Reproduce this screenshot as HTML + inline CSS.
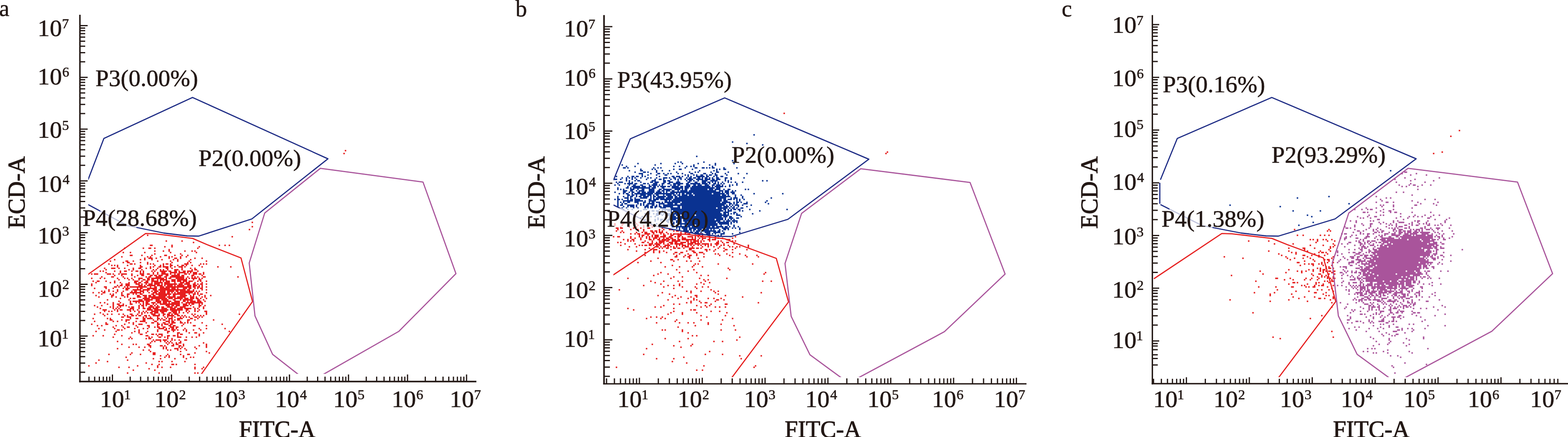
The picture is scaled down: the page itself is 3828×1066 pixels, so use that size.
<!DOCTYPE html>
<html><head><meta charset="utf-8"><style>
html,body{margin:0;padding:0;background:#fff;overflow:hidden}
svg{display:block}
text{font-family:"Liberation Serif","Times New Roman",serif;stroke:#231815;stroke-linejoin:round}
</style></head><body>
<svg width="3828" height="1066" viewBox="0 0 3828 1066">
<rect width="3828" height="1066" fill="#fff"/>
<text transform="translate(-1.96,39.30) scale(1.0000,1)" font-size="56" fill="#231815" stroke-width="0.7">a</text>
<text transform="translate(1258.40,39.50) scale(1.0000,1)" font-size="56" fill="#231815" stroke-width="0.7">b</text>
<text transform="translate(2591.97,39.50) scale(1.0000,1)" font-size="56" fill="#231815" stroke-width="0.7">c</text>
<rect x="193.30" y="36.00" width="3.60" height="896.60" fill="#231815"/>
<rect x="193.30" y="928.80" width="969.70" height="3.80" fill="#231815"/>
<path d="M195.9 908.0H208.0M195.9 885.8H208.0M195.9 870.0H208.0M195.9 857.8H208.0M195.9 847.8H208.0M195.9 839.3H208.0M195.9 832.0H208.0M195.9 825.6H208.0M195.9 819.8H214.0M195.9 781.8H208.0M195.9 759.6H208.0M195.9 743.8H208.0M195.9 731.6H208.0M195.9 721.6H208.0M195.9 713.1H208.0M195.9 705.8H208.0M195.9 699.4H208.0M195.9 693.6H214.0M195.9 655.6H208.0M195.9 633.4H208.0M195.9 617.6H208.0M195.9 605.4H208.0M195.9 595.4H208.0M195.9 586.9H208.0M195.9 579.6H208.0M195.9 573.2H208.0M195.9 567.4H214.0M195.9 529.4H208.0M195.9 507.2H208.0M195.9 491.4H208.0M195.9 479.2H208.0M195.9 469.2H208.0M195.9 460.7H208.0M195.9 453.4H208.0M195.9 447.0H208.0M195.9 441.2H214.0M195.9 403.2H208.0M195.9 381.0H208.0M195.9 365.2H208.0M195.9 353.0H208.0M195.9 343.0H208.0M195.9 334.5H208.0M195.9 327.2H208.0M195.9 320.8H208.0M195.9 315.0H214.0M195.9 277.0H208.0M195.9 254.8H208.0M195.9 239.0H208.0M195.9 226.8H208.0M195.9 216.8H208.0M195.9 208.3H208.0M195.9 201.0H208.0M195.9 194.6H208.0M195.9 188.8H214.0M195.9 150.8H208.0M195.9 128.6H208.0M195.9 112.8H208.0M195.9 100.6H208.0M195.9 90.6H208.0M195.9 82.1H208.0M195.9 74.8H208.0M195.9 68.4H208.0M195.9 62.6H214.0" stroke="#231815" stroke-width="3" fill="none"/>
<path d="M217.2 929.8V918.8M231.1 929.8V918.8M242.5 929.8V918.8M252.2 929.8V918.8M260.5 929.8V918.8M267.9 929.8V918.8M274.5 929.8V913.4M317.9 929.8V918.8M343.2 929.8V918.8M361.2 929.8V918.8M375.2 929.8V918.8M386.6 929.8V918.8M396.3 929.8V918.8M404.6 929.8V918.8M412.0 929.8V918.8M418.6 929.8V913.4M462.0 929.8V918.8M487.3 929.8V918.8M505.3 929.8V918.8M519.3 929.8V918.8M530.7 929.8V918.8M540.3 929.8V918.8M548.7 929.8V918.8M556.1 929.8V918.8M562.7 929.8V913.4M606.0 929.8V918.8M631.4 929.8V918.8M649.4 929.8V918.8M663.4 929.8V918.8M674.8 929.8V918.8M684.4 929.8V918.8M692.8 929.8V918.8M700.1 929.8V918.8M706.7 929.8V913.4M750.1 929.8V918.8M775.5 929.8V918.8M793.5 929.8V918.8M807.4 929.8V918.8M818.9 929.8V918.8M828.5 929.8V918.8M836.9 929.8V918.8M844.2 929.8V918.8M850.8 929.8V913.4M894.2 929.8V918.8M919.6 929.8V918.8M937.6 929.8V918.8M951.5 929.8V918.8M962.9 929.8V918.8M972.6 929.8V918.8M980.9 929.8V918.8M988.3 929.8V918.8M994.9 929.8V913.4M1038.3 929.8V918.8M1063.6 929.8V918.8M1081.6 929.8V918.8M1095.6 929.8V918.8M1107.0 929.8V918.8M1116.7 929.8V918.8M1125.0 929.8V918.8M1132.4 929.8V918.8M1139.0 929.8V913.4" stroke="#231815" stroke-width="3" fill="none"/>
<rect x="1472.60" y="36.80" width="4.00" height="901.10" fill="#231815"/>
<rect x="1472.60" y="934.70" width="1033.40" height="3.20" fill="#231815"/>
<path d="M1475.6 917.9H1489.0M1475.6 895.5H1489.0M1475.6 879.6H1489.0M1475.6 867.2H1489.0M1475.6 857.1H1489.0M1475.6 848.6H1489.0M1475.6 841.2H1489.0M1475.6 834.7H1489.0M1475.6 828.9H1495.0M1475.6 790.6H1489.0M1475.6 768.2H1489.0M1475.6 752.3H1489.0M1475.6 739.9H1489.0M1475.6 729.8H1489.0M1475.6 721.3H1489.0M1475.6 713.9H1489.0M1475.6 707.4H1489.0M1475.6 701.6H1495.0M1475.6 663.3H1489.0M1475.6 640.9H1489.0M1475.6 625.0H1489.0M1475.6 612.6H1489.0M1475.6 602.5H1489.0M1475.6 594.0H1489.0M1475.6 586.6H1489.0M1475.6 580.1H1489.0M1475.6 574.3H1495.0M1475.6 536.0H1489.0M1475.6 513.6H1489.0M1475.6 497.7H1489.0M1475.6 485.3H1489.0M1475.6 475.2H1489.0M1475.6 466.7H1489.0M1475.6 459.3H1489.0M1475.6 452.8H1489.0M1475.6 447.0H1495.0M1475.6 408.7H1489.0M1475.6 386.3H1489.0M1475.6 370.4H1489.0M1475.6 358.0H1489.0M1475.6 347.9H1489.0M1475.6 339.4H1489.0M1475.6 332.0H1489.0M1475.6 325.5H1489.0M1475.6 319.7H1495.0M1475.6 281.4H1489.0M1475.6 259.0H1489.0M1475.6 243.1H1489.0M1475.6 230.7H1489.0M1475.6 220.6H1489.0M1475.6 212.1H1489.0M1475.6 204.7H1489.0M1475.6 198.2H1489.0M1475.6 192.4H1495.0M1475.6 154.1H1489.0M1475.6 131.7H1489.0M1475.6 115.8H1489.0M1475.6 103.4H1489.0M1475.6 93.3H1489.0M1475.6 84.8H1489.0M1475.6 77.4H1489.0M1475.6 70.9H1489.0M1475.6 65.1H1495.0" stroke="#231815" stroke-width="3" fill="none"/>
<path d="M1480.8 935.7V923.0M1500.0 935.7V923.0M1514.8 935.7V923.0M1527.0 935.7V923.0M1537.2 935.7V923.0M1546.1 935.7V923.0M1554.0 935.7V923.0M1561.0 935.7V921.5M1607.2 935.7V923.0M1634.2 935.7V923.0M1653.4 935.7V923.0M1668.2 935.7V923.0M1680.4 935.7V923.0M1690.6 935.7V923.0M1699.5 935.7V923.0M1707.4 935.7V923.0M1714.4 935.7V921.5M1760.6 935.7V923.0M1787.6 935.7V923.0M1806.8 935.7V923.0M1821.6 935.7V923.0M1833.8 935.7V923.0M1844.0 935.7V923.0M1852.9 935.7V923.0M1860.8 935.7V923.0M1867.8 935.7V921.5M1914.0 935.7V923.0M1941.0 935.7V923.0M1960.2 935.7V923.0M1975.0 935.7V923.0M1987.2 935.7V923.0M1997.4 935.7V923.0M2006.3 935.7V923.0M2014.2 935.7V923.0M2021.2 935.7V921.5M2067.4 935.7V923.0M2094.4 935.7V923.0M2113.6 935.7V923.0M2128.4 935.7V923.0M2140.6 935.7V923.0M2150.8 935.7V923.0M2159.7 935.7V923.0M2167.6 935.7V923.0M2174.6 935.7V921.5M2220.8 935.7V923.0M2247.8 935.7V923.0M2267.0 935.7V923.0M2281.8 935.7V923.0M2294.0 935.7V923.0M2304.2 935.7V923.0M2313.1 935.7V923.0M2321.0 935.7V923.0M2328.0 935.7V921.5M2374.2 935.7V923.0M2401.2 935.7V923.0M2420.4 935.7V923.0M2435.2 935.7V923.0M2447.4 935.7V923.0M2457.6 935.7V923.0M2466.5 935.7V923.0M2474.4 935.7V923.0M2481.4 935.7V921.5" stroke="#231815" stroke-width="3" fill="none"/>
<rect x="2811.60" y="36.80" width="3.40" height="900.80" fill="#231815"/>
<rect x="2811.60" y="934.20" width="1016.40" height="3.40" fill="#231815"/>
<path d="M2814.0 890.2H2826.5M2814.0 874.6H2826.5M2814.0 865.4H2826.5M2814.0 853.1H2826.5M2814.0 843.9H2826.5M2814.0 838.1H2826.5M2814.0 831.7H2830.0M2814.0 793.0H2826.5M2814.0 770.3H2826.5M2814.0 754.3H2826.5M2814.0 741.8H2826.5M2814.0 731.6H2826.5M2814.0 723.0H2826.5M2814.0 715.6H2826.5M2814.0 709.0H2826.5M2814.0 703.1H2830.0M2814.0 664.4H2826.5M2814.0 641.7H2826.5M2814.0 625.7H2826.5M2814.0 613.2H2826.5M2814.0 603.0H2826.5M2814.0 594.4H2826.5M2814.0 587.0H2826.5M2814.0 580.4H2826.5M2814.0 574.5H2830.0M2814.0 535.8H2826.5M2814.0 513.1H2826.5M2814.0 497.1H2826.5M2814.0 484.6H2826.5M2814.0 474.4H2826.5M2814.0 465.8H2826.5M2814.0 458.4H2826.5M2814.0 451.8H2826.5M2814.0 445.9H2830.0M2814.0 407.2H2826.5M2814.0 384.5H2826.5M2814.0 368.5H2826.5M2814.0 356.0H2826.5M2814.0 345.8H2826.5M2814.0 337.2H2826.5M2814.0 329.8H2826.5M2814.0 323.2H2826.5M2814.0 317.3H2830.0M2814.0 278.6H2826.5M2814.0 255.9H2826.5M2814.0 239.9H2826.5M2814.0 227.4H2826.5M2814.0 217.2H2826.5M2814.0 208.6H2826.5M2814.0 201.2H2826.5M2814.0 194.6H2826.5M2814.0 188.7H2830.0M2814.0 150.0H2826.5M2814.0 127.3H2826.5M2814.0 111.3H2826.5M2814.0 98.8H2826.5M2814.0 88.6H2826.5M2814.0 80.0H2826.5M2814.0 72.6H2826.5M2814.0 66.0H2826.5M2814.0 60.1H2830.0" stroke="#231815" stroke-width="3" fill="none"/>
<path d="M2816.1 935.2V924.0M2835.3 935.2V924.0M2850.2 935.2V924.0M2862.3 935.2V924.0M2872.6 935.2V924.0M2881.5 935.2V924.0M2889.4 935.2V924.0M2896.4 935.2V920.3M2942.6 935.2V924.0M2969.7 935.2V924.0M2988.9 935.2V924.0M3003.8 935.2V924.0M3015.9 935.2V924.0M3026.2 935.2V924.0M3035.1 935.2V924.0M3043.0 935.2V924.0M3050.0 935.2V920.3M3096.2 935.2V924.0M3123.3 935.2V924.0M3142.5 935.2V924.0M3157.4 935.2V924.0M3169.5 935.2V924.0M3179.8 935.2V924.0M3188.7 935.2V924.0M3196.6 935.2V924.0M3203.6 935.2V920.3M3249.8 935.2V924.0M3276.9 935.2V924.0M3296.1 935.2V924.0M3311.0 935.2V924.0M3323.1 935.2V924.0M3333.4 935.2V924.0M3342.3 935.2V924.0M3350.2 935.2V924.0M3357.2 935.2V920.3M3403.4 935.2V924.0M3430.5 935.2V924.0M3449.7 935.2V924.0M3464.6 935.2V924.0M3476.7 935.2V924.0M3487.0 935.2V924.0M3495.9 935.2V924.0M3503.8 935.2V924.0M3510.8 935.2V920.3M3557.0 935.2V924.0M3584.1 935.2V924.0M3603.3 935.2V924.0M3618.2 935.2V924.0M3630.3 935.2V924.0M3640.6 935.2V924.0M3649.5 935.2V924.0M3657.4 935.2V924.0M3664.4 935.2V920.3M3710.6 935.2V924.0M3737.7 935.2V924.0M3756.9 935.2V924.0M3771.8 935.2V924.0M3783.9 935.2V924.0M3794.2 935.2V924.0M3803.1 935.2V924.0" stroke="#231815" stroke-width="3" fill="none"/>
<path d="M215.2 890.7h3.6v3.6h-3.6zM222.2 666.7h3.6v3.6h-3.6zM222.2 677.2h3.6v3.6h-3.6zM222.2 691.2h3.6v3.6h-3.6zM222.2 694.7h3.6v3.6h-3.6zM222.2 789.2h3.6v3.6h-3.6zM225.7 684.2h3.6v3.6h-3.6zM225.7 712.2h3.6v3.6h-3.6zM225.7 775.2h3.6v3.6h-3.6zM225.7 817.2h3.6v3.6h-3.6zM229.2 666.7h3.6v3.6h-3.6zM229.2 701.7h3.6v3.6h-3.6zM229.2 743.7h3.6v3.6h-3.6zM229.2 764.7h3.6v3.6h-3.6zM229.2 782.2h3.6v3.6h-3.6zM232.7 666.7h3.6v3.6h-3.6zM232.7 687.7h3.6v3.6h-3.6zM232.7 719.2h3.6v3.6h-3.6zM232.7 806.7h3.6v3.6h-3.6zM232.7 883.7h3.6v3.6h-3.6zM236.2 666.7h3.6v3.6h-3.6zM236.2 684.2h3.6v3.6h-3.6zM236.2 747.2h3.6v3.6h-3.6zM236.2 792.7h3.6v3.6h-3.6zM239.7 684.2h3.6v3.6h-3.6zM239.7 712.2h3.6v3.6h-3.6zM239.7 722.7h3.6v3.6h-3.6zM239.7 799.7h3.6v3.6h-3.6zM239.7 876.7h3.6v3.6h-3.6zM243.2 659.7h3.6v3.6h-3.6zM243.2 677.2h3.6v3.6h-3.6zM243.2 736.7h3.6v3.6h-3.6zM243.2 750.7h3.6v3.6h-3.6zM243.2 761.2h3.6v3.6h-3.6zM246.7 673.7h3.6v3.6h-3.6zM246.7 708.7h3.6v3.6h-3.6zM246.7 715.7h3.6v3.6h-3.6zM246.7 743.7h3.6v3.6h-3.6zM246.7 792.7h3.6v3.6h-3.6zM250.2 659.7h3.6v3.6h-3.6zM250.2 712.2h3.6v3.6h-3.6zM250.2 754.2h3.6v3.6h-3.6zM250.2 764.7h3.6v3.6h-3.6zM250.2 817.2h3.6v3.6h-3.6zM253.7 652.7h3.6v3.6h-3.6zM253.7 677.2h3.6v3.6h-3.6zM253.7 698.2h3.6v3.6h-3.6zM253.7 708.7h3.6v3.6h-3.6zM253.7 712.2h3.6v3.6h-3.6zM253.7 736.7h3.6v3.6h-3.6zM253.7 754.2h3.6v3.6h-3.6zM253.7 757.7h3.6v3.6h-3.6zM253.7 768.2h3.6v3.6h-3.6zM253.7 803.2h3.6v3.6h-3.6zM257.2 656.2h3.6v3.6h-3.6zM257.2 663.2h3.6v3.6h-3.6zM257.2 684.2h3.6v3.6h-3.6zM257.2 698.2h3.6v3.6h-3.6zM257.2 701.7h3.6v3.6h-3.6zM257.2 754.2h3.6v3.6h-3.6zM257.2 785.7h3.6v3.6h-3.6zM257.2 789.2h3.6v3.6h-3.6zM260.7 666.7h3.6v3.6h-3.6zM260.7 729.7h3.6v3.6h-3.6zM260.7 740.2h3.6v3.6h-3.6zM260.7 764.7h3.6v3.6h-3.6zM260.7 775.2h3.6v3.6h-3.6zM260.7 789.2h3.6v3.6h-3.6zM260.7 880.2h3.6v3.6h-3.6zM264.2 642.2h3.6v3.6h-3.6zM264.2 666.7h3.6v3.6h-3.6zM264.2 705.2h3.6v3.6h-3.6zM264.2 708.7h3.6v3.6h-3.6zM264.2 757.7h3.6v3.6h-3.6zM264.2 862.7h3.6v3.6h-3.6zM267.7 635.2h3.6v3.6h-3.6zM267.7 666.7h3.6v3.6h-3.6zM267.7 687.7h3.6v3.6h-3.6zM267.7 715.7h3.6v3.6h-3.6zM267.7 747.2h3.6v3.6h-3.6zM267.7 775.2h3.6v3.6h-3.6zM267.7 778.7h3.6v3.6h-3.6zM271.2 645.7h3.6v3.6h-3.6zM271.2 652.7h3.6v3.6h-3.6zM271.2 673.7h3.6v3.6h-3.6zM271.2 719.2h3.6v3.6h-3.6zM271.2 722.7h3.6v3.6h-3.6zM271.2 757.7h3.6v3.6h-3.6zM271.2 764.7h3.6v3.6h-3.6zM271.2 778.7h3.6v3.6h-3.6zM274.7 652.7h3.6v3.6h-3.6zM274.7 666.7h3.6v3.6h-3.6zM274.7 673.7h3.6v3.6h-3.6zM274.7 701.7h3.6v3.6h-3.6zM274.7 708.7h3.6v3.6h-3.6zM274.7 715.7h3.6v3.6h-3.6zM274.7 719.2h3.6v3.6h-3.6zM274.7 736.7h3.6v3.6h-3.6zM274.7 740.2h3.6v3.6h-3.6zM274.7 743.7h3.6v3.6h-3.6zM274.7 747.2h3.6v3.6h-3.6zM274.7 750.7h3.6v3.6h-3.6zM274.7 782.2h3.6v3.6h-3.6zM274.7 796.2h3.6v3.6h-3.6zM274.7 820.7h3.6v3.6h-3.6zM278.2 631.7h3.6v3.6h-3.6zM278.2 645.7h3.6v3.6h-3.6zM278.2 652.7h3.6v3.6h-3.6zM278.2 659.7h3.6v3.6h-3.6zM278.2 670.2h3.6v3.6h-3.6zM278.2 684.2h3.6v3.6h-3.6zM278.2 687.7h3.6v3.6h-3.6zM278.2 698.2h3.6v3.6h-3.6zM278.2 754.2h3.6v3.6h-3.6zM278.2 799.7h3.6v3.6h-3.6zM278.2 813.7h3.6v3.6h-3.6zM281.7 698.2h3.6v3.6h-3.6zM281.7 712.2h3.6v3.6h-3.6zM281.7 722.7h3.6v3.6h-3.6zM281.7 750.7h3.6v3.6h-3.6zM281.7 792.7h3.6v3.6h-3.6zM281.7 806.7h3.6v3.6h-3.6zM285.2 645.7h3.6v3.6h-3.6zM285.2 649.2h3.6v3.6h-3.6zM285.2 677.2h3.6v3.6h-3.6zM285.2 694.7h3.6v3.6h-3.6zM285.2 705.2h3.6v3.6h-3.6zM285.2 708.7h3.6v3.6h-3.6zM285.2 740.2h3.6v3.6h-3.6zM285.2 747.2h3.6v3.6h-3.6zM285.2 754.2h3.6v3.6h-3.6zM285.2 757.7h3.6v3.6h-3.6zM285.2 782.2h3.6v3.6h-3.6zM285.2 803.2h3.6v3.6h-3.6zM285.2 831.2h3.6v3.6h-3.6zM285.2 848.7h3.6v3.6h-3.6zM288.7 652.7h3.6v3.6h-3.6zM288.7 666.7h3.6v3.6h-3.6zM288.7 680.7h3.6v3.6h-3.6zM288.7 698.2h3.6v3.6h-3.6zM288.7 733.2h3.6v3.6h-3.6zM288.7 740.2h3.6v3.6h-3.6zM288.7 743.7h3.6v3.6h-3.6zM288.7 750.7h3.6v3.6h-3.6zM288.7 764.7h3.6v3.6h-3.6zM288.7 803.2h3.6v3.6h-3.6zM288.7 894.2h3.6v3.6h-3.6zM292.2 659.7h3.6v3.6h-3.6zM292.2 663.2h3.6v3.6h-3.6zM292.2 687.7h3.6v3.6h-3.6zM292.2 694.7h3.6v3.6h-3.6zM292.2 726.2h3.6v3.6h-3.6zM292.2 736.7h3.6v3.6h-3.6zM292.2 743.7h3.6v3.6h-3.6zM292.2 747.2h3.6v3.6h-3.6zM292.2 754.2h3.6v3.6h-3.6zM295.7 624.7h3.6v3.6h-3.6zM295.7 666.7h3.6v3.6h-3.6zM295.7 670.2h3.6v3.6h-3.6zM295.7 691.2h3.6v3.6h-3.6zM295.7 694.7h3.6v3.6h-3.6zM295.7 712.2h3.6v3.6h-3.6zM295.7 715.7h3.6v3.6h-3.6zM295.7 719.2h3.6v3.6h-3.6zM295.7 743.7h3.6v3.6h-3.6zM295.7 754.2h3.6v3.6h-3.6zM295.7 771.7h3.6v3.6h-3.6zM295.7 778.7h3.6v3.6h-3.6zM295.7 792.7h3.6v3.6h-3.6zM295.7 803.2h3.6v3.6h-3.6zM295.7 817.2h3.6v3.6h-3.6zM295.7 838.2h3.6v3.6h-3.6zM299.2 614.2h3.6v3.6h-3.6zM299.2 638.7h3.6v3.6h-3.6zM299.2 666.7h3.6v3.6h-3.6zM299.2 673.7h3.6v3.6h-3.6zM299.2 701.7h3.6v3.6h-3.6zM299.2 708.7h3.6v3.6h-3.6zM299.2 719.2h3.6v3.6h-3.6zM299.2 740.2h3.6v3.6h-3.6zM299.2 743.7h3.6v3.6h-3.6zM299.2 764.7h3.6v3.6h-3.6zM299.2 771.7h3.6v3.6h-3.6zM299.2 796.2h3.6v3.6h-3.6zM302.7 603.7h3.6v3.6h-3.6zM302.7 652.7h3.6v3.6h-3.6zM302.7 659.7h3.6v3.6h-3.6zM302.7 666.7h3.6v3.6h-3.6zM302.7 677.2h3.6v3.6h-3.6zM302.7 698.2h3.6v3.6h-3.6zM302.7 722.7h3.6v3.6h-3.6zM302.7 768.2h3.6v3.6h-3.6zM302.7 789.2h3.6v3.6h-3.6zM302.7 799.7h3.6v3.6h-3.6zM306.2 635.2h3.6v3.6h-3.6zM306.2 659.7h3.6v3.6h-3.6zM306.2 666.7h3.6v3.6h-3.6zM306.2 691.2h3.6v3.6h-3.6zM306.2 694.7h3.6v3.6h-3.6zM306.2 701.7h3.6v3.6h-3.6zM306.2 705.2h3.6v3.6h-3.6zM306.2 743.7h3.6v3.6h-3.6zM306.2 778.7h3.6v3.6h-3.6zM306.2 782.2h3.6v3.6h-3.6zM306.2 869.7h3.6v3.6h-3.6zM309.7 635.2h3.6v3.6h-3.6zM309.7 638.7h3.6v3.6h-3.6zM309.7 645.7h3.6v3.6h-3.6zM309.7 677.2h3.6v3.6h-3.6zM309.7 691.2h3.6v3.6h-3.6zM309.7 694.7h3.6v3.6h-3.6zM309.7 698.2h3.6v3.6h-3.6zM309.7 701.7h3.6v3.6h-3.6zM309.7 705.2h3.6v3.6h-3.6zM309.7 715.7h3.6v3.6h-3.6zM309.7 719.2h3.6v3.6h-3.6zM309.7 722.7h3.6v3.6h-3.6zM309.7 754.2h3.6v3.6h-3.6zM309.7 768.2h3.6v3.6h-3.6zM309.7 771.7h3.6v3.6h-3.6zM309.7 778.7h3.6v3.6h-3.6zM309.7 796.2h3.6v3.6h-3.6zM309.7 876.7h3.6v3.6h-3.6zM309.7 908.2h3.6v3.6h-3.6zM313.2 638.7h3.6v3.6h-3.6zM313.2 656.2h3.6v3.6h-3.6zM313.2 680.7h3.6v3.6h-3.6zM313.2 687.7h3.6v3.6h-3.6zM313.2 691.2h3.6v3.6h-3.6zM313.2 694.7h3.6v3.6h-3.6zM313.2 701.7h3.6v3.6h-3.6zM313.2 715.7h3.6v3.6h-3.6zM313.2 729.7h3.6v3.6h-3.6zM313.2 747.2h3.6v3.6h-3.6zM313.2 754.2h3.6v3.6h-3.6zM313.2 771.7h3.6v3.6h-3.6zM313.2 778.7h3.6v3.6h-3.6zM313.2 785.7h3.6v3.6h-3.6zM313.2 796.2h3.6v3.6h-3.6zM313.2 824.2h3.6v3.6h-3.6zM313.2 845.2h3.6v3.6h-3.6zM313.2 894.2h3.6v3.6h-3.6zM316.7 614.2h3.6v3.6h-3.6zM316.7 621.2h3.6v3.6h-3.6zM316.7 642.2h3.6v3.6h-3.6zM316.7 698.2h3.6v3.6h-3.6zM316.7 712.2h3.6v3.6h-3.6zM316.7 726.2h3.6v3.6h-3.6zM316.7 733.2h3.6v3.6h-3.6zM316.7 736.7h3.6v3.6h-3.6zM316.7 740.2h3.6v3.6h-3.6zM316.7 750.7h3.6v3.6h-3.6zM316.7 754.2h3.6v3.6h-3.6zM316.7 757.7h3.6v3.6h-3.6zM316.7 764.7h3.6v3.6h-3.6zM316.7 771.7h3.6v3.6h-3.6zM316.7 775.2h3.6v3.6h-3.6zM316.7 820.7h3.6v3.6h-3.6zM316.7 862.7h3.6v3.6h-3.6zM320.2 621.2h3.6v3.6h-3.6zM320.2 642.2h3.6v3.6h-3.6zM320.2 659.7h3.6v3.6h-3.6zM320.2 666.7h3.6v3.6h-3.6zM320.2 670.2h3.6v3.6h-3.6zM320.2 677.2h3.6v3.6h-3.6zM320.2 698.2h3.6v3.6h-3.6zM320.2 708.7h3.6v3.6h-3.6zM320.2 712.2h3.6v3.6h-3.6zM320.2 740.2h3.6v3.6h-3.6zM320.2 747.2h3.6v3.6h-3.6zM320.2 750.7h3.6v3.6h-3.6zM320.2 764.7h3.6v3.6h-3.6zM320.2 768.2h3.6v3.6h-3.6zM320.2 810.2h3.6v3.6h-3.6zM320.2 824.2h3.6v3.6h-3.6zM320.2 859.2h3.6v3.6h-3.6zM323.7 635.2h3.6v3.6h-3.6zM323.7 652.7h3.6v3.6h-3.6zM323.7 656.2h3.6v3.6h-3.6zM323.7 680.7h3.6v3.6h-3.6zM323.7 698.2h3.6v3.6h-3.6zM323.7 705.2h3.6v3.6h-3.6zM323.7 712.2h3.6v3.6h-3.6zM323.7 715.7h3.6v3.6h-3.6zM323.7 726.2h3.6v3.6h-3.6zM323.7 733.2h3.6v3.6h-3.6zM323.7 747.2h3.6v3.6h-3.6zM323.7 750.7h3.6v3.6h-3.6zM323.7 754.2h3.6v3.6h-3.6zM323.7 768.2h3.6v3.6h-3.6zM323.7 785.7h3.6v3.6h-3.6zM323.7 789.2h3.6v3.6h-3.6zM323.7 838.2h3.6v3.6h-3.6zM323.7 901.2h3.6v3.6h-3.6zM327.2 642.2h3.6v3.6h-3.6zM327.2 673.7h3.6v3.6h-3.6zM327.2 684.2h3.6v3.6h-3.6zM327.2 687.7h3.6v3.6h-3.6zM327.2 698.2h3.6v3.6h-3.6zM327.2 705.2h3.6v3.6h-3.6zM327.2 708.7h3.6v3.6h-3.6zM327.2 712.2h3.6v3.6h-3.6zM327.2 726.2h3.6v3.6h-3.6zM327.2 733.2h3.6v3.6h-3.6zM327.2 757.7h3.6v3.6h-3.6zM327.2 799.7h3.6v3.6h-3.6zM327.2 806.7h3.6v3.6h-3.6zM330.7 659.7h3.6v3.6h-3.6zM330.7 684.2h3.6v3.6h-3.6zM330.7 687.7h3.6v3.6h-3.6zM330.7 691.2h3.6v3.6h-3.6zM330.7 698.2h3.6v3.6h-3.6zM330.7 705.2h3.6v3.6h-3.6zM330.7 708.7h3.6v3.6h-3.6zM330.7 712.2h3.6v3.6h-3.6zM330.7 715.7h3.6v3.6h-3.6zM330.7 733.2h3.6v3.6h-3.6zM330.7 736.7h3.6v3.6h-3.6zM330.7 768.2h3.6v3.6h-3.6zM330.7 775.2h3.6v3.6h-3.6zM330.7 782.2h3.6v3.6h-3.6zM330.7 792.7h3.6v3.6h-3.6zM330.7 838.2h3.6v3.6h-3.6zM334.2 659.7h3.6v3.6h-3.6zM334.2 670.2h3.6v3.6h-3.6zM334.2 684.2h3.6v3.6h-3.6zM334.2 691.2h3.6v3.6h-3.6zM334.2 698.2h3.6v3.6h-3.6zM334.2 701.7h3.6v3.6h-3.6zM334.2 705.2h3.6v3.6h-3.6zM334.2 712.2h3.6v3.6h-3.6zM334.2 719.2h3.6v3.6h-3.6zM334.2 722.7h3.6v3.6h-3.6zM334.2 733.2h3.6v3.6h-3.6zM334.2 754.2h3.6v3.6h-3.6zM334.2 764.7h3.6v3.6h-3.6zM334.2 775.2h3.6v3.6h-3.6zM334.2 796.2h3.6v3.6h-3.6zM334.2 890.7h3.6v3.6h-3.6zM337.7 652.7h3.6v3.6h-3.6zM337.7 677.2h3.6v3.6h-3.6zM337.7 680.7h3.6v3.6h-3.6zM337.7 687.7h3.6v3.6h-3.6zM337.7 691.2h3.6v3.6h-3.6zM337.7 694.7h3.6v3.6h-3.6zM337.7 698.2h3.6v3.6h-3.6zM337.7 705.2h3.6v3.6h-3.6zM337.7 712.2h3.6v3.6h-3.6zM337.7 719.2h3.6v3.6h-3.6zM337.7 722.7h3.6v3.6h-3.6zM337.7 729.7h3.6v3.6h-3.6zM337.7 733.2h3.6v3.6h-3.6zM337.7 736.7h3.6v3.6h-3.6zM337.7 743.7h3.6v3.6h-3.6zM337.7 747.2h3.6v3.6h-3.6zM337.7 750.7h3.6v3.6h-3.6zM337.7 757.7h3.6v3.6h-3.6zM337.7 761.2h3.6v3.6h-3.6zM337.7 768.2h3.6v3.6h-3.6zM337.7 789.2h3.6v3.6h-3.6zM337.7 803.2h3.6v3.6h-3.6zM337.7 806.7h3.6v3.6h-3.6zM337.7 810.2h3.6v3.6h-3.6zM337.7 845.2h3.6v3.6h-3.6zM341.2 631.7h3.6v3.6h-3.6zM341.2 638.7h3.6v3.6h-3.6zM341.2 645.7h3.6v3.6h-3.6zM341.2 649.2h3.6v3.6h-3.6zM341.2 652.7h3.6v3.6h-3.6zM341.2 659.7h3.6v3.6h-3.6zM341.2 663.2h3.6v3.6h-3.6zM341.2 666.7h3.6v3.6h-3.6zM341.2 677.2h3.6v3.6h-3.6zM341.2 687.7h3.6v3.6h-3.6zM341.2 694.7h3.6v3.6h-3.6zM341.2 698.2h3.6v3.6h-3.6zM341.2 701.7h3.6v3.6h-3.6zM341.2 705.2h3.6v3.6h-3.6zM341.2 708.7h3.6v3.6h-3.6zM341.2 712.2h3.6v3.6h-3.6zM341.2 715.7h3.6v3.6h-3.6zM341.2 722.7h3.6v3.6h-3.6zM341.2 729.7h3.6v3.6h-3.6zM341.2 733.2h3.6v3.6h-3.6zM341.2 740.2h3.6v3.6h-3.6zM341.2 768.2h3.6v3.6h-3.6zM341.2 782.2h3.6v3.6h-3.6zM341.2 789.2h3.6v3.6h-3.6zM341.2 813.7h3.6v3.6h-3.6zM341.2 862.7h3.6v3.6h-3.6zM344.7 621.2h3.6v3.6h-3.6zM344.7 649.2h3.6v3.6h-3.6zM344.7 656.2h3.6v3.6h-3.6zM344.7 666.7h3.6v3.6h-3.6zM344.7 670.2h3.6v3.6h-3.6zM344.7 677.2h3.6v3.6h-3.6zM344.7 684.2h3.6v3.6h-3.6zM344.7 691.2h3.6v3.6h-3.6zM344.7 694.7h3.6v3.6h-3.6zM344.7 698.2h3.6v3.6h-3.6zM344.7 701.7h3.6v3.6h-3.6zM344.7 708.7h3.6v3.6h-3.6zM344.7 715.7h3.6v3.6h-3.6zM344.7 729.7h3.6v3.6h-3.6zM344.7 733.2h3.6v3.6h-3.6zM344.7 743.7h3.6v3.6h-3.6zM344.7 761.2h3.6v3.6h-3.6zM344.7 764.7h3.6v3.6h-3.6zM344.7 782.2h3.6v3.6h-3.6zM344.7 789.2h3.6v3.6h-3.6zM344.7 813.7h3.6v3.6h-3.6zM348.2 603.7h3.6v3.6h-3.6zM348.2 659.7h3.6v3.6h-3.6zM348.2 663.2h3.6v3.6h-3.6zM348.2 666.7h3.6v3.6h-3.6zM348.2 670.2h3.6v3.6h-3.6zM348.2 680.7h3.6v3.6h-3.6zM348.2 698.2h3.6v3.6h-3.6zM348.2 705.2h3.6v3.6h-3.6zM348.2 708.7h3.6v3.6h-3.6zM348.2 712.2h3.6v3.6h-3.6zM348.2 719.2h3.6v3.6h-3.6zM348.2 726.2h3.6v3.6h-3.6zM348.2 733.2h3.6v3.6h-3.6zM348.2 736.7h3.6v3.6h-3.6zM348.2 740.2h3.6v3.6h-3.6zM348.2 743.7h3.6v3.6h-3.6zM348.2 747.2h3.6v3.6h-3.6zM348.2 750.7h3.6v3.6h-3.6zM348.2 757.7h3.6v3.6h-3.6zM348.2 771.7h3.6v3.6h-3.6zM348.2 775.2h3.6v3.6h-3.6zM348.2 778.7h3.6v3.6h-3.6zM348.2 782.2h3.6v3.6h-3.6zM348.2 799.7h3.6v3.6h-3.6zM348.2 852.2h3.6v3.6h-3.6zM351.7 614.2h3.6v3.6h-3.6zM351.7 628.2h3.6v3.6h-3.6zM351.7 631.7h3.6v3.6h-3.6zM351.7 680.7h3.6v3.6h-3.6zM351.7 687.7h3.6v3.6h-3.6zM351.7 694.7h3.6v3.6h-3.6zM351.7 698.2h3.6v3.6h-3.6zM351.7 705.2h3.6v3.6h-3.6zM351.7 719.2h3.6v3.6h-3.6zM351.7 722.7h3.6v3.6h-3.6zM351.7 726.2h3.6v3.6h-3.6zM351.7 729.7h3.6v3.6h-3.6zM351.7 750.7h3.6v3.6h-3.6zM351.7 761.2h3.6v3.6h-3.6zM351.7 768.2h3.6v3.6h-3.6zM351.7 775.2h3.6v3.6h-3.6zM351.7 778.7h3.6v3.6h-3.6zM351.7 782.2h3.6v3.6h-3.6zM351.7 845.2h3.6v3.6h-3.6zM355.2 652.7h3.6v3.6h-3.6zM355.2 673.7h3.6v3.6h-3.6zM355.2 684.2h3.6v3.6h-3.6zM355.2 687.7h3.6v3.6h-3.6zM355.2 691.2h3.6v3.6h-3.6zM355.2 698.2h3.6v3.6h-3.6zM355.2 705.2h3.6v3.6h-3.6zM355.2 719.2h3.6v3.6h-3.6zM355.2 722.7h3.6v3.6h-3.6zM355.2 726.2h3.6v3.6h-3.6zM355.2 729.7h3.6v3.6h-3.6zM355.2 733.2h3.6v3.6h-3.6zM355.2 736.7h3.6v3.6h-3.6zM355.2 740.2h3.6v3.6h-3.6zM355.2 743.7h3.6v3.6h-3.6zM355.2 757.7h3.6v3.6h-3.6zM355.2 768.2h3.6v3.6h-3.6zM355.2 771.7h3.6v3.6h-3.6zM355.2 785.7h3.6v3.6h-3.6zM355.2 810.2h3.6v3.6h-3.6zM355.2 817.2h3.6v3.6h-3.6zM355.2 824.2h3.6v3.6h-3.6zM355.2 883.7h3.6v3.6h-3.6zM358.7 572.2h3.6v3.6h-3.6zM358.7 624.7h3.6v3.6h-3.6zM358.7 638.7h3.6v3.6h-3.6zM358.7 642.2h3.6v3.6h-3.6zM358.7 666.7h3.6v3.6h-3.6zM358.7 677.2h3.6v3.6h-3.6zM358.7 680.7h3.6v3.6h-3.6zM358.7 684.2h3.6v3.6h-3.6zM358.7 687.7h3.6v3.6h-3.6zM358.7 694.7h3.6v3.6h-3.6zM358.7 701.7h3.6v3.6h-3.6zM358.7 705.2h3.6v3.6h-3.6zM358.7 708.7h3.6v3.6h-3.6zM358.7 726.2h3.6v3.6h-3.6zM358.7 729.7h3.6v3.6h-3.6zM358.7 733.2h3.6v3.6h-3.6zM358.7 736.7h3.6v3.6h-3.6zM358.7 740.2h3.6v3.6h-3.6zM358.7 750.7h3.6v3.6h-3.6zM358.7 754.2h3.6v3.6h-3.6zM358.7 761.2h3.6v3.6h-3.6zM358.7 775.2h3.6v3.6h-3.6zM358.7 792.7h3.6v3.6h-3.6zM358.7 799.7h3.6v3.6h-3.6zM358.7 806.7h3.6v3.6h-3.6zM358.7 817.2h3.6v3.6h-3.6zM358.7 838.2h3.6v3.6h-3.6zM362.2 603.7h3.6v3.6h-3.6zM362.2 628.2h3.6v3.6h-3.6zM362.2 666.7h3.6v3.6h-3.6zM362.2 673.7h3.6v3.6h-3.6zM362.2 677.2h3.6v3.6h-3.6zM362.2 680.7h3.6v3.6h-3.6zM362.2 691.2h3.6v3.6h-3.6zM362.2 694.7h3.6v3.6h-3.6zM362.2 701.7h3.6v3.6h-3.6zM362.2 705.2h3.6v3.6h-3.6zM362.2 712.2h3.6v3.6h-3.6zM362.2 719.2h3.6v3.6h-3.6zM362.2 722.7h3.6v3.6h-3.6zM362.2 726.2h3.6v3.6h-3.6zM362.2 729.7h3.6v3.6h-3.6zM362.2 733.2h3.6v3.6h-3.6zM362.2 740.2h3.6v3.6h-3.6zM362.2 747.2h3.6v3.6h-3.6zM362.2 750.7h3.6v3.6h-3.6zM362.2 754.2h3.6v3.6h-3.6zM362.2 768.2h3.6v3.6h-3.6zM362.2 775.2h3.6v3.6h-3.6zM362.2 792.7h3.6v3.6h-3.6zM362.2 796.2h3.6v3.6h-3.6zM362.2 820.7h3.6v3.6h-3.6zM362.2 824.2h3.6v3.6h-3.6zM362.2 838.2h3.6v3.6h-3.6zM362.2 841.7h3.6v3.6h-3.6zM362.2 852.2h3.6v3.6h-3.6zM362.2 897.7h3.6v3.6h-3.6zM365.7 596.7h3.6v3.6h-3.6zM365.7 603.7h3.6v3.6h-3.6zM365.7 624.7h3.6v3.6h-3.6zM365.7 628.2h3.6v3.6h-3.6zM365.7 642.2h3.6v3.6h-3.6zM365.7 649.2h3.6v3.6h-3.6zM365.7 652.7h3.6v3.6h-3.6zM365.7 670.2h3.6v3.6h-3.6zM365.7 673.7h3.6v3.6h-3.6zM365.7 691.2h3.6v3.6h-3.6zM365.7 694.7h3.6v3.6h-3.6zM365.7 698.2h3.6v3.6h-3.6zM365.7 701.7h3.6v3.6h-3.6zM365.7 719.2h3.6v3.6h-3.6zM365.7 722.7h3.6v3.6h-3.6zM365.7 729.7h3.6v3.6h-3.6zM365.7 743.7h3.6v3.6h-3.6zM365.7 747.2h3.6v3.6h-3.6zM365.7 750.7h3.6v3.6h-3.6zM365.7 754.2h3.6v3.6h-3.6zM365.7 761.2h3.6v3.6h-3.6zM365.7 771.7h3.6v3.6h-3.6zM365.7 775.2h3.6v3.6h-3.6zM365.7 824.2h3.6v3.6h-3.6zM365.7 834.7h3.6v3.6h-3.6zM365.7 841.7h3.6v3.6h-3.6zM365.7 845.2h3.6v3.6h-3.6zM365.7 855.7h3.6v3.6h-3.6zM369.2 596.7h3.6v3.6h-3.6zM369.2 621.2h3.6v3.6h-3.6zM369.2 628.2h3.6v3.6h-3.6zM369.2 631.7h3.6v3.6h-3.6zM369.2 659.7h3.6v3.6h-3.6zM369.2 670.2h3.6v3.6h-3.6zM369.2 677.2h3.6v3.6h-3.6zM369.2 680.7h3.6v3.6h-3.6zM369.2 684.2h3.6v3.6h-3.6zM369.2 687.7h3.6v3.6h-3.6zM369.2 691.2h3.6v3.6h-3.6zM369.2 694.7h3.6v3.6h-3.6zM369.2 701.7h3.6v3.6h-3.6zM369.2 708.7h3.6v3.6h-3.6zM369.2 715.7h3.6v3.6h-3.6zM369.2 722.7h3.6v3.6h-3.6zM369.2 726.2h3.6v3.6h-3.6zM369.2 729.7h3.6v3.6h-3.6zM369.2 736.7h3.6v3.6h-3.6zM369.2 743.7h3.6v3.6h-3.6zM369.2 747.2h3.6v3.6h-3.6zM369.2 754.2h3.6v3.6h-3.6zM369.2 757.7h3.6v3.6h-3.6zM369.2 761.2h3.6v3.6h-3.6zM369.2 764.7h3.6v3.6h-3.6zM369.2 775.2h3.6v3.6h-3.6zM369.2 785.7h3.6v3.6h-3.6zM369.2 813.7h3.6v3.6h-3.6zM369.2 820.7h3.6v3.6h-3.6zM369.2 831.2h3.6v3.6h-3.6zM369.2 887.2h3.6v3.6h-3.6zM372.7 642.2h3.6v3.6h-3.6zM372.7 649.2h3.6v3.6h-3.6zM372.7 656.2h3.6v3.6h-3.6zM372.7 663.2h3.6v3.6h-3.6zM372.7 666.7h3.6v3.6h-3.6zM372.7 677.2h3.6v3.6h-3.6zM372.7 680.7h3.6v3.6h-3.6zM372.7 684.2h3.6v3.6h-3.6zM372.7 694.7h3.6v3.6h-3.6zM372.7 701.7h3.6v3.6h-3.6zM372.7 705.2h3.6v3.6h-3.6zM372.7 712.2h3.6v3.6h-3.6zM372.7 715.7h3.6v3.6h-3.6zM372.7 719.2h3.6v3.6h-3.6zM372.7 722.7h3.6v3.6h-3.6zM372.7 726.2h3.6v3.6h-3.6zM372.7 736.7h3.6v3.6h-3.6zM372.7 740.2h3.6v3.6h-3.6zM372.7 747.2h3.6v3.6h-3.6zM372.7 750.7h3.6v3.6h-3.6zM372.7 757.7h3.6v3.6h-3.6zM372.7 764.7h3.6v3.6h-3.6zM372.7 768.2h3.6v3.6h-3.6zM372.7 778.7h3.6v3.6h-3.6zM372.7 785.7h3.6v3.6h-3.6zM372.7 813.7h3.6v3.6h-3.6zM372.7 827.7h3.6v3.6h-3.6zM372.7 859.2h3.6v3.6h-3.6zM372.7 862.7h3.6v3.6h-3.6zM372.7 873.2h3.6v3.6h-3.6zM376.2 603.7h3.6v3.6h-3.6zM376.2 610.7h3.6v3.6h-3.6zM376.2 617.7h3.6v3.6h-3.6zM376.2 645.7h3.6v3.6h-3.6zM376.2 659.7h3.6v3.6h-3.6zM376.2 670.2h3.6v3.6h-3.6zM376.2 677.2h3.6v3.6h-3.6zM376.2 684.2h3.6v3.6h-3.6zM376.2 687.7h3.6v3.6h-3.6zM376.2 691.2h3.6v3.6h-3.6zM376.2 694.7h3.6v3.6h-3.6zM376.2 698.2h3.6v3.6h-3.6zM376.2 701.7h3.6v3.6h-3.6zM376.2 705.2h3.6v3.6h-3.6zM376.2 708.7h3.6v3.6h-3.6zM376.2 712.2h3.6v3.6h-3.6zM376.2 719.2h3.6v3.6h-3.6zM376.2 722.7h3.6v3.6h-3.6zM376.2 726.2h3.6v3.6h-3.6zM376.2 736.7h3.6v3.6h-3.6zM376.2 743.7h3.6v3.6h-3.6zM376.2 750.7h3.6v3.6h-3.6zM376.2 754.2h3.6v3.6h-3.6zM376.2 757.7h3.6v3.6h-3.6zM376.2 761.2h3.6v3.6h-3.6zM376.2 764.7h3.6v3.6h-3.6zM376.2 768.2h3.6v3.6h-3.6zM376.2 782.2h3.6v3.6h-3.6zM376.2 796.2h3.6v3.6h-3.6zM376.2 831.2h3.6v3.6h-3.6zM376.2 859.2h3.6v3.6h-3.6zM376.2 862.7h3.6v3.6h-3.6zM376.2 901.2h3.6v3.6h-3.6zM379.7 628.2h3.6v3.6h-3.6zM379.7 656.2h3.6v3.6h-3.6zM379.7 670.2h3.6v3.6h-3.6zM379.7 673.7h3.6v3.6h-3.6zM379.7 677.2h3.6v3.6h-3.6zM379.7 684.2h3.6v3.6h-3.6zM379.7 687.7h3.6v3.6h-3.6zM379.7 691.2h3.6v3.6h-3.6zM379.7 698.2h3.6v3.6h-3.6zM379.7 701.7h3.6v3.6h-3.6zM379.7 705.2h3.6v3.6h-3.6zM379.7 708.7h3.6v3.6h-3.6zM379.7 712.2h3.6v3.6h-3.6zM379.7 715.7h3.6v3.6h-3.6zM379.7 722.7h3.6v3.6h-3.6zM379.7 726.2h3.6v3.6h-3.6zM379.7 729.7h3.6v3.6h-3.6zM379.7 733.2h3.6v3.6h-3.6zM379.7 740.2h3.6v3.6h-3.6zM379.7 747.2h3.6v3.6h-3.6zM379.7 750.7h3.6v3.6h-3.6zM379.7 754.2h3.6v3.6h-3.6zM379.7 757.7h3.6v3.6h-3.6zM379.7 761.2h3.6v3.6h-3.6zM379.7 768.2h3.6v3.6h-3.6zM379.7 782.2h3.6v3.6h-3.6zM379.7 813.7h3.6v3.6h-3.6zM379.7 827.7h3.6v3.6h-3.6zM383.2 635.2h3.6v3.6h-3.6zM383.2 652.7h3.6v3.6h-3.6zM383.2 663.2h3.6v3.6h-3.6zM383.2 666.7h3.6v3.6h-3.6zM383.2 673.7h3.6v3.6h-3.6zM383.2 677.2h3.6v3.6h-3.6zM383.2 680.7h3.6v3.6h-3.6zM383.2 684.2h3.6v3.6h-3.6zM383.2 687.7h3.6v3.6h-3.6zM383.2 691.2h3.6v3.6h-3.6zM383.2 694.7h3.6v3.6h-3.6zM383.2 708.7h3.6v3.6h-3.6zM383.2 715.7h3.6v3.6h-3.6zM383.2 722.7h3.6v3.6h-3.6zM383.2 726.2h3.6v3.6h-3.6zM383.2 729.7h3.6v3.6h-3.6zM383.2 733.2h3.6v3.6h-3.6zM383.2 736.7h3.6v3.6h-3.6zM383.2 743.7h3.6v3.6h-3.6zM383.2 747.2h3.6v3.6h-3.6zM383.2 750.7h3.6v3.6h-3.6zM383.2 754.2h3.6v3.6h-3.6zM383.2 757.7h3.6v3.6h-3.6zM383.2 761.2h3.6v3.6h-3.6zM383.2 768.2h3.6v3.6h-3.6zM383.2 771.7h3.6v3.6h-3.6zM383.2 775.2h3.6v3.6h-3.6zM383.2 778.7h3.6v3.6h-3.6zM383.2 785.7h3.6v3.6h-3.6zM383.2 789.2h3.6v3.6h-3.6zM383.2 792.7h3.6v3.6h-3.6zM383.2 796.2h3.6v3.6h-3.6zM383.2 803.2h3.6v3.6h-3.6zM383.2 806.7h3.6v3.6h-3.6zM383.2 817.2h3.6v3.6h-3.6zM383.2 827.7h3.6v3.6h-3.6zM383.2 890.7h3.6v3.6h-3.6zM383.2 894.2h3.6v3.6h-3.6zM386.7 649.2h3.6v3.6h-3.6zM386.7 670.2h3.6v3.6h-3.6zM386.7 673.7h3.6v3.6h-3.6zM386.7 677.2h3.6v3.6h-3.6zM386.7 687.7h3.6v3.6h-3.6zM386.7 691.2h3.6v3.6h-3.6zM386.7 694.7h3.6v3.6h-3.6zM386.7 705.2h3.6v3.6h-3.6zM386.7 712.2h3.6v3.6h-3.6zM386.7 715.7h3.6v3.6h-3.6zM386.7 719.2h3.6v3.6h-3.6zM386.7 722.7h3.6v3.6h-3.6zM386.7 726.2h3.6v3.6h-3.6zM386.7 729.7h3.6v3.6h-3.6zM386.7 733.2h3.6v3.6h-3.6zM386.7 736.7h3.6v3.6h-3.6zM386.7 747.2h3.6v3.6h-3.6zM386.7 754.2h3.6v3.6h-3.6zM386.7 764.7h3.6v3.6h-3.6zM386.7 768.2h3.6v3.6h-3.6zM386.7 775.2h3.6v3.6h-3.6zM386.7 789.2h3.6v3.6h-3.6zM386.7 796.2h3.6v3.6h-3.6zM386.7 799.7h3.6v3.6h-3.6zM386.7 813.7h3.6v3.6h-3.6zM386.7 820.7h3.6v3.6h-3.6zM386.7 827.7h3.6v3.6h-3.6zM386.7 880.2h3.6v3.6h-3.6zM386.7 887.2h3.6v3.6h-3.6zM386.7 908.2h3.6v3.6h-3.6zM390.2 624.7h3.6v3.6h-3.6zM390.2 645.7h3.6v3.6h-3.6zM390.2 649.2h3.6v3.6h-3.6zM390.2 656.2h3.6v3.6h-3.6zM390.2 659.7h3.6v3.6h-3.6zM390.2 670.2h3.6v3.6h-3.6zM390.2 673.7h3.6v3.6h-3.6zM390.2 677.2h3.6v3.6h-3.6zM390.2 680.7h3.6v3.6h-3.6zM390.2 684.2h3.6v3.6h-3.6zM390.2 687.7h3.6v3.6h-3.6zM390.2 694.7h3.6v3.6h-3.6zM390.2 698.2h3.6v3.6h-3.6zM390.2 701.7h3.6v3.6h-3.6zM390.2 705.2h3.6v3.6h-3.6zM390.2 708.7h3.6v3.6h-3.6zM390.2 712.2h3.6v3.6h-3.6zM390.2 715.7h3.6v3.6h-3.6zM390.2 719.2h3.6v3.6h-3.6zM390.2 722.7h3.6v3.6h-3.6zM390.2 726.2h3.6v3.6h-3.6zM390.2 733.2h3.6v3.6h-3.6zM390.2 736.7h3.6v3.6h-3.6zM390.2 740.2h3.6v3.6h-3.6zM390.2 754.2h3.6v3.6h-3.6zM390.2 757.7h3.6v3.6h-3.6zM390.2 778.7h3.6v3.6h-3.6zM390.2 799.7h3.6v3.6h-3.6zM390.2 813.7h3.6v3.6h-3.6zM390.2 820.7h3.6v3.6h-3.6zM390.2 827.7h3.6v3.6h-3.6zM390.2 831.2h3.6v3.6h-3.6zM390.2 841.7h3.6v3.6h-3.6zM390.2 866.2h3.6v3.6h-3.6zM390.2 873.2h3.6v3.6h-3.6zM393.7 631.7h3.6v3.6h-3.6zM393.7 659.7h3.6v3.6h-3.6zM393.7 663.2h3.6v3.6h-3.6zM393.7 666.7h3.6v3.6h-3.6zM393.7 670.2h3.6v3.6h-3.6zM393.7 677.2h3.6v3.6h-3.6zM393.7 680.7h3.6v3.6h-3.6zM393.7 687.7h3.6v3.6h-3.6zM393.7 691.2h3.6v3.6h-3.6zM393.7 694.7h3.6v3.6h-3.6zM393.7 698.2h3.6v3.6h-3.6zM393.7 701.7h3.6v3.6h-3.6zM393.7 705.2h3.6v3.6h-3.6zM393.7 708.7h3.6v3.6h-3.6zM393.7 712.2h3.6v3.6h-3.6zM393.7 715.7h3.6v3.6h-3.6zM393.7 719.2h3.6v3.6h-3.6zM393.7 722.7h3.6v3.6h-3.6zM393.7 726.2h3.6v3.6h-3.6zM393.7 729.7h3.6v3.6h-3.6zM393.7 740.2h3.6v3.6h-3.6zM393.7 747.2h3.6v3.6h-3.6zM393.7 750.7h3.6v3.6h-3.6zM393.7 754.2h3.6v3.6h-3.6zM393.7 757.7h3.6v3.6h-3.6zM393.7 761.2h3.6v3.6h-3.6zM393.7 775.2h3.6v3.6h-3.6zM393.7 789.2h3.6v3.6h-3.6zM393.7 792.7h3.6v3.6h-3.6zM393.7 799.7h3.6v3.6h-3.6zM393.7 813.7h3.6v3.6h-3.6zM393.7 817.2h3.6v3.6h-3.6zM393.7 841.7h3.6v3.6h-3.6zM393.7 880.2h3.6v3.6h-3.6zM393.7 894.2h3.6v3.6h-3.6zM397.2 610.7h3.6v3.6h-3.6zM397.2 642.2h3.6v3.6h-3.6zM397.2 645.7h3.6v3.6h-3.6zM397.2 649.2h3.6v3.6h-3.6zM397.2 656.2h3.6v3.6h-3.6zM397.2 659.7h3.6v3.6h-3.6zM397.2 663.2h3.6v3.6h-3.6zM397.2 666.7h3.6v3.6h-3.6zM397.2 677.2h3.6v3.6h-3.6zM397.2 680.7h3.6v3.6h-3.6zM397.2 684.2h3.6v3.6h-3.6zM397.2 698.2h3.6v3.6h-3.6zM397.2 701.7h3.6v3.6h-3.6zM397.2 705.2h3.6v3.6h-3.6zM397.2 708.7h3.6v3.6h-3.6zM397.2 712.2h3.6v3.6h-3.6zM397.2 715.7h3.6v3.6h-3.6zM397.2 719.2h3.6v3.6h-3.6zM397.2 722.7h3.6v3.6h-3.6zM397.2 726.2h3.6v3.6h-3.6zM397.2 729.7h3.6v3.6h-3.6zM397.2 733.2h3.6v3.6h-3.6zM397.2 736.7h3.6v3.6h-3.6zM397.2 740.2h3.6v3.6h-3.6zM397.2 747.2h3.6v3.6h-3.6zM397.2 750.7h3.6v3.6h-3.6zM397.2 754.2h3.6v3.6h-3.6zM397.2 757.7h3.6v3.6h-3.6zM397.2 761.2h3.6v3.6h-3.6zM397.2 764.7h3.6v3.6h-3.6zM397.2 768.2h3.6v3.6h-3.6zM397.2 778.7h3.6v3.6h-3.6zM397.2 785.7h3.6v3.6h-3.6zM397.2 796.2h3.6v3.6h-3.6zM397.2 799.7h3.6v3.6h-3.6zM397.2 827.7h3.6v3.6h-3.6zM397.2 845.2h3.6v3.6h-3.6zM397.2 848.7h3.6v3.6h-3.6zM400.7 600.2h3.6v3.6h-3.6zM400.7 621.2h3.6v3.6h-3.6zM400.7 649.2h3.6v3.6h-3.6zM400.7 659.7h3.6v3.6h-3.6zM400.7 663.2h3.6v3.6h-3.6zM400.7 666.7h3.6v3.6h-3.6zM400.7 673.7h3.6v3.6h-3.6zM400.7 680.7h3.6v3.6h-3.6zM400.7 687.7h3.6v3.6h-3.6zM400.7 691.2h3.6v3.6h-3.6zM400.7 694.7h3.6v3.6h-3.6zM400.7 701.7h3.6v3.6h-3.6zM400.7 705.2h3.6v3.6h-3.6zM400.7 708.7h3.6v3.6h-3.6zM400.7 712.2h3.6v3.6h-3.6zM400.7 715.7h3.6v3.6h-3.6zM400.7 719.2h3.6v3.6h-3.6zM400.7 722.7h3.6v3.6h-3.6zM400.7 726.2h3.6v3.6h-3.6zM400.7 729.7h3.6v3.6h-3.6zM400.7 733.2h3.6v3.6h-3.6zM400.7 736.7h3.6v3.6h-3.6zM400.7 740.2h3.6v3.6h-3.6zM400.7 750.7h3.6v3.6h-3.6zM400.7 754.2h3.6v3.6h-3.6zM400.7 757.7h3.6v3.6h-3.6zM400.7 764.7h3.6v3.6h-3.6zM400.7 771.7h3.6v3.6h-3.6zM400.7 778.7h3.6v3.6h-3.6zM400.7 785.7h3.6v3.6h-3.6zM400.7 789.2h3.6v3.6h-3.6zM400.7 796.2h3.6v3.6h-3.6zM400.7 803.2h3.6v3.6h-3.6zM400.7 820.7h3.6v3.6h-3.6zM400.7 827.7h3.6v3.6h-3.6zM400.7 831.2h3.6v3.6h-3.6zM400.7 841.7h3.6v3.6h-3.6zM400.7 869.7h3.6v3.6h-3.6zM404.2 586.2h3.6v3.6h-3.6zM404.2 621.2h3.6v3.6h-3.6zM404.2 642.2h3.6v3.6h-3.6zM404.2 649.2h3.6v3.6h-3.6zM404.2 652.7h3.6v3.6h-3.6zM404.2 659.7h3.6v3.6h-3.6zM404.2 666.7h3.6v3.6h-3.6zM404.2 670.2h3.6v3.6h-3.6zM404.2 673.7h3.6v3.6h-3.6zM404.2 677.2h3.6v3.6h-3.6zM404.2 680.7h3.6v3.6h-3.6zM404.2 684.2h3.6v3.6h-3.6zM404.2 687.7h3.6v3.6h-3.6zM404.2 691.2h3.6v3.6h-3.6zM404.2 698.2h3.6v3.6h-3.6zM404.2 701.7h3.6v3.6h-3.6zM404.2 705.2h3.6v3.6h-3.6zM404.2 715.7h3.6v3.6h-3.6zM404.2 719.2h3.6v3.6h-3.6zM404.2 726.2h3.6v3.6h-3.6zM404.2 729.7h3.6v3.6h-3.6zM404.2 733.2h3.6v3.6h-3.6zM404.2 736.7h3.6v3.6h-3.6zM404.2 740.2h3.6v3.6h-3.6zM404.2 743.7h3.6v3.6h-3.6zM404.2 750.7h3.6v3.6h-3.6zM404.2 754.2h3.6v3.6h-3.6zM404.2 757.7h3.6v3.6h-3.6zM404.2 775.2h3.6v3.6h-3.6zM404.2 782.2h3.6v3.6h-3.6zM404.2 789.2h3.6v3.6h-3.6zM404.2 799.7h3.6v3.6h-3.6zM404.2 803.2h3.6v3.6h-3.6zM404.2 827.7h3.6v3.6h-3.6zM404.2 834.7h3.6v3.6h-3.6zM404.2 845.2h3.6v3.6h-3.6zM404.2 848.7h3.6v3.6h-3.6zM404.2 866.2h3.6v3.6h-3.6zM407.7 642.2h3.6v3.6h-3.6zM407.7 649.2h3.6v3.6h-3.6zM407.7 652.7h3.6v3.6h-3.6zM407.7 656.2h3.6v3.6h-3.6zM407.7 666.7h3.6v3.6h-3.6zM407.7 670.2h3.6v3.6h-3.6zM407.7 684.2h3.6v3.6h-3.6zM407.7 687.7h3.6v3.6h-3.6zM407.7 691.2h3.6v3.6h-3.6zM407.7 694.7h3.6v3.6h-3.6zM407.7 698.2h3.6v3.6h-3.6zM407.7 701.7h3.6v3.6h-3.6zM407.7 705.2h3.6v3.6h-3.6zM407.7 708.7h3.6v3.6h-3.6zM407.7 712.2h3.6v3.6h-3.6zM407.7 715.7h3.6v3.6h-3.6zM407.7 722.7h3.6v3.6h-3.6zM407.7 729.7h3.6v3.6h-3.6zM407.7 733.2h3.6v3.6h-3.6zM407.7 740.2h3.6v3.6h-3.6zM407.7 743.7h3.6v3.6h-3.6zM407.7 747.2h3.6v3.6h-3.6zM407.7 754.2h3.6v3.6h-3.6zM407.7 764.7h3.6v3.6h-3.6zM407.7 768.2h3.6v3.6h-3.6zM407.7 771.7h3.6v3.6h-3.6zM407.7 782.2h3.6v3.6h-3.6zM407.7 789.2h3.6v3.6h-3.6zM407.7 806.7h3.6v3.6h-3.6zM407.7 810.2h3.6v3.6h-3.6zM407.7 817.2h3.6v3.6h-3.6zM407.7 820.7h3.6v3.6h-3.6zM407.7 824.2h3.6v3.6h-3.6zM407.7 831.2h3.6v3.6h-3.6zM407.7 838.2h3.6v3.6h-3.6zM407.7 852.2h3.6v3.6h-3.6zM407.7 862.7h3.6v3.6h-3.6zM411.2 607.2h3.6v3.6h-3.6zM411.2 610.7h3.6v3.6h-3.6zM411.2 624.7h3.6v3.6h-3.6zM411.2 628.2h3.6v3.6h-3.6zM411.2 659.7h3.6v3.6h-3.6zM411.2 677.2h3.6v3.6h-3.6zM411.2 684.2h3.6v3.6h-3.6zM411.2 687.7h3.6v3.6h-3.6zM411.2 691.2h3.6v3.6h-3.6zM411.2 694.7h3.6v3.6h-3.6zM411.2 698.2h3.6v3.6h-3.6zM411.2 701.7h3.6v3.6h-3.6zM411.2 705.2h3.6v3.6h-3.6zM411.2 708.7h3.6v3.6h-3.6zM411.2 712.2h3.6v3.6h-3.6zM411.2 715.7h3.6v3.6h-3.6zM411.2 719.2h3.6v3.6h-3.6zM411.2 722.7h3.6v3.6h-3.6zM411.2 726.2h3.6v3.6h-3.6zM411.2 733.2h3.6v3.6h-3.6zM411.2 736.7h3.6v3.6h-3.6zM411.2 740.2h3.6v3.6h-3.6zM411.2 743.7h3.6v3.6h-3.6zM411.2 747.2h3.6v3.6h-3.6zM411.2 761.2h3.6v3.6h-3.6zM411.2 764.7h3.6v3.6h-3.6zM411.2 768.2h3.6v3.6h-3.6zM411.2 775.2h3.6v3.6h-3.6zM411.2 778.7h3.6v3.6h-3.6zM411.2 782.2h3.6v3.6h-3.6zM411.2 785.7h3.6v3.6h-3.6zM411.2 792.7h3.6v3.6h-3.6zM411.2 799.7h3.6v3.6h-3.6zM411.2 806.7h3.6v3.6h-3.6zM411.2 817.2h3.6v3.6h-3.6zM411.2 834.7h3.6v3.6h-3.6zM411.2 866.2h3.6v3.6h-3.6zM411.2 869.7h3.6v3.6h-3.6zM414.7 614.2h3.6v3.6h-3.6zM414.7 635.2h3.6v3.6h-3.6zM414.7 642.2h3.6v3.6h-3.6zM414.7 645.7h3.6v3.6h-3.6zM414.7 649.2h3.6v3.6h-3.6zM414.7 659.7h3.6v3.6h-3.6zM414.7 663.2h3.6v3.6h-3.6zM414.7 666.7h3.6v3.6h-3.6zM414.7 673.7h3.6v3.6h-3.6zM414.7 677.2h3.6v3.6h-3.6zM414.7 691.2h3.6v3.6h-3.6zM414.7 694.7h3.6v3.6h-3.6zM414.7 698.2h3.6v3.6h-3.6zM414.7 705.2h3.6v3.6h-3.6zM414.7 708.7h3.6v3.6h-3.6zM414.7 715.7h3.6v3.6h-3.6zM414.7 722.7h3.6v3.6h-3.6zM414.7 726.2h3.6v3.6h-3.6zM414.7 733.2h3.6v3.6h-3.6zM414.7 740.2h3.6v3.6h-3.6zM414.7 747.2h3.6v3.6h-3.6zM414.7 750.7h3.6v3.6h-3.6zM414.7 754.2h3.6v3.6h-3.6zM414.7 761.2h3.6v3.6h-3.6zM414.7 768.2h3.6v3.6h-3.6zM414.7 775.2h3.6v3.6h-3.6zM414.7 789.2h3.6v3.6h-3.6zM414.7 792.7h3.6v3.6h-3.6zM414.7 796.2h3.6v3.6h-3.6zM414.7 831.2h3.6v3.6h-3.6zM414.7 852.2h3.6v3.6h-3.6zM414.7 894.2h3.6v3.6h-3.6zM418.2 596.7h3.6v3.6h-3.6zM418.2 600.2h3.6v3.6h-3.6zM418.2 624.7h3.6v3.6h-3.6zM418.2 638.7h3.6v3.6h-3.6zM418.2 645.7h3.6v3.6h-3.6zM418.2 652.7h3.6v3.6h-3.6zM418.2 663.2h3.6v3.6h-3.6zM418.2 670.2h3.6v3.6h-3.6zM418.2 673.7h3.6v3.6h-3.6zM418.2 680.7h3.6v3.6h-3.6zM418.2 684.2h3.6v3.6h-3.6zM418.2 691.2h3.6v3.6h-3.6zM418.2 694.7h3.6v3.6h-3.6zM418.2 698.2h3.6v3.6h-3.6zM418.2 701.7h3.6v3.6h-3.6zM418.2 705.2h3.6v3.6h-3.6zM418.2 708.7h3.6v3.6h-3.6zM418.2 712.2h3.6v3.6h-3.6zM418.2 722.7h3.6v3.6h-3.6zM418.2 726.2h3.6v3.6h-3.6zM418.2 736.7h3.6v3.6h-3.6zM418.2 740.2h3.6v3.6h-3.6zM418.2 743.7h3.6v3.6h-3.6zM418.2 747.2h3.6v3.6h-3.6zM418.2 750.7h3.6v3.6h-3.6zM418.2 754.2h3.6v3.6h-3.6zM418.2 757.7h3.6v3.6h-3.6zM418.2 764.7h3.6v3.6h-3.6zM418.2 768.2h3.6v3.6h-3.6zM418.2 771.7h3.6v3.6h-3.6zM418.2 775.2h3.6v3.6h-3.6zM418.2 778.7h3.6v3.6h-3.6zM418.2 782.2h3.6v3.6h-3.6zM418.2 785.7h3.6v3.6h-3.6zM418.2 789.2h3.6v3.6h-3.6zM418.2 796.2h3.6v3.6h-3.6zM418.2 799.7h3.6v3.6h-3.6zM418.2 803.2h3.6v3.6h-3.6zM418.2 824.2h3.6v3.6h-3.6zM418.2 827.7h3.6v3.6h-3.6zM418.2 834.7h3.6v3.6h-3.6zM418.2 841.7h3.6v3.6h-3.6zM418.2 880.2h3.6v3.6h-3.6zM418.2 887.2h3.6v3.6h-3.6zM421.7 631.7h3.6v3.6h-3.6zM421.7 663.2h3.6v3.6h-3.6zM421.7 670.2h3.6v3.6h-3.6zM421.7 673.7h3.6v3.6h-3.6zM421.7 680.7h3.6v3.6h-3.6zM421.7 684.2h3.6v3.6h-3.6zM421.7 691.2h3.6v3.6h-3.6zM421.7 698.2h3.6v3.6h-3.6zM421.7 701.7h3.6v3.6h-3.6zM421.7 705.2h3.6v3.6h-3.6zM421.7 708.7h3.6v3.6h-3.6zM421.7 715.7h3.6v3.6h-3.6zM421.7 719.2h3.6v3.6h-3.6zM421.7 722.7h3.6v3.6h-3.6zM421.7 729.7h3.6v3.6h-3.6zM421.7 736.7h3.6v3.6h-3.6zM421.7 740.2h3.6v3.6h-3.6zM421.7 743.7h3.6v3.6h-3.6zM421.7 750.7h3.6v3.6h-3.6zM421.7 754.2h3.6v3.6h-3.6zM421.7 757.7h3.6v3.6h-3.6zM421.7 761.2h3.6v3.6h-3.6zM421.7 768.2h3.6v3.6h-3.6zM421.7 782.2h3.6v3.6h-3.6zM421.7 785.7h3.6v3.6h-3.6zM421.7 792.7h3.6v3.6h-3.6zM421.7 796.2h3.6v3.6h-3.6zM421.7 799.7h3.6v3.6h-3.6zM421.7 803.2h3.6v3.6h-3.6zM421.7 806.7h3.6v3.6h-3.6zM421.7 817.2h3.6v3.6h-3.6zM421.7 838.2h3.6v3.6h-3.6zM421.7 841.7h3.6v3.6h-3.6zM421.7 887.2h3.6v3.6h-3.6zM425.2 621.2h3.6v3.6h-3.6zM425.2 628.2h3.6v3.6h-3.6zM425.2 649.2h3.6v3.6h-3.6zM425.2 656.2h3.6v3.6h-3.6zM425.2 659.7h3.6v3.6h-3.6zM425.2 663.2h3.6v3.6h-3.6zM425.2 666.7h3.6v3.6h-3.6zM425.2 670.2h3.6v3.6h-3.6zM425.2 673.7h3.6v3.6h-3.6zM425.2 680.7h3.6v3.6h-3.6zM425.2 684.2h3.6v3.6h-3.6zM425.2 687.7h3.6v3.6h-3.6zM425.2 691.2h3.6v3.6h-3.6zM425.2 694.7h3.6v3.6h-3.6zM425.2 698.2h3.6v3.6h-3.6zM425.2 701.7h3.6v3.6h-3.6zM425.2 705.2h3.6v3.6h-3.6zM425.2 712.2h3.6v3.6h-3.6zM425.2 715.7h3.6v3.6h-3.6zM425.2 719.2h3.6v3.6h-3.6zM425.2 722.7h3.6v3.6h-3.6zM425.2 726.2h3.6v3.6h-3.6zM425.2 729.7h3.6v3.6h-3.6zM425.2 733.2h3.6v3.6h-3.6zM425.2 736.7h3.6v3.6h-3.6zM425.2 740.2h3.6v3.6h-3.6zM425.2 747.2h3.6v3.6h-3.6zM425.2 750.7h3.6v3.6h-3.6zM425.2 754.2h3.6v3.6h-3.6zM425.2 757.7h3.6v3.6h-3.6zM425.2 761.2h3.6v3.6h-3.6zM425.2 764.7h3.6v3.6h-3.6zM425.2 771.7h3.6v3.6h-3.6zM425.2 778.7h3.6v3.6h-3.6zM425.2 785.7h3.6v3.6h-3.6zM425.2 792.7h3.6v3.6h-3.6zM425.2 803.2h3.6v3.6h-3.6zM425.2 817.2h3.6v3.6h-3.6zM425.2 827.7h3.6v3.6h-3.6zM425.2 848.7h3.6v3.6h-3.6zM425.2 873.2h3.6v3.6h-3.6zM428.7 628.2h3.6v3.6h-3.6zM428.7 656.2h3.6v3.6h-3.6zM428.7 659.7h3.6v3.6h-3.6zM428.7 663.2h3.6v3.6h-3.6zM428.7 670.2h3.6v3.6h-3.6zM428.7 673.7h3.6v3.6h-3.6zM428.7 677.2h3.6v3.6h-3.6zM428.7 691.2h3.6v3.6h-3.6zM428.7 698.2h3.6v3.6h-3.6zM428.7 705.2h3.6v3.6h-3.6zM428.7 708.7h3.6v3.6h-3.6zM428.7 715.7h3.6v3.6h-3.6zM428.7 726.2h3.6v3.6h-3.6zM428.7 733.2h3.6v3.6h-3.6zM428.7 736.7h3.6v3.6h-3.6zM428.7 740.2h3.6v3.6h-3.6zM428.7 743.7h3.6v3.6h-3.6zM428.7 747.2h3.6v3.6h-3.6zM428.7 754.2h3.6v3.6h-3.6zM428.7 757.7h3.6v3.6h-3.6zM428.7 761.2h3.6v3.6h-3.6zM428.7 764.7h3.6v3.6h-3.6zM428.7 796.2h3.6v3.6h-3.6zM428.7 799.7h3.6v3.6h-3.6zM428.7 834.7h3.6v3.6h-3.6zM428.7 838.2h3.6v3.6h-3.6zM428.7 848.7h3.6v3.6h-3.6zM428.7 887.2h3.6v3.6h-3.6zM432.2 631.7h3.6v3.6h-3.6zM432.2 635.2h3.6v3.6h-3.6zM432.2 645.7h3.6v3.6h-3.6zM432.2 656.2h3.6v3.6h-3.6zM432.2 666.7h3.6v3.6h-3.6zM432.2 670.2h3.6v3.6h-3.6zM432.2 673.7h3.6v3.6h-3.6zM432.2 677.2h3.6v3.6h-3.6zM432.2 680.7h3.6v3.6h-3.6zM432.2 684.2h3.6v3.6h-3.6zM432.2 694.7h3.6v3.6h-3.6zM432.2 698.2h3.6v3.6h-3.6zM432.2 701.7h3.6v3.6h-3.6zM432.2 705.2h3.6v3.6h-3.6zM432.2 708.7h3.6v3.6h-3.6zM432.2 712.2h3.6v3.6h-3.6zM432.2 715.7h3.6v3.6h-3.6zM432.2 722.7h3.6v3.6h-3.6zM432.2 726.2h3.6v3.6h-3.6zM432.2 733.2h3.6v3.6h-3.6zM432.2 736.7h3.6v3.6h-3.6zM432.2 740.2h3.6v3.6h-3.6zM432.2 743.7h3.6v3.6h-3.6zM432.2 750.7h3.6v3.6h-3.6zM432.2 754.2h3.6v3.6h-3.6zM432.2 764.7h3.6v3.6h-3.6zM432.2 768.2h3.6v3.6h-3.6zM432.2 775.2h3.6v3.6h-3.6zM432.2 778.7h3.6v3.6h-3.6zM432.2 796.2h3.6v3.6h-3.6zM432.2 803.2h3.6v3.6h-3.6zM432.2 810.2h3.6v3.6h-3.6zM432.2 813.7h3.6v3.6h-3.6zM432.2 817.2h3.6v3.6h-3.6zM432.2 820.7h3.6v3.6h-3.6zM432.2 838.2h3.6v3.6h-3.6zM432.2 848.7h3.6v3.6h-3.6zM432.2 852.2h3.6v3.6h-3.6zM435.7 649.2h3.6v3.6h-3.6zM435.7 659.7h3.6v3.6h-3.6zM435.7 663.2h3.6v3.6h-3.6zM435.7 666.7h3.6v3.6h-3.6zM435.7 670.2h3.6v3.6h-3.6zM435.7 673.7h3.6v3.6h-3.6zM435.7 677.2h3.6v3.6h-3.6zM435.7 680.7h3.6v3.6h-3.6zM435.7 684.2h3.6v3.6h-3.6zM435.7 691.2h3.6v3.6h-3.6zM435.7 694.7h3.6v3.6h-3.6zM435.7 698.2h3.6v3.6h-3.6zM435.7 705.2h3.6v3.6h-3.6zM435.7 712.2h3.6v3.6h-3.6zM435.7 715.7h3.6v3.6h-3.6zM435.7 722.7h3.6v3.6h-3.6zM435.7 726.2h3.6v3.6h-3.6zM435.7 733.2h3.6v3.6h-3.6zM435.7 736.7h3.6v3.6h-3.6zM435.7 740.2h3.6v3.6h-3.6zM435.7 743.7h3.6v3.6h-3.6zM435.7 750.7h3.6v3.6h-3.6zM435.7 754.2h3.6v3.6h-3.6zM435.7 757.7h3.6v3.6h-3.6zM435.7 761.2h3.6v3.6h-3.6zM435.7 768.2h3.6v3.6h-3.6zM435.7 775.2h3.6v3.6h-3.6zM435.7 778.7h3.6v3.6h-3.6zM435.7 810.2h3.6v3.6h-3.6zM435.7 820.7h3.6v3.6h-3.6zM435.7 827.7h3.6v3.6h-3.6zM435.7 834.7h3.6v3.6h-3.6zM435.7 841.7h3.6v3.6h-3.6zM435.7 845.2h3.6v3.6h-3.6zM439.2 617.7h3.6v3.6h-3.6zM439.2 624.7h3.6v3.6h-3.6zM439.2 628.2h3.6v3.6h-3.6zM439.2 649.2h3.6v3.6h-3.6zM439.2 663.2h3.6v3.6h-3.6zM439.2 673.7h3.6v3.6h-3.6zM439.2 677.2h3.6v3.6h-3.6zM439.2 680.7h3.6v3.6h-3.6zM439.2 684.2h3.6v3.6h-3.6zM439.2 687.7h3.6v3.6h-3.6zM439.2 691.2h3.6v3.6h-3.6zM439.2 694.7h3.6v3.6h-3.6zM439.2 698.2h3.6v3.6h-3.6zM439.2 705.2h3.6v3.6h-3.6zM439.2 708.7h3.6v3.6h-3.6zM439.2 712.2h3.6v3.6h-3.6zM439.2 715.7h3.6v3.6h-3.6zM439.2 719.2h3.6v3.6h-3.6zM439.2 722.7h3.6v3.6h-3.6zM439.2 726.2h3.6v3.6h-3.6zM439.2 729.7h3.6v3.6h-3.6zM439.2 747.2h3.6v3.6h-3.6zM439.2 750.7h3.6v3.6h-3.6zM439.2 754.2h3.6v3.6h-3.6zM439.2 771.7h3.6v3.6h-3.6zM439.2 775.2h3.6v3.6h-3.6zM439.2 782.2h3.6v3.6h-3.6zM439.2 785.7h3.6v3.6h-3.6zM439.2 813.7h3.6v3.6h-3.6zM439.2 820.7h3.6v3.6h-3.6zM439.2 831.2h3.6v3.6h-3.6zM439.2 834.7h3.6v3.6h-3.6zM439.2 841.7h3.6v3.6h-3.6zM439.2 848.7h3.6v3.6h-3.6zM439.2 855.7h3.6v3.6h-3.6zM439.2 862.7h3.6v3.6h-3.6zM442.7 586.2h3.6v3.6h-3.6zM442.7 621.2h3.6v3.6h-3.6zM442.7 645.7h3.6v3.6h-3.6zM442.7 649.2h3.6v3.6h-3.6zM442.7 652.7h3.6v3.6h-3.6zM442.7 656.2h3.6v3.6h-3.6zM442.7 663.2h3.6v3.6h-3.6zM442.7 670.2h3.6v3.6h-3.6zM442.7 673.7h3.6v3.6h-3.6zM442.7 677.2h3.6v3.6h-3.6zM442.7 680.7h3.6v3.6h-3.6zM442.7 687.7h3.6v3.6h-3.6zM442.7 691.2h3.6v3.6h-3.6zM442.7 694.7h3.6v3.6h-3.6zM442.7 698.2h3.6v3.6h-3.6zM442.7 705.2h3.6v3.6h-3.6zM442.7 708.7h3.6v3.6h-3.6zM442.7 712.2h3.6v3.6h-3.6zM442.7 715.7h3.6v3.6h-3.6zM442.7 719.2h3.6v3.6h-3.6zM442.7 722.7h3.6v3.6h-3.6zM442.7 726.2h3.6v3.6h-3.6zM442.7 736.7h3.6v3.6h-3.6zM442.7 747.2h3.6v3.6h-3.6zM442.7 750.7h3.6v3.6h-3.6zM442.7 754.2h3.6v3.6h-3.6zM442.7 768.2h3.6v3.6h-3.6zM442.7 775.2h3.6v3.6h-3.6zM442.7 785.7h3.6v3.6h-3.6zM442.7 792.7h3.6v3.6h-3.6zM442.7 813.7h3.6v3.6h-3.6zM442.7 845.2h3.6v3.6h-3.6zM446.2 645.7h3.6v3.6h-3.6zM446.2 659.7h3.6v3.6h-3.6zM446.2 663.2h3.6v3.6h-3.6zM446.2 670.2h3.6v3.6h-3.6zM446.2 673.7h3.6v3.6h-3.6zM446.2 677.2h3.6v3.6h-3.6zM446.2 680.7h3.6v3.6h-3.6zM446.2 684.2h3.6v3.6h-3.6zM446.2 687.7h3.6v3.6h-3.6zM446.2 694.7h3.6v3.6h-3.6zM446.2 698.2h3.6v3.6h-3.6zM446.2 701.7h3.6v3.6h-3.6zM446.2 705.2h3.6v3.6h-3.6zM446.2 708.7h3.6v3.6h-3.6zM446.2 712.2h3.6v3.6h-3.6zM446.2 715.7h3.6v3.6h-3.6zM446.2 719.2h3.6v3.6h-3.6zM446.2 722.7h3.6v3.6h-3.6zM446.2 729.7h3.6v3.6h-3.6zM446.2 733.2h3.6v3.6h-3.6zM446.2 740.2h3.6v3.6h-3.6zM446.2 743.7h3.6v3.6h-3.6zM446.2 747.2h3.6v3.6h-3.6zM446.2 761.2h3.6v3.6h-3.6zM446.2 771.7h3.6v3.6h-3.6zM446.2 789.2h3.6v3.6h-3.6zM446.2 803.2h3.6v3.6h-3.6zM446.2 838.2h3.6v3.6h-3.6zM446.2 841.7h3.6v3.6h-3.6zM446.2 866.2h3.6v3.6h-3.6zM446.2 869.7h3.6v3.6h-3.6zM449.7 610.7h3.6v3.6h-3.6zM449.7 642.2h3.6v3.6h-3.6zM449.7 649.2h3.6v3.6h-3.6zM449.7 659.7h3.6v3.6h-3.6zM449.7 663.2h3.6v3.6h-3.6zM449.7 666.7h3.6v3.6h-3.6zM449.7 680.7h3.6v3.6h-3.6zM449.7 684.2h3.6v3.6h-3.6zM449.7 691.2h3.6v3.6h-3.6zM449.7 698.2h3.6v3.6h-3.6zM449.7 701.7h3.6v3.6h-3.6zM449.7 705.2h3.6v3.6h-3.6zM449.7 708.7h3.6v3.6h-3.6zM449.7 712.2h3.6v3.6h-3.6zM449.7 715.7h3.6v3.6h-3.6zM449.7 719.2h3.6v3.6h-3.6zM449.7 722.7h3.6v3.6h-3.6zM449.7 726.2h3.6v3.6h-3.6zM449.7 729.7h3.6v3.6h-3.6zM449.7 733.2h3.6v3.6h-3.6zM449.7 740.2h3.6v3.6h-3.6zM449.7 743.7h3.6v3.6h-3.6zM449.7 747.2h3.6v3.6h-3.6zM449.7 750.7h3.6v3.6h-3.6zM449.7 768.2h3.6v3.6h-3.6zM449.7 785.7h3.6v3.6h-3.6zM449.7 799.7h3.6v3.6h-3.6zM449.7 827.7h3.6v3.6h-3.6zM449.7 848.7h3.6v3.6h-3.6zM449.7 880.2h3.6v3.6h-3.6zM453.2 624.7h3.6v3.6h-3.6zM453.2 642.2h3.6v3.6h-3.6zM453.2 645.7h3.6v3.6h-3.6zM453.2 666.7h3.6v3.6h-3.6zM453.2 677.2h3.6v3.6h-3.6zM453.2 680.7h3.6v3.6h-3.6zM453.2 684.2h3.6v3.6h-3.6zM453.2 687.7h3.6v3.6h-3.6zM453.2 691.2h3.6v3.6h-3.6zM453.2 698.2h3.6v3.6h-3.6zM453.2 701.7h3.6v3.6h-3.6zM453.2 708.7h3.6v3.6h-3.6zM453.2 712.2h3.6v3.6h-3.6zM453.2 719.2h3.6v3.6h-3.6zM453.2 726.2h3.6v3.6h-3.6zM453.2 729.7h3.6v3.6h-3.6zM453.2 736.7h3.6v3.6h-3.6zM453.2 740.2h3.6v3.6h-3.6zM453.2 743.7h3.6v3.6h-3.6zM453.2 750.7h3.6v3.6h-3.6zM453.2 754.2h3.6v3.6h-3.6zM453.2 757.7h3.6v3.6h-3.6zM453.2 771.7h3.6v3.6h-3.6zM453.2 803.2h3.6v3.6h-3.6zM453.2 806.7h3.6v3.6h-3.6zM453.2 820.7h3.6v3.6h-3.6zM453.2 827.7h3.6v3.6h-3.6zM453.2 852.2h3.6v3.6h-3.6zM453.2 873.2h3.6v3.6h-3.6zM456.7 621.2h3.6v3.6h-3.6zM456.7 638.7h3.6v3.6h-3.6zM456.7 642.2h3.6v3.6h-3.6zM456.7 659.7h3.6v3.6h-3.6zM456.7 663.2h3.6v3.6h-3.6zM456.7 673.7h3.6v3.6h-3.6zM456.7 687.7h3.6v3.6h-3.6zM456.7 691.2h3.6v3.6h-3.6zM456.7 694.7h3.6v3.6h-3.6zM456.7 698.2h3.6v3.6h-3.6zM456.7 705.2h3.6v3.6h-3.6zM456.7 708.7h3.6v3.6h-3.6zM456.7 712.2h3.6v3.6h-3.6zM456.7 726.2h3.6v3.6h-3.6zM456.7 729.7h3.6v3.6h-3.6zM456.7 733.2h3.6v3.6h-3.6zM456.7 736.7h3.6v3.6h-3.6zM456.7 743.7h3.6v3.6h-3.6zM456.7 750.7h3.6v3.6h-3.6zM456.7 754.2h3.6v3.6h-3.6zM456.7 761.2h3.6v3.6h-3.6zM456.7 778.7h3.6v3.6h-3.6zM456.7 782.2h3.6v3.6h-3.6zM456.7 785.7h3.6v3.6h-3.6zM456.7 862.7h3.6v3.6h-3.6zM460.2 635.2h3.6v3.6h-3.6zM460.2 659.7h3.6v3.6h-3.6zM460.2 666.7h3.6v3.6h-3.6zM460.2 677.2h3.6v3.6h-3.6zM460.2 684.2h3.6v3.6h-3.6zM460.2 687.7h3.6v3.6h-3.6zM460.2 691.2h3.6v3.6h-3.6zM460.2 694.7h3.6v3.6h-3.6zM460.2 698.2h3.6v3.6h-3.6zM460.2 701.7h3.6v3.6h-3.6zM460.2 705.2h3.6v3.6h-3.6zM460.2 708.7h3.6v3.6h-3.6zM460.2 712.2h3.6v3.6h-3.6zM460.2 715.7h3.6v3.6h-3.6zM460.2 729.7h3.6v3.6h-3.6zM460.2 736.7h3.6v3.6h-3.6zM460.2 740.2h3.6v3.6h-3.6zM460.2 750.7h3.6v3.6h-3.6zM460.2 757.7h3.6v3.6h-3.6zM460.2 771.7h3.6v3.6h-3.6zM460.2 778.7h3.6v3.6h-3.6zM460.2 810.2h3.6v3.6h-3.6zM460.2 862.7h3.6v3.6h-3.6zM463.7 631.7h3.6v3.6h-3.6zM463.7 638.7h3.6v3.6h-3.6zM463.7 652.7h3.6v3.6h-3.6zM463.7 659.7h3.6v3.6h-3.6zM463.7 663.2h3.6v3.6h-3.6zM463.7 684.2h3.6v3.6h-3.6zM463.7 694.7h3.6v3.6h-3.6zM463.7 698.2h3.6v3.6h-3.6zM463.7 701.7h3.6v3.6h-3.6zM463.7 708.7h3.6v3.6h-3.6zM463.7 712.2h3.6v3.6h-3.6zM463.7 719.2h3.6v3.6h-3.6zM463.7 722.7h3.6v3.6h-3.6zM463.7 726.2h3.6v3.6h-3.6zM463.7 729.7h3.6v3.6h-3.6zM463.7 733.2h3.6v3.6h-3.6zM463.7 736.7h3.6v3.6h-3.6zM463.7 743.7h3.6v3.6h-3.6zM463.7 750.7h3.6v3.6h-3.6zM463.7 775.2h3.6v3.6h-3.6zM463.7 785.7h3.6v3.6h-3.6zM463.7 869.7h3.6v3.6h-3.6zM467.2 610.7h3.6v3.6h-3.6zM467.2 645.7h3.6v3.6h-3.6zM467.2 656.2h3.6v3.6h-3.6zM467.2 659.7h3.6v3.6h-3.6zM467.2 670.2h3.6v3.6h-3.6zM467.2 673.7h3.6v3.6h-3.6zM467.2 677.2h3.6v3.6h-3.6zM467.2 684.2h3.6v3.6h-3.6zM467.2 708.7h3.6v3.6h-3.6zM467.2 712.2h3.6v3.6h-3.6zM467.2 722.7h3.6v3.6h-3.6zM467.2 726.2h3.6v3.6h-3.6zM467.2 729.7h3.6v3.6h-3.6zM467.2 733.2h3.6v3.6h-3.6zM467.2 736.7h3.6v3.6h-3.6zM467.2 740.2h3.6v3.6h-3.6zM467.2 764.7h3.6v3.6h-3.6zM467.2 775.2h3.6v3.6h-3.6zM467.2 820.7h3.6v3.6h-3.6zM470.7 589.7h3.6v3.6h-3.6zM470.7 663.2h3.6v3.6h-3.6zM470.7 666.7h3.6v3.6h-3.6zM470.7 670.2h3.6v3.6h-3.6zM470.7 677.2h3.6v3.6h-3.6zM470.7 680.7h3.6v3.6h-3.6zM470.7 691.2h3.6v3.6h-3.6zM470.7 694.7h3.6v3.6h-3.6zM470.7 698.2h3.6v3.6h-3.6zM470.7 705.2h3.6v3.6h-3.6zM470.7 708.7h3.6v3.6h-3.6zM470.7 715.7h3.6v3.6h-3.6zM470.7 719.2h3.6v3.6h-3.6zM470.7 722.7h3.6v3.6h-3.6zM470.7 726.2h3.6v3.6h-3.6zM470.7 733.2h3.6v3.6h-3.6zM470.7 736.7h3.6v3.6h-3.6zM470.7 740.2h3.6v3.6h-3.6zM470.7 747.2h3.6v3.6h-3.6zM470.7 768.2h3.6v3.6h-3.6zM470.7 792.7h3.6v3.6h-3.6zM470.7 803.2h3.6v3.6h-3.6zM470.7 869.7h3.6v3.6h-3.6zM474.2 610.7h3.6v3.6h-3.6zM474.2 628.2h3.6v3.6h-3.6zM474.2 652.7h3.6v3.6h-3.6zM474.2 656.2h3.6v3.6h-3.6zM474.2 663.2h3.6v3.6h-3.6zM474.2 666.7h3.6v3.6h-3.6zM474.2 673.7h3.6v3.6h-3.6zM474.2 677.2h3.6v3.6h-3.6zM474.2 687.7h3.6v3.6h-3.6zM474.2 691.2h3.6v3.6h-3.6zM474.2 694.7h3.6v3.6h-3.6zM474.2 698.2h3.6v3.6h-3.6zM474.2 701.7h3.6v3.6h-3.6zM474.2 712.2h3.6v3.6h-3.6zM474.2 715.7h3.6v3.6h-3.6zM474.2 733.2h3.6v3.6h-3.6zM474.2 736.7h3.6v3.6h-3.6zM474.2 750.7h3.6v3.6h-3.6zM474.2 754.2h3.6v3.6h-3.6zM474.2 757.7h3.6v3.6h-3.6zM474.2 764.7h3.6v3.6h-3.6zM474.2 771.7h3.6v3.6h-3.6zM474.2 778.7h3.6v3.6h-3.6zM474.2 792.7h3.6v3.6h-3.6zM474.2 810.2h3.6v3.6h-3.6zM474.2 845.2h3.6v3.6h-3.6zM474.2 859.2h3.6v3.6h-3.6zM474.2 887.2h3.6v3.6h-3.6zM474.2 894.2h3.6v3.6h-3.6zM474.2 897.7h3.6v3.6h-3.6zM474.2 908.2h3.6v3.6h-3.6zM477.7 614.2h3.6v3.6h-3.6zM477.7 656.2h3.6v3.6h-3.6zM477.7 663.2h3.6v3.6h-3.6zM477.7 666.7h3.6v3.6h-3.6zM477.7 677.2h3.6v3.6h-3.6zM477.7 694.7h3.6v3.6h-3.6zM477.7 708.7h3.6v3.6h-3.6zM477.7 722.7h3.6v3.6h-3.6zM477.7 726.2h3.6v3.6h-3.6zM477.7 736.7h3.6v3.6h-3.6zM477.7 771.7h3.6v3.6h-3.6zM477.7 810.2h3.6v3.6h-3.6zM477.7 820.7h3.6v3.6h-3.6zM477.7 848.7h3.6v3.6h-3.6zM481.2 603.7h3.6v3.6h-3.6zM481.2 659.7h3.6v3.6h-3.6zM481.2 673.7h3.6v3.6h-3.6zM481.2 684.2h3.6v3.6h-3.6zM481.2 691.2h3.6v3.6h-3.6zM481.2 698.2h3.6v3.6h-3.6zM481.2 701.7h3.6v3.6h-3.6zM481.2 712.2h3.6v3.6h-3.6zM481.2 715.7h3.6v3.6h-3.6zM481.2 726.2h3.6v3.6h-3.6zM481.2 729.7h3.6v3.6h-3.6zM481.2 733.2h3.6v3.6h-3.6zM481.2 736.7h3.6v3.6h-3.6zM481.2 750.7h3.6v3.6h-3.6zM481.2 757.7h3.6v3.6h-3.6zM481.2 768.2h3.6v3.6h-3.6zM481.2 775.2h3.6v3.6h-3.6zM481.2 908.2h3.6v3.6h-3.6zM484.7 600.2h3.6v3.6h-3.6zM484.7 645.7h3.6v3.6h-3.6zM484.7 666.7h3.6v3.6h-3.6zM484.7 677.2h3.6v3.6h-3.6zM484.7 680.7h3.6v3.6h-3.6zM484.7 694.7h3.6v3.6h-3.6zM484.7 698.2h3.6v3.6h-3.6zM484.7 708.7h3.6v3.6h-3.6zM484.7 719.2h3.6v3.6h-3.6zM484.7 729.7h3.6v3.6h-3.6zM484.7 733.2h3.6v3.6h-3.6zM484.7 736.7h3.6v3.6h-3.6zM484.7 740.2h3.6v3.6h-3.6zM484.7 743.7h3.6v3.6h-3.6zM484.7 747.2h3.6v3.6h-3.6zM484.7 754.2h3.6v3.6h-3.6zM484.7 771.7h3.6v3.6h-3.6zM484.7 799.7h3.6v3.6h-3.6zM484.7 813.7h3.6v3.6h-3.6zM484.7 817.2h3.6v3.6h-3.6zM484.7 841.7h3.6v3.6h-3.6zM488.2 642.2h3.6v3.6h-3.6zM488.2 666.7h3.6v3.6h-3.6zM488.2 680.7h3.6v3.6h-3.6zM488.2 684.2h3.6v3.6h-3.6zM488.2 691.2h3.6v3.6h-3.6zM488.2 701.7h3.6v3.6h-3.6zM488.2 715.7h3.6v3.6h-3.6zM488.2 726.2h3.6v3.6h-3.6zM488.2 733.2h3.6v3.6h-3.6zM488.2 736.7h3.6v3.6h-3.6zM488.2 743.7h3.6v3.6h-3.6zM488.2 768.2h3.6v3.6h-3.6zM488.2 803.2h3.6v3.6h-3.6zM491.7 628.2h3.6v3.6h-3.6zM491.7 649.2h3.6v3.6h-3.6zM491.7 670.2h3.6v3.6h-3.6zM491.7 677.2h3.6v3.6h-3.6zM491.7 687.7h3.6v3.6h-3.6zM491.7 691.2h3.6v3.6h-3.6zM491.7 694.7h3.6v3.6h-3.6zM491.7 698.2h3.6v3.6h-3.6zM491.7 701.7h3.6v3.6h-3.6zM491.7 705.2h3.6v3.6h-3.6zM491.7 715.7h3.6v3.6h-3.6zM491.7 722.7h3.6v3.6h-3.6zM491.7 736.7h3.6v3.6h-3.6zM491.7 740.2h3.6v3.6h-3.6zM491.7 771.7h3.6v3.6h-3.6zM491.7 785.7h3.6v3.6h-3.6zM491.7 897.7h3.6v3.6h-3.6zM495.2 642.2h3.6v3.6h-3.6zM495.2 663.2h3.6v3.6h-3.6zM495.2 666.7h3.6v3.6h-3.6zM495.2 673.7h3.6v3.6h-3.6zM495.2 729.7h3.6v3.6h-3.6zM495.2 747.2h3.6v3.6h-3.6zM495.2 750.7h3.6v3.6h-3.6zM495.2 768.2h3.6v3.6h-3.6zM495.2 810.2h3.6v3.6h-3.6zM495.2 834.7h3.6v3.6h-3.6zM495.2 894.2h3.6v3.6h-3.6zM498.7 673.7h3.6v3.6h-3.6zM498.7 719.2h3.6v3.6h-3.6zM498.7 722.7h3.6v3.6h-3.6zM498.7 733.2h3.6v3.6h-3.6zM498.7 743.7h3.6v3.6h-3.6zM498.7 757.7h3.6v3.6h-3.6zM502.2 635.2h3.6v3.6h-3.6zM502.2 642.2h3.6v3.6h-3.6zM502.2 684.2h3.6v3.6h-3.6zM502.2 691.2h3.6v3.6h-3.6zM502.2 698.2h3.6v3.6h-3.6zM502.2 705.2h3.6v3.6h-3.6zM502.2 712.2h3.6v3.6h-3.6zM502.2 726.2h3.6v3.6h-3.6zM502.2 757.7h3.6v3.6h-3.6zM502.2 761.2h3.6v3.6h-3.6zM502.2 764.7h3.6v3.6h-3.6zM502.2 792.7h3.6v3.6h-3.6zM502.2 799.7h3.6v3.6h-3.6zM502.2 838.2h3.6v3.6h-3.6zM502.2 841.7h3.6v3.6h-3.6zM502.2 845.2h3.6v3.6h-3.6zM502.2 855.7h3.6v3.6h-3.6zM509.2 859.2h3.6v3.6h-3.6zM512.7 719.2h3.6v3.6h-3.6zM519.7 778.7h3.6v3.6h-3.6zM530.2 649.2h3.6v3.6h-3.6zM533.7 596.7h3.6v3.6h-3.6zM540.7 789.2h3.6v3.6h-3.6zM547.7 596.7h3.6v3.6h-3.6zM547.7 799.7h3.6v3.6h-3.6zM558.2 596.7h3.6v3.6h-3.6zM558.2 806.7h3.6v3.6h-3.6zM561.7 649.2h3.6v3.6h-3.6zM565.2 575.7h3.6v3.6h-3.6zM579.2 673.7h3.6v3.6h-3.6zM582.7 764.7h3.6v3.6h-3.6zM607.2 558.2h3.6v3.6h-3.6zM614.2 540.7h3.6v3.6h-3.6zM614.2 551.2h3.6v3.6h-3.6zM838.2 372.7h3.6v3.6h-3.6zM841.7 365.7h3.6v3.6h-3.6z" fill="#e61e1e"/>
<path d="M1499.7 435.7h3.6v3.6h-3.6zM1499.7 449.7h3.6v3.6h-3.6zM1499.7 467.2h3.6v3.6h-3.6zM1499.7 484.7h3.6v3.6h-3.6zM1503.2 428.7h3.6v3.6h-3.6zM1503.2 435.7h3.6v3.6h-3.6zM1503.2 442.7h3.6v3.6h-3.6zM1506.7 446.2h3.6v3.6h-3.6zM1506.7 456.7h3.6v3.6h-3.6zM1506.7 460.2h3.6v3.6h-3.6zM1506.7 477.7h3.6v3.6h-3.6zM1506.7 481.2h3.6v3.6h-3.6zM1506.7 484.7h3.6v3.6h-3.6zM1506.7 488.2h3.6v3.6h-3.6zM1506.7 491.7h3.6v3.6h-3.6zM1506.7 495.2h3.6v3.6h-3.6zM1506.7 498.7h3.6v3.6h-3.6zM1506.7 502.2h3.6v3.6h-3.6zM1510.2 442.7h3.6v3.6h-3.6zM1510.2 449.7h3.6v3.6h-3.6zM1510.2 470.7h3.6v3.6h-3.6zM1510.2 484.7h3.6v3.6h-3.6zM1513.7 435.7h3.6v3.6h-3.6zM1513.7 442.7h3.6v3.6h-3.6zM1513.7 460.2h3.6v3.6h-3.6zM1513.7 491.7h3.6v3.6h-3.6zM1513.7 498.7h3.6v3.6h-3.6zM1517.2 400.7h3.6v3.6h-3.6zM1517.2 432.2h3.6v3.6h-3.6zM1517.2 442.7h3.6v3.6h-3.6zM1517.2 484.7h3.6v3.6h-3.6zM1517.2 495.2h3.6v3.6h-3.6zM1517.2 498.7h3.6v3.6h-3.6zM1517.2 505.7h3.6v3.6h-3.6zM1520.7 407.7h3.6v3.6h-3.6zM1520.7 460.2h3.6v3.6h-3.6zM1520.7 463.7h3.6v3.6h-3.6zM1520.7 467.2h3.6v3.6h-3.6zM1520.7 470.7h3.6v3.6h-3.6zM1520.7 477.7h3.6v3.6h-3.6zM1520.7 488.2h3.6v3.6h-3.6zM1520.7 491.7h3.6v3.6h-3.6zM1520.7 502.2h3.6v3.6h-3.6zM1520.7 509.2h3.6v3.6h-3.6zM1524.2 407.7h3.6v3.6h-3.6zM1524.2 446.2h3.6v3.6h-3.6zM1524.2 463.7h3.6v3.6h-3.6zM1524.2 467.2h3.6v3.6h-3.6zM1524.2 481.2h3.6v3.6h-3.6zM1524.2 488.2h3.6v3.6h-3.6zM1524.2 495.2h3.6v3.6h-3.6zM1527.7 404.2h3.6v3.6h-3.6zM1527.7 432.2h3.6v3.6h-3.6zM1527.7 435.7h3.6v3.6h-3.6zM1527.7 439.2h3.6v3.6h-3.6zM1527.7 456.7h3.6v3.6h-3.6zM1527.7 463.7h3.6v3.6h-3.6zM1527.7 470.7h3.6v3.6h-3.6zM1527.7 481.2h3.6v3.6h-3.6zM1527.7 488.2h3.6v3.6h-3.6zM1527.7 495.2h3.6v3.6h-3.6zM1527.7 505.7h3.6v3.6h-3.6zM1531.2 407.7h3.6v3.6h-3.6zM1531.2 428.7h3.6v3.6h-3.6zM1531.2 446.2h3.6v3.6h-3.6zM1531.2 453.2h3.6v3.6h-3.6zM1531.2 456.7h3.6v3.6h-3.6zM1531.2 470.7h3.6v3.6h-3.6zM1531.2 474.2h3.6v3.6h-3.6zM1531.2 477.7h3.6v3.6h-3.6zM1531.2 481.2h3.6v3.6h-3.6zM1531.2 484.7h3.6v3.6h-3.6zM1531.2 488.2h3.6v3.6h-3.6zM1531.2 491.7h3.6v3.6h-3.6zM1531.2 498.7h3.6v3.6h-3.6zM1531.2 502.2h3.6v3.6h-3.6zM1531.2 509.2h3.6v3.6h-3.6zM1534.7 414.7h3.6v3.6h-3.6zM1534.7 432.2h3.6v3.6h-3.6zM1534.7 439.2h3.6v3.6h-3.6zM1534.7 442.7h3.6v3.6h-3.6zM1534.7 446.2h3.6v3.6h-3.6zM1534.7 449.7h3.6v3.6h-3.6zM1534.7 467.2h3.6v3.6h-3.6zM1534.7 474.2h3.6v3.6h-3.6zM1534.7 488.2h3.6v3.6h-3.6zM1534.7 491.7h3.6v3.6h-3.6zM1534.7 498.7h3.6v3.6h-3.6zM1538.2 446.2h3.6v3.6h-3.6zM1538.2 456.7h3.6v3.6h-3.6zM1538.2 460.2h3.6v3.6h-3.6zM1538.2 463.7h3.6v3.6h-3.6zM1538.2 477.7h3.6v3.6h-3.6zM1538.2 481.2h3.6v3.6h-3.6zM1538.2 484.7h3.6v3.6h-3.6zM1538.2 488.2h3.6v3.6h-3.6zM1538.2 498.7h3.6v3.6h-3.6zM1538.2 502.2h3.6v3.6h-3.6zM1541.7 428.7h3.6v3.6h-3.6zM1541.7 432.2h3.6v3.6h-3.6zM1541.7 435.7h3.6v3.6h-3.6zM1541.7 442.7h3.6v3.6h-3.6zM1541.7 446.2h3.6v3.6h-3.6zM1541.7 453.2h3.6v3.6h-3.6zM1541.7 460.2h3.6v3.6h-3.6zM1541.7 463.7h3.6v3.6h-3.6zM1541.7 467.2h3.6v3.6h-3.6zM1541.7 470.7h3.6v3.6h-3.6zM1541.7 474.2h3.6v3.6h-3.6zM1541.7 477.7h3.6v3.6h-3.6zM1541.7 484.7h3.6v3.6h-3.6zM1541.7 488.2h3.6v3.6h-3.6zM1541.7 498.7h3.6v3.6h-3.6zM1541.7 502.2h3.6v3.6h-3.6zM1541.7 509.2h3.6v3.6h-3.6zM1545.2 428.7h3.6v3.6h-3.6zM1545.2 449.7h3.6v3.6h-3.6zM1545.2 453.2h3.6v3.6h-3.6zM1545.2 456.7h3.6v3.6h-3.6zM1545.2 460.2h3.6v3.6h-3.6zM1545.2 467.2h3.6v3.6h-3.6zM1545.2 474.2h3.6v3.6h-3.6zM1545.2 498.7h3.6v3.6h-3.6zM1545.2 502.2h3.6v3.6h-3.6zM1545.2 505.7h3.6v3.6h-3.6zM1548.7 404.2h3.6v3.6h-3.6zM1548.7 418.2h3.6v3.6h-3.6zM1548.7 432.2h3.6v3.6h-3.6zM1548.7 439.2h3.6v3.6h-3.6zM1548.7 446.2h3.6v3.6h-3.6zM1548.7 449.7h3.6v3.6h-3.6zM1548.7 453.2h3.6v3.6h-3.6zM1548.7 456.7h3.6v3.6h-3.6zM1548.7 470.7h3.6v3.6h-3.6zM1548.7 481.2h3.6v3.6h-3.6zM1548.7 484.7h3.6v3.6h-3.6zM1548.7 488.2h3.6v3.6h-3.6zM1548.7 491.7h3.6v3.6h-3.6zM1552.2 428.7h3.6v3.6h-3.6zM1552.2 435.7h3.6v3.6h-3.6zM1552.2 446.2h3.6v3.6h-3.6zM1552.2 453.2h3.6v3.6h-3.6zM1552.2 456.7h3.6v3.6h-3.6zM1552.2 463.7h3.6v3.6h-3.6zM1552.2 470.7h3.6v3.6h-3.6zM1552.2 474.2h3.6v3.6h-3.6zM1552.2 477.7h3.6v3.6h-3.6zM1552.2 484.7h3.6v3.6h-3.6zM1552.2 488.2h3.6v3.6h-3.6zM1552.2 491.7h3.6v3.6h-3.6zM1552.2 498.7h3.6v3.6h-3.6zM1552.2 502.2h3.6v3.6h-3.6zM1555.7 397.2h3.6v3.6h-3.6zM1555.7 428.7h3.6v3.6h-3.6zM1555.7 439.2h3.6v3.6h-3.6zM1555.7 453.2h3.6v3.6h-3.6zM1555.7 456.7h3.6v3.6h-3.6zM1555.7 460.2h3.6v3.6h-3.6zM1555.7 467.2h3.6v3.6h-3.6zM1555.7 470.7h3.6v3.6h-3.6zM1555.7 484.7h3.6v3.6h-3.6zM1555.7 488.2h3.6v3.6h-3.6zM1555.7 491.7h3.6v3.6h-3.6zM1555.7 495.2h3.6v3.6h-3.6zM1555.7 505.7h3.6v3.6h-3.6zM1559.2 421.7h3.6v3.6h-3.6zM1559.2 439.2h3.6v3.6h-3.6zM1559.2 453.2h3.6v3.6h-3.6zM1559.2 456.7h3.6v3.6h-3.6zM1559.2 463.7h3.6v3.6h-3.6zM1559.2 467.2h3.6v3.6h-3.6zM1559.2 470.7h3.6v3.6h-3.6zM1559.2 477.7h3.6v3.6h-3.6zM1559.2 484.7h3.6v3.6h-3.6zM1559.2 488.2h3.6v3.6h-3.6zM1562.7 411.2h3.6v3.6h-3.6zM1562.7 414.7h3.6v3.6h-3.6zM1562.7 421.7h3.6v3.6h-3.6zM1562.7 432.2h3.6v3.6h-3.6zM1562.7 442.7h3.6v3.6h-3.6zM1562.7 449.7h3.6v3.6h-3.6zM1562.7 456.7h3.6v3.6h-3.6zM1562.7 463.7h3.6v3.6h-3.6zM1562.7 470.7h3.6v3.6h-3.6zM1562.7 474.2h3.6v3.6h-3.6zM1562.7 477.7h3.6v3.6h-3.6zM1562.7 481.2h3.6v3.6h-3.6zM1562.7 488.2h3.6v3.6h-3.6zM1562.7 495.2h3.6v3.6h-3.6zM1562.7 498.7h3.6v3.6h-3.6zM1562.7 512.7h3.6v3.6h-3.6zM1562.7 530.2h3.6v3.6h-3.6zM1566.2 414.7h3.6v3.6h-3.6zM1566.2 421.7h3.6v3.6h-3.6zM1566.2 425.2h3.6v3.6h-3.6zM1566.2 428.7h3.6v3.6h-3.6zM1566.2 449.7h3.6v3.6h-3.6zM1566.2 453.2h3.6v3.6h-3.6zM1566.2 456.7h3.6v3.6h-3.6zM1566.2 460.2h3.6v3.6h-3.6zM1566.2 463.7h3.6v3.6h-3.6zM1566.2 467.2h3.6v3.6h-3.6zM1566.2 470.7h3.6v3.6h-3.6zM1566.2 474.2h3.6v3.6h-3.6zM1566.2 481.2h3.6v3.6h-3.6zM1566.2 488.2h3.6v3.6h-3.6zM1566.2 526.7h3.6v3.6h-3.6zM1569.7 418.2h3.6v3.6h-3.6zM1569.7 446.2h3.6v3.6h-3.6zM1569.7 453.2h3.6v3.6h-3.6zM1569.7 456.7h3.6v3.6h-3.6zM1569.7 460.2h3.6v3.6h-3.6zM1569.7 463.7h3.6v3.6h-3.6zM1569.7 467.2h3.6v3.6h-3.6zM1569.7 470.7h3.6v3.6h-3.6zM1569.7 474.2h3.6v3.6h-3.6zM1569.7 477.7h3.6v3.6h-3.6zM1569.7 481.2h3.6v3.6h-3.6zM1569.7 491.7h3.6v3.6h-3.6zM1569.7 495.2h3.6v3.6h-3.6zM1569.7 498.7h3.6v3.6h-3.6zM1569.7 509.2h3.6v3.6h-3.6zM1573.2 418.2h3.6v3.6h-3.6zM1573.2 428.7h3.6v3.6h-3.6zM1573.2 446.2h3.6v3.6h-3.6zM1573.2 453.2h3.6v3.6h-3.6zM1573.2 456.7h3.6v3.6h-3.6zM1573.2 467.2h3.6v3.6h-3.6zM1573.2 470.7h3.6v3.6h-3.6zM1573.2 474.2h3.6v3.6h-3.6zM1573.2 477.7h3.6v3.6h-3.6zM1573.2 481.2h3.6v3.6h-3.6zM1573.2 488.2h3.6v3.6h-3.6zM1573.2 491.7h3.6v3.6h-3.6zM1573.2 502.2h3.6v3.6h-3.6zM1573.2 505.7h3.6v3.6h-3.6zM1573.2 509.2h3.6v3.6h-3.6zM1573.2 519.7h3.6v3.6h-3.6zM1573.2 533.7h3.6v3.6h-3.6zM1576.7 435.7h3.6v3.6h-3.6zM1576.7 456.7h3.6v3.6h-3.6zM1576.7 470.7h3.6v3.6h-3.6zM1576.7 477.7h3.6v3.6h-3.6zM1576.7 481.2h3.6v3.6h-3.6zM1576.7 498.7h3.6v3.6h-3.6zM1576.7 502.2h3.6v3.6h-3.6zM1576.7 509.2h3.6v3.6h-3.6zM1576.7 519.7h3.6v3.6h-3.6zM1576.7 523.2h3.6v3.6h-3.6zM1576.7 526.7h3.6v3.6h-3.6zM1580.2 418.2h3.6v3.6h-3.6zM1580.2 425.2h3.6v3.6h-3.6zM1580.2 432.2h3.6v3.6h-3.6zM1580.2 446.2h3.6v3.6h-3.6zM1580.2 456.7h3.6v3.6h-3.6zM1580.2 467.2h3.6v3.6h-3.6zM1580.2 470.7h3.6v3.6h-3.6zM1580.2 474.2h3.6v3.6h-3.6zM1580.2 477.7h3.6v3.6h-3.6zM1580.2 495.2h3.6v3.6h-3.6zM1580.2 498.7h3.6v3.6h-3.6zM1580.2 502.2h3.6v3.6h-3.6zM1580.2 505.7h3.6v3.6h-3.6zM1580.2 523.2h3.6v3.6h-3.6zM1580.2 526.7h3.6v3.6h-3.6zM1583.7 449.7h3.6v3.6h-3.6zM1583.7 453.2h3.6v3.6h-3.6zM1583.7 456.7h3.6v3.6h-3.6zM1583.7 460.2h3.6v3.6h-3.6zM1583.7 463.7h3.6v3.6h-3.6zM1583.7 467.2h3.6v3.6h-3.6zM1583.7 470.7h3.6v3.6h-3.6zM1583.7 474.2h3.6v3.6h-3.6zM1583.7 484.7h3.6v3.6h-3.6zM1583.7 488.2h3.6v3.6h-3.6zM1583.7 491.7h3.6v3.6h-3.6zM1583.7 495.2h3.6v3.6h-3.6zM1583.7 512.7h3.6v3.6h-3.6zM1583.7 516.2h3.6v3.6h-3.6zM1583.7 519.7h3.6v3.6h-3.6zM1583.7 540.7h3.6v3.6h-3.6zM1587.2 421.7h3.6v3.6h-3.6zM1587.2 432.2h3.6v3.6h-3.6zM1587.2 442.7h3.6v3.6h-3.6zM1587.2 453.2h3.6v3.6h-3.6zM1587.2 460.2h3.6v3.6h-3.6zM1587.2 463.7h3.6v3.6h-3.6zM1587.2 467.2h3.6v3.6h-3.6zM1587.2 470.7h3.6v3.6h-3.6zM1587.2 474.2h3.6v3.6h-3.6zM1587.2 477.7h3.6v3.6h-3.6zM1587.2 481.2h3.6v3.6h-3.6zM1587.2 484.7h3.6v3.6h-3.6zM1587.2 488.2h3.6v3.6h-3.6zM1587.2 495.2h3.6v3.6h-3.6zM1587.2 502.2h3.6v3.6h-3.6zM1587.2 505.7h3.6v3.6h-3.6zM1587.2 526.7h3.6v3.6h-3.6zM1590.7 411.2h3.6v3.6h-3.6zM1590.7 439.2h3.6v3.6h-3.6zM1590.7 442.7h3.6v3.6h-3.6zM1590.7 449.7h3.6v3.6h-3.6zM1590.7 456.7h3.6v3.6h-3.6zM1590.7 460.2h3.6v3.6h-3.6zM1590.7 463.7h3.6v3.6h-3.6zM1590.7 467.2h3.6v3.6h-3.6zM1590.7 470.7h3.6v3.6h-3.6zM1590.7 488.2h3.6v3.6h-3.6zM1590.7 491.7h3.6v3.6h-3.6zM1590.7 495.2h3.6v3.6h-3.6zM1590.7 498.7h3.6v3.6h-3.6zM1590.7 502.2h3.6v3.6h-3.6zM1590.7 505.7h3.6v3.6h-3.6zM1590.7 512.7h3.6v3.6h-3.6zM1594.2 407.7h3.6v3.6h-3.6zM1594.2 439.2h3.6v3.6h-3.6zM1594.2 446.2h3.6v3.6h-3.6zM1594.2 449.7h3.6v3.6h-3.6zM1594.2 453.2h3.6v3.6h-3.6zM1594.2 456.7h3.6v3.6h-3.6zM1594.2 460.2h3.6v3.6h-3.6zM1594.2 463.7h3.6v3.6h-3.6zM1594.2 467.2h3.6v3.6h-3.6zM1594.2 474.2h3.6v3.6h-3.6zM1594.2 477.7h3.6v3.6h-3.6zM1594.2 481.2h3.6v3.6h-3.6zM1594.2 484.7h3.6v3.6h-3.6zM1594.2 488.2h3.6v3.6h-3.6zM1594.2 491.7h3.6v3.6h-3.6zM1594.2 495.2h3.6v3.6h-3.6zM1594.2 498.7h3.6v3.6h-3.6zM1594.2 512.7h3.6v3.6h-3.6zM1594.2 519.7h3.6v3.6h-3.6zM1597.7 400.7h3.6v3.6h-3.6zM1597.7 411.2h3.6v3.6h-3.6zM1597.7 435.7h3.6v3.6h-3.6zM1597.7 439.2h3.6v3.6h-3.6zM1597.7 442.7h3.6v3.6h-3.6zM1597.7 446.2h3.6v3.6h-3.6zM1597.7 449.7h3.6v3.6h-3.6zM1597.7 453.2h3.6v3.6h-3.6zM1597.7 456.7h3.6v3.6h-3.6zM1597.7 470.7h3.6v3.6h-3.6zM1597.7 477.7h3.6v3.6h-3.6zM1597.7 484.7h3.6v3.6h-3.6zM1597.7 488.2h3.6v3.6h-3.6zM1597.7 502.2h3.6v3.6h-3.6zM1597.7 505.7h3.6v3.6h-3.6zM1597.7 526.7h3.6v3.6h-3.6zM1597.7 533.7h3.6v3.6h-3.6zM1597.7 537.2h3.6v3.6h-3.6zM1601.2 414.7h3.6v3.6h-3.6zM1601.2 418.2h3.6v3.6h-3.6zM1601.2 425.2h3.6v3.6h-3.6zM1601.2 432.2h3.6v3.6h-3.6zM1601.2 442.7h3.6v3.6h-3.6zM1601.2 446.2h3.6v3.6h-3.6zM1601.2 449.7h3.6v3.6h-3.6zM1601.2 467.2h3.6v3.6h-3.6zM1601.2 470.7h3.6v3.6h-3.6zM1601.2 474.2h3.6v3.6h-3.6zM1601.2 481.2h3.6v3.6h-3.6zM1601.2 484.7h3.6v3.6h-3.6zM1601.2 491.7h3.6v3.6h-3.6zM1601.2 498.7h3.6v3.6h-3.6zM1601.2 502.2h3.6v3.6h-3.6zM1601.2 512.7h3.6v3.6h-3.6zM1601.2 519.7h3.6v3.6h-3.6zM1601.2 523.2h3.6v3.6h-3.6zM1601.2 544.2h3.6v3.6h-3.6zM1604.7 407.7h3.6v3.6h-3.6zM1604.7 421.7h3.6v3.6h-3.6zM1604.7 442.7h3.6v3.6h-3.6zM1604.7 453.2h3.6v3.6h-3.6zM1604.7 463.7h3.6v3.6h-3.6zM1604.7 467.2h3.6v3.6h-3.6zM1604.7 470.7h3.6v3.6h-3.6zM1604.7 474.2h3.6v3.6h-3.6zM1604.7 477.7h3.6v3.6h-3.6zM1604.7 481.2h3.6v3.6h-3.6zM1604.7 484.7h3.6v3.6h-3.6zM1604.7 491.7h3.6v3.6h-3.6zM1604.7 512.7h3.6v3.6h-3.6zM1604.7 516.2h3.6v3.6h-3.6zM1604.7 519.7h3.6v3.6h-3.6zM1604.7 523.2h3.6v3.6h-3.6zM1604.7 530.2h3.6v3.6h-3.6zM1604.7 533.7h3.6v3.6h-3.6zM1608.2 421.7h3.6v3.6h-3.6zM1608.2 428.7h3.6v3.6h-3.6zM1608.2 435.7h3.6v3.6h-3.6zM1608.2 449.7h3.6v3.6h-3.6zM1608.2 460.2h3.6v3.6h-3.6zM1608.2 463.7h3.6v3.6h-3.6zM1608.2 467.2h3.6v3.6h-3.6zM1608.2 470.7h3.6v3.6h-3.6zM1608.2 477.7h3.6v3.6h-3.6zM1608.2 481.2h3.6v3.6h-3.6zM1608.2 491.7h3.6v3.6h-3.6zM1608.2 495.2h3.6v3.6h-3.6zM1608.2 498.7h3.6v3.6h-3.6zM1608.2 502.2h3.6v3.6h-3.6zM1608.2 509.2h3.6v3.6h-3.6zM1608.2 519.7h3.6v3.6h-3.6zM1611.7 397.2h3.6v3.6h-3.6zM1611.7 407.7h3.6v3.6h-3.6zM1611.7 435.7h3.6v3.6h-3.6zM1611.7 453.2h3.6v3.6h-3.6zM1611.7 460.2h3.6v3.6h-3.6zM1611.7 467.2h3.6v3.6h-3.6zM1611.7 470.7h3.6v3.6h-3.6zM1611.7 477.7h3.6v3.6h-3.6zM1611.7 481.2h3.6v3.6h-3.6zM1611.7 484.7h3.6v3.6h-3.6zM1611.7 495.2h3.6v3.6h-3.6zM1611.7 502.2h3.6v3.6h-3.6zM1611.7 505.7h3.6v3.6h-3.6zM1611.7 516.2h3.6v3.6h-3.6zM1611.7 519.7h3.6v3.6h-3.6zM1611.7 533.7h3.6v3.6h-3.6zM1611.7 537.2h3.6v3.6h-3.6zM1615.2 414.7h3.6v3.6h-3.6zM1615.2 446.2h3.6v3.6h-3.6zM1615.2 449.7h3.6v3.6h-3.6zM1615.2 453.2h3.6v3.6h-3.6zM1615.2 456.7h3.6v3.6h-3.6zM1615.2 463.7h3.6v3.6h-3.6zM1615.2 470.7h3.6v3.6h-3.6zM1615.2 477.7h3.6v3.6h-3.6zM1615.2 481.2h3.6v3.6h-3.6zM1615.2 484.7h3.6v3.6h-3.6zM1615.2 491.7h3.6v3.6h-3.6zM1615.2 495.2h3.6v3.6h-3.6zM1615.2 505.7h3.6v3.6h-3.6zM1615.2 509.2h3.6v3.6h-3.6zM1615.2 512.7h3.6v3.6h-3.6zM1615.2 516.2h3.6v3.6h-3.6zM1615.2 523.2h3.6v3.6h-3.6zM1615.2 533.7h3.6v3.6h-3.6zM1615.2 540.7h3.6v3.6h-3.6zM1618.7 421.7h3.6v3.6h-3.6zM1618.7 432.2h3.6v3.6h-3.6zM1618.7 435.7h3.6v3.6h-3.6zM1618.7 439.2h3.6v3.6h-3.6zM1618.7 442.7h3.6v3.6h-3.6zM1618.7 446.2h3.6v3.6h-3.6zM1618.7 453.2h3.6v3.6h-3.6zM1618.7 456.7h3.6v3.6h-3.6zM1618.7 460.2h3.6v3.6h-3.6zM1618.7 463.7h3.6v3.6h-3.6zM1618.7 467.2h3.6v3.6h-3.6zM1618.7 470.7h3.6v3.6h-3.6zM1618.7 474.2h3.6v3.6h-3.6zM1618.7 477.7h3.6v3.6h-3.6zM1618.7 481.2h3.6v3.6h-3.6zM1618.7 484.7h3.6v3.6h-3.6zM1618.7 495.2h3.6v3.6h-3.6zM1618.7 498.7h3.6v3.6h-3.6zM1618.7 502.2h3.6v3.6h-3.6zM1618.7 505.7h3.6v3.6h-3.6zM1618.7 509.2h3.6v3.6h-3.6zM1618.7 519.7h3.6v3.6h-3.6zM1618.7 537.2h3.6v3.6h-3.6zM1622.2 425.2h3.6v3.6h-3.6zM1622.2 432.2h3.6v3.6h-3.6zM1622.2 439.2h3.6v3.6h-3.6zM1622.2 442.7h3.6v3.6h-3.6zM1622.2 453.2h3.6v3.6h-3.6zM1622.2 460.2h3.6v3.6h-3.6zM1622.2 470.7h3.6v3.6h-3.6zM1622.2 477.7h3.6v3.6h-3.6zM1622.2 484.7h3.6v3.6h-3.6zM1622.2 488.2h3.6v3.6h-3.6zM1622.2 491.7h3.6v3.6h-3.6zM1622.2 498.7h3.6v3.6h-3.6zM1622.2 502.2h3.6v3.6h-3.6zM1622.2 505.7h3.6v3.6h-3.6zM1622.2 509.2h3.6v3.6h-3.6zM1622.2 512.7h3.6v3.6h-3.6zM1622.2 530.2h3.6v3.6h-3.6zM1625.7 425.2h3.6v3.6h-3.6zM1625.7 432.2h3.6v3.6h-3.6zM1625.7 460.2h3.6v3.6h-3.6zM1625.7 463.7h3.6v3.6h-3.6zM1625.7 467.2h3.6v3.6h-3.6zM1625.7 470.7h3.6v3.6h-3.6zM1625.7 474.2h3.6v3.6h-3.6zM1625.7 481.2h3.6v3.6h-3.6zM1625.7 484.7h3.6v3.6h-3.6zM1625.7 488.2h3.6v3.6h-3.6zM1625.7 491.7h3.6v3.6h-3.6zM1625.7 498.7h3.6v3.6h-3.6zM1625.7 502.2h3.6v3.6h-3.6zM1625.7 509.2h3.6v3.6h-3.6zM1625.7 519.7h3.6v3.6h-3.6zM1625.7 537.2h3.6v3.6h-3.6zM1629.2 421.7h3.6v3.6h-3.6zM1629.2 439.2h3.6v3.6h-3.6zM1629.2 446.2h3.6v3.6h-3.6zM1629.2 453.2h3.6v3.6h-3.6zM1629.2 460.2h3.6v3.6h-3.6zM1629.2 463.7h3.6v3.6h-3.6zM1629.2 470.7h3.6v3.6h-3.6zM1629.2 474.2h3.6v3.6h-3.6zM1629.2 477.7h3.6v3.6h-3.6zM1629.2 481.2h3.6v3.6h-3.6zM1629.2 484.7h3.6v3.6h-3.6zM1629.2 491.7h3.6v3.6h-3.6zM1629.2 495.2h3.6v3.6h-3.6zM1629.2 498.7h3.6v3.6h-3.6zM1629.2 502.2h3.6v3.6h-3.6zM1629.2 509.2h3.6v3.6h-3.6zM1629.2 512.7h3.6v3.6h-3.6zM1629.2 519.7h3.6v3.6h-3.6zM1629.2 523.2h3.6v3.6h-3.6zM1629.2 533.7h3.6v3.6h-3.6zM1629.2 537.2h3.6v3.6h-3.6zM1629.2 540.7h3.6v3.6h-3.6zM1632.7 414.7h3.6v3.6h-3.6zM1632.7 432.2h3.6v3.6h-3.6zM1632.7 439.2h3.6v3.6h-3.6zM1632.7 442.7h3.6v3.6h-3.6zM1632.7 446.2h3.6v3.6h-3.6zM1632.7 453.2h3.6v3.6h-3.6zM1632.7 460.2h3.6v3.6h-3.6zM1632.7 463.7h3.6v3.6h-3.6zM1632.7 470.7h3.6v3.6h-3.6zM1632.7 474.2h3.6v3.6h-3.6zM1632.7 477.7h3.6v3.6h-3.6zM1632.7 481.2h3.6v3.6h-3.6zM1632.7 484.7h3.6v3.6h-3.6zM1632.7 488.2h3.6v3.6h-3.6zM1632.7 491.7h3.6v3.6h-3.6zM1632.7 495.2h3.6v3.6h-3.6zM1632.7 498.7h3.6v3.6h-3.6zM1632.7 502.2h3.6v3.6h-3.6zM1632.7 509.2h3.6v3.6h-3.6zM1632.7 512.7h3.6v3.6h-3.6zM1632.7 519.7h3.6v3.6h-3.6zM1632.7 523.2h3.6v3.6h-3.6zM1632.7 526.7h3.6v3.6h-3.6zM1632.7 530.2h3.6v3.6h-3.6zM1632.7 533.7h3.6v3.6h-3.6zM1636.2 421.7h3.6v3.6h-3.6zM1636.2 435.7h3.6v3.6h-3.6zM1636.2 442.7h3.6v3.6h-3.6zM1636.2 449.7h3.6v3.6h-3.6zM1636.2 460.2h3.6v3.6h-3.6zM1636.2 467.2h3.6v3.6h-3.6zM1636.2 470.7h3.6v3.6h-3.6zM1636.2 474.2h3.6v3.6h-3.6zM1636.2 477.7h3.6v3.6h-3.6zM1636.2 481.2h3.6v3.6h-3.6zM1636.2 484.7h3.6v3.6h-3.6zM1636.2 491.7h3.6v3.6h-3.6zM1636.2 495.2h3.6v3.6h-3.6zM1636.2 498.7h3.6v3.6h-3.6zM1636.2 502.2h3.6v3.6h-3.6zM1636.2 505.7h3.6v3.6h-3.6zM1636.2 509.2h3.6v3.6h-3.6zM1636.2 512.7h3.6v3.6h-3.6zM1636.2 516.2h3.6v3.6h-3.6zM1636.2 519.7h3.6v3.6h-3.6zM1636.2 523.2h3.6v3.6h-3.6zM1636.2 526.7h3.6v3.6h-3.6zM1636.2 533.7h3.6v3.6h-3.6zM1636.2 537.2h3.6v3.6h-3.6zM1636.2 547.7h3.6v3.6h-3.6zM1639.7 428.7h3.6v3.6h-3.6zM1639.7 442.7h3.6v3.6h-3.6zM1639.7 453.2h3.6v3.6h-3.6zM1639.7 456.7h3.6v3.6h-3.6zM1639.7 463.7h3.6v3.6h-3.6zM1639.7 467.2h3.6v3.6h-3.6zM1639.7 470.7h3.6v3.6h-3.6zM1639.7 477.7h3.6v3.6h-3.6zM1639.7 481.2h3.6v3.6h-3.6zM1639.7 488.2h3.6v3.6h-3.6zM1639.7 491.7h3.6v3.6h-3.6zM1639.7 495.2h3.6v3.6h-3.6zM1639.7 498.7h3.6v3.6h-3.6zM1639.7 502.2h3.6v3.6h-3.6zM1639.7 505.7h3.6v3.6h-3.6zM1639.7 509.2h3.6v3.6h-3.6zM1639.7 516.2h3.6v3.6h-3.6zM1639.7 519.7h3.6v3.6h-3.6zM1639.7 523.2h3.6v3.6h-3.6zM1639.7 526.7h3.6v3.6h-3.6zM1639.7 530.2h3.6v3.6h-3.6zM1639.7 533.7h3.6v3.6h-3.6zM1639.7 537.2h3.6v3.6h-3.6zM1639.7 544.2h3.6v3.6h-3.6zM1639.7 551.2h3.6v3.6h-3.6zM1639.7 558.2h3.6v3.6h-3.6zM1643.2 404.2h3.6v3.6h-3.6zM1643.2 411.2h3.6v3.6h-3.6zM1643.2 428.7h3.6v3.6h-3.6zM1643.2 432.2h3.6v3.6h-3.6zM1643.2 446.2h3.6v3.6h-3.6zM1643.2 449.7h3.6v3.6h-3.6zM1643.2 453.2h3.6v3.6h-3.6zM1643.2 456.7h3.6v3.6h-3.6zM1643.2 463.7h3.6v3.6h-3.6zM1643.2 467.2h3.6v3.6h-3.6zM1643.2 470.7h3.6v3.6h-3.6zM1643.2 474.2h3.6v3.6h-3.6zM1643.2 484.7h3.6v3.6h-3.6zM1643.2 488.2h3.6v3.6h-3.6zM1643.2 491.7h3.6v3.6h-3.6zM1643.2 498.7h3.6v3.6h-3.6zM1643.2 505.7h3.6v3.6h-3.6zM1643.2 509.2h3.6v3.6h-3.6zM1643.2 512.7h3.6v3.6h-3.6zM1643.2 519.7h3.6v3.6h-3.6zM1643.2 523.2h3.6v3.6h-3.6zM1643.2 526.7h3.6v3.6h-3.6zM1643.2 530.2h3.6v3.6h-3.6zM1643.2 533.7h3.6v3.6h-3.6zM1643.2 540.7h3.6v3.6h-3.6zM1643.2 544.2h3.6v3.6h-3.6zM1643.2 551.2h3.6v3.6h-3.6zM1646.7 397.2h3.6v3.6h-3.6zM1646.7 432.2h3.6v3.6h-3.6zM1646.7 435.7h3.6v3.6h-3.6zM1646.7 446.2h3.6v3.6h-3.6zM1646.7 449.7h3.6v3.6h-3.6zM1646.7 453.2h3.6v3.6h-3.6zM1646.7 456.7h3.6v3.6h-3.6zM1646.7 460.2h3.6v3.6h-3.6zM1646.7 467.2h3.6v3.6h-3.6zM1646.7 474.2h3.6v3.6h-3.6zM1646.7 477.7h3.6v3.6h-3.6zM1646.7 481.2h3.6v3.6h-3.6zM1646.7 484.7h3.6v3.6h-3.6zM1646.7 488.2h3.6v3.6h-3.6zM1646.7 491.7h3.6v3.6h-3.6zM1646.7 495.2h3.6v3.6h-3.6zM1646.7 498.7h3.6v3.6h-3.6zM1646.7 505.7h3.6v3.6h-3.6zM1646.7 509.2h3.6v3.6h-3.6zM1646.7 512.7h3.6v3.6h-3.6zM1646.7 516.2h3.6v3.6h-3.6zM1646.7 519.7h3.6v3.6h-3.6zM1646.7 526.7h3.6v3.6h-3.6zM1646.7 530.2h3.6v3.6h-3.6zM1646.7 533.7h3.6v3.6h-3.6zM1650.2 418.2h3.6v3.6h-3.6zM1650.2 428.7h3.6v3.6h-3.6zM1650.2 442.7h3.6v3.6h-3.6zM1650.2 446.2h3.6v3.6h-3.6zM1650.2 453.2h3.6v3.6h-3.6zM1650.2 456.7h3.6v3.6h-3.6zM1650.2 460.2h3.6v3.6h-3.6zM1650.2 467.2h3.6v3.6h-3.6zM1650.2 470.7h3.6v3.6h-3.6zM1650.2 477.7h3.6v3.6h-3.6zM1650.2 481.2h3.6v3.6h-3.6zM1650.2 484.7h3.6v3.6h-3.6zM1650.2 488.2h3.6v3.6h-3.6zM1650.2 491.7h3.6v3.6h-3.6zM1650.2 495.2h3.6v3.6h-3.6zM1650.2 498.7h3.6v3.6h-3.6zM1650.2 505.7h3.6v3.6h-3.6zM1650.2 509.2h3.6v3.6h-3.6zM1650.2 512.7h3.6v3.6h-3.6zM1650.2 516.2h3.6v3.6h-3.6zM1650.2 519.7h3.6v3.6h-3.6zM1650.2 523.2h3.6v3.6h-3.6zM1650.2 530.2h3.6v3.6h-3.6zM1650.2 537.2h3.6v3.6h-3.6zM1650.2 540.7h3.6v3.6h-3.6zM1650.2 547.7h3.6v3.6h-3.6zM1650.2 551.2h3.6v3.6h-3.6zM1650.2 554.7h3.6v3.6h-3.6zM1653.7 393.7h3.6v3.6h-3.6zM1653.7 421.7h3.6v3.6h-3.6zM1653.7 428.7h3.6v3.6h-3.6zM1653.7 435.7h3.6v3.6h-3.6zM1653.7 439.2h3.6v3.6h-3.6zM1653.7 442.7h3.6v3.6h-3.6zM1653.7 446.2h3.6v3.6h-3.6zM1653.7 449.7h3.6v3.6h-3.6zM1653.7 453.2h3.6v3.6h-3.6zM1653.7 456.7h3.6v3.6h-3.6zM1653.7 460.2h3.6v3.6h-3.6zM1653.7 463.7h3.6v3.6h-3.6zM1653.7 467.2h3.6v3.6h-3.6zM1653.7 474.2h3.6v3.6h-3.6zM1653.7 481.2h3.6v3.6h-3.6zM1653.7 484.7h3.6v3.6h-3.6zM1653.7 488.2h3.6v3.6h-3.6zM1653.7 491.7h3.6v3.6h-3.6zM1653.7 498.7h3.6v3.6h-3.6zM1653.7 502.2h3.6v3.6h-3.6zM1653.7 505.7h3.6v3.6h-3.6zM1653.7 509.2h3.6v3.6h-3.6zM1653.7 512.7h3.6v3.6h-3.6zM1653.7 516.2h3.6v3.6h-3.6zM1653.7 519.7h3.6v3.6h-3.6zM1653.7 523.2h3.6v3.6h-3.6zM1653.7 526.7h3.6v3.6h-3.6zM1653.7 530.2h3.6v3.6h-3.6zM1653.7 533.7h3.6v3.6h-3.6zM1653.7 537.2h3.6v3.6h-3.6zM1653.7 544.2h3.6v3.6h-3.6zM1653.7 551.2h3.6v3.6h-3.6zM1657.2 404.2h3.6v3.6h-3.6zM1657.2 411.2h3.6v3.6h-3.6zM1657.2 428.7h3.6v3.6h-3.6zM1657.2 432.2h3.6v3.6h-3.6zM1657.2 442.7h3.6v3.6h-3.6zM1657.2 446.2h3.6v3.6h-3.6zM1657.2 449.7h3.6v3.6h-3.6zM1657.2 456.7h3.6v3.6h-3.6zM1657.2 460.2h3.6v3.6h-3.6zM1657.2 467.2h3.6v3.6h-3.6zM1657.2 470.7h3.6v3.6h-3.6zM1657.2 474.2h3.6v3.6h-3.6zM1657.2 477.7h3.6v3.6h-3.6zM1657.2 481.2h3.6v3.6h-3.6zM1657.2 484.7h3.6v3.6h-3.6zM1657.2 488.2h3.6v3.6h-3.6zM1657.2 491.7h3.6v3.6h-3.6zM1657.2 498.7h3.6v3.6h-3.6zM1657.2 502.2h3.6v3.6h-3.6zM1657.2 505.7h3.6v3.6h-3.6zM1657.2 509.2h3.6v3.6h-3.6zM1657.2 512.7h3.6v3.6h-3.6zM1657.2 516.2h3.6v3.6h-3.6zM1657.2 519.7h3.6v3.6h-3.6zM1657.2 523.2h3.6v3.6h-3.6zM1657.2 526.7h3.6v3.6h-3.6zM1657.2 530.2h3.6v3.6h-3.6zM1657.2 533.7h3.6v3.6h-3.6zM1657.2 537.2h3.6v3.6h-3.6zM1657.2 540.7h3.6v3.6h-3.6zM1657.2 544.2h3.6v3.6h-3.6zM1657.2 551.2h3.6v3.6h-3.6zM1657.2 554.7h3.6v3.6h-3.6zM1657.2 558.2h3.6v3.6h-3.6zM1660.7 393.7h3.6v3.6h-3.6zM1660.7 411.2h3.6v3.6h-3.6zM1660.7 432.2h3.6v3.6h-3.6zM1660.7 435.7h3.6v3.6h-3.6zM1660.7 446.2h3.6v3.6h-3.6zM1660.7 453.2h3.6v3.6h-3.6zM1660.7 456.7h3.6v3.6h-3.6zM1660.7 463.7h3.6v3.6h-3.6zM1660.7 467.2h3.6v3.6h-3.6zM1660.7 477.7h3.6v3.6h-3.6zM1660.7 481.2h3.6v3.6h-3.6zM1660.7 484.7h3.6v3.6h-3.6zM1660.7 488.2h3.6v3.6h-3.6zM1660.7 495.2h3.6v3.6h-3.6zM1660.7 498.7h3.6v3.6h-3.6zM1660.7 509.2h3.6v3.6h-3.6zM1660.7 512.7h3.6v3.6h-3.6zM1660.7 516.2h3.6v3.6h-3.6zM1660.7 519.7h3.6v3.6h-3.6zM1660.7 526.7h3.6v3.6h-3.6zM1660.7 530.2h3.6v3.6h-3.6zM1660.7 533.7h3.6v3.6h-3.6zM1660.7 537.2h3.6v3.6h-3.6zM1660.7 540.7h3.6v3.6h-3.6zM1660.7 544.2h3.6v3.6h-3.6zM1660.7 547.7h3.6v3.6h-3.6zM1660.7 551.2h3.6v3.6h-3.6zM1664.2 397.2h3.6v3.6h-3.6zM1664.2 421.7h3.6v3.6h-3.6zM1664.2 428.7h3.6v3.6h-3.6zM1664.2 446.2h3.6v3.6h-3.6zM1664.2 453.2h3.6v3.6h-3.6zM1664.2 456.7h3.6v3.6h-3.6zM1664.2 460.2h3.6v3.6h-3.6zM1664.2 463.7h3.6v3.6h-3.6zM1664.2 467.2h3.6v3.6h-3.6zM1664.2 470.7h3.6v3.6h-3.6zM1664.2 474.2h3.6v3.6h-3.6zM1664.2 477.7h3.6v3.6h-3.6zM1664.2 481.2h3.6v3.6h-3.6zM1664.2 484.7h3.6v3.6h-3.6zM1664.2 488.2h3.6v3.6h-3.6zM1664.2 491.7h3.6v3.6h-3.6zM1664.2 495.2h3.6v3.6h-3.6zM1664.2 498.7h3.6v3.6h-3.6zM1664.2 502.2h3.6v3.6h-3.6zM1664.2 505.7h3.6v3.6h-3.6zM1664.2 509.2h3.6v3.6h-3.6zM1664.2 512.7h3.6v3.6h-3.6zM1664.2 516.2h3.6v3.6h-3.6zM1664.2 519.7h3.6v3.6h-3.6zM1664.2 526.7h3.6v3.6h-3.6zM1664.2 530.2h3.6v3.6h-3.6zM1664.2 544.2h3.6v3.6h-3.6zM1664.2 551.2h3.6v3.6h-3.6zM1664.2 554.7h3.6v3.6h-3.6zM1667.7 463.7h3.6v3.6h-3.6zM1667.7 467.2h3.6v3.6h-3.6zM1667.7 470.7h3.6v3.6h-3.6zM1667.7 474.2h3.6v3.6h-3.6zM1667.7 477.7h3.6v3.6h-3.6zM1667.7 481.2h3.6v3.6h-3.6zM1667.7 484.7h3.6v3.6h-3.6zM1667.7 488.2h3.6v3.6h-3.6zM1667.7 491.7h3.6v3.6h-3.6zM1667.7 495.2h3.6v3.6h-3.6zM1667.7 498.7h3.6v3.6h-3.6zM1667.7 502.2h3.6v3.6h-3.6zM1667.7 505.7h3.6v3.6h-3.6zM1667.7 509.2h3.6v3.6h-3.6zM1667.7 512.7h3.6v3.6h-3.6zM1667.7 516.2h3.6v3.6h-3.6zM1667.7 519.7h3.6v3.6h-3.6zM1667.7 523.2h3.6v3.6h-3.6zM1667.7 526.7h3.6v3.6h-3.6zM1667.7 530.2h3.6v3.6h-3.6zM1667.7 533.7h3.6v3.6h-3.6zM1667.7 537.2h3.6v3.6h-3.6zM1667.7 544.2h3.6v3.6h-3.6zM1667.7 551.2h3.6v3.6h-3.6zM1667.7 554.7h3.6v3.6h-3.6zM1667.7 558.2h3.6v3.6h-3.6zM1667.7 561.7h3.6v3.6h-3.6zM1671.2 407.7h3.6v3.6h-3.6zM1671.2 425.2h3.6v3.6h-3.6zM1671.2 435.7h3.6v3.6h-3.6zM1671.2 453.2h3.6v3.6h-3.6zM1671.2 456.7h3.6v3.6h-3.6zM1671.2 460.2h3.6v3.6h-3.6zM1671.2 463.7h3.6v3.6h-3.6zM1671.2 467.2h3.6v3.6h-3.6zM1671.2 474.2h3.6v3.6h-3.6zM1671.2 477.7h3.6v3.6h-3.6zM1671.2 481.2h3.6v3.6h-3.6zM1671.2 484.7h3.6v3.6h-3.6zM1671.2 488.2h3.6v3.6h-3.6zM1671.2 491.7h3.6v3.6h-3.6zM1671.2 495.2h3.6v3.6h-3.6zM1671.2 498.7h3.6v3.6h-3.6zM1671.2 502.2h3.6v3.6h-3.6zM1671.2 505.7h3.6v3.6h-3.6zM1671.2 509.2h3.6v3.6h-3.6zM1671.2 512.7h3.6v3.6h-3.6zM1671.2 516.2h3.6v3.6h-3.6zM1671.2 519.7h3.6v3.6h-3.6zM1671.2 523.2h3.6v3.6h-3.6zM1671.2 526.7h3.6v3.6h-3.6zM1671.2 530.2h3.6v3.6h-3.6zM1671.2 533.7h3.6v3.6h-3.6zM1671.2 537.2h3.6v3.6h-3.6zM1671.2 540.7h3.6v3.6h-3.6zM1671.2 544.2h3.6v3.6h-3.6zM1671.2 547.7h3.6v3.6h-3.6zM1671.2 551.2h3.6v3.6h-3.6zM1671.2 554.7h3.6v3.6h-3.6zM1671.2 558.2h3.6v3.6h-3.6zM1671.2 561.7h3.6v3.6h-3.6zM1674.7 404.2h3.6v3.6h-3.6zM1674.7 432.2h3.6v3.6h-3.6zM1674.7 439.2h3.6v3.6h-3.6zM1674.7 446.2h3.6v3.6h-3.6zM1674.7 449.7h3.6v3.6h-3.6zM1674.7 453.2h3.6v3.6h-3.6zM1674.7 456.7h3.6v3.6h-3.6zM1674.7 460.2h3.6v3.6h-3.6zM1674.7 463.7h3.6v3.6h-3.6zM1674.7 467.2h3.6v3.6h-3.6zM1674.7 470.7h3.6v3.6h-3.6zM1674.7 474.2h3.6v3.6h-3.6zM1674.7 477.7h3.6v3.6h-3.6zM1674.7 481.2h3.6v3.6h-3.6zM1674.7 484.7h3.6v3.6h-3.6zM1674.7 488.2h3.6v3.6h-3.6zM1674.7 491.7h3.6v3.6h-3.6zM1674.7 495.2h3.6v3.6h-3.6zM1674.7 498.7h3.6v3.6h-3.6zM1674.7 502.2h3.6v3.6h-3.6zM1674.7 505.7h3.6v3.6h-3.6zM1674.7 509.2h3.6v3.6h-3.6zM1674.7 512.7h3.6v3.6h-3.6zM1674.7 516.2h3.6v3.6h-3.6zM1674.7 519.7h3.6v3.6h-3.6zM1674.7 523.2h3.6v3.6h-3.6zM1674.7 526.7h3.6v3.6h-3.6zM1674.7 530.2h3.6v3.6h-3.6zM1674.7 533.7h3.6v3.6h-3.6zM1674.7 537.2h3.6v3.6h-3.6zM1674.7 540.7h3.6v3.6h-3.6zM1674.7 544.2h3.6v3.6h-3.6zM1674.7 551.2h3.6v3.6h-3.6zM1674.7 554.7h3.6v3.6h-3.6zM1674.7 558.2h3.6v3.6h-3.6zM1674.7 561.7h3.6v3.6h-3.6zM1674.7 565.2h3.6v3.6h-3.6zM1678.2 425.2h3.6v3.6h-3.6zM1678.2 428.7h3.6v3.6h-3.6zM1678.2 435.7h3.6v3.6h-3.6zM1678.2 442.7h3.6v3.6h-3.6zM1678.2 446.2h3.6v3.6h-3.6zM1678.2 449.7h3.6v3.6h-3.6zM1678.2 453.2h3.6v3.6h-3.6zM1678.2 456.7h3.6v3.6h-3.6zM1678.2 467.2h3.6v3.6h-3.6zM1678.2 470.7h3.6v3.6h-3.6zM1678.2 477.7h3.6v3.6h-3.6zM1678.2 481.2h3.6v3.6h-3.6zM1678.2 484.7h3.6v3.6h-3.6zM1678.2 488.2h3.6v3.6h-3.6zM1678.2 491.7h3.6v3.6h-3.6zM1678.2 495.2h3.6v3.6h-3.6zM1678.2 498.7h3.6v3.6h-3.6zM1678.2 502.2h3.6v3.6h-3.6zM1678.2 505.7h3.6v3.6h-3.6zM1678.2 509.2h3.6v3.6h-3.6zM1678.2 512.7h3.6v3.6h-3.6zM1678.2 516.2h3.6v3.6h-3.6zM1678.2 519.7h3.6v3.6h-3.6zM1678.2 523.2h3.6v3.6h-3.6zM1678.2 526.7h3.6v3.6h-3.6zM1678.2 530.2h3.6v3.6h-3.6zM1678.2 533.7h3.6v3.6h-3.6zM1678.2 537.2h3.6v3.6h-3.6zM1678.2 544.2h3.6v3.6h-3.6zM1678.2 547.7h3.6v3.6h-3.6zM1678.2 551.2h3.6v3.6h-3.6zM1678.2 561.7h3.6v3.6h-3.6zM1681.7 418.2h3.6v3.6h-3.6zM1681.7 432.2h3.6v3.6h-3.6zM1681.7 435.7h3.6v3.6h-3.6zM1681.7 439.2h3.6v3.6h-3.6zM1681.7 442.7h3.6v3.6h-3.6zM1681.7 449.7h3.6v3.6h-3.6zM1681.7 453.2h3.6v3.6h-3.6zM1681.7 463.7h3.6v3.6h-3.6zM1681.7 467.2h3.6v3.6h-3.6zM1681.7 470.7h3.6v3.6h-3.6zM1681.7 474.2h3.6v3.6h-3.6zM1681.7 477.7h3.6v3.6h-3.6zM1681.7 481.2h3.6v3.6h-3.6zM1681.7 484.7h3.6v3.6h-3.6zM1681.7 488.2h3.6v3.6h-3.6zM1681.7 491.7h3.6v3.6h-3.6zM1681.7 495.2h3.6v3.6h-3.6zM1681.7 498.7h3.6v3.6h-3.6zM1681.7 502.2h3.6v3.6h-3.6zM1681.7 505.7h3.6v3.6h-3.6zM1681.7 509.2h3.6v3.6h-3.6zM1681.7 512.7h3.6v3.6h-3.6zM1681.7 516.2h3.6v3.6h-3.6zM1681.7 519.7h3.6v3.6h-3.6zM1681.7 523.2h3.6v3.6h-3.6zM1681.7 526.7h3.6v3.6h-3.6zM1681.7 530.2h3.6v3.6h-3.6zM1681.7 533.7h3.6v3.6h-3.6zM1681.7 537.2h3.6v3.6h-3.6zM1681.7 540.7h3.6v3.6h-3.6zM1681.7 544.2h3.6v3.6h-3.6zM1681.7 547.7h3.6v3.6h-3.6zM1681.7 551.2h3.6v3.6h-3.6zM1681.7 554.7h3.6v3.6h-3.6zM1681.7 558.2h3.6v3.6h-3.6zM1685.2 404.2h3.6v3.6h-3.6zM1685.2 421.7h3.6v3.6h-3.6zM1685.2 428.7h3.6v3.6h-3.6zM1685.2 432.2h3.6v3.6h-3.6zM1685.2 435.7h3.6v3.6h-3.6zM1685.2 439.2h3.6v3.6h-3.6zM1685.2 446.2h3.6v3.6h-3.6zM1685.2 456.7h3.6v3.6h-3.6zM1685.2 460.2h3.6v3.6h-3.6zM1685.2 463.7h3.6v3.6h-3.6zM1685.2 467.2h3.6v3.6h-3.6zM1685.2 470.7h3.6v3.6h-3.6zM1685.2 474.2h3.6v3.6h-3.6zM1685.2 477.7h3.6v3.6h-3.6zM1685.2 481.2h3.6v3.6h-3.6zM1685.2 484.7h3.6v3.6h-3.6zM1685.2 488.2h3.6v3.6h-3.6zM1685.2 491.7h3.6v3.6h-3.6zM1685.2 495.2h3.6v3.6h-3.6zM1685.2 498.7h3.6v3.6h-3.6zM1685.2 502.2h3.6v3.6h-3.6zM1685.2 505.7h3.6v3.6h-3.6zM1685.2 509.2h3.6v3.6h-3.6zM1685.2 512.7h3.6v3.6h-3.6zM1685.2 516.2h3.6v3.6h-3.6zM1685.2 519.7h3.6v3.6h-3.6zM1685.2 523.2h3.6v3.6h-3.6zM1685.2 526.7h3.6v3.6h-3.6zM1685.2 530.2h3.6v3.6h-3.6zM1685.2 533.7h3.6v3.6h-3.6zM1685.2 537.2h3.6v3.6h-3.6zM1685.2 540.7h3.6v3.6h-3.6zM1685.2 544.2h3.6v3.6h-3.6zM1685.2 547.7h3.6v3.6h-3.6zM1685.2 554.7h3.6v3.6h-3.6zM1685.2 558.2h3.6v3.6h-3.6zM1685.2 561.7h3.6v3.6h-3.6zM1685.2 565.2h3.6v3.6h-3.6zM1688.7 411.2h3.6v3.6h-3.6zM1688.7 421.7h3.6v3.6h-3.6zM1688.7 435.7h3.6v3.6h-3.6zM1688.7 446.2h3.6v3.6h-3.6zM1688.7 453.2h3.6v3.6h-3.6zM1688.7 456.7h3.6v3.6h-3.6zM1688.7 460.2h3.6v3.6h-3.6zM1688.7 463.7h3.6v3.6h-3.6zM1688.7 467.2h3.6v3.6h-3.6zM1688.7 474.2h3.6v3.6h-3.6zM1688.7 477.7h3.6v3.6h-3.6zM1688.7 481.2h3.6v3.6h-3.6zM1688.7 484.7h3.6v3.6h-3.6zM1688.7 488.2h3.6v3.6h-3.6zM1688.7 491.7h3.6v3.6h-3.6zM1688.7 495.2h3.6v3.6h-3.6zM1688.7 498.7h3.6v3.6h-3.6zM1688.7 502.2h3.6v3.6h-3.6zM1688.7 505.7h3.6v3.6h-3.6zM1688.7 509.2h3.6v3.6h-3.6zM1688.7 512.7h3.6v3.6h-3.6zM1688.7 516.2h3.6v3.6h-3.6zM1688.7 519.7h3.6v3.6h-3.6zM1688.7 523.2h3.6v3.6h-3.6zM1688.7 526.7h3.6v3.6h-3.6zM1688.7 530.2h3.6v3.6h-3.6zM1688.7 533.7h3.6v3.6h-3.6zM1688.7 537.2h3.6v3.6h-3.6zM1688.7 540.7h3.6v3.6h-3.6zM1688.7 544.2h3.6v3.6h-3.6zM1688.7 547.7h3.6v3.6h-3.6zM1688.7 551.2h3.6v3.6h-3.6zM1688.7 554.7h3.6v3.6h-3.6zM1688.7 565.2h3.6v3.6h-3.6zM1692.2 400.7h3.6v3.6h-3.6zM1692.2 404.2h3.6v3.6h-3.6zM1692.2 425.2h3.6v3.6h-3.6zM1692.2 432.2h3.6v3.6h-3.6zM1692.2 439.2h3.6v3.6h-3.6zM1692.2 446.2h3.6v3.6h-3.6zM1692.2 449.7h3.6v3.6h-3.6zM1692.2 453.2h3.6v3.6h-3.6zM1692.2 456.7h3.6v3.6h-3.6zM1692.2 460.2h3.6v3.6h-3.6zM1692.2 463.7h3.6v3.6h-3.6zM1692.2 467.2h3.6v3.6h-3.6zM1692.2 470.7h3.6v3.6h-3.6zM1692.2 477.7h3.6v3.6h-3.6zM1692.2 481.2h3.6v3.6h-3.6zM1692.2 484.7h3.6v3.6h-3.6zM1692.2 488.2h3.6v3.6h-3.6zM1692.2 491.7h3.6v3.6h-3.6zM1692.2 495.2h3.6v3.6h-3.6zM1692.2 498.7h3.6v3.6h-3.6zM1692.2 502.2h3.6v3.6h-3.6zM1692.2 505.7h3.6v3.6h-3.6zM1692.2 509.2h3.6v3.6h-3.6zM1692.2 512.7h3.6v3.6h-3.6zM1692.2 516.2h3.6v3.6h-3.6zM1692.2 519.7h3.6v3.6h-3.6zM1692.2 523.2h3.6v3.6h-3.6zM1692.2 526.7h3.6v3.6h-3.6zM1692.2 530.2h3.6v3.6h-3.6zM1692.2 533.7h3.6v3.6h-3.6zM1692.2 537.2h3.6v3.6h-3.6zM1692.2 540.7h3.6v3.6h-3.6zM1692.2 544.2h3.6v3.6h-3.6zM1692.2 547.7h3.6v3.6h-3.6zM1692.2 551.2h3.6v3.6h-3.6zM1692.2 554.7h3.6v3.6h-3.6zM1692.2 558.2h3.6v3.6h-3.6zM1692.2 561.7h3.6v3.6h-3.6zM1695.7 407.7h3.6v3.6h-3.6zM1695.7 418.2h3.6v3.6h-3.6zM1695.7 432.2h3.6v3.6h-3.6zM1695.7 442.7h3.6v3.6h-3.6zM1695.7 446.2h3.6v3.6h-3.6zM1695.7 449.7h3.6v3.6h-3.6zM1695.7 453.2h3.6v3.6h-3.6zM1695.7 456.7h3.6v3.6h-3.6zM1695.7 460.2h3.6v3.6h-3.6zM1695.7 463.7h3.6v3.6h-3.6zM1695.7 467.2h3.6v3.6h-3.6zM1695.7 470.7h3.6v3.6h-3.6zM1695.7 474.2h3.6v3.6h-3.6zM1695.7 477.7h3.6v3.6h-3.6zM1695.7 481.2h3.6v3.6h-3.6zM1695.7 484.7h3.6v3.6h-3.6zM1695.7 488.2h3.6v3.6h-3.6zM1695.7 491.7h3.6v3.6h-3.6zM1695.7 495.2h3.6v3.6h-3.6zM1695.7 498.7h3.6v3.6h-3.6zM1695.7 502.2h3.6v3.6h-3.6zM1695.7 505.7h3.6v3.6h-3.6zM1695.7 509.2h3.6v3.6h-3.6zM1695.7 512.7h3.6v3.6h-3.6zM1695.7 516.2h3.6v3.6h-3.6zM1695.7 519.7h3.6v3.6h-3.6zM1695.7 526.7h3.6v3.6h-3.6zM1695.7 530.2h3.6v3.6h-3.6zM1695.7 533.7h3.6v3.6h-3.6zM1695.7 537.2h3.6v3.6h-3.6zM1695.7 540.7h3.6v3.6h-3.6zM1695.7 544.2h3.6v3.6h-3.6zM1695.7 551.2h3.6v3.6h-3.6zM1695.7 554.7h3.6v3.6h-3.6zM1695.7 558.2h3.6v3.6h-3.6zM1695.7 565.2h3.6v3.6h-3.6zM1695.7 568.7h3.6v3.6h-3.6zM1699.2 379.7h3.6v3.6h-3.6zM1699.2 407.7h3.6v3.6h-3.6zM1699.2 425.2h3.6v3.6h-3.6zM1699.2 428.7h3.6v3.6h-3.6zM1699.2 435.7h3.6v3.6h-3.6zM1699.2 442.7h3.6v3.6h-3.6zM1699.2 446.2h3.6v3.6h-3.6zM1699.2 453.2h3.6v3.6h-3.6zM1699.2 456.7h3.6v3.6h-3.6zM1699.2 460.2h3.6v3.6h-3.6zM1699.2 463.7h3.6v3.6h-3.6zM1699.2 467.2h3.6v3.6h-3.6zM1699.2 470.7h3.6v3.6h-3.6zM1699.2 474.2h3.6v3.6h-3.6zM1699.2 477.7h3.6v3.6h-3.6zM1699.2 481.2h3.6v3.6h-3.6zM1699.2 484.7h3.6v3.6h-3.6zM1699.2 488.2h3.6v3.6h-3.6zM1699.2 491.7h3.6v3.6h-3.6zM1699.2 495.2h3.6v3.6h-3.6zM1699.2 498.7h3.6v3.6h-3.6zM1699.2 502.2h3.6v3.6h-3.6zM1699.2 505.7h3.6v3.6h-3.6zM1699.2 509.2h3.6v3.6h-3.6zM1699.2 512.7h3.6v3.6h-3.6zM1699.2 516.2h3.6v3.6h-3.6zM1699.2 519.7h3.6v3.6h-3.6zM1699.2 523.2h3.6v3.6h-3.6zM1699.2 526.7h3.6v3.6h-3.6zM1699.2 530.2h3.6v3.6h-3.6zM1699.2 533.7h3.6v3.6h-3.6zM1699.2 537.2h3.6v3.6h-3.6zM1699.2 540.7h3.6v3.6h-3.6zM1699.2 544.2h3.6v3.6h-3.6zM1699.2 547.7h3.6v3.6h-3.6zM1699.2 551.2h3.6v3.6h-3.6zM1699.2 554.7h3.6v3.6h-3.6zM1699.2 561.7h3.6v3.6h-3.6zM1699.2 565.2h3.6v3.6h-3.6zM1699.2 568.7h3.6v3.6h-3.6zM1702.7 397.2h3.6v3.6h-3.6zM1702.7 418.2h3.6v3.6h-3.6zM1702.7 428.7h3.6v3.6h-3.6zM1702.7 432.2h3.6v3.6h-3.6zM1702.7 435.7h3.6v3.6h-3.6zM1702.7 439.2h3.6v3.6h-3.6zM1702.7 446.2h3.6v3.6h-3.6zM1702.7 449.7h3.6v3.6h-3.6zM1702.7 453.2h3.6v3.6h-3.6zM1702.7 456.7h3.6v3.6h-3.6zM1702.7 460.2h3.6v3.6h-3.6zM1702.7 463.7h3.6v3.6h-3.6zM1702.7 467.2h3.6v3.6h-3.6zM1702.7 470.7h3.6v3.6h-3.6zM1702.7 474.2h3.6v3.6h-3.6zM1702.7 477.7h3.6v3.6h-3.6zM1702.7 481.2h3.6v3.6h-3.6zM1702.7 484.7h3.6v3.6h-3.6zM1702.7 488.2h3.6v3.6h-3.6zM1702.7 491.7h3.6v3.6h-3.6zM1702.7 495.2h3.6v3.6h-3.6zM1702.7 498.7h3.6v3.6h-3.6zM1702.7 502.2h3.6v3.6h-3.6zM1702.7 505.7h3.6v3.6h-3.6zM1702.7 509.2h3.6v3.6h-3.6zM1702.7 512.7h3.6v3.6h-3.6zM1702.7 516.2h3.6v3.6h-3.6zM1702.7 519.7h3.6v3.6h-3.6zM1702.7 523.2h3.6v3.6h-3.6zM1702.7 526.7h3.6v3.6h-3.6zM1702.7 530.2h3.6v3.6h-3.6zM1702.7 533.7h3.6v3.6h-3.6zM1702.7 537.2h3.6v3.6h-3.6zM1702.7 540.7h3.6v3.6h-3.6zM1702.7 544.2h3.6v3.6h-3.6zM1702.7 547.7h3.6v3.6h-3.6zM1702.7 551.2h3.6v3.6h-3.6zM1702.7 554.7h3.6v3.6h-3.6zM1702.7 558.2h3.6v3.6h-3.6zM1702.7 561.7h3.6v3.6h-3.6zM1702.7 565.2h3.6v3.6h-3.6zM1702.7 568.7h3.6v3.6h-3.6zM1706.2 414.7h3.6v3.6h-3.6zM1706.2 428.7h3.6v3.6h-3.6zM1706.2 432.2h3.6v3.6h-3.6zM1706.2 435.7h3.6v3.6h-3.6zM1706.2 446.2h3.6v3.6h-3.6zM1706.2 449.7h3.6v3.6h-3.6zM1706.2 453.2h3.6v3.6h-3.6zM1706.2 456.7h3.6v3.6h-3.6zM1706.2 460.2h3.6v3.6h-3.6zM1706.2 463.7h3.6v3.6h-3.6zM1706.2 467.2h3.6v3.6h-3.6zM1706.2 470.7h3.6v3.6h-3.6zM1706.2 474.2h3.6v3.6h-3.6zM1706.2 477.7h3.6v3.6h-3.6zM1706.2 481.2h3.6v3.6h-3.6zM1706.2 484.7h3.6v3.6h-3.6zM1706.2 488.2h3.6v3.6h-3.6zM1706.2 491.7h3.6v3.6h-3.6zM1706.2 495.2h3.6v3.6h-3.6zM1706.2 498.7h3.6v3.6h-3.6zM1706.2 502.2h3.6v3.6h-3.6zM1706.2 505.7h3.6v3.6h-3.6zM1706.2 509.2h3.6v3.6h-3.6zM1706.2 512.7h3.6v3.6h-3.6zM1706.2 516.2h3.6v3.6h-3.6zM1706.2 519.7h3.6v3.6h-3.6zM1706.2 523.2h3.6v3.6h-3.6zM1706.2 526.7h3.6v3.6h-3.6zM1706.2 530.2h3.6v3.6h-3.6zM1706.2 533.7h3.6v3.6h-3.6zM1706.2 537.2h3.6v3.6h-3.6zM1706.2 540.7h3.6v3.6h-3.6zM1706.2 544.2h3.6v3.6h-3.6zM1706.2 547.7h3.6v3.6h-3.6zM1706.2 551.2h3.6v3.6h-3.6zM1706.2 554.7h3.6v3.6h-3.6zM1706.2 558.2h3.6v3.6h-3.6zM1706.2 561.7h3.6v3.6h-3.6zM1706.2 568.7h3.6v3.6h-3.6zM1709.7 425.2h3.6v3.6h-3.6zM1709.7 428.7h3.6v3.6h-3.6zM1709.7 435.7h3.6v3.6h-3.6zM1709.7 449.7h3.6v3.6h-3.6zM1709.7 453.2h3.6v3.6h-3.6zM1709.7 456.7h3.6v3.6h-3.6zM1709.7 460.2h3.6v3.6h-3.6zM1709.7 463.7h3.6v3.6h-3.6zM1709.7 467.2h3.6v3.6h-3.6zM1709.7 470.7h3.6v3.6h-3.6zM1709.7 474.2h3.6v3.6h-3.6zM1709.7 477.7h3.6v3.6h-3.6zM1709.7 481.2h3.6v3.6h-3.6zM1709.7 484.7h3.6v3.6h-3.6zM1709.7 488.2h3.6v3.6h-3.6zM1709.7 491.7h3.6v3.6h-3.6zM1709.7 495.2h3.6v3.6h-3.6zM1709.7 498.7h3.6v3.6h-3.6zM1709.7 502.2h3.6v3.6h-3.6zM1709.7 505.7h3.6v3.6h-3.6zM1709.7 509.2h3.6v3.6h-3.6zM1709.7 512.7h3.6v3.6h-3.6zM1709.7 516.2h3.6v3.6h-3.6zM1709.7 519.7h3.6v3.6h-3.6zM1709.7 523.2h3.6v3.6h-3.6zM1709.7 526.7h3.6v3.6h-3.6zM1709.7 530.2h3.6v3.6h-3.6zM1709.7 533.7h3.6v3.6h-3.6zM1709.7 537.2h3.6v3.6h-3.6zM1709.7 540.7h3.6v3.6h-3.6zM1709.7 544.2h3.6v3.6h-3.6zM1709.7 547.7h3.6v3.6h-3.6zM1709.7 551.2h3.6v3.6h-3.6zM1709.7 554.7h3.6v3.6h-3.6zM1709.7 558.2h3.6v3.6h-3.6zM1709.7 565.2h3.6v3.6h-3.6zM1713.2 407.7h3.6v3.6h-3.6zM1713.2 425.2h3.6v3.6h-3.6zM1713.2 428.7h3.6v3.6h-3.6zM1713.2 432.2h3.6v3.6h-3.6zM1713.2 435.7h3.6v3.6h-3.6zM1713.2 439.2h3.6v3.6h-3.6zM1713.2 442.7h3.6v3.6h-3.6zM1713.2 446.2h3.6v3.6h-3.6zM1713.2 453.2h3.6v3.6h-3.6zM1713.2 456.7h3.6v3.6h-3.6zM1713.2 460.2h3.6v3.6h-3.6zM1713.2 463.7h3.6v3.6h-3.6zM1713.2 467.2h3.6v3.6h-3.6zM1713.2 470.7h3.6v3.6h-3.6zM1713.2 474.2h3.6v3.6h-3.6zM1713.2 477.7h3.6v3.6h-3.6zM1713.2 481.2h3.6v3.6h-3.6zM1713.2 484.7h3.6v3.6h-3.6zM1713.2 488.2h3.6v3.6h-3.6zM1713.2 491.7h3.6v3.6h-3.6zM1713.2 495.2h3.6v3.6h-3.6zM1713.2 498.7h3.6v3.6h-3.6zM1713.2 502.2h3.6v3.6h-3.6zM1713.2 505.7h3.6v3.6h-3.6zM1713.2 509.2h3.6v3.6h-3.6zM1713.2 512.7h3.6v3.6h-3.6zM1713.2 516.2h3.6v3.6h-3.6zM1713.2 519.7h3.6v3.6h-3.6zM1713.2 523.2h3.6v3.6h-3.6zM1713.2 526.7h3.6v3.6h-3.6zM1713.2 530.2h3.6v3.6h-3.6zM1713.2 533.7h3.6v3.6h-3.6zM1713.2 537.2h3.6v3.6h-3.6zM1713.2 540.7h3.6v3.6h-3.6zM1713.2 544.2h3.6v3.6h-3.6zM1713.2 547.7h3.6v3.6h-3.6zM1713.2 551.2h3.6v3.6h-3.6zM1713.2 554.7h3.6v3.6h-3.6zM1713.2 561.7h3.6v3.6h-3.6zM1713.2 568.7h3.6v3.6h-3.6zM1716.7 393.7h3.6v3.6h-3.6zM1716.7 407.7h3.6v3.6h-3.6zM1716.7 421.7h3.6v3.6h-3.6zM1716.7 428.7h3.6v3.6h-3.6zM1716.7 439.2h3.6v3.6h-3.6zM1716.7 442.7h3.6v3.6h-3.6zM1716.7 446.2h3.6v3.6h-3.6zM1716.7 453.2h3.6v3.6h-3.6zM1716.7 456.7h3.6v3.6h-3.6zM1716.7 460.2h3.6v3.6h-3.6zM1716.7 463.7h3.6v3.6h-3.6zM1716.7 467.2h3.6v3.6h-3.6zM1716.7 470.7h3.6v3.6h-3.6zM1716.7 474.2h3.6v3.6h-3.6zM1716.7 477.7h3.6v3.6h-3.6zM1716.7 481.2h3.6v3.6h-3.6zM1716.7 484.7h3.6v3.6h-3.6zM1716.7 488.2h3.6v3.6h-3.6zM1716.7 491.7h3.6v3.6h-3.6zM1716.7 495.2h3.6v3.6h-3.6zM1716.7 498.7h3.6v3.6h-3.6zM1716.7 502.2h3.6v3.6h-3.6zM1716.7 505.7h3.6v3.6h-3.6zM1716.7 509.2h3.6v3.6h-3.6zM1716.7 512.7h3.6v3.6h-3.6zM1716.7 516.2h3.6v3.6h-3.6zM1716.7 519.7h3.6v3.6h-3.6zM1716.7 523.2h3.6v3.6h-3.6zM1716.7 526.7h3.6v3.6h-3.6zM1716.7 530.2h3.6v3.6h-3.6zM1716.7 533.7h3.6v3.6h-3.6zM1716.7 537.2h3.6v3.6h-3.6zM1716.7 540.7h3.6v3.6h-3.6zM1716.7 544.2h3.6v3.6h-3.6zM1716.7 547.7h3.6v3.6h-3.6zM1716.7 551.2h3.6v3.6h-3.6zM1716.7 554.7h3.6v3.6h-3.6zM1716.7 558.2h3.6v3.6h-3.6zM1716.7 561.7h3.6v3.6h-3.6zM1720.2 421.7h3.6v3.6h-3.6zM1720.2 432.2h3.6v3.6h-3.6zM1720.2 435.7h3.6v3.6h-3.6zM1720.2 439.2h3.6v3.6h-3.6zM1720.2 442.7h3.6v3.6h-3.6zM1720.2 446.2h3.6v3.6h-3.6zM1720.2 449.7h3.6v3.6h-3.6zM1720.2 453.2h3.6v3.6h-3.6zM1720.2 456.7h3.6v3.6h-3.6zM1720.2 460.2h3.6v3.6h-3.6zM1720.2 463.7h3.6v3.6h-3.6zM1720.2 467.2h3.6v3.6h-3.6zM1720.2 470.7h3.6v3.6h-3.6zM1720.2 474.2h3.6v3.6h-3.6zM1720.2 477.7h3.6v3.6h-3.6zM1720.2 481.2h3.6v3.6h-3.6zM1720.2 484.7h3.6v3.6h-3.6zM1720.2 488.2h3.6v3.6h-3.6zM1720.2 491.7h3.6v3.6h-3.6zM1720.2 495.2h3.6v3.6h-3.6zM1720.2 498.7h3.6v3.6h-3.6zM1720.2 502.2h3.6v3.6h-3.6zM1720.2 505.7h3.6v3.6h-3.6zM1720.2 509.2h3.6v3.6h-3.6zM1720.2 512.7h3.6v3.6h-3.6zM1720.2 516.2h3.6v3.6h-3.6zM1720.2 519.7h3.6v3.6h-3.6zM1720.2 523.2h3.6v3.6h-3.6zM1720.2 526.7h3.6v3.6h-3.6zM1720.2 530.2h3.6v3.6h-3.6zM1720.2 533.7h3.6v3.6h-3.6zM1720.2 537.2h3.6v3.6h-3.6zM1720.2 540.7h3.6v3.6h-3.6zM1720.2 544.2h3.6v3.6h-3.6zM1720.2 547.7h3.6v3.6h-3.6zM1720.2 551.2h3.6v3.6h-3.6zM1720.2 558.2h3.6v3.6h-3.6zM1720.2 561.7h3.6v3.6h-3.6zM1720.2 565.2h3.6v3.6h-3.6zM1723.7 407.7h3.6v3.6h-3.6zM1723.7 425.2h3.6v3.6h-3.6zM1723.7 428.7h3.6v3.6h-3.6zM1723.7 432.2h3.6v3.6h-3.6zM1723.7 435.7h3.6v3.6h-3.6zM1723.7 439.2h3.6v3.6h-3.6zM1723.7 446.2h3.6v3.6h-3.6zM1723.7 449.7h3.6v3.6h-3.6zM1723.7 453.2h3.6v3.6h-3.6zM1723.7 456.7h3.6v3.6h-3.6zM1723.7 460.2h3.6v3.6h-3.6zM1723.7 463.7h3.6v3.6h-3.6zM1723.7 467.2h3.6v3.6h-3.6zM1723.7 470.7h3.6v3.6h-3.6zM1723.7 474.2h3.6v3.6h-3.6zM1723.7 477.7h3.6v3.6h-3.6zM1723.7 481.2h3.6v3.6h-3.6zM1723.7 484.7h3.6v3.6h-3.6zM1723.7 488.2h3.6v3.6h-3.6zM1723.7 491.7h3.6v3.6h-3.6zM1723.7 495.2h3.6v3.6h-3.6zM1723.7 498.7h3.6v3.6h-3.6zM1723.7 502.2h3.6v3.6h-3.6zM1723.7 505.7h3.6v3.6h-3.6zM1723.7 509.2h3.6v3.6h-3.6zM1723.7 512.7h3.6v3.6h-3.6zM1723.7 516.2h3.6v3.6h-3.6zM1723.7 519.7h3.6v3.6h-3.6zM1723.7 523.2h3.6v3.6h-3.6zM1723.7 526.7h3.6v3.6h-3.6zM1723.7 530.2h3.6v3.6h-3.6zM1723.7 533.7h3.6v3.6h-3.6zM1723.7 537.2h3.6v3.6h-3.6zM1723.7 540.7h3.6v3.6h-3.6zM1723.7 544.2h3.6v3.6h-3.6zM1723.7 547.7h3.6v3.6h-3.6zM1723.7 551.2h3.6v3.6h-3.6zM1723.7 554.7h3.6v3.6h-3.6zM1723.7 558.2h3.6v3.6h-3.6zM1723.7 561.7h3.6v3.6h-3.6zM1723.7 565.2h3.6v3.6h-3.6zM1723.7 568.7h3.6v3.6h-3.6zM1727.2 428.7h3.6v3.6h-3.6zM1727.2 435.7h3.6v3.6h-3.6zM1727.2 442.7h3.6v3.6h-3.6zM1727.2 449.7h3.6v3.6h-3.6zM1727.2 453.2h3.6v3.6h-3.6zM1727.2 456.7h3.6v3.6h-3.6zM1727.2 463.7h3.6v3.6h-3.6zM1727.2 467.2h3.6v3.6h-3.6zM1727.2 470.7h3.6v3.6h-3.6zM1727.2 474.2h3.6v3.6h-3.6zM1727.2 477.7h3.6v3.6h-3.6zM1727.2 481.2h3.6v3.6h-3.6zM1727.2 484.7h3.6v3.6h-3.6zM1727.2 488.2h3.6v3.6h-3.6zM1727.2 491.7h3.6v3.6h-3.6zM1727.2 495.2h3.6v3.6h-3.6zM1727.2 498.7h3.6v3.6h-3.6zM1727.2 502.2h3.6v3.6h-3.6zM1727.2 505.7h3.6v3.6h-3.6zM1727.2 509.2h3.6v3.6h-3.6zM1727.2 512.7h3.6v3.6h-3.6zM1727.2 516.2h3.6v3.6h-3.6zM1727.2 519.7h3.6v3.6h-3.6zM1727.2 523.2h3.6v3.6h-3.6zM1727.2 526.7h3.6v3.6h-3.6zM1727.2 530.2h3.6v3.6h-3.6zM1727.2 533.7h3.6v3.6h-3.6zM1727.2 537.2h3.6v3.6h-3.6zM1727.2 540.7h3.6v3.6h-3.6zM1727.2 544.2h3.6v3.6h-3.6zM1727.2 547.7h3.6v3.6h-3.6zM1727.2 551.2h3.6v3.6h-3.6zM1727.2 554.7h3.6v3.6h-3.6zM1727.2 558.2h3.6v3.6h-3.6zM1727.2 561.7h3.6v3.6h-3.6zM1727.2 565.2h3.6v3.6h-3.6zM1727.2 568.7h3.6v3.6h-3.6zM1727.2 572.2h3.6v3.6h-3.6zM1730.7 400.7h3.6v3.6h-3.6zM1730.7 407.7h3.6v3.6h-3.6zM1730.7 425.2h3.6v3.6h-3.6zM1730.7 432.2h3.6v3.6h-3.6zM1730.7 435.7h3.6v3.6h-3.6zM1730.7 442.7h3.6v3.6h-3.6zM1730.7 446.2h3.6v3.6h-3.6zM1730.7 453.2h3.6v3.6h-3.6zM1730.7 456.7h3.6v3.6h-3.6zM1730.7 460.2h3.6v3.6h-3.6zM1730.7 463.7h3.6v3.6h-3.6zM1730.7 467.2h3.6v3.6h-3.6zM1730.7 470.7h3.6v3.6h-3.6zM1730.7 474.2h3.6v3.6h-3.6zM1730.7 477.7h3.6v3.6h-3.6zM1730.7 481.2h3.6v3.6h-3.6zM1730.7 484.7h3.6v3.6h-3.6zM1730.7 488.2h3.6v3.6h-3.6zM1730.7 491.7h3.6v3.6h-3.6zM1730.7 495.2h3.6v3.6h-3.6zM1730.7 498.7h3.6v3.6h-3.6zM1730.7 502.2h3.6v3.6h-3.6zM1730.7 505.7h3.6v3.6h-3.6zM1730.7 509.2h3.6v3.6h-3.6zM1730.7 512.7h3.6v3.6h-3.6zM1730.7 516.2h3.6v3.6h-3.6zM1730.7 519.7h3.6v3.6h-3.6zM1730.7 523.2h3.6v3.6h-3.6zM1730.7 526.7h3.6v3.6h-3.6zM1730.7 530.2h3.6v3.6h-3.6zM1730.7 533.7h3.6v3.6h-3.6zM1730.7 537.2h3.6v3.6h-3.6zM1730.7 540.7h3.6v3.6h-3.6zM1730.7 544.2h3.6v3.6h-3.6zM1730.7 547.7h3.6v3.6h-3.6zM1730.7 551.2h3.6v3.6h-3.6zM1730.7 554.7h3.6v3.6h-3.6zM1730.7 561.7h3.6v3.6h-3.6zM1730.7 565.2h3.6v3.6h-3.6zM1730.7 568.7h3.6v3.6h-3.6zM1730.7 572.2h3.6v3.6h-3.6zM1734.2 418.2h3.6v3.6h-3.6zM1734.2 425.2h3.6v3.6h-3.6zM1734.2 439.2h3.6v3.6h-3.6zM1734.2 456.7h3.6v3.6h-3.6zM1734.2 460.2h3.6v3.6h-3.6zM1734.2 463.7h3.6v3.6h-3.6zM1734.2 467.2h3.6v3.6h-3.6zM1734.2 470.7h3.6v3.6h-3.6zM1734.2 474.2h3.6v3.6h-3.6zM1734.2 477.7h3.6v3.6h-3.6zM1734.2 481.2h3.6v3.6h-3.6zM1734.2 484.7h3.6v3.6h-3.6zM1734.2 488.2h3.6v3.6h-3.6zM1734.2 491.7h3.6v3.6h-3.6zM1734.2 495.2h3.6v3.6h-3.6zM1734.2 498.7h3.6v3.6h-3.6zM1734.2 502.2h3.6v3.6h-3.6zM1734.2 505.7h3.6v3.6h-3.6zM1734.2 509.2h3.6v3.6h-3.6zM1734.2 512.7h3.6v3.6h-3.6zM1734.2 516.2h3.6v3.6h-3.6zM1734.2 519.7h3.6v3.6h-3.6zM1734.2 523.2h3.6v3.6h-3.6zM1734.2 526.7h3.6v3.6h-3.6zM1734.2 530.2h3.6v3.6h-3.6zM1734.2 533.7h3.6v3.6h-3.6zM1734.2 537.2h3.6v3.6h-3.6zM1734.2 540.7h3.6v3.6h-3.6zM1734.2 544.2h3.6v3.6h-3.6zM1734.2 547.7h3.6v3.6h-3.6zM1734.2 554.7h3.6v3.6h-3.6zM1734.2 558.2h3.6v3.6h-3.6zM1734.2 561.7h3.6v3.6h-3.6zM1737.7 404.2h3.6v3.6h-3.6zM1737.7 407.7h3.6v3.6h-3.6zM1737.7 421.7h3.6v3.6h-3.6zM1737.7 432.2h3.6v3.6h-3.6zM1737.7 435.7h3.6v3.6h-3.6zM1737.7 439.2h3.6v3.6h-3.6zM1737.7 442.7h3.6v3.6h-3.6zM1737.7 449.7h3.6v3.6h-3.6zM1737.7 453.2h3.6v3.6h-3.6zM1737.7 456.7h3.6v3.6h-3.6zM1737.7 460.2h3.6v3.6h-3.6zM1737.7 463.7h3.6v3.6h-3.6zM1737.7 467.2h3.6v3.6h-3.6zM1737.7 474.2h3.6v3.6h-3.6zM1737.7 477.7h3.6v3.6h-3.6zM1737.7 481.2h3.6v3.6h-3.6zM1737.7 484.7h3.6v3.6h-3.6zM1737.7 488.2h3.6v3.6h-3.6zM1737.7 491.7h3.6v3.6h-3.6zM1737.7 495.2h3.6v3.6h-3.6zM1737.7 498.7h3.6v3.6h-3.6zM1737.7 502.2h3.6v3.6h-3.6zM1737.7 505.7h3.6v3.6h-3.6zM1737.7 509.2h3.6v3.6h-3.6zM1737.7 512.7h3.6v3.6h-3.6zM1737.7 516.2h3.6v3.6h-3.6zM1737.7 519.7h3.6v3.6h-3.6zM1737.7 523.2h3.6v3.6h-3.6zM1737.7 526.7h3.6v3.6h-3.6zM1737.7 530.2h3.6v3.6h-3.6zM1737.7 533.7h3.6v3.6h-3.6zM1737.7 537.2h3.6v3.6h-3.6zM1737.7 540.7h3.6v3.6h-3.6zM1737.7 544.2h3.6v3.6h-3.6zM1737.7 547.7h3.6v3.6h-3.6zM1737.7 551.2h3.6v3.6h-3.6zM1737.7 554.7h3.6v3.6h-3.6zM1737.7 561.7h3.6v3.6h-3.6zM1737.7 568.7h3.6v3.6h-3.6zM1741.2 407.7h3.6v3.6h-3.6zM1741.2 414.7h3.6v3.6h-3.6zM1741.2 428.7h3.6v3.6h-3.6zM1741.2 435.7h3.6v3.6h-3.6zM1741.2 439.2h3.6v3.6h-3.6zM1741.2 446.2h3.6v3.6h-3.6zM1741.2 449.7h3.6v3.6h-3.6zM1741.2 456.7h3.6v3.6h-3.6zM1741.2 463.7h3.6v3.6h-3.6zM1741.2 467.2h3.6v3.6h-3.6zM1741.2 470.7h3.6v3.6h-3.6zM1741.2 474.2h3.6v3.6h-3.6zM1741.2 477.7h3.6v3.6h-3.6zM1741.2 481.2h3.6v3.6h-3.6zM1741.2 484.7h3.6v3.6h-3.6zM1741.2 488.2h3.6v3.6h-3.6zM1741.2 491.7h3.6v3.6h-3.6zM1741.2 495.2h3.6v3.6h-3.6zM1741.2 498.7h3.6v3.6h-3.6zM1741.2 502.2h3.6v3.6h-3.6zM1741.2 505.7h3.6v3.6h-3.6zM1741.2 509.2h3.6v3.6h-3.6zM1741.2 512.7h3.6v3.6h-3.6zM1741.2 516.2h3.6v3.6h-3.6zM1741.2 519.7h3.6v3.6h-3.6zM1741.2 523.2h3.6v3.6h-3.6zM1741.2 526.7h3.6v3.6h-3.6zM1741.2 530.2h3.6v3.6h-3.6zM1741.2 533.7h3.6v3.6h-3.6zM1741.2 537.2h3.6v3.6h-3.6zM1741.2 540.7h3.6v3.6h-3.6zM1741.2 544.2h3.6v3.6h-3.6zM1741.2 547.7h3.6v3.6h-3.6zM1741.2 551.2h3.6v3.6h-3.6zM1741.2 554.7h3.6v3.6h-3.6zM1741.2 558.2h3.6v3.6h-3.6zM1741.2 561.7h3.6v3.6h-3.6zM1741.2 565.2h3.6v3.6h-3.6zM1744.7 397.2h3.6v3.6h-3.6zM1744.7 400.7h3.6v3.6h-3.6zM1744.7 421.7h3.6v3.6h-3.6zM1744.7 425.2h3.6v3.6h-3.6zM1744.7 439.2h3.6v3.6h-3.6zM1744.7 442.7h3.6v3.6h-3.6zM1744.7 446.2h3.6v3.6h-3.6zM1744.7 453.2h3.6v3.6h-3.6zM1744.7 460.2h3.6v3.6h-3.6zM1744.7 463.7h3.6v3.6h-3.6zM1744.7 467.2h3.6v3.6h-3.6zM1744.7 470.7h3.6v3.6h-3.6zM1744.7 474.2h3.6v3.6h-3.6zM1744.7 477.7h3.6v3.6h-3.6zM1744.7 481.2h3.6v3.6h-3.6zM1744.7 484.7h3.6v3.6h-3.6zM1744.7 488.2h3.6v3.6h-3.6zM1744.7 491.7h3.6v3.6h-3.6zM1744.7 495.2h3.6v3.6h-3.6zM1744.7 498.7h3.6v3.6h-3.6zM1744.7 502.2h3.6v3.6h-3.6zM1744.7 505.7h3.6v3.6h-3.6zM1744.7 509.2h3.6v3.6h-3.6zM1744.7 512.7h3.6v3.6h-3.6zM1744.7 516.2h3.6v3.6h-3.6zM1744.7 519.7h3.6v3.6h-3.6zM1744.7 523.2h3.6v3.6h-3.6zM1744.7 526.7h3.6v3.6h-3.6zM1744.7 530.2h3.6v3.6h-3.6zM1744.7 537.2h3.6v3.6h-3.6zM1744.7 540.7h3.6v3.6h-3.6zM1744.7 544.2h3.6v3.6h-3.6zM1744.7 547.7h3.6v3.6h-3.6zM1744.7 554.7h3.6v3.6h-3.6zM1744.7 561.7h3.6v3.6h-3.6zM1744.7 565.2h3.6v3.6h-3.6zM1744.7 568.7h3.6v3.6h-3.6zM1748.2 411.2h3.6v3.6h-3.6zM1748.2 414.7h3.6v3.6h-3.6zM1748.2 418.2h3.6v3.6h-3.6zM1748.2 425.2h3.6v3.6h-3.6zM1748.2 428.7h3.6v3.6h-3.6zM1748.2 432.2h3.6v3.6h-3.6zM1748.2 435.7h3.6v3.6h-3.6zM1748.2 439.2h3.6v3.6h-3.6zM1748.2 449.7h3.6v3.6h-3.6zM1748.2 453.2h3.6v3.6h-3.6zM1748.2 456.7h3.6v3.6h-3.6zM1748.2 460.2h3.6v3.6h-3.6zM1748.2 467.2h3.6v3.6h-3.6zM1748.2 470.7h3.6v3.6h-3.6zM1748.2 474.2h3.6v3.6h-3.6zM1748.2 477.7h3.6v3.6h-3.6zM1748.2 481.2h3.6v3.6h-3.6zM1748.2 484.7h3.6v3.6h-3.6zM1748.2 488.2h3.6v3.6h-3.6zM1748.2 491.7h3.6v3.6h-3.6zM1748.2 495.2h3.6v3.6h-3.6zM1748.2 498.7h3.6v3.6h-3.6zM1748.2 502.2h3.6v3.6h-3.6zM1748.2 509.2h3.6v3.6h-3.6zM1748.2 512.7h3.6v3.6h-3.6zM1748.2 516.2h3.6v3.6h-3.6zM1748.2 519.7h3.6v3.6h-3.6zM1748.2 523.2h3.6v3.6h-3.6zM1748.2 526.7h3.6v3.6h-3.6zM1748.2 530.2h3.6v3.6h-3.6zM1748.2 533.7h3.6v3.6h-3.6zM1748.2 537.2h3.6v3.6h-3.6zM1748.2 544.2h3.6v3.6h-3.6zM1748.2 547.7h3.6v3.6h-3.6zM1748.2 551.2h3.6v3.6h-3.6zM1748.2 554.7h3.6v3.6h-3.6zM1748.2 565.2h3.6v3.6h-3.6zM1751.7 418.2h3.6v3.6h-3.6zM1751.7 432.2h3.6v3.6h-3.6zM1751.7 435.7h3.6v3.6h-3.6zM1751.7 442.7h3.6v3.6h-3.6zM1751.7 446.2h3.6v3.6h-3.6zM1751.7 449.7h3.6v3.6h-3.6zM1751.7 453.2h3.6v3.6h-3.6zM1751.7 456.7h3.6v3.6h-3.6zM1751.7 460.2h3.6v3.6h-3.6zM1751.7 467.2h3.6v3.6h-3.6zM1751.7 470.7h3.6v3.6h-3.6zM1751.7 474.2h3.6v3.6h-3.6zM1751.7 477.7h3.6v3.6h-3.6zM1751.7 481.2h3.6v3.6h-3.6zM1751.7 484.7h3.6v3.6h-3.6zM1751.7 488.2h3.6v3.6h-3.6zM1751.7 491.7h3.6v3.6h-3.6zM1751.7 495.2h3.6v3.6h-3.6zM1751.7 498.7h3.6v3.6h-3.6zM1751.7 502.2h3.6v3.6h-3.6zM1751.7 505.7h3.6v3.6h-3.6zM1751.7 509.2h3.6v3.6h-3.6zM1751.7 512.7h3.6v3.6h-3.6zM1751.7 516.2h3.6v3.6h-3.6zM1751.7 519.7h3.6v3.6h-3.6zM1751.7 523.2h3.6v3.6h-3.6zM1751.7 526.7h3.6v3.6h-3.6zM1751.7 530.2h3.6v3.6h-3.6zM1751.7 533.7h3.6v3.6h-3.6zM1751.7 537.2h3.6v3.6h-3.6zM1751.7 540.7h3.6v3.6h-3.6zM1751.7 551.2h3.6v3.6h-3.6zM1751.7 554.7h3.6v3.6h-3.6zM1751.7 561.7h3.6v3.6h-3.6zM1751.7 565.2h3.6v3.6h-3.6zM1751.7 572.2h3.6v3.6h-3.6zM1755.2 411.2h3.6v3.6h-3.6zM1755.2 435.7h3.6v3.6h-3.6zM1755.2 449.7h3.6v3.6h-3.6zM1755.2 453.2h3.6v3.6h-3.6zM1755.2 456.7h3.6v3.6h-3.6zM1755.2 460.2h3.6v3.6h-3.6zM1755.2 463.7h3.6v3.6h-3.6zM1755.2 467.2h3.6v3.6h-3.6zM1755.2 470.7h3.6v3.6h-3.6zM1755.2 474.2h3.6v3.6h-3.6zM1755.2 477.7h3.6v3.6h-3.6zM1755.2 481.2h3.6v3.6h-3.6zM1755.2 484.7h3.6v3.6h-3.6zM1755.2 488.2h3.6v3.6h-3.6zM1755.2 491.7h3.6v3.6h-3.6zM1755.2 495.2h3.6v3.6h-3.6zM1755.2 498.7h3.6v3.6h-3.6zM1755.2 502.2h3.6v3.6h-3.6zM1755.2 505.7h3.6v3.6h-3.6zM1755.2 509.2h3.6v3.6h-3.6zM1755.2 512.7h3.6v3.6h-3.6zM1755.2 516.2h3.6v3.6h-3.6zM1755.2 519.7h3.6v3.6h-3.6zM1755.2 523.2h3.6v3.6h-3.6zM1755.2 526.7h3.6v3.6h-3.6zM1755.2 530.2h3.6v3.6h-3.6zM1755.2 533.7h3.6v3.6h-3.6zM1755.2 537.2h3.6v3.6h-3.6zM1755.2 540.7h3.6v3.6h-3.6zM1755.2 544.2h3.6v3.6h-3.6zM1755.2 551.2h3.6v3.6h-3.6zM1755.2 558.2h3.6v3.6h-3.6zM1755.2 561.7h3.6v3.6h-3.6zM1755.2 565.2h3.6v3.6h-3.6zM1758.7 428.7h3.6v3.6h-3.6zM1758.7 446.2h3.6v3.6h-3.6zM1758.7 453.2h3.6v3.6h-3.6zM1758.7 463.7h3.6v3.6h-3.6zM1758.7 470.7h3.6v3.6h-3.6zM1758.7 477.7h3.6v3.6h-3.6zM1758.7 481.2h3.6v3.6h-3.6zM1758.7 484.7h3.6v3.6h-3.6zM1758.7 488.2h3.6v3.6h-3.6zM1758.7 495.2h3.6v3.6h-3.6zM1758.7 498.7h3.6v3.6h-3.6zM1758.7 502.2h3.6v3.6h-3.6zM1758.7 505.7h3.6v3.6h-3.6zM1758.7 509.2h3.6v3.6h-3.6zM1758.7 512.7h3.6v3.6h-3.6zM1758.7 519.7h3.6v3.6h-3.6zM1758.7 523.2h3.6v3.6h-3.6zM1758.7 526.7h3.6v3.6h-3.6zM1758.7 530.2h3.6v3.6h-3.6zM1758.7 533.7h3.6v3.6h-3.6zM1758.7 540.7h3.6v3.6h-3.6zM1758.7 544.2h3.6v3.6h-3.6zM1758.7 547.7h3.6v3.6h-3.6zM1758.7 551.2h3.6v3.6h-3.6zM1758.7 568.7h3.6v3.6h-3.6zM1758.7 572.2h3.6v3.6h-3.6zM1762.2 428.7h3.6v3.6h-3.6zM1762.2 442.7h3.6v3.6h-3.6zM1762.2 449.7h3.6v3.6h-3.6zM1762.2 453.2h3.6v3.6h-3.6zM1762.2 463.7h3.6v3.6h-3.6zM1762.2 467.2h3.6v3.6h-3.6zM1762.2 470.7h3.6v3.6h-3.6zM1762.2 474.2h3.6v3.6h-3.6zM1762.2 477.7h3.6v3.6h-3.6zM1762.2 481.2h3.6v3.6h-3.6zM1762.2 491.7h3.6v3.6h-3.6zM1762.2 495.2h3.6v3.6h-3.6zM1762.2 498.7h3.6v3.6h-3.6zM1762.2 505.7h3.6v3.6h-3.6zM1762.2 512.7h3.6v3.6h-3.6zM1762.2 523.2h3.6v3.6h-3.6zM1762.2 530.2h3.6v3.6h-3.6zM1762.2 533.7h3.6v3.6h-3.6zM1762.2 540.7h3.6v3.6h-3.6zM1762.2 544.2h3.6v3.6h-3.6zM1762.2 551.2h3.6v3.6h-3.6zM1762.2 554.7h3.6v3.6h-3.6zM1762.2 561.7h3.6v3.6h-3.6zM1762.2 568.7h3.6v3.6h-3.6zM1765.7 407.7h3.6v3.6h-3.6zM1765.7 411.2h3.6v3.6h-3.6zM1765.7 446.2h3.6v3.6h-3.6zM1765.7 460.2h3.6v3.6h-3.6zM1765.7 470.7h3.6v3.6h-3.6zM1765.7 474.2h3.6v3.6h-3.6zM1765.7 477.7h3.6v3.6h-3.6zM1765.7 481.2h3.6v3.6h-3.6zM1765.7 484.7h3.6v3.6h-3.6zM1765.7 488.2h3.6v3.6h-3.6zM1765.7 491.7h3.6v3.6h-3.6zM1765.7 495.2h3.6v3.6h-3.6zM1765.7 498.7h3.6v3.6h-3.6zM1765.7 502.2h3.6v3.6h-3.6zM1765.7 505.7h3.6v3.6h-3.6zM1765.7 509.2h3.6v3.6h-3.6zM1765.7 516.2h3.6v3.6h-3.6zM1765.7 519.7h3.6v3.6h-3.6zM1765.7 523.2h3.6v3.6h-3.6zM1765.7 526.7h3.6v3.6h-3.6zM1765.7 537.2h3.6v3.6h-3.6zM1765.7 540.7h3.6v3.6h-3.6zM1765.7 544.2h3.6v3.6h-3.6zM1765.7 554.7h3.6v3.6h-3.6zM1765.7 558.2h3.6v3.6h-3.6zM1765.7 565.2h3.6v3.6h-3.6zM1765.7 568.7h3.6v3.6h-3.6zM1769.2 411.2h3.6v3.6h-3.6zM1769.2 421.7h3.6v3.6h-3.6zM1769.2 432.2h3.6v3.6h-3.6zM1769.2 435.7h3.6v3.6h-3.6zM1769.2 439.2h3.6v3.6h-3.6zM1769.2 453.2h3.6v3.6h-3.6zM1769.2 463.7h3.6v3.6h-3.6zM1769.2 467.2h3.6v3.6h-3.6zM1769.2 474.2h3.6v3.6h-3.6zM1769.2 477.7h3.6v3.6h-3.6zM1769.2 481.2h3.6v3.6h-3.6zM1769.2 484.7h3.6v3.6h-3.6zM1769.2 488.2h3.6v3.6h-3.6zM1769.2 491.7h3.6v3.6h-3.6zM1769.2 495.2h3.6v3.6h-3.6zM1769.2 502.2h3.6v3.6h-3.6zM1769.2 505.7h3.6v3.6h-3.6zM1769.2 509.2h3.6v3.6h-3.6zM1769.2 512.7h3.6v3.6h-3.6zM1769.2 516.2h3.6v3.6h-3.6zM1769.2 519.7h3.6v3.6h-3.6zM1769.2 523.2h3.6v3.6h-3.6zM1769.2 526.7h3.6v3.6h-3.6zM1769.2 530.2h3.6v3.6h-3.6zM1769.2 533.7h3.6v3.6h-3.6zM1769.2 540.7h3.6v3.6h-3.6zM1769.2 544.2h3.6v3.6h-3.6zM1769.2 551.2h3.6v3.6h-3.6zM1769.2 554.7h3.6v3.6h-3.6zM1769.2 558.2h3.6v3.6h-3.6zM1772.7 425.2h3.6v3.6h-3.6zM1772.7 432.2h3.6v3.6h-3.6zM1772.7 463.7h3.6v3.6h-3.6zM1772.7 467.2h3.6v3.6h-3.6zM1772.7 470.7h3.6v3.6h-3.6zM1772.7 477.7h3.6v3.6h-3.6zM1772.7 488.2h3.6v3.6h-3.6zM1772.7 491.7h3.6v3.6h-3.6zM1772.7 498.7h3.6v3.6h-3.6zM1772.7 502.2h3.6v3.6h-3.6zM1772.7 505.7h3.6v3.6h-3.6zM1772.7 516.2h3.6v3.6h-3.6zM1772.7 523.2h3.6v3.6h-3.6zM1772.7 526.7h3.6v3.6h-3.6zM1772.7 537.2h3.6v3.6h-3.6zM1772.7 540.7h3.6v3.6h-3.6zM1772.7 544.2h3.6v3.6h-3.6zM1772.7 551.2h3.6v3.6h-3.6zM1772.7 554.7h3.6v3.6h-3.6zM1776.2 418.2h3.6v3.6h-3.6zM1776.2 439.2h3.6v3.6h-3.6zM1776.2 442.7h3.6v3.6h-3.6zM1776.2 460.2h3.6v3.6h-3.6zM1776.2 463.7h3.6v3.6h-3.6zM1776.2 467.2h3.6v3.6h-3.6zM1776.2 470.7h3.6v3.6h-3.6zM1776.2 474.2h3.6v3.6h-3.6zM1776.2 477.7h3.6v3.6h-3.6zM1776.2 484.7h3.6v3.6h-3.6zM1776.2 491.7h3.6v3.6h-3.6zM1776.2 502.2h3.6v3.6h-3.6zM1776.2 509.2h3.6v3.6h-3.6zM1776.2 512.7h3.6v3.6h-3.6zM1776.2 516.2h3.6v3.6h-3.6zM1776.2 519.7h3.6v3.6h-3.6zM1776.2 523.2h3.6v3.6h-3.6zM1776.2 533.7h3.6v3.6h-3.6zM1776.2 537.2h3.6v3.6h-3.6zM1776.2 540.7h3.6v3.6h-3.6zM1776.2 544.2h3.6v3.6h-3.6zM1776.2 547.7h3.6v3.6h-3.6zM1776.2 554.7h3.6v3.6h-3.6zM1776.2 558.2h3.6v3.6h-3.6zM1779.7 449.7h3.6v3.6h-3.6zM1779.7 453.2h3.6v3.6h-3.6zM1779.7 460.2h3.6v3.6h-3.6zM1779.7 477.7h3.6v3.6h-3.6zM1779.7 484.7h3.6v3.6h-3.6zM1779.7 491.7h3.6v3.6h-3.6zM1779.7 495.2h3.6v3.6h-3.6zM1779.7 498.7h3.6v3.6h-3.6zM1779.7 505.7h3.6v3.6h-3.6zM1779.7 512.7h3.6v3.6h-3.6zM1779.7 526.7h3.6v3.6h-3.6zM1779.7 530.2h3.6v3.6h-3.6zM1779.7 537.2h3.6v3.6h-3.6zM1779.7 551.2h3.6v3.6h-3.6zM1783.2 432.2h3.6v3.6h-3.6zM1783.2 435.7h3.6v3.6h-3.6zM1783.2 442.7h3.6v3.6h-3.6zM1783.2 467.2h3.6v3.6h-3.6zM1783.2 481.2h3.6v3.6h-3.6zM1783.2 484.7h3.6v3.6h-3.6zM1783.2 495.2h3.6v3.6h-3.6zM1783.2 502.2h3.6v3.6h-3.6zM1783.2 509.2h3.6v3.6h-3.6zM1783.2 512.7h3.6v3.6h-3.6zM1783.2 519.7h3.6v3.6h-3.6zM1783.2 526.7h3.6v3.6h-3.6zM1783.2 530.2h3.6v3.6h-3.6zM1783.2 533.7h3.6v3.6h-3.6zM1783.2 540.7h3.6v3.6h-3.6zM1783.2 544.2h3.6v3.6h-3.6zM1786.7 344.7h3.6v3.6h-3.6zM1786.7 390.2h3.6v3.6h-3.6zM1786.7 449.7h3.6v3.6h-3.6zM1786.7 463.7h3.6v3.6h-3.6zM1786.7 467.2h3.6v3.6h-3.6zM1786.7 470.7h3.6v3.6h-3.6zM1786.7 498.7h3.6v3.6h-3.6zM1786.7 505.7h3.6v3.6h-3.6zM1786.7 530.2h3.6v3.6h-3.6zM1786.7 537.2h3.6v3.6h-3.6zM1786.7 554.7h3.6v3.6h-3.6zM1786.7 568.7h3.6v3.6h-3.6zM1790.2 397.2h3.6v3.6h-3.6zM1790.2 467.2h3.6v3.6h-3.6zM1790.2 470.7h3.6v3.6h-3.6zM1790.2 481.2h3.6v3.6h-3.6zM1790.2 484.7h3.6v3.6h-3.6zM1790.2 491.7h3.6v3.6h-3.6zM1790.2 495.2h3.6v3.6h-3.6zM1790.2 502.2h3.6v3.6h-3.6zM1790.2 505.7h3.6v3.6h-3.6zM1790.2 509.2h3.6v3.6h-3.6zM1790.2 516.2h3.6v3.6h-3.6zM1790.2 519.7h3.6v3.6h-3.6zM1790.2 533.7h3.6v3.6h-3.6zM1790.2 537.2h3.6v3.6h-3.6zM1790.2 540.7h3.6v3.6h-3.6zM1790.2 547.7h3.6v3.6h-3.6zM1790.2 551.2h3.6v3.6h-3.6zM1793.7 442.7h3.6v3.6h-3.6zM1793.7 463.7h3.6v3.6h-3.6zM1793.7 474.2h3.6v3.6h-3.6zM1793.7 477.7h3.6v3.6h-3.6zM1793.7 481.2h3.6v3.6h-3.6zM1793.7 498.7h3.6v3.6h-3.6zM1793.7 509.2h3.6v3.6h-3.6zM1793.7 516.2h3.6v3.6h-3.6zM1793.7 537.2h3.6v3.6h-3.6zM1793.7 554.7h3.6v3.6h-3.6zM1797.2 407.7h3.6v3.6h-3.6zM1797.2 446.2h3.6v3.6h-3.6zM1797.2 449.7h3.6v3.6h-3.6zM1797.2 481.2h3.6v3.6h-3.6zM1797.2 484.7h3.6v3.6h-3.6zM1797.2 488.2h3.6v3.6h-3.6zM1797.2 491.7h3.6v3.6h-3.6zM1797.2 495.2h3.6v3.6h-3.6zM1797.2 498.7h3.6v3.6h-3.6zM1797.2 505.7h3.6v3.6h-3.6zM1797.2 519.7h3.6v3.6h-3.6zM1797.2 523.2h3.6v3.6h-3.6zM1797.2 530.2h3.6v3.6h-3.6zM1797.2 537.2h3.6v3.6h-3.6zM1797.2 540.7h3.6v3.6h-3.6zM1800.7 421.7h3.6v3.6h-3.6zM1800.7 491.7h3.6v3.6h-3.6zM1800.7 498.7h3.6v3.6h-3.6zM1800.7 502.2h3.6v3.6h-3.6zM1800.7 509.2h3.6v3.6h-3.6zM1800.7 523.2h3.6v3.6h-3.6zM1800.7 530.2h3.6v3.6h-3.6zM1800.7 551.2h3.6v3.6h-3.6zM1804.2 484.7h3.6v3.6h-3.6zM1804.2 488.2h3.6v3.6h-3.6zM1804.2 509.2h3.6v3.6h-3.6zM1804.2 512.7h3.6v3.6h-3.6zM1804.2 523.2h3.6v3.6h-3.6zM1804.2 554.7h3.6v3.6h-3.6zM1804.2 558.2h3.6v3.6h-3.6zM1804.2 565.2h3.6v3.6h-3.6zM1807.7 474.2h3.6v3.6h-3.6zM1807.7 491.7h3.6v3.6h-3.6zM1807.7 505.7h3.6v3.6h-3.6zM1807.7 526.7h3.6v3.6h-3.6zM1811.2 442.7h3.6v3.6h-3.6zM1811.2 477.7h3.6v3.6h-3.6zM1811.2 481.2h3.6v3.6h-3.6zM1811.2 498.7h3.6v3.6h-3.6zM1811.2 505.7h3.6v3.6h-3.6zM1811.2 512.7h3.6v3.6h-3.6zM1814.7 432.2h3.6v3.6h-3.6zM1814.7 484.7h3.6v3.6h-3.6zM1814.7 495.2h3.6v3.6h-3.6zM1818.2 460.2h3.6v3.6h-3.6zM1818.2 495.2h3.6v3.6h-3.6zM1821.7 348.2h3.6v3.6h-3.6zM1821.7 421.7h3.6v3.6h-3.6zM1821.7 491.7h3.6v3.6h-3.6zM1821.7 495.2h3.6v3.6h-3.6zM1821.7 502.2h3.6v3.6h-3.6zM1825.2 460.2h3.6v3.6h-3.6zM1828.7 509.2h3.6v3.6h-3.6zM1832.2 498.7h3.6v3.6h-3.6zM1835.7 519.7h3.6v3.6h-3.6zM1839.2 327.2h3.6v3.6h-3.6zM1839.2 470.7h3.6v3.6h-3.6zM1853.2 512.7h3.6v3.6h-3.6zM1860.2 351.7h3.6v3.6h-3.6zM1860.2 439.2h3.6v3.6h-3.6zM1867.2 491.7h3.6v3.6h-3.6zM1870.7 439.2h3.6v3.6h-3.6zM1870.7 488.2h3.6v3.6h-3.6zM1874.2 495.2h3.6v3.6h-3.6zM1881.2 481.2h3.6v3.6h-3.6zM1909.2 470.7h3.6v3.6h-3.6zM1919.7 509.2h3.6v3.6h-3.6z" fill="#0a3291"/>
<path d="M1496.2 575.7h3.6v3.6h-3.6zM1499.7 544.2h3.6v3.6h-3.6zM1499.7 547.7h3.6v3.6h-3.6zM1503.2 554.7h3.6v3.6h-3.6zM1503.2 561.7h3.6v3.6h-3.6zM1503.2 894.2h3.6v3.6h-3.6zM1506.7 554.7h3.6v3.6h-3.6zM1506.7 558.2h3.6v3.6h-3.6zM1506.7 575.7h3.6v3.6h-3.6zM1506.7 589.7h3.6v3.6h-3.6zM1510.2 575.7h3.6v3.6h-3.6zM1510.2 705.2h3.6v3.6h-3.6zM1513.7 551.2h3.6v3.6h-3.6zM1513.7 554.7h3.6v3.6h-3.6zM1513.7 565.2h3.6v3.6h-3.6zM1513.7 589.7h3.6v3.6h-3.6zM1513.7 596.7h3.6v3.6h-3.6zM1517.2 544.2h3.6v3.6h-3.6zM1517.2 547.7h3.6v3.6h-3.6zM1517.2 554.7h3.6v3.6h-3.6zM1517.2 561.7h3.6v3.6h-3.6zM1520.7 540.7h3.6v3.6h-3.6zM1520.7 544.2h3.6v3.6h-3.6zM1520.7 565.2h3.6v3.6h-3.6zM1520.7 582.7h3.6v3.6h-3.6zM1524.2 593.2h3.6v3.6h-3.6zM1531.2 582.7h3.6v3.6h-3.6zM1531.2 586.2h3.6v3.6h-3.6zM1531.2 607.2h3.6v3.6h-3.6zM1531.2 677.2h3.6v3.6h-3.6zM1531.2 750.7h3.6v3.6h-3.6zM1534.7 544.2h3.6v3.6h-3.6zM1534.7 551.2h3.6v3.6h-3.6zM1534.7 600.2h3.6v3.6h-3.6zM1538.2 558.2h3.6v3.6h-3.6zM1538.2 568.7h3.6v3.6h-3.6zM1538.2 575.7h3.6v3.6h-3.6zM1538.2 579.2h3.6v3.6h-3.6zM1538.2 586.2h3.6v3.6h-3.6zM1541.7 582.7h3.6v3.6h-3.6zM1545.2 537.2h3.6v3.6h-3.6zM1545.2 554.7h3.6v3.6h-3.6zM1545.2 582.7h3.6v3.6h-3.6zM1545.2 586.2h3.6v3.6h-3.6zM1545.2 754.2h3.6v3.6h-3.6zM1548.7 540.7h3.6v3.6h-3.6zM1548.7 568.7h3.6v3.6h-3.6zM1548.7 579.2h3.6v3.6h-3.6zM1548.7 593.2h3.6v3.6h-3.6zM1552.2 544.2h3.6v3.6h-3.6zM1552.2 551.2h3.6v3.6h-3.6zM1552.2 558.2h3.6v3.6h-3.6zM1552.2 565.2h3.6v3.6h-3.6zM1552.2 600.2h3.6v3.6h-3.6zM1552.2 610.7h3.6v3.6h-3.6zM1555.7 547.7h3.6v3.6h-3.6zM1555.7 558.2h3.6v3.6h-3.6zM1555.7 568.7h3.6v3.6h-3.6zM1555.7 638.7h3.6v3.6h-3.6zM1559.2 540.7h3.6v3.6h-3.6zM1559.2 568.7h3.6v3.6h-3.6zM1559.2 572.2h3.6v3.6h-3.6zM1559.2 575.7h3.6v3.6h-3.6zM1559.2 596.7h3.6v3.6h-3.6zM1562.7 554.7h3.6v3.6h-3.6zM1562.7 579.2h3.6v3.6h-3.6zM1562.7 582.7h3.6v3.6h-3.6zM1566.2 565.2h3.6v3.6h-3.6zM1566.2 572.2h3.6v3.6h-3.6zM1566.2 575.7h3.6v3.6h-3.6zM1566.2 589.7h3.6v3.6h-3.6zM1566.2 596.7h3.6v3.6h-3.6zM1569.7 540.7h3.6v3.6h-3.6zM1569.7 547.7h3.6v3.6h-3.6zM1569.7 551.2h3.6v3.6h-3.6zM1569.7 558.2h3.6v3.6h-3.6zM1569.7 561.7h3.6v3.6h-3.6zM1569.7 572.2h3.6v3.6h-3.6zM1569.7 589.7h3.6v3.6h-3.6zM1569.7 694.7h3.6v3.6h-3.6zM1569.7 862.7h3.6v3.6h-3.6zM1573.2 565.2h3.6v3.6h-3.6zM1573.2 568.7h3.6v3.6h-3.6zM1573.2 586.2h3.6v3.6h-3.6zM1573.2 596.7h3.6v3.6h-3.6zM1573.2 607.2h3.6v3.6h-3.6zM1573.2 614.2h3.6v3.6h-3.6zM1573.2 621.2h3.6v3.6h-3.6zM1576.7 565.2h3.6v3.6h-3.6zM1576.7 568.7h3.6v3.6h-3.6zM1576.7 575.7h3.6v3.6h-3.6zM1576.7 579.2h3.6v3.6h-3.6zM1576.7 596.7h3.6v3.6h-3.6zM1576.7 775.2h3.6v3.6h-3.6zM1576.7 848.7h3.6v3.6h-3.6zM1580.2 547.7h3.6v3.6h-3.6zM1580.2 554.7h3.6v3.6h-3.6zM1580.2 568.7h3.6v3.6h-3.6zM1580.2 572.2h3.6v3.6h-3.6zM1580.2 589.7h3.6v3.6h-3.6zM1583.7 554.7h3.6v3.6h-3.6zM1583.7 568.7h3.6v3.6h-3.6zM1583.7 575.7h3.6v3.6h-3.6zM1583.7 579.2h3.6v3.6h-3.6zM1583.7 582.7h3.6v3.6h-3.6zM1583.7 593.2h3.6v3.6h-3.6zM1583.7 596.7h3.6v3.6h-3.6zM1583.7 603.7h3.6v3.6h-3.6zM1587.2 547.7h3.6v3.6h-3.6zM1587.2 561.7h3.6v3.6h-3.6zM1587.2 582.7h3.6v3.6h-3.6zM1587.2 593.2h3.6v3.6h-3.6zM1587.2 596.7h3.6v3.6h-3.6zM1587.2 607.2h3.6v3.6h-3.6zM1587.2 635.2h3.6v3.6h-3.6zM1587.2 684.2h3.6v3.6h-3.6zM1587.2 771.7h3.6v3.6h-3.6zM1590.7 551.2h3.6v3.6h-3.6zM1590.7 561.7h3.6v3.6h-3.6zM1590.7 565.2h3.6v3.6h-3.6zM1590.7 572.2h3.6v3.6h-3.6zM1590.7 575.7h3.6v3.6h-3.6zM1590.7 586.2h3.6v3.6h-3.6zM1590.7 589.7h3.6v3.6h-3.6zM1590.7 593.2h3.6v3.6h-3.6zM1590.7 838.2h3.6v3.6h-3.6zM1594.2 565.2h3.6v3.6h-3.6zM1594.2 568.7h3.6v3.6h-3.6zM1594.2 579.2h3.6v3.6h-3.6zM1594.2 582.7h3.6v3.6h-3.6zM1594.2 596.7h3.6v3.6h-3.6zM1594.2 607.2h3.6v3.6h-3.6zM1594.2 610.7h3.6v3.6h-3.6zM1594.2 614.2h3.6v3.6h-3.6zM1594.2 670.2h3.6v3.6h-3.6zM1597.7 561.7h3.6v3.6h-3.6zM1597.7 572.2h3.6v3.6h-3.6zM1597.7 575.7h3.6v3.6h-3.6zM1597.7 579.2h3.6v3.6h-3.6zM1597.7 593.2h3.6v3.6h-3.6zM1597.7 607.2h3.6v3.6h-3.6zM1597.7 687.7h3.6v3.6h-3.6zM1597.7 747.2h3.6v3.6h-3.6zM1601.2 561.7h3.6v3.6h-3.6zM1601.2 565.2h3.6v3.6h-3.6zM1601.2 572.2h3.6v3.6h-3.6zM1601.2 575.7h3.6v3.6h-3.6zM1601.2 579.2h3.6v3.6h-3.6zM1601.2 589.7h3.6v3.6h-3.6zM1601.2 593.2h3.6v3.6h-3.6zM1601.2 596.7h3.6v3.6h-3.6zM1601.2 600.2h3.6v3.6h-3.6zM1601.2 607.2h3.6v3.6h-3.6zM1601.2 771.7h3.6v3.6h-3.6zM1601.2 785.7h3.6v3.6h-3.6zM1601.2 873.2h3.6v3.6h-3.6zM1604.7 572.2h3.6v3.6h-3.6zM1604.7 575.7h3.6v3.6h-3.6zM1604.7 582.7h3.6v3.6h-3.6zM1604.7 593.2h3.6v3.6h-3.6zM1604.7 600.2h3.6v3.6h-3.6zM1604.7 628.2h3.6v3.6h-3.6zM1604.7 666.7h3.6v3.6h-3.6zM1604.7 719.2h3.6v3.6h-3.6zM1608.2 551.2h3.6v3.6h-3.6zM1608.2 558.2h3.6v3.6h-3.6zM1608.2 561.7h3.6v3.6h-3.6zM1608.2 565.2h3.6v3.6h-3.6zM1608.2 579.2h3.6v3.6h-3.6zM1608.2 582.7h3.6v3.6h-3.6zM1608.2 586.2h3.6v3.6h-3.6zM1608.2 589.7h3.6v3.6h-3.6zM1608.2 596.7h3.6v3.6h-3.6zM1608.2 603.7h3.6v3.6h-3.6zM1608.2 610.7h3.6v3.6h-3.6zM1608.2 614.2h3.6v3.6h-3.6zM1611.7 565.2h3.6v3.6h-3.6zM1611.7 568.7h3.6v3.6h-3.6zM1611.7 575.7h3.6v3.6h-3.6zM1611.7 586.2h3.6v3.6h-3.6zM1611.7 589.7h3.6v3.6h-3.6zM1611.7 600.2h3.6v3.6h-3.6zM1611.7 638.7h3.6v3.6h-3.6zM1611.7 663.2h3.6v3.6h-3.6zM1611.7 691.2h3.6v3.6h-3.6zM1611.7 747.2h3.6v3.6h-3.6zM1611.7 775.2h3.6v3.6h-3.6zM1615.2 554.7h3.6v3.6h-3.6zM1615.2 561.7h3.6v3.6h-3.6zM1615.2 565.2h3.6v3.6h-3.6zM1615.2 575.7h3.6v3.6h-3.6zM1615.2 582.7h3.6v3.6h-3.6zM1615.2 586.2h3.6v3.6h-3.6zM1615.2 603.7h3.6v3.6h-3.6zM1615.2 712.2h3.6v3.6h-3.6zM1615.2 771.7h3.6v3.6h-3.6zM1615.2 803.2h3.6v3.6h-3.6zM1618.7 558.2h3.6v3.6h-3.6zM1618.7 568.7h3.6v3.6h-3.6zM1618.7 572.2h3.6v3.6h-3.6zM1618.7 575.7h3.6v3.6h-3.6zM1618.7 579.2h3.6v3.6h-3.6zM1618.7 582.7h3.6v3.6h-3.6zM1618.7 586.2h3.6v3.6h-3.6zM1618.7 589.7h3.6v3.6h-3.6zM1618.7 593.2h3.6v3.6h-3.6zM1618.7 600.2h3.6v3.6h-3.6zM1618.7 610.7h3.6v3.6h-3.6zM1618.7 684.2h3.6v3.6h-3.6zM1618.7 698.2h3.6v3.6h-3.6zM1618.7 743.7h3.6v3.6h-3.6zM1622.2 572.2h3.6v3.6h-3.6zM1622.2 575.7h3.6v3.6h-3.6zM1622.2 582.7h3.6v3.6h-3.6zM1622.2 596.7h3.6v3.6h-3.6zM1622.2 600.2h3.6v3.6h-3.6zM1622.2 649.2h3.6v3.6h-3.6zM1622.2 775.2h3.6v3.6h-3.6zM1622.2 803.2h3.6v3.6h-3.6zM1622.2 824.2h3.6v3.6h-3.6zM1625.7 565.2h3.6v3.6h-3.6zM1625.7 579.2h3.6v3.6h-3.6zM1625.7 586.2h3.6v3.6h-3.6zM1625.7 596.7h3.6v3.6h-3.6zM1625.7 603.7h3.6v3.6h-3.6zM1625.7 614.2h3.6v3.6h-3.6zM1629.2 568.7h3.6v3.6h-3.6zM1629.2 579.2h3.6v3.6h-3.6zM1629.2 582.7h3.6v3.6h-3.6zM1629.2 586.2h3.6v3.6h-3.6zM1629.2 593.2h3.6v3.6h-3.6zM1629.2 596.7h3.6v3.6h-3.6zM1629.2 600.2h3.6v3.6h-3.6zM1629.2 603.7h3.6v3.6h-3.6zM1629.2 666.7h3.6v3.6h-3.6zM1629.2 694.7h3.6v3.6h-3.6zM1629.2 729.7h3.6v3.6h-3.6zM1629.2 764.7h3.6v3.6h-3.6zM1632.7 558.2h3.6v3.6h-3.6zM1632.7 575.7h3.6v3.6h-3.6zM1632.7 582.7h3.6v3.6h-3.6zM1632.7 589.7h3.6v3.6h-3.6zM1632.7 596.7h3.6v3.6h-3.6zM1632.7 715.7h3.6v3.6h-3.6zM1636.2 558.2h3.6v3.6h-3.6zM1636.2 568.7h3.6v3.6h-3.6zM1636.2 572.2h3.6v3.6h-3.6zM1636.2 575.7h3.6v3.6h-3.6zM1636.2 579.2h3.6v3.6h-3.6zM1636.2 589.7h3.6v3.6h-3.6zM1636.2 593.2h3.6v3.6h-3.6zM1636.2 600.2h3.6v3.6h-3.6zM1636.2 607.2h3.6v3.6h-3.6zM1636.2 631.7h3.6v3.6h-3.6zM1636.2 677.2h3.6v3.6h-3.6zM1636.2 761.2h3.6v3.6h-3.6zM1639.7 572.2h3.6v3.6h-3.6zM1639.7 579.2h3.6v3.6h-3.6zM1639.7 582.7h3.6v3.6h-3.6zM1639.7 586.2h3.6v3.6h-3.6zM1639.7 589.7h3.6v3.6h-3.6zM1639.7 593.2h3.6v3.6h-3.6zM1639.7 631.7h3.6v3.6h-3.6zM1639.7 645.7h3.6v3.6h-3.6zM1639.7 722.7h3.6v3.6h-3.6zM1639.7 880.2h3.6v3.6h-3.6zM1643.2 561.7h3.6v3.6h-3.6zM1643.2 568.7h3.6v3.6h-3.6zM1643.2 582.7h3.6v3.6h-3.6zM1643.2 586.2h3.6v3.6h-3.6zM1643.2 600.2h3.6v3.6h-3.6zM1643.2 603.7h3.6v3.6h-3.6zM1643.2 617.7h3.6v3.6h-3.6zM1643.2 635.2h3.6v3.6h-3.6zM1643.2 673.7h3.6v3.6h-3.6zM1643.2 694.7h3.6v3.6h-3.6zM1643.2 701.7h3.6v3.6h-3.6zM1643.2 740.2h3.6v3.6h-3.6zM1643.2 750.7h3.6v3.6h-3.6zM1643.2 757.7h3.6v3.6h-3.6zM1643.2 841.7h3.6v3.6h-3.6zM1643.2 873.2h3.6v3.6h-3.6zM1646.7 575.7h3.6v3.6h-3.6zM1646.7 582.7h3.6v3.6h-3.6zM1646.7 586.2h3.6v3.6h-3.6zM1646.7 589.7h3.6v3.6h-3.6zM1646.7 593.2h3.6v3.6h-3.6zM1646.7 603.7h3.6v3.6h-3.6zM1646.7 614.2h3.6v3.6h-3.6zM1646.7 624.7h3.6v3.6h-3.6zM1646.7 719.2h3.6v3.6h-3.6zM1646.7 782.2h3.6v3.6h-3.6zM1650.2 561.7h3.6v3.6h-3.6zM1650.2 586.2h3.6v3.6h-3.6zM1650.2 589.7h3.6v3.6h-3.6zM1650.2 593.2h3.6v3.6h-3.6zM1650.2 596.7h3.6v3.6h-3.6zM1650.2 600.2h3.6v3.6h-3.6zM1650.2 614.2h3.6v3.6h-3.6zM1650.2 621.2h3.6v3.6h-3.6zM1650.2 624.7h3.6v3.6h-3.6zM1650.2 656.2h3.6v3.6h-3.6zM1650.2 778.7h3.6v3.6h-3.6zM1653.7 561.7h3.6v3.6h-3.6zM1653.7 568.7h3.6v3.6h-3.6zM1653.7 572.2h3.6v3.6h-3.6zM1653.7 575.7h3.6v3.6h-3.6zM1653.7 579.2h3.6v3.6h-3.6zM1653.7 582.7h3.6v3.6h-3.6zM1653.7 586.2h3.6v3.6h-3.6zM1653.7 593.2h3.6v3.6h-3.6zM1653.7 603.7h3.6v3.6h-3.6zM1653.7 631.7h3.6v3.6h-3.6zM1653.7 684.2h3.6v3.6h-3.6zM1653.7 726.2h3.6v3.6h-3.6zM1653.7 796.2h3.6v3.6h-3.6zM1657.2 572.2h3.6v3.6h-3.6zM1657.2 575.7h3.6v3.6h-3.6zM1657.2 582.7h3.6v3.6h-3.6zM1657.2 586.2h3.6v3.6h-3.6zM1657.2 593.2h3.6v3.6h-3.6zM1657.2 596.7h3.6v3.6h-3.6zM1657.2 603.7h3.6v3.6h-3.6zM1657.2 617.7h3.6v3.6h-3.6zM1657.2 649.2h3.6v3.6h-3.6zM1657.2 663.2h3.6v3.6h-3.6zM1657.2 691.2h3.6v3.6h-3.6zM1657.2 694.7h3.6v3.6h-3.6zM1657.2 740.2h3.6v3.6h-3.6zM1657.2 785.7h3.6v3.6h-3.6zM1657.2 831.2h3.6v3.6h-3.6zM1660.7 565.2h3.6v3.6h-3.6zM1660.7 568.7h3.6v3.6h-3.6zM1660.7 572.2h3.6v3.6h-3.6zM1660.7 589.7h3.6v3.6h-3.6zM1660.7 593.2h3.6v3.6h-3.6zM1660.7 614.2h3.6v3.6h-3.6zM1660.7 722.7h3.6v3.6h-3.6zM1660.7 845.2h3.6v3.6h-3.6zM1664.2 575.7h3.6v3.6h-3.6zM1664.2 579.2h3.6v3.6h-3.6zM1664.2 582.7h3.6v3.6h-3.6zM1664.2 589.7h3.6v3.6h-3.6zM1664.2 593.2h3.6v3.6h-3.6zM1664.2 596.7h3.6v3.6h-3.6zM1664.2 600.2h3.6v3.6h-3.6zM1664.2 614.2h3.6v3.6h-3.6zM1664.2 673.7h3.6v3.6h-3.6zM1664.2 684.2h3.6v3.6h-3.6zM1664.2 698.2h3.6v3.6h-3.6zM1664.2 761.2h3.6v3.6h-3.6zM1664.2 764.7h3.6v3.6h-3.6zM1664.2 803.2h3.6v3.6h-3.6zM1664.2 806.7h3.6v3.6h-3.6zM1667.7 579.2h3.6v3.6h-3.6zM1667.7 582.7h3.6v3.6h-3.6zM1667.7 589.7h3.6v3.6h-3.6zM1667.7 596.7h3.6v3.6h-3.6zM1667.7 603.7h3.6v3.6h-3.6zM1667.7 624.7h3.6v3.6h-3.6zM1667.7 869.7h3.6v3.6h-3.6zM1671.2 565.2h3.6v3.6h-3.6zM1671.2 568.7h3.6v3.6h-3.6zM1671.2 579.2h3.6v3.6h-3.6zM1671.2 582.7h3.6v3.6h-3.6zM1671.2 589.7h3.6v3.6h-3.6zM1671.2 596.7h3.6v3.6h-3.6zM1671.2 600.2h3.6v3.6h-3.6zM1671.2 621.2h3.6v3.6h-3.6zM1674.7 565.2h3.6v3.6h-3.6zM1674.7 582.7h3.6v3.6h-3.6zM1674.7 586.2h3.6v3.6h-3.6zM1674.7 600.2h3.6v3.6h-3.6zM1674.7 610.7h3.6v3.6h-3.6zM1674.7 635.2h3.6v3.6h-3.6zM1674.7 708.7h3.6v3.6h-3.6zM1674.7 736.7h3.6v3.6h-3.6zM1674.7 883.7h3.6v3.6h-3.6zM1678.2 568.7h3.6v3.6h-3.6zM1678.2 575.7h3.6v3.6h-3.6zM1678.2 582.7h3.6v3.6h-3.6zM1678.2 586.2h3.6v3.6h-3.6zM1678.2 589.7h3.6v3.6h-3.6zM1678.2 593.2h3.6v3.6h-3.6zM1678.2 596.7h3.6v3.6h-3.6zM1678.2 600.2h3.6v3.6h-3.6zM1678.2 617.7h3.6v3.6h-3.6zM1678.2 624.7h3.6v3.6h-3.6zM1678.2 659.7h3.6v3.6h-3.6zM1678.2 726.2h3.6v3.6h-3.6zM1678.2 785.7h3.6v3.6h-3.6zM1678.2 810.2h3.6v3.6h-3.6zM1678.2 824.2h3.6v3.6h-3.6zM1681.7 568.7h3.6v3.6h-3.6zM1681.7 575.7h3.6v3.6h-3.6zM1681.7 582.7h3.6v3.6h-3.6zM1681.7 593.2h3.6v3.6h-3.6zM1681.7 603.7h3.6v3.6h-3.6zM1681.7 607.2h3.6v3.6h-3.6zM1681.7 621.2h3.6v3.6h-3.6zM1681.7 624.7h3.6v3.6h-3.6zM1681.7 628.2h3.6v3.6h-3.6zM1685.2 575.7h3.6v3.6h-3.6zM1685.2 582.7h3.6v3.6h-3.6zM1685.2 586.2h3.6v3.6h-3.6zM1685.2 589.7h3.6v3.6h-3.6zM1685.2 593.2h3.6v3.6h-3.6zM1685.2 596.7h3.6v3.6h-3.6zM1685.2 603.7h3.6v3.6h-3.6zM1685.2 607.2h3.6v3.6h-3.6zM1685.2 621.2h3.6v3.6h-3.6zM1685.2 635.2h3.6v3.6h-3.6zM1685.2 708.7h3.6v3.6h-3.6zM1685.2 712.2h3.6v3.6h-3.6zM1685.2 722.7h3.6v3.6h-3.6zM1685.2 733.2h3.6v3.6h-3.6zM1685.2 736.7h3.6v3.6h-3.6zM1685.2 754.2h3.6v3.6h-3.6zM1685.2 841.7h3.6v3.6h-3.6zM1688.7 575.7h3.6v3.6h-3.6zM1688.7 579.2h3.6v3.6h-3.6zM1688.7 582.7h3.6v3.6h-3.6zM1688.7 589.7h3.6v3.6h-3.6zM1688.7 593.2h3.6v3.6h-3.6zM1688.7 600.2h3.6v3.6h-3.6zM1688.7 603.7h3.6v3.6h-3.6zM1688.7 610.7h3.6v3.6h-3.6zM1688.7 649.2h3.6v3.6h-3.6zM1688.7 817.2h3.6v3.6h-3.6zM1688.7 838.2h3.6v3.6h-3.6zM1692.2 582.7h3.6v3.6h-3.6zM1692.2 586.2h3.6v3.6h-3.6zM1692.2 589.7h3.6v3.6h-3.6zM1692.2 596.7h3.6v3.6h-3.6zM1692.2 603.7h3.6v3.6h-3.6zM1692.2 610.7h3.6v3.6h-3.6zM1692.2 614.2h3.6v3.6h-3.6zM1692.2 645.7h3.6v3.6h-3.6zM1692.2 656.2h3.6v3.6h-3.6zM1692.2 726.2h3.6v3.6h-3.6zM1692.2 729.7h3.6v3.6h-3.6zM1692.2 754.2h3.6v3.6h-3.6zM1692.2 785.7h3.6v3.6h-3.6zM1695.7 568.7h3.6v3.6h-3.6zM1695.7 575.7h3.6v3.6h-3.6zM1695.7 579.2h3.6v3.6h-3.6zM1695.7 582.7h3.6v3.6h-3.6zM1695.7 586.2h3.6v3.6h-3.6zM1695.7 589.7h3.6v3.6h-3.6zM1695.7 593.2h3.6v3.6h-3.6zM1695.7 614.2h3.6v3.6h-3.6zM1695.7 642.2h3.6v3.6h-3.6zM1695.7 698.2h3.6v3.6h-3.6zM1695.7 719.2h3.6v3.6h-3.6zM1695.7 754.2h3.6v3.6h-3.6zM1695.7 792.7h3.6v3.6h-3.6zM1699.2 586.2h3.6v3.6h-3.6zM1699.2 593.2h3.6v3.6h-3.6zM1699.2 603.7h3.6v3.6h-3.6zM1699.2 617.7h3.6v3.6h-3.6zM1699.2 621.2h3.6v3.6h-3.6zM1699.2 663.2h3.6v3.6h-3.6zM1699.2 691.2h3.6v3.6h-3.6zM1699.2 701.7h3.6v3.6h-3.6zM1699.2 719.2h3.6v3.6h-3.6zM1699.2 722.7h3.6v3.6h-3.6zM1699.2 729.7h3.6v3.6h-3.6zM1699.2 743.7h3.6v3.6h-3.6zM1699.2 761.2h3.6v3.6h-3.6zM1699.2 817.2h3.6v3.6h-3.6zM1699.2 901.2h3.6v3.6h-3.6zM1702.7 572.2h3.6v3.6h-3.6zM1702.7 575.7h3.6v3.6h-3.6zM1702.7 582.7h3.6v3.6h-3.6zM1702.7 586.2h3.6v3.6h-3.6zM1702.7 589.7h3.6v3.6h-3.6zM1702.7 593.2h3.6v3.6h-3.6zM1702.7 596.7h3.6v3.6h-3.6zM1702.7 603.7h3.6v3.6h-3.6zM1702.7 628.2h3.6v3.6h-3.6zM1702.7 642.2h3.6v3.6h-3.6zM1706.2 572.2h3.6v3.6h-3.6zM1706.2 579.2h3.6v3.6h-3.6zM1706.2 593.2h3.6v3.6h-3.6zM1706.2 614.2h3.6v3.6h-3.6zM1706.2 635.2h3.6v3.6h-3.6zM1706.2 677.2h3.6v3.6h-3.6zM1706.2 733.2h3.6v3.6h-3.6zM1709.7 568.7h3.6v3.6h-3.6zM1709.7 575.7h3.6v3.6h-3.6zM1709.7 586.2h3.6v3.6h-3.6zM1709.7 589.7h3.6v3.6h-3.6zM1709.7 596.7h3.6v3.6h-3.6zM1709.7 603.7h3.6v3.6h-3.6zM1709.7 614.2h3.6v3.6h-3.6zM1709.7 670.2h3.6v3.6h-3.6zM1709.7 687.7h3.6v3.6h-3.6zM1709.7 708.7h3.6v3.6h-3.6zM1709.7 736.7h3.6v3.6h-3.6zM1709.7 747.2h3.6v3.6h-3.6zM1709.7 768.2h3.6v3.6h-3.6zM1709.7 778.7h3.6v3.6h-3.6zM1713.2 572.2h3.6v3.6h-3.6zM1713.2 575.7h3.6v3.6h-3.6zM1713.2 579.2h3.6v3.6h-3.6zM1713.2 582.7h3.6v3.6h-3.6zM1713.2 593.2h3.6v3.6h-3.6zM1713.2 600.2h3.6v3.6h-3.6zM1713.2 614.2h3.6v3.6h-3.6zM1713.2 649.2h3.6v3.6h-3.6zM1713.2 698.2h3.6v3.6h-3.6zM1713.2 901.2h3.6v3.6h-3.6zM1716.7 579.2h3.6v3.6h-3.6zM1716.7 586.2h3.6v3.6h-3.6zM1716.7 593.2h3.6v3.6h-3.6zM1716.7 617.7h3.6v3.6h-3.6zM1716.7 624.7h3.6v3.6h-3.6zM1716.7 680.7h3.6v3.6h-3.6zM1716.7 691.2h3.6v3.6h-3.6zM1716.7 890.7h3.6v3.6h-3.6zM1720.2 579.2h3.6v3.6h-3.6zM1720.2 593.2h3.6v3.6h-3.6zM1720.2 596.7h3.6v3.6h-3.6zM1720.2 607.2h3.6v3.6h-3.6zM1720.2 684.2h3.6v3.6h-3.6zM1720.2 736.7h3.6v3.6h-3.6zM1720.2 743.7h3.6v3.6h-3.6zM1720.2 862.7h3.6v3.6h-3.6zM1723.7 593.2h3.6v3.6h-3.6zM1723.7 607.2h3.6v3.6h-3.6zM1723.7 610.7h3.6v3.6h-3.6zM1723.7 736.7h3.6v3.6h-3.6zM1723.7 747.2h3.6v3.6h-3.6zM1723.7 771.7h3.6v3.6h-3.6zM1727.2 572.2h3.6v3.6h-3.6zM1727.2 582.7h3.6v3.6h-3.6zM1727.2 593.2h3.6v3.6h-3.6zM1727.2 596.7h3.6v3.6h-3.6zM1727.2 600.2h3.6v3.6h-3.6zM1727.2 670.2h3.6v3.6h-3.6zM1727.2 680.7h3.6v3.6h-3.6zM1727.2 698.2h3.6v3.6h-3.6zM1727.2 726.2h3.6v3.6h-3.6zM1727.2 785.7h3.6v3.6h-3.6zM1727.2 789.2h3.6v3.6h-3.6zM1730.7 572.2h3.6v3.6h-3.6zM1730.7 575.7h3.6v3.6h-3.6zM1730.7 579.2h3.6v3.6h-3.6zM1730.7 582.7h3.6v3.6h-3.6zM1730.7 586.2h3.6v3.6h-3.6zM1730.7 607.2h3.6v3.6h-3.6zM1730.7 687.7h3.6v3.6h-3.6zM1730.7 743.7h3.6v3.6h-3.6zM1730.7 855.7h3.6v3.6h-3.6zM1734.2 593.2h3.6v3.6h-3.6zM1734.2 596.7h3.6v3.6h-3.6zM1734.2 705.2h3.6v3.6h-3.6zM1734.2 740.2h3.6v3.6h-3.6zM1734.2 757.7h3.6v3.6h-3.6zM1737.7 582.7h3.6v3.6h-3.6zM1741.2 582.7h3.6v3.6h-3.6zM1741.2 600.2h3.6v3.6h-3.6zM1741.2 610.7h3.6v3.6h-3.6zM1741.2 708.7h3.6v3.6h-3.6zM1741.2 726.2h3.6v3.6h-3.6zM1741.2 831.2h3.6v3.6h-3.6zM1744.7 575.7h3.6v3.6h-3.6zM1744.7 579.2h3.6v3.6h-3.6zM1744.7 582.7h3.6v3.6h-3.6zM1744.7 593.2h3.6v3.6h-3.6zM1744.7 607.2h3.6v3.6h-3.6zM1744.7 617.7h3.6v3.6h-3.6zM1744.7 712.2h3.6v3.6h-3.6zM1744.7 733.2h3.6v3.6h-3.6zM1744.7 747.2h3.6v3.6h-3.6zM1748.2 589.7h3.6v3.6h-3.6zM1748.2 593.2h3.6v3.6h-3.6zM1748.2 596.7h3.6v3.6h-3.6zM1748.2 729.7h3.6v3.6h-3.6zM1751.7 579.2h3.6v3.6h-3.6zM1751.7 586.2h3.6v3.6h-3.6zM1751.7 589.7h3.6v3.6h-3.6zM1751.7 593.2h3.6v3.6h-3.6zM1751.7 603.7h3.6v3.6h-3.6zM1751.7 617.7h3.6v3.6h-3.6zM1751.7 642.2h3.6v3.6h-3.6zM1751.7 708.7h3.6v3.6h-3.6zM1751.7 715.7h3.6v3.6h-3.6zM1751.7 729.7h3.6v3.6h-3.6zM1755.2 600.2h3.6v3.6h-3.6zM1755.2 621.2h3.6v3.6h-3.6zM1755.2 747.2h3.6v3.6h-3.6zM1755.2 757.7h3.6v3.6h-3.6zM1758.7 586.2h3.6v3.6h-3.6zM1758.7 596.7h3.6v3.6h-3.6zM1758.7 726.2h3.6v3.6h-3.6zM1758.7 789.2h3.6v3.6h-3.6zM1758.7 803.2h3.6v3.6h-3.6zM1762.2 579.2h3.6v3.6h-3.6zM1762.2 589.7h3.6v3.6h-3.6zM1762.2 778.7h3.6v3.6h-3.6zM1762.2 831.2h3.6v3.6h-3.6zM1762.2 862.7h3.6v3.6h-3.6zM1765.7 593.2h3.6v3.6h-3.6zM1765.7 596.7h3.6v3.6h-3.6zM1765.7 603.7h3.6v3.6h-3.6zM1765.7 610.7h3.6v3.6h-3.6zM1765.7 729.7h3.6v3.6h-3.6zM1769.2 607.2h3.6v3.6h-3.6zM1769.2 719.2h3.6v3.6h-3.6zM1769.2 740.2h3.6v3.6h-3.6zM1769.2 747.2h3.6v3.6h-3.6zM1769.2 768.2h3.6v3.6h-3.6zM1772.7 582.7h3.6v3.6h-3.6zM1772.7 589.7h3.6v3.6h-3.6zM1772.7 607.2h3.6v3.6h-3.6zM1772.7 617.7h3.6v3.6h-3.6zM1772.7 677.2h3.6v3.6h-3.6zM1772.7 740.2h3.6v3.6h-3.6zM1772.7 761.2h3.6v3.6h-3.6zM1776.2 582.7h3.6v3.6h-3.6zM1776.2 589.7h3.6v3.6h-3.6zM1776.2 596.7h3.6v3.6h-3.6zM1776.2 652.7h3.6v3.6h-3.6zM1779.7 582.7h3.6v3.6h-3.6zM1779.7 600.2h3.6v3.6h-3.6zM1779.7 621.2h3.6v3.6h-3.6zM1779.7 656.2h3.6v3.6h-3.6zM1786.7 579.2h3.6v3.6h-3.6zM1786.7 586.2h3.6v3.6h-3.6zM1786.7 600.2h3.6v3.6h-3.6zM1786.7 607.2h3.6v3.6h-3.6zM1786.7 614.2h3.6v3.6h-3.6zM1786.7 624.7h3.6v3.6h-3.6zM1786.7 775.2h3.6v3.6h-3.6zM1790.2 593.2h3.6v3.6h-3.6zM1790.2 792.7h3.6v3.6h-3.6zM1793.7 575.7h3.6v3.6h-3.6zM1793.7 586.2h3.6v3.6h-3.6zM1793.7 603.7h3.6v3.6h-3.6zM1793.7 803.2h3.6v3.6h-3.6zM1797.2 600.2h3.6v3.6h-3.6zM1797.2 827.7h3.6v3.6h-3.6zM1804.2 600.2h3.6v3.6h-3.6zM1804.2 617.7h3.6v3.6h-3.6zM1804.2 820.7h3.6v3.6h-3.6zM1804.2 866.2h3.6v3.6h-3.6zM1807.7 873.2h3.6v3.6h-3.6zM1811.2 722.7h3.6v3.6h-3.6zM1818.2 621.2h3.6v3.6h-3.6zM1821.7 607.2h3.6v3.6h-3.6zM1821.7 624.7h3.6v3.6h-3.6zM1825.2 596.7h3.6v3.6h-3.6zM1825.2 600.2h3.6v3.6h-3.6zM1835.7 642.2h3.6v3.6h-3.6zM1839.2 894.2h3.6v3.6h-3.6zM1842.7 890.7h3.6v3.6h-3.6zM1846.2 621.2h3.6v3.6h-3.6zM1849.7 624.7h3.6v3.6h-3.6zM1849.7 736.7h3.6v3.6h-3.6zM1856.7 712.2h3.6v3.6h-3.6zM1856.7 866.2h3.6v3.6h-3.6zM1860.2 684.2h3.6v3.6h-3.6zM1863.7 666.7h3.6v3.6h-3.6zM1867.2 663.2h3.6v3.6h-3.6zM1881.2 684.2h3.6v3.6h-3.6zM1912.7 274.7h3.6v3.6h-3.6zM2161.2 372.7h3.6v3.6h-3.6zM2164.7 369.2h3.6v3.6h-3.6z" fill="#e61e1e"/>
<path d="M3263.7 610.7h3.6v3.6h-3.6zM3263.7 614.2h3.6v3.6h-3.6zM3263.7 621.2h3.6v3.6h-3.6zM3263.7 638.7h3.6v3.6h-3.6zM3263.7 694.7h3.6v3.6h-3.6zM3267.2 635.2h3.6v3.6h-3.6zM3270.7 579.2h3.6v3.6h-3.6zM3270.7 631.7h3.6v3.6h-3.6zM3270.7 649.2h3.6v3.6h-3.6zM3270.7 663.2h3.6v3.6h-3.6zM3270.7 736.7h3.6v3.6h-3.6zM3274.2 568.7h3.6v3.6h-3.6zM3274.2 593.2h3.6v3.6h-3.6zM3274.2 617.7h3.6v3.6h-3.6zM3274.2 663.2h3.6v3.6h-3.6zM3274.2 670.2h3.6v3.6h-3.6zM3274.2 677.2h3.6v3.6h-3.6zM3274.2 687.7h3.6v3.6h-3.6zM3274.2 694.7h3.6v3.6h-3.6zM3277.7 624.7h3.6v3.6h-3.6zM3277.7 649.2h3.6v3.6h-3.6zM3277.7 656.2h3.6v3.6h-3.6zM3277.7 666.7h3.6v3.6h-3.6zM3277.7 684.2h3.6v3.6h-3.6zM3281.2 551.2h3.6v3.6h-3.6zM3281.2 568.7h3.6v3.6h-3.6zM3281.2 579.2h3.6v3.6h-3.6zM3281.2 582.7h3.6v3.6h-3.6zM3281.2 600.2h3.6v3.6h-3.6zM3281.2 628.2h3.6v3.6h-3.6zM3281.2 649.2h3.6v3.6h-3.6zM3281.2 659.7h3.6v3.6h-3.6zM3281.2 750.7h3.6v3.6h-3.6zM3284.7 554.7h3.6v3.6h-3.6zM3284.7 568.7h3.6v3.6h-3.6zM3284.7 575.7h3.6v3.6h-3.6zM3284.7 579.2h3.6v3.6h-3.6zM3284.7 649.2h3.6v3.6h-3.6zM3284.7 652.7h3.6v3.6h-3.6zM3284.7 663.2h3.6v3.6h-3.6zM3284.7 698.2h3.6v3.6h-3.6zM3284.7 705.2h3.6v3.6h-3.6zM3284.7 747.2h3.6v3.6h-3.6zM3288.2 554.7h3.6v3.6h-3.6zM3288.2 593.2h3.6v3.6h-3.6zM3288.2 631.7h3.6v3.6h-3.6zM3288.2 659.7h3.6v3.6h-3.6zM3288.2 670.2h3.6v3.6h-3.6zM3288.2 740.2h3.6v3.6h-3.6zM3288.2 768.2h3.6v3.6h-3.6zM3288.2 778.7h3.6v3.6h-3.6zM3288.2 785.7h3.6v3.6h-3.6zM3291.7 589.7h3.6v3.6h-3.6zM3291.7 607.2h3.6v3.6h-3.6zM3291.7 614.2h3.6v3.6h-3.6zM3291.7 638.7h3.6v3.6h-3.6zM3291.7 642.2h3.6v3.6h-3.6zM3291.7 687.7h3.6v3.6h-3.6zM3291.7 691.2h3.6v3.6h-3.6zM3291.7 705.2h3.6v3.6h-3.6zM3291.7 708.7h3.6v3.6h-3.6zM3291.7 715.7h3.6v3.6h-3.6zM3291.7 778.7h3.6v3.6h-3.6zM3291.7 799.7h3.6v3.6h-3.6zM3295.2 537.2h3.6v3.6h-3.6zM3295.2 554.7h3.6v3.6h-3.6zM3295.2 575.7h3.6v3.6h-3.6zM3295.2 589.7h3.6v3.6h-3.6zM3295.2 624.7h3.6v3.6h-3.6zM3295.2 638.7h3.6v3.6h-3.6zM3295.2 645.7h3.6v3.6h-3.6zM3295.2 673.7h3.6v3.6h-3.6zM3295.2 680.7h3.6v3.6h-3.6zM3295.2 694.7h3.6v3.6h-3.6zM3295.2 761.2h3.6v3.6h-3.6zM3295.2 771.7h3.6v3.6h-3.6zM3295.2 775.2h3.6v3.6h-3.6zM3298.7 572.2h3.6v3.6h-3.6zM3298.7 624.7h3.6v3.6h-3.6zM3298.7 628.2h3.6v3.6h-3.6zM3298.7 635.2h3.6v3.6h-3.6zM3298.7 638.7h3.6v3.6h-3.6zM3298.7 645.7h3.6v3.6h-3.6zM3298.7 659.7h3.6v3.6h-3.6zM3298.7 663.2h3.6v3.6h-3.6zM3298.7 670.2h3.6v3.6h-3.6zM3298.7 680.7h3.6v3.6h-3.6zM3298.7 698.2h3.6v3.6h-3.6zM3298.7 754.2h3.6v3.6h-3.6zM3298.7 785.7h3.6v3.6h-3.6zM3302.2 565.2h3.6v3.6h-3.6zM3302.2 614.2h3.6v3.6h-3.6zM3302.2 624.7h3.6v3.6h-3.6zM3302.2 628.2h3.6v3.6h-3.6zM3302.2 635.2h3.6v3.6h-3.6zM3302.2 638.7h3.6v3.6h-3.6zM3302.2 673.7h3.6v3.6h-3.6zM3302.2 680.7h3.6v3.6h-3.6zM3302.2 687.7h3.6v3.6h-3.6zM3302.2 694.7h3.6v3.6h-3.6zM3302.2 701.7h3.6v3.6h-3.6zM3302.2 729.7h3.6v3.6h-3.6zM3302.2 757.7h3.6v3.6h-3.6zM3305.7 509.2h3.6v3.6h-3.6zM3305.7 547.7h3.6v3.6h-3.6zM3305.7 551.2h3.6v3.6h-3.6zM3305.7 558.2h3.6v3.6h-3.6zM3305.7 596.7h3.6v3.6h-3.6zM3305.7 607.2h3.6v3.6h-3.6zM3305.7 614.2h3.6v3.6h-3.6zM3305.7 621.2h3.6v3.6h-3.6zM3305.7 663.2h3.6v3.6h-3.6zM3305.7 677.2h3.6v3.6h-3.6zM3305.7 680.7h3.6v3.6h-3.6zM3305.7 687.7h3.6v3.6h-3.6zM3305.7 698.2h3.6v3.6h-3.6zM3305.7 715.7h3.6v3.6h-3.6zM3305.7 726.2h3.6v3.6h-3.6zM3305.7 754.2h3.6v3.6h-3.6zM3305.7 796.2h3.6v3.6h-3.6zM3309.2 537.2h3.6v3.6h-3.6zM3309.2 540.7h3.6v3.6h-3.6zM3309.2 572.2h3.6v3.6h-3.6zM3309.2 579.2h3.6v3.6h-3.6zM3309.2 586.2h3.6v3.6h-3.6zM3309.2 617.7h3.6v3.6h-3.6zM3309.2 631.7h3.6v3.6h-3.6zM3309.2 642.2h3.6v3.6h-3.6zM3309.2 652.7h3.6v3.6h-3.6zM3309.2 659.7h3.6v3.6h-3.6zM3309.2 663.2h3.6v3.6h-3.6zM3309.2 687.7h3.6v3.6h-3.6zM3309.2 694.7h3.6v3.6h-3.6zM3309.2 701.7h3.6v3.6h-3.6zM3309.2 712.2h3.6v3.6h-3.6zM3309.2 729.7h3.6v3.6h-3.6zM3309.2 736.7h3.6v3.6h-3.6zM3309.2 782.2h3.6v3.6h-3.6zM3309.2 803.2h3.6v3.6h-3.6zM3312.7 526.7h3.6v3.6h-3.6zM3312.7 561.7h3.6v3.6h-3.6zM3312.7 579.2h3.6v3.6h-3.6zM3312.7 617.7h3.6v3.6h-3.6zM3312.7 624.7h3.6v3.6h-3.6zM3312.7 628.2h3.6v3.6h-3.6zM3312.7 631.7h3.6v3.6h-3.6zM3312.7 638.7h3.6v3.6h-3.6zM3312.7 652.7h3.6v3.6h-3.6zM3312.7 673.7h3.6v3.6h-3.6zM3312.7 677.2h3.6v3.6h-3.6zM3312.7 698.2h3.6v3.6h-3.6zM3312.7 705.2h3.6v3.6h-3.6zM3312.7 712.2h3.6v3.6h-3.6zM3312.7 715.7h3.6v3.6h-3.6zM3312.7 722.7h3.6v3.6h-3.6zM3312.7 782.2h3.6v3.6h-3.6zM3316.2 561.7h3.6v3.6h-3.6zM3316.2 586.2h3.6v3.6h-3.6zM3316.2 589.7h3.6v3.6h-3.6zM3316.2 603.7h3.6v3.6h-3.6zM3316.2 614.2h3.6v3.6h-3.6zM3316.2 617.7h3.6v3.6h-3.6zM3316.2 624.7h3.6v3.6h-3.6zM3316.2 631.7h3.6v3.6h-3.6zM3316.2 635.2h3.6v3.6h-3.6zM3316.2 638.7h3.6v3.6h-3.6zM3316.2 645.7h3.6v3.6h-3.6zM3316.2 652.7h3.6v3.6h-3.6zM3316.2 663.2h3.6v3.6h-3.6zM3316.2 670.2h3.6v3.6h-3.6zM3316.2 677.2h3.6v3.6h-3.6zM3316.2 680.7h3.6v3.6h-3.6zM3316.2 694.7h3.6v3.6h-3.6zM3316.2 712.2h3.6v3.6h-3.6zM3316.2 729.7h3.6v3.6h-3.6zM3316.2 733.2h3.6v3.6h-3.6zM3316.2 796.2h3.6v3.6h-3.6zM3319.7 530.2h3.6v3.6h-3.6zM3319.7 565.2h3.6v3.6h-3.6zM3319.7 568.7h3.6v3.6h-3.6zM3319.7 582.7h3.6v3.6h-3.6zM3319.7 589.7h3.6v3.6h-3.6zM3319.7 593.2h3.6v3.6h-3.6zM3319.7 596.7h3.6v3.6h-3.6zM3319.7 607.2h3.6v3.6h-3.6zM3319.7 614.2h3.6v3.6h-3.6zM3319.7 621.2h3.6v3.6h-3.6zM3319.7 631.7h3.6v3.6h-3.6zM3319.7 635.2h3.6v3.6h-3.6zM3319.7 649.2h3.6v3.6h-3.6zM3319.7 656.2h3.6v3.6h-3.6zM3319.7 663.2h3.6v3.6h-3.6zM3319.7 666.7h3.6v3.6h-3.6zM3319.7 677.2h3.6v3.6h-3.6zM3319.7 684.2h3.6v3.6h-3.6zM3319.7 687.7h3.6v3.6h-3.6zM3319.7 691.2h3.6v3.6h-3.6zM3319.7 694.7h3.6v3.6h-3.6zM3319.7 698.2h3.6v3.6h-3.6zM3319.7 701.7h3.6v3.6h-3.6zM3319.7 705.2h3.6v3.6h-3.6zM3319.7 708.7h3.6v3.6h-3.6zM3319.7 712.2h3.6v3.6h-3.6zM3319.7 715.7h3.6v3.6h-3.6zM3319.7 719.2h3.6v3.6h-3.6zM3319.7 729.7h3.6v3.6h-3.6zM3319.7 747.2h3.6v3.6h-3.6zM3319.7 757.7h3.6v3.6h-3.6zM3319.7 764.7h3.6v3.6h-3.6zM3319.7 782.2h3.6v3.6h-3.6zM3323.2 509.2h3.6v3.6h-3.6zM3323.2 544.2h3.6v3.6h-3.6zM3323.2 593.2h3.6v3.6h-3.6zM3323.2 600.2h3.6v3.6h-3.6zM3323.2 603.7h3.6v3.6h-3.6zM3323.2 607.2h3.6v3.6h-3.6zM3323.2 610.7h3.6v3.6h-3.6zM3323.2 621.2h3.6v3.6h-3.6zM3323.2 635.2h3.6v3.6h-3.6zM3323.2 638.7h3.6v3.6h-3.6zM3323.2 642.2h3.6v3.6h-3.6zM3323.2 649.2h3.6v3.6h-3.6zM3323.2 652.7h3.6v3.6h-3.6zM3323.2 656.2h3.6v3.6h-3.6zM3323.2 659.7h3.6v3.6h-3.6zM3323.2 673.7h3.6v3.6h-3.6zM3323.2 680.7h3.6v3.6h-3.6zM3323.2 687.7h3.6v3.6h-3.6zM3323.2 698.2h3.6v3.6h-3.6zM3323.2 701.7h3.6v3.6h-3.6zM3323.2 705.2h3.6v3.6h-3.6zM3323.2 712.2h3.6v3.6h-3.6zM3323.2 715.7h3.6v3.6h-3.6zM3323.2 719.2h3.6v3.6h-3.6zM3323.2 726.2h3.6v3.6h-3.6zM3323.2 729.7h3.6v3.6h-3.6zM3323.2 733.2h3.6v3.6h-3.6zM3323.2 764.7h3.6v3.6h-3.6zM3326.7 516.2h3.6v3.6h-3.6zM3326.7 530.2h3.6v3.6h-3.6zM3326.7 547.7h3.6v3.6h-3.6zM3326.7 561.7h3.6v3.6h-3.6zM3326.7 568.7h3.6v3.6h-3.6zM3326.7 582.7h3.6v3.6h-3.6zM3326.7 586.2h3.6v3.6h-3.6zM3326.7 596.7h3.6v3.6h-3.6zM3326.7 600.2h3.6v3.6h-3.6zM3326.7 617.7h3.6v3.6h-3.6zM3326.7 628.2h3.6v3.6h-3.6zM3326.7 635.2h3.6v3.6h-3.6zM3326.7 642.2h3.6v3.6h-3.6zM3326.7 656.2h3.6v3.6h-3.6zM3326.7 659.7h3.6v3.6h-3.6zM3326.7 663.2h3.6v3.6h-3.6zM3326.7 666.7h3.6v3.6h-3.6zM3326.7 670.2h3.6v3.6h-3.6zM3326.7 677.2h3.6v3.6h-3.6zM3326.7 684.2h3.6v3.6h-3.6zM3326.7 691.2h3.6v3.6h-3.6zM3326.7 694.7h3.6v3.6h-3.6zM3326.7 698.2h3.6v3.6h-3.6zM3326.7 701.7h3.6v3.6h-3.6zM3326.7 708.7h3.6v3.6h-3.6zM3326.7 719.2h3.6v3.6h-3.6zM3326.7 726.2h3.6v3.6h-3.6zM3326.7 736.7h3.6v3.6h-3.6zM3326.7 750.7h3.6v3.6h-3.6zM3326.7 785.7h3.6v3.6h-3.6zM3326.7 855.7h3.6v3.6h-3.6zM3330.2 516.2h3.6v3.6h-3.6zM3330.2 579.2h3.6v3.6h-3.6zM3330.2 589.7h3.6v3.6h-3.6zM3330.2 593.2h3.6v3.6h-3.6zM3330.2 600.2h3.6v3.6h-3.6zM3330.2 603.7h3.6v3.6h-3.6zM3330.2 621.2h3.6v3.6h-3.6zM3330.2 624.7h3.6v3.6h-3.6zM3330.2 631.7h3.6v3.6h-3.6zM3330.2 635.2h3.6v3.6h-3.6zM3330.2 642.2h3.6v3.6h-3.6zM3330.2 645.7h3.6v3.6h-3.6zM3330.2 652.7h3.6v3.6h-3.6zM3330.2 656.2h3.6v3.6h-3.6zM3330.2 659.7h3.6v3.6h-3.6zM3330.2 663.2h3.6v3.6h-3.6zM3330.2 666.7h3.6v3.6h-3.6zM3330.2 670.2h3.6v3.6h-3.6zM3330.2 677.2h3.6v3.6h-3.6zM3330.2 698.2h3.6v3.6h-3.6zM3330.2 701.7h3.6v3.6h-3.6zM3330.2 705.2h3.6v3.6h-3.6zM3330.2 715.7h3.6v3.6h-3.6zM3330.2 722.7h3.6v3.6h-3.6zM3330.2 729.7h3.6v3.6h-3.6zM3330.2 740.2h3.6v3.6h-3.6zM3330.2 764.7h3.6v3.6h-3.6zM3333.7 505.7h3.6v3.6h-3.6zM3333.7 558.2h3.6v3.6h-3.6zM3333.7 575.7h3.6v3.6h-3.6zM3333.7 579.2h3.6v3.6h-3.6zM3333.7 603.7h3.6v3.6h-3.6zM3333.7 614.2h3.6v3.6h-3.6zM3333.7 621.2h3.6v3.6h-3.6zM3333.7 624.7h3.6v3.6h-3.6zM3333.7 628.2h3.6v3.6h-3.6zM3333.7 638.7h3.6v3.6h-3.6zM3333.7 642.2h3.6v3.6h-3.6zM3333.7 649.2h3.6v3.6h-3.6zM3333.7 652.7h3.6v3.6h-3.6zM3333.7 656.2h3.6v3.6h-3.6zM3333.7 659.7h3.6v3.6h-3.6zM3333.7 666.7h3.6v3.6h-3.6zM3333.7 670.2h3.6v3.6h-3.6zM3333.7 673.7h3.6v3.6h-3.6zM3333.7 677.2h3.6v3.6h-3.6zM3333.7 680.7h3.6v3.6h-3.6zM3333.7 684.2h3.6v3.6h-3.6zM3333.7 694.7h3.6v3.6h-3.6zM3333.7 708.7h3.6v3.6h-3.6zM3333.7 712.2h3.6v3.6h-3.6zM3333.7 715.7h3.6v3.6h-3.6zM3333.7 722.7h3.6v3.6h-3.6zM3333.7 729.7h3.6v3.6h-3.6zM3333.7 740.2h3.6v3.6h-3.6zM3333.7 771.7h3.6v3.6h-3.6zM3333.7 806.7h3.6v3.6h-3.6zM3337.2 509.2h3.6v3.6h-3.6zM3337.2 516.2h3.6v3.6h-3.6zM3337.2 526.7h3.6v3.6h-3.6zM3337.2 568.7h3.6v3.6h-3.6zM3337.2 572.2h3.6v3.6h-3.6zM3337.2 575.7h3.6v3.6h-3.6zM3337.2 586.2h3.6v3.6h-3.6zM3337.2 589.7h3.6v3.6h-3.6zM3337.2 600.2h3.6v3.6h-3.6zM3337.2 621.2h3.6v3.6h-3.6zM3337.2 628.2h3.6v3.6h-3.6zM3337.2 635.2h3.6v3.6h-3.6zM3337.2 642.2h3.6v3.6h-3.6zM3337.2 649.2h3.6v3.6h-3.6zM3337.2 652.7h3.6v3.6h-3.6zM3337.2 656.2h3.6v3.6h-3.6zM3337.2 663.2h3.6v3.6h-3.6zM3337.2 666.7h3.6v3.6h-3.6zM3337.2 670.2h3.6v3.6h-3.6zM3337.2 673.7h3.6v3.6h-3.6zM3337.2 677.2h3.6v3.6h-3.6zM3337.2 680.7h3.6v3.6h-3.6zM3337.2 684.2h3.6v3.6h-3.6zM3337.2 691.2h3.6v3.6h-3.6zM3337.2 694.7h3.6v3.6h-3.6zM3337.2 698.2h3.6v3.6h-3.6zM3337.2 701.7h3.6v3.6h-3.6zM3337.2 705.2h3.6v3.6h-3.6zM3337.2 708.7h3.6v3.6h-3.6zM3337.2 722.7h3.6v3.6h-3.6zM3337.2 726.2h3.6v3.6h-3.6zM3337.2 740.2h3.6v3.6h-3.6zM3337.2 757.7h3.6v3.6h-3.6zM3337.2 848.7h3.6v3.6h-3.6zM3337.2 855.7h3.6v3.6h-3.6zM3340.7 523.2h3.6v3.6h-3.6zM3340.7 554.7h3.6v3.6h-3.6zM3340.7 568.7h3.6v3.6h-3.6zM3340.7 575.7h3.6v3.6h-3.6zM3340.7 586.2h3.6v3.6h-3.6zM3340.7 593.2h3.6v3.6h-3.6zM3340.7 607.2h3.6v3.6h-3.6zM3340.7 610.7h3.6v3.6h-3.6zM3340.7 614.2h3.6v3.6h-3.6zM3340.7 628.2h3.6v3.6h-3.6zM3340.7 635.2h3.6v3.6h-3.6zM3340.7 638.7h3.6v3.6h-3.6zM3340.7 642.2h3.6v3.6h-3.6zM3340.7 645.7h3.6v3.6h-3.6zM3340.7 649.2h3.6v3.6h-3.6zM3340.7 652.7h3.6v3.6h-3.6zM3340.7 656.2h3.6v3.6h-3.6zM3340.7 659.7h3.6v3.6h-3.6zM3340.7 663.2h3.6v3.6h-3.6zM3340.7 666.7h3.6v3.6h-3.6zM3340.7 673.7h3.6v3.6h-3.6zM3340.7 677.2h3.6v3.6h-3.6zM3340.7 680.7h3.6v3.6h-3.6zM3340.7 684.2h3.6v3.6h-3.6zM3340.7 691.2h3.6v3.6h-3.6zM3340.7 694.7h3.6v3.6h-3.6zM3340.7 705.2h3.6v3.6h-3.6zM3340.7 708.7h3.6v3.6h-3.6zM3340.7 712.2h3.6v3.6h-3.6zM3340.7 719.2h3.6v3.6h-3.6zM3340.7 726.2h3.6v3.6h-3.6zM3340.7 729.7h3.6v3.6h-3.6zM3340.7 743.7h3.6v3.6h-3.6zM3340.7 747.2h3.6v3.6h-3.6zM3340.7 750.7h3.6v3.6h-3.6zM3340.7 754.2h3.6v3.6h-3.6zM3340.7 778.7h3.6v3.6h-3.6zM3340.7 782.2h3.6v3.6h-3.6zM3340.7 799.7h3.6v3.6h-3.6zM3344.2 509.2h3.6v3.6h-3.6zM3344.2 530.2h3.6v3.6h-3.6zM3344.2 537.2h3.6v3.6h-3.6zM3344.2 544.2h3.6v3.6h-3.6zM3344.2 547.7h3.6v3.6h-3.6zM3344.2 551.2h3.6v3.6h-3.6zM3344.2 589.7h3.6v3.6h-3.6zM3344.2 596.7h3.6v3.6h-3.6zM3344.2 610.7h3.6v3.6h-3.6zM3344.2 621.2h3.6v3.6h-3.6zM3344.2 628.2h3.6v3.6h-3.6zM3344.2 631.7h3.6v3.6h-3.6zM3344.2 635.2h3.6v3.6h-3.6zM3344.2 638.7h3.6v3.6h-3.6zM3344.2 645.7h3.6v3.6h-3.6zM3344.2 649.2h3.6v3.6h-3.6zM3344.2 656.2h3.6v3.6h-3.6zM3344.2 659.7h3.6v3.6h-3.6zM3344.2 666.7h3.6v3.6h-3.6zM3344.2 670.2h3.6v3.6h-3.6zM3344.2 673.7h3.6v3.6h-3.6zM3344.2 677.2h3.6v3.6h-3.6zM3344.2 680.7h3.6v3.6h-3.6zM3344.2 684.2h3.6v3.6h-3.6zM3344.2 687.7h3.6v3.6h-3.6zM3344.2 691.2h3.6v3.6h-3.6zM3344.2 694.7h3.6v3.6h-3.6zM3344.2 712.2h3.6v3.6h-3.6zM3344.2 715.7h3.6v3.6h-3.6zM3344.2 722.7h3.6v3.6h-3.6zM3344.2 729.7h3.6v3.6h-3.6zM3344.2 736.7h3.6v3.6h-3.6zM3344.2 743.7h3.6v3.6h-3.6zM3344.2 768.2h3.6v3.6h-3.6zM3344.2 785.7h3.6v3.6h-3.6zM3344.2 820.7h3.6v3.6h-3.6zM3347.7 509.2h3.6v3.6h-3.6zM3347.7 544.2h3.6v3.6h-3.6zM3347.7 586.2h3.6v3.6h-3.6zM3347.7 596.7h3.6v3.6h-3.6zM3347.7 614.2h3.6v3.6h-3.6zM3347.7 621.2h3.6v3.6h-3.6zM3347.7 624.7h3.6v3.6h-3.6zM3347.7 631.7h3.6v3.6h-3.6zM3347.7 635.2h3.6v3.6h-3.6zM3347.7 638.7h3.6v3.6h-3.6zM3347.7 642.2h3.6v3.6h-3.6zM3347.7 645.7h3.6v3.6h-3.6zM3347.7 649.2h3.6v3.6h-3.6zM3347.7 656.2h3.6v3.6h-3.6zM3347.7 659.7h3.6v3.6h-3.6zM3347.7 663.2h3.6v3.6h-3.6zM3347.7 666.7h3.6v3.6h-3.6zM3347.7 670.2h3.6v3.6h-3.6zM3347.7 673.7h3.6v3.6h-3.6zM3347.7 677.2h3.6v3.6h-3.6zM3347.7 680.7h3.6v3.6h-3.6zM3347.7 684.2h3.6v3.6h-3.6zM3347.7 687.7h3.6v3.6h-3.6zM3347.7 691.2h3.6v3.6h-3.6zM3347.7 694.7h3.6v3.6h-3.6zM3347.7 698.2h3.6v3.6h-3.6zM3347.7 701.7h3.6v3.6h-3.6zM3347.7 708.7h3.6v3.6h-3.6zM3347.7 712.2h3.6v3.6h-3.6zM3347.7 715.7h3.6v3.6h-3.6zM3347.7 719.2h3.6v3.6h-3.6zM3347.7 740.2h3.6v3.6h-3.6zM3347.7 747.2h3.6v3.6h-3.6zM3347.7 750.7h3.6v3.6h-3.6zM3347.7 754.2h3.6v3.6h-3.6zM3347.7 782.2h3.6v3.6h-3.6zM3347.7 848.7h3.6v3.6h-3.6zM3351.2 537.2h3.6v3.6h-3.6zM3351.2 558.2h3.6v3.6h-3.6zM3351.2 561.7h3.6v3.6h-3.6zM3351.2 568.7h3.6v3.6h-3.6zM3351.2 586.2h3.6v3.6h-3.6zM3351.2 593.2h3.6v3.6h-3.6zM3351.2 596.7h3.6v3.6h-3.6zM3351.2 603.7h3.6v3.6h-3.6zM3351.2 607.2h3.6v3.6h-3.6zM3351.2 614.2h3.6v3.6h-3.6zM3351.2 617.7h3.6v3.6h-3.6zM3351.2 624.7h3.6v3.6h-3.6zM3351.2 628.2h3.6v3.6h-3.6zM3351.2 631.7h3.6v3.6h-3.6zM3351.2 635.2h3.6v3.6h-3.6zM3351.2 638.7h3.6v3.6h-3.6zM3351.2 642.2h3.6v3.6h-3.6zM3351.2 645.7h3.6v3.6h-3.6zM3351.2 652.7h3.6v3.6h-3.6zM3351.2 656.2h3.6v3.6h-3.6zM3351.2 659.7h3.6v3.6h-3.6zM3351.2 663.2h3.6v3.6h-3.6zM3351.2 670.2h3.6v3.6h-3.6zM3351.2 673.7h3.6v3.6h-3.6zM3351.2 677.2h3.6v3.6h-3.6zM3351.2 680.7h3.6v3.6h-3.6zM3351.2 684.2h3.6v3.6h-3.6zM3351.2 698.2h3.6v3.6h-3.6zM3351.2 701.7h3.6v3.6h-3.6zM3351.2 705.2h3.6v3.6h-3.6zM3351.2 708.7h3.6v3.6h-3.6zM3351.2 712.2h3.6v3.6h-3.6zM3351.2 719.2h3.6v3.6h-3.6zM3351.2 729.7h3.6v3.6h-3.6zM3351.2 736.7h3.6v3.6h-3.6zM3351.2 743.7h3.6v3.6h-3.6zM3351.2 747.2h3.6v3.6h-3.6zM3351.2 764.7h3.6v3.6h-3.6zM3351.2 771.7h3.6v3.6h-3.6zM3351.2 775.2h3.6v3.6h-3.6zM3351.2 785.7h3.6v3.6h-3.6zM3351.2 792.7h3.6v3.6h-3.6zM3351.2 824.2h3.6v3.6h-3.6zM3351.2 841.7h3.6v3.6h-3.6zM3351.2 859.2h3.6v3.6h-3.6zM3354.7 526.7h3.6v3.6h-3.6zM3354.7 565.2h3.6v3.6h-3.6zM3354.7 579.2h3.6v3.6h-3.6zM3354.7 586.2h3.6v3.6h-3.6zM3354.7 600.2h3.6v3.6h-3.6zM3354.7 607.2h3.6v3.6h-3.6zM3354.7 610.7h3.6v3.6h-3.6zM3354.7 614.2h3.6v3.6h-3.6zM3354.7 617.7h3.6v3.6h-3.6zM3354.7 621.2h3.6v3.6h-3.6zM3354.7 624.7h3.6v3.6h-3.6zM3354.7 628.2h3.6v3.6h-3.6zM3354.7 631.7h3.6v3.6h-3.6zM3354.7 638.7h3.6v3.6h-3.6zM3354.7 642.2h3.6v3.6h-3.6zM3354.7 645.7h3.6v3.6h-3.6zM3354.7 649.2h3.6v3.6h-3.6zM3354.7 652.7h3.6v3.6h-3.6zM3354.7 656.2h3.6v3.6h-3.6zM3354.7 659.7h3.6v3.6h-3.6zM3354.7 663.2h3.6v3.6h-3.6zM3354.7 666.7h3.6v3.6h-3.6zM3354.7 670.2h3.6v3.6h-3.6zM3354.7 673.7h3.6v3.6h-3.6zM3354.7 680.7h3.6v3.6h-3.6zM3354.7 684.2h3.6v3.6h-3.6zM3354.7 691.2h3.6v3.6h-3.6zM3354.7 694.7h3.6v3.6h-3.6zM3354.7 698.2h3.6v3.6h-3.6zM3354.7 701.7h3.6v3.6h-3.6zM3354.7 708.7h3.6v3.6h-3.6zM3354.7 712.2h3.6v3.6h-3.6zM3354.7 722.7h3.6v3.6h-3.6zM3354.7 726.2h3.6v3.6h-3.6zM3354.7 729.7h3.6v3.6h-3.6zM3354.7 747.2h3.6v3.6h-3.6zM3354.7 848.7h3.6v3.6h-3.6zM3358.2 477.7h3.6v3.6h-3.6zM3358.2 491.7h3.6v3.6h-3.6zM3358.2 505.7h3.6v3.6h-3.6zM3358.2 516.2h3.6v3.6h-3.6zM3358.2 526.7h3.6v3.6h-3.6zM3358.2 558.2h3.6v3.6h-3.6zM3358.2 565.2h3.6v3.6h-3.6zM3358.2 575.7h3.6v3.6h-3.6zM3358.2 589.7h3.6v3.6h-3.6zM3358.2 607.2h3.6v3.6h-3.6zM3358.2 610.7h3.6v3.6h-3.6zM3358.2 614.2h3.6v3.6h-3.6zM3358.2 621.2h3.6v3.6h-3.6zM3358.2 624.7h3.6v3.6h-3.6zM3358.2 628.2h3.6v3.6h-3.6zM3358.2 631.7h3.6v3.6h-3.6zM3358.2 635.2h3.6v3.6h-3.6zM3358.2 638.7h3.6v3.6h-3.6zM3358.2 642.2h3.6v3.6h-3.6zM3358.2 649.2h3.6v3.6h-3.6zM3358.2 652.7h3.6v3.6h-3.6zM3358.2 656.2h3.6v3.6h-3.6zM3358.2 659.7h3.6v3.6h-3.6zM3358.2 663.2h3.6v3.6h-3.6zM3358.2 666.7h3.6v3.6h-3.6zM3358.2 670.2h3.6v3.6h-3.6zM3358.2 673.7h3.6v3.6h-3.6zM3358.2 677.2h3.6v3.6h-3.6zM3358.2 680.7h3.6v3.6h-3.6zM3358.2 684.2h3.6v3.6h-3.6zM3358.2 691.2h3.6v3.6h-3.6zM3358.2 698.2h3.6v3.6h-3.6zM3358.2 708.7h3.6v3.6h-3.6zM3358.2 715.7h3.6v3.6h-3.6zM3358.2 719.2h3.6v3.6h-3.6zM3358.2 729.7h3.6v3.6h-3.6zM3358.2 754.2h3.6v3.6h-3.6zM3358.2 761.2h3.6v3.6h-3.6zM3358.2 764.7h3.6v3.6h-3.6zM3358.2 831.2h3.6v3.6h-3.6zM3358.2 859.2h3.6v3.6h-3.6zM3361.7 533.7h3.6v3.6h-3.6zM3361.7 554.7h3.6v3.6h-3.6zM3361.7 561.7h3.6v3.6h-3.6zM3361.7 582.7h3.6v3.6h-3.6zM3361.7 596.7h3.6v3.6h-3.6zM3361.7 603.7h3.6v3.6h-3.6zM3361.7 610.7h3.6v3.6h-3.6zM3361.7 614.2h3.6v3.6h-3.6zM3361.7 617.7h3.6v3.6h-3.6zM3361.7 621.2h3.6v3.6h-3.6zM3361.7 628.2h3.6v3.6h-3.6zM3361.7 631.7h3.6v3.6h-3.6zM3361.7 635.2h3.6v3.6h-3.6zM3361.7 638.7h3.6v3.6h-3.6zM3361.7 642.2h3.6v3.6h-3.6zM3361.7 645.7h3.6v3.6h-3.6zM3361.7 649.2h3.6v3.6h-3.6zM3361.7 652.7h3.6v3.6h-3.6zM3361.7 656.2h3.6v3.6h-3.6zM3361.7 659.7h3.6v3.6h-3.6zM3361.7 663.2h3.6v3.6h-3.6zM3361.7 666.7h3.6v3.6h-3.6zM3361.7 673.7h3.6v3.6h-3.6zM3361.7 677.2h3.6v3.6h-3.6zM3361.7 680.7h3.6v3.6h-3.6zM3361.7 684.2h3.6v3.6h-3.6zM3361.7 687.7h3.6v3.6h-3.6zM3361.7 691.2h3.6v3.6h-3.6zM3361.7 694.7h3.6v3.6h-3.6zM3361.7 698.2h3.6v3.6h-3.6zM3361.7 701.7h3.6v3.6h-3.6zM3361.7 705.2h3.6v3.6h-3.6zM3361.7 719.2h3.6v3.6h-3.6zM3361.7 729.7h3.6v3.6h-3.6zM3361.7 733.2h3.6v3.6h-3.6zM3361.7 740.2h3.6v3.6h-3.6zM3361.7 747.2h3.6v3.6h-3.6zM3361.7 799.7h3.6v3.6h-3.6zM3365.2 533.7h3.6v3.6h-3.6zM3365.2 540.7h3.6v3.6h-3.6zM3365.2 565.2h3.6v3.6h-3.6zM3365.2 572.2h3.6v3.6h-3.6zM3365.2 589.7h3.6v3.6h-3.6zM3365.2 603.7h3.6v3.6h-3.6zM3365.2 607.2h3.6v3.6h-3.6zM3365.2 610.7h3.6v3.6h-3.6zM3365.2 614.2h3.6v3.6h-3.6zM3365.2 617.7h3.6v3.6h-3.6zM3365.2 621.2h3.6v3.6h-3.6zM3365.2 624.7h3.6v3.6h-3.6zM3365.2 628.2h3.6v3.6h-3.6zM3365.2 631.7h3.6v3.6h-3.6zM3365.2 635.2h3.6v3.6h-3.6zM3365.2 638.7h3.6v3.6h-3.6zM3365.2 642.2h3.6v3.6h-3.6zM3365.2 645.7h3.6v3.6h-3.6zM3365.2 649.2h3.6v3.6h-3.6zM3365.2 652.7h3.6v3.6h-3.6zM3365.2 656.2h3.6v3.6h-3.6zM3365.2 659.7h3.6v3.6h-3.6zM3365.2 663.2h3.6v3.6h-3.6zM3365.2 666.7h3.6v3.6h-3.6zM3365.2 670.2h3.6v3.6h-3.6zM3365.2 673.7h3.6v3.6h-3.6zM3365.2 677.2h3.6v3.6h-3.6zM3365.2 680.7h3.6v3.6h-3.6zM3365.2 684.2h3.6v3.6h-3.6zM3365.2 687.7h3.6v3.6h-3.6zM3365.2 691.2h3.6v3.6h-3.6zM3365.2 694.7h3.6v3.6h-3.6zM3365.2 698.2h3.6v3.6h-3.6zM3365.2 701.7h3.6v3.6h-3.6zM3365.2 708.7h3.6v3.6h-3.6zM3365.2 712.2h3.6v3.6h-3.6zM3365.2 715.7h3.6v3.6h-3.6zM3365.2 722.7h3.6v3.6h-3.6zM3365.2 729.7h3.6v3.6h-3.6zM3365.2 733.2h3.6v3.6h-3.6zM3365.2 743.7h3.6v3.6h-3.6zM3365.2 747.2h3.6v3.6h-3.6zM3365.2 750.7h3.6v3.6h-3.6zM3365.2 754.2h3.6v3.6h-3.6zM3365.2 764.7h3.6v3.6h-3.6zM3365.2 782.2h3.6v3.6h-3.6zM3365.2 806.7h3.6v3.6h-3.6zM3365.2 838.2h3.6v3.6h-3.6zM3368.7 484.7h3.6v3.6h-3.6zM3368.7 498.7h3.6v3.6h-3.6zM3368.7 512.7h3.6v3.6h-3.6zM3368.7 523.2h3.6v3.6h-3.6zM3368.7 544.2h3.6v3.6h-3.6zM3368.7 558.2h3.6v3.6h-3.6zM3368.7 575.7h3.6v3.6h-3.6zM3368.7 582.7h3.6v3.6h-3.6zM3368.7 589.7h3.6v3.6h-3.6zM3368.7 596.7h3.6v3.6h-3.6zM3368.7 600.2h3.6v3.6h-3.6zM3368.7 603.7h3.6v3.6h-3.6zM3368.7 607.2h3.6v3.6h-3.6zM3368.7 610.7h3.6v3.6h-3.6zM3368.7 614.2h3.6v3.6h-3.6zM3368.7 617.7h3.6v3.6h-3.6zM3368.7 621.2h3.6v3.6h-3.6zM3368.7 624.7h3.6v3.6h-3.6zM3368.7 628.2h3.6v3.6h-3.6zM3368.7 631.7h3.6v3.6h-3.6zM3368.7 635.2h3.6v3.6h-3.6zM3368.7 638.7h3.6v3.6h-3.6zM3368.7 642.2h3.6v3.6h-3.6zM3368.7 645.7h3.6v3.6h-3.6zM3368.7 649.2h3.6v3.6h-3.6zM3368.7 652.7h3.6v3.6h-3.6zM3368.7 656.2h3.6v3.6h-3.6zM3368.7 659.7h3.6v3.6h-3.6zM3368.7 663.2h3.6v3.6h-3.6zM3368.7 666.7h3.6v3.6h-3.6zM3368.7 670.2h3.6v3.6h-3.6zM3368.7 673.7h3.6v3.6h-3.6zM3368.7 677.2h3.6v3.6h-3.6zM3368.7 680.7h3.6v3.6h-3.6zM3368.7 684.2h3.6v3.6h-3.6zM3368.7 687.7h3.6v3.6h-3.6zM3368.7 691.2h3.6v3.6h-3.6zM3368.7 698.2h3.6v3.6h-3.6zM3368.7 701.7h3.6v3.6h-3.6zM3368.7 705.2h3.6v3.6h-3.6zM3368.7 708.7h3.6v3.6h-3.6zM3368.7 712.2h3.6v3.6h-3.6zM3368.7 715.7h3.6v3.6h-3.6zM3368.7 719.2h3.6v3.6h-3.6zM3368.7 722.7h3.6v3.6h-3.6zM3368.7 733.2h3.6v3.6h-3.6zM3368.7 757.7h3.6v3.6h-3.6zM3368.7 761.2h3.6v3.6h-3.6zM3368.7 771.7h3.6v3.6h-3.6zM3368.7 782.2h3.6v3.6h-3.6zM3368.7 789.2h3.6v3.6h-3.6zM3368.7 796.2h3.6v3.6h-3.6zM3372.2 488.2h3.6v3.6h-3.6zM3372.2 502.2h3.6v3.6h-3.6zM3372.2 561.7h3.6v3.6h-3.6zM3372.2 565.2h3.6v3.6h-3.6zM3372.2 572.2h3.6v3.6h-3.6zM3372.2 575.7h3.6v3.6h-3.6zM3372.2 579.2h3.6v3.6h-3.6zM3372.2 582.7h3.6v3.6h-3.6zM3372.2 586.2h3.6v3.6h-3.6zM3372.2 593.2h3.6v3.6h-3.6zM3372.2 596.7h3.6v3.6h-3.6zM3372.2 600.2h3.6v3.6h-3.6zM3372.2 603.7h3.6v3.6h-3.6zM3372.2 607.2h3.6v3.6h-3.6zM3372.2 610.7h3.6v3.6h-3.6zM3372.2 614.2h3.6v3.6h-3.6zM3372.2 617.7h3.6v3.6h-3.6zM3372.2 621.2h3.6v3.6h-3.6zM3372.2 624.7h3.6v3.6h-3.6zM3372.2 628.2h3.6v3.6h-3.6zM3372.2 631.7h3.6v3.6h-3.6zM3372.2 635.2h3.6v3.6h-3.6zM3372.2 638.7h3.6v3.6h-3.6zM3372.2 642.2h3.6v3.6h-3.6zM3372.2 645.7h3.6v3.6h-3.6zM3372.2 649.2h3.6v3.6h-3.6zM3372.2 652.7h3.6v3.6h-3.6zM3372.2 656.2h3.6v3.6h-3.6zM3372.2 659.7h3.6v3.6h-3.6zM3372.2 663.2h3.6v3.6h-3.6zM3372.2 666.7h3.6v3.6h-3.6zM3372.2 670.2h3.6v3.6h-3.6zM3372.2 673.7h3.6v3.6h-3.6zM3372.2 677.2h3.6v3.6h-3.6zM3372.2 680.7h3.6v3.6h-3.6zM3372.2 684.2h3.6v3.6h-3.6zM3372.2 687.7h3.6v3.6h-3.6zM3372.2 691.2h3.6v3.6h-3.6zM3372.2 694.7h3.6v3.6h-3.6zM3372.2 698.2h3.6v3.6h-3.6zM3372.2 701.7h3.6v3.6h-3.6zM3372.2 705.2h3.6v3.6h-3.6zM3372.2 708.7h3.6v3.6h-3.6zM3372.2 712.2h3.6v3.6h-3.6zM3372.2 726.2h3.6v3.6h-3.6zM3372.2 729.7h3.6v3.6h-3.6zM3372.2 736.7h3.6v3.6h-3.6zM3372.2 757.7h3.6v3.6h-3.6zM3372.2 768.2h3.6v3.6h-3.6zM3372.2 778.7h3.6v3.6h-3.6zM3372.2 782.2h3.6v3.6h-3.6zM3372.2 813.7h3.6v3.6h-3.6zM3375.7 498.7h3.6v3.6h-3.6zM3375.7 509.2h3.6v3.6h-3.6zM3375.7 516.2h3.6v3.6h-3.6zM3375.7 523.2h3.6v3.6h-3.6zM3375.7 540.7h3.6v3.6h-3.6zM3375.7 561.7h3.6v3.6h-3.6zM3375.7 579.2h3.6v3.6h-3.6zM3375.7 582.7h3.6v3.6h-3.6zM3375.7 586.2h3.6v3.6h-3.6zM3375.7 589.7h3.6v3.6h-3.6zM3375.7 593.2h3.6v3.6h-3.6zM3375.7 600.2h3.6v3.6h-3.6zM3375.7 603.7h3.6v3.6h-3.6zM3375.7 607.2h3.6v3.6h-3.6zM3375.7 610.7h3.6v3.6h-3.6zM3375.7 614.2h3.6v3.6h-3.6zM3375.7 617.7h3.6v3.6h-3.6zM3375.7 621.2h3.6v3.6h-3.6zM3375.7 624.7h3.6v3.6h-3.6zM3375.7 628.2h3.6v3.6h-3.6zM3375.7 631.7h3.6v3.6h-3.6zM3375.7 635.2h3.6v3.6h-3.6zM3375.7 638.7h3.6v3.6h-3.6zM3375.7 642.2h3.6v3.6h-3.6zM3375.7 645.7h3.6v3.6h-3.6zM3375.7 649.2h3.6v3.6h-3.6zM3375.7 652.7h3.6v3.6h-3.6zM3375.7 656.2h3.6v3.6h-3.6zM3375.7 659.7h3.6v3.6h-3.6zM3375.7 663.2h3.6v3.6h-3.6zM3375.7 666.7h3.6v3.6h-3.6zM3375.7 670.2h3.6v3.6h-3.6zM3375.7 673.7h3.6v3.6h-3.6zM3375.7 677.2h3.6v3.6h-3.6zM3375.7 680.7h3.6v3.6h-3.6zM3375.7 687.7h3.6v3.6h-3.6zM3375.7 691.2h3.6v3.6h-3.6zM3375.7 694.7h3.6v3.6h-3.6zM3375.7 698.2h3.6v3.6h-3.6zM3375.7 701.7h3.6v3.6h-3.6zM3375.7 705.2h3.6v3.6h-3.6zM3375.7 712.2h3.6v3.6h-3.6zM3375.7 715.7h3.6v3.6h-3.6zM3375.7 719.2h3.6v3.6h-3.6zM3375.7 726.2h3.6v3.6h-3.6zM3375.7 733.2h3.6v3.6h-3.6zM3375.7 740.2h3.6v3.6h-3.6zM3375.7 750.7h3.6v3.6h-3.6zM3375.7 757.7h3.6v3.6h-3.6zM3375.7 775.2h3.6v3.6h-3.6zM3375.7 778.7h3.6v3.6h-3.6zM3375.7 782.2h3.6v3.6h-3.6zM3375.7 789.2h3.6v3.6h-3.6zM3375.7 799.7h3.6v3.6h-3.6zM3375.7 817.2h3.6v3.6h-3.6zM3375.7 855.7h3.6v3.6h-3.6zM3379.2 568.7h3.6v3.6h-3.6zM3379.2 572.2h3.6v3.6h-3.6zM3379.2 579.2h3.6v3.6h-3.6zM3379.2 582.7h3.6v3.6h-3.6zM3379.2 586.2h3.6v3.6h-3.6zM3379.2 589.7h3.6v3.6h-3.6zM3379.2 596.7h3.6v3.6h-3.6zM3379.2 600.2h3.6v3.6h-3.6zM3379.2 603.7h3.6v3.6h-3.6zM3379.2 607.2h3.6v3.6h-3.6zM3379.2 610.7h3.6v3.6h-3.6zM3379.2 614.2h3.6v3.6h-3.6zM3379.2 617.7h3.6v3.6h-3.6zM3379.2 621.2h3.6v3.6h-3.6zM3379.2 624.7h3.6v3.6h-3.6zM3379.2 628.2h3.6v3.6h-3.6zM3379.2 631.7h3.6v3.6h-3.6zM3379.2 635.2h3.6v3.6h-3.6zM3379.2 638.7h3.6v3.6h-3.6zM3379.2 642.2h3.6v3.6h-3.6zM3379.2 645.7h3.6v3.6h-3.6zM3379.2 649.2h3.6v3.6h-3.6zM3379.2 652.7h3.6v3.6h-3.6zM3379.2 656.2h3.6v3.6h-3.6zM3379.2 659.7h3.6v3.6h-3.6zM3379.2 663.2h3.6v3.6h-3.6zM3379.2 666.7h3.6v3.6h-3.6zM3379.2 670.2h3.6v3.6h-3.6zM3379.2 673.7h3.6v3.6h-3.6zM3379.2 677.2h3.6v3.6h-3.6zM3379.2 680.7h3.6v3.6h-3.6zM3379.2 684.2h3.6v3.6h-3.6zM3379.2 687.7h3.6v3.6h-3.6zM3379.2 694.7h3.6v3.6h-3.6zM3379.2 698.2h3.6v3.6h-3.6zM3379.2 701.7h3.6v3.6h-3.6zM3379.2 705.2h3.6v3.6h-3.6zM3379.2 708.7h3.6v3.6h-3.6zM3379.2 712.2h3.6v3.6h-3.6zM3379.2 719.2h3.6v3.6h-3.6zM3379.2 726.2h3.6v3.6h-3.6zM3379.2 736.7h3.6v3.6h-3.6zM3379.2 747.2h3.6v3.6h-3.6zM3379.2 771.7h3.6v3.6h-3.6zM3382.7 481.2h3.6v3.6h-3.6zM3382.7 491.7h3.6v3.6h-3.6zM3382.7 544.2h3.6v3.6h-3.6zM3382.7 551.2h3.6v3.6h-3.6zM3382.7 568.7h3.6v3.6h-3.6zM3382.7 579.2h3.6v3.6h-3.6zM3382.7 586.2h3.6v3.6h-3.6zM3382.7 589.7h3.6v3.6h-3.6zM3382.7 596.7h3.6v3.6h-3.6zM3382.7 600.2h3.6v3.6h-3.6zM3382.7 603.7h3.6v3.6h-3.6zM3382.7 607.2h3.6v3.6h-3.6zM3382.7 610.7h3.6v3.6h-3.6zM3382.7 614.2h3.6v3.6h-3.6zM3382.7 617.7h3.6v3.6h-3.6zM3382.7 621.2h3.6v3.6h-3.6zM3382.7 624.7h3.6v3.6h-3.6zM3382.7 628.2h3.6v3.6h-3.6zM3382.7 631.7h3.6v3.6h-3.6zM3382.7 635.2h3.6v3.6h-3.6zM3382.7 638.7h3.6v3.6h-3.6zM3382.7 642.2h3.6v3.6h-3.6zM3382.7 645.7h3.6v3.6h-3.6zM3382.7 649.2h3.6v3.6h-3.6zM3382.7 652.7h3.6v3.6h-3.6zM3382.7 656.2h3.6v3.6h-3.6zM3382.7 659.7h3.6v3.6h-3.6zM3382.7 663.2h3.6v3.6h-3.6zM3382.7 666.7h3.6v3.6h-3.6zM3382.7 670.2h3.6v3.6h-3.6zM3382.7 673.7h3.6v3.6h-3.6zM3382.7 677.2h3.6v3.6h-3.6zM3382.7 680.7h3.6v3.6h-3.6zM3382.7 684.2h3.6v3.6h-3.6zM3382.7 687.7h3.6v3.6h-3.6zM3382.7 691.2h3.6v3.6h-3.6zM3382.7 698.2h3.6v3.6h-3.6zM3382.7 705.2h3.6v3.6h-3.6zM3382.7 708.7h3.6v3.6h-3.6zM3382.7 712.2h3.6v3.6h-3.6zM3382.7 726.2h3.6v3.6h-3.6zM3382.7 740.2h3.6v3.6h-3.6zM3382.7 785.7h3.6v3.6h-3.6zM3382.7 810.2h3.6v3.6h-3.6zM3386.2 491.7h3.6v3.6h-3.6zM3386.2 568.7h3.6v3.6h-3.6zM3386.2 579.2h3.6v3.6h-3.6zM3386.2 582.7h3.6v3.6h-3.6zM3386.2 586.2h3.6v3.6h-3.6zM3386.2 589.7h3.6v3.6h-3.6zM3386.2 593.2h3.6v3.6h-3.6zM3386.2 596.7h3.6v3.6h-3.6zM3386.2 603.7h3.6v3.6h-3.6zM3386.2 607.2h3.6v3.6h-3.6zM3386.2 610.7h3.6v3.6h-3.6zM3386.2 614.2h3.6v3.6h-3.6zM3386.2 617.7h3.6v3.6h-3.6zM3386.2 621.2h3.6v3.6h-3.6zM3386.2 624.7h3.6v3.6h-3.6zM3386.2 628.2h3.6v3.6h-3.6zM3386.2 631.7h3.6v3.6h-3.6zM3386.2 635.2h3.6v3.6h-3.6zM3386.2 638.7h3.6v3.6h-3.6zM3386.2 642.2h3.6v3.6h-3.6zM3386.2 645.7h3.6v3.6h-3.6zM3386.2 649.2h3.6v3.6h-3.6zM3386.2 652.7h3.6v3.6h-3.6zM3386.2 656.2h3.6v3.6h-3.6zM3386.2 659.7h3.6v3.6h-3.6zM3386.2 663.2h3.6v3.6h-3.6zM3386.2 666.7h3.6v3.6h-3.6zM3386.2 670.2h3.6v3.6h-3.6zM3386.2 673.7h3.6v3.6h-3.6zM3386.2 677.2h3.6v3.6h-3.6zM3386.2 680.7h3.6v3.6h-3.6zM3386.2 684.2h3.6v3.6h-3.6zM3386.2 687.7h3.6v3.6h-3.6zM3386.2 691.2h3.6v3.6h-3.6zM3386.2 698.2h3.6v3.6h-3.6zM3386.2 701.7h3.6v3.6h-3.6zM3386.2 708.7h3.6v3.6h-3.6zM3386.2 715.7h3.6v3.6h-3.6zM3386.2 722.7h3.6v3.6h-3.6zM3386.2 733.2h3.6v3.6h-3.6zM3386.2 768.2h3.6v3.6h-3.6zM3386.2 785.7h3.6v3.6h-3.6zM3386.2 838.2h3.6v3.6h-3.6zM3386.2 852.2h3.6v3.6h-3.6zM3386.2 859.2h3.6v3.6h-3.6zM3389.7 512.7h3.6v3.6h-3.6zM3389.7 547.7h3.6v3.6h-3.6zM3389.7 554.7h3.6v3.6h-3.6zM3389.7 565.2h3.6v3.6h-3.6zM3389.7 575.7h3.6v3.6h-3.6zM3389.7 579.2h3.6v3.6h-3.6zM3389.7 582.7h3.6v3.6h-3.6zM3389.7 586.2h3.6v3.6h-3.6zM3389.7 593.2h3.6v3.6h-3.6zM3389.7 596.7h3.6v3.6h-3.6zM3389.7 600.2h3.6v3.6h-3.6zM3389.7 603.7h3.6v3.6h-3.6zM3389.7 607.2h3.6v3.6h-3.6zM3389.7 610.7h3.6v3.6h-3.6zM3389.7 614.2h3.6v3.6h-3.6zM3389.7 617.7h3.6v3.6h-3.6zM3389.7 621.2h3.6v3.6h-3.6zM3389.7 624.7h3.6v3.6h-3.6zM3389.7 628.2h3.6v3.6h-3.6zM3389.7 631.7h3.6v3.6h-3.6zM3389.7 635.2h3.6v3.6h-3.6zM3389.7 638.7h3.6v3.6h-3.6zM3389.7 642.2h3.6v3.6h-3.6zM3389.7 645.7h3.6v3.6h-3.6zM3389.7 649.2h3.6v3.6h-3.6zM3389.7 652.7h3.6v3.6h-3.6zM3389.7 656.2h3.6v3.6h-3.6zM3389.7 659.7h3.6v3.6h-3.6zM3389.7 663.2h3.6v3.6h-3.6zM3389.7 666.7h3.6v3.6h-3.6zM3389.7 670.2h3.6v3.6h-3.6zM3389.7 673.7h3.6v3.6h-3.6zM3389.7 677.2h3.6v3.6h-3.6zM3389.7 680.7h3.6v3.6h-3.6zM3389.7 684.2h3.6v3.6h-3.6zM3389.7 687.7h3.6v3.6h-3.6zM3389.7 691.2h3.6v3.6h-3.6zM3389.7 694.7h3.6v3.6h-3.6zM3389.7 698.2h3.6v3.6h-3.6zM3389.7 701.7h3.6v3.6h-3.6zM3389.7 708.7h3.6v3.6h-3.6zM3389.7 712.2h3.6v3.6h-3.6zM3389.7 729.7h3.6v3.6h-3.6zM3389.7 733.2h3.6v3.6h-3.6zM3389.7 743.7h3.6v3.6h-3.6zM3389.7 754.2h3.6v3.6h-3.6zM3389.7 764.7h3.6v3.6h-3.6zM3389.7 782.2h3.6v3.6h-3.6zM3389.7 792.7h3.6v3.6h-3.6zM3389.7 796.2h3.6v3.6h-3.6zM3389.7 813.7h3.6v3.6h-3.6zM3389.7 824.2h3.6v3.6h-3.6zM3389.7 827.7h3.6v3.6h-3.6zM3389.7 834.7h3.6v3.6h-3.6zM3393.2 481.2h3.6v3.6h-3.6zM3393.2 512.7h3.6v3.6h-3.6zM3393.2 516.2h3.6v3.6h-3.6zM3393.2 544.2h3.6v3.6h-3.6zM3393.2 575.7h3.6v3.6h-3.6zM3393.2 579.2h3.6v3.6h-3.6zM3393.2 582.7h3.6v3.6h-3.6zM3393.2 586.2h3.6v3.6h-3.6zM3393.2 589.7h3.6v3.6h-3.6zM3393.2 593.2h3.6v3.6h-3.6zM3393.2 596.7h3.6v3.6h-3.6zM3393.2 600.2h3.6v3.6h-3.6zM3393.2 603.7h3.6v3.6h-3.6zM3393.2 607.2h3.6v3.6h-3.6zM3393.2 610.7h3.6v3.6h-3.6zM3393.2 614.2h3.6v3.6h-3.6zM3393.2 617.7h3.6v3.6h-3.6zM3393.2 621.2h3.6v3.6h-3.6zM3393.2 624.7h3.6v3.6h-3.6zM3393.2 628.2h3.6v3.6h-3.6zM3393.2 631.7h3.6v3.6h-3.6zM3393.2 635.2h3.6v3.6h-3.6zM3393.2 638.7h3.6v3.6h-3.6zM3393.2 642.2h3.6v3.6h-3.6zM3393.2 645.7h3.6v3.6h-3.6zM3393.2 649.2h3.6v3.6h-3.6zM3393.2 652.7h3.6v3.6h-3.6zM3393.2 656.2h3.6v3.6h-3.6zM3393.2 659.7h3.6v3.6h-3.6zM3393.2 663.2h3.6v3.6h-3.6zM3393.2 666.7h3.6v3.6h-3.6zM3393.2 670.2h3.6v3.6h-3.6zM3393.2 673.7h3.6v3.6h-3.6zM3393.2 677.2h3.6v3.6h-3.6zM3393.2 680.7h3.6v3.6h-3.6zM3393.2 687.7h3.6v3.6h-3.6zM3393.2 691.2h3.6v3.6h-3.6zM3393.2 694.7h3.6v3.6h-3.6zM3393.2 698.2h3.6v3.6h-3.6zM3393.2 701.7h3.6v3.6h-3.6zM3393.2 705.2h3.6v3.6h-3.6zM3393.2 708.7h3.6v3.6h-3.6zM3393.2 712.2h3.6v3.6h-3.6zM3393.2 729.7h3.6v3.6h-3.6zM3393.2 733.2h3.6v3.6h-3.6zM3393.2 740.2h3.6v3.6h-3.6zM3393.2 747.2h3.6v3.6h-3.6zM3393.2 750.7h3.6v3.6h-3.6zM3393.2 754.2h3.6v3.6h-3.6zM3393.2 757.7h3.6v3.6h-3.6zM3393.2 761.2h3.6v3.6h-3.6zM3393.2 831.2h3.6v3.6h-3.6zM3393.2 866.2h3.6v3.6h-3.6zM3396.7 547.7h3.6v3.6h-3.6zM3396.7 554.7h3.6v3.6h-3.6zM3396.7 568.7h3.6v3.6h-3.6zM3396.7 572.2h3.6v3.6h-3.6zM3396.7 579.2h3.6v3.6h-3.6zM3396.7 582.7h3.6v3.6h-3.6zM3396.7 586.2h3.6v3.6h-3.6zM3396.7 589.7h3.6v3.6h-3.6zM3396.7 596.7h3.6v3.6h-3.6zM3396.7 600.2h3.6v3.6h-3.6zM3396.7 603.7h3.6v3.6h-3.6zM3396.7 607.2h3.6v3.6h-3.6zM3396.7 610.7h3.6v3.6h-3.6zM3396.7 614.2h3.6v3.6h-3.6zM3396.7 617.7h3.6v3.6h-3.6zM3396.7 621.2h3.6v3.6h-3.6zM3396.7 624.7h3.6v3.6h-3.6zM3396.7 628.2h3.6v3.6h-3.6zM3396.7 631.7h3.6v3.6h-3.6zM3396.7 635.2h3.6v3.6h-3.6zM3396.7 638.7h3.6v3.6h-3.6zM3396.7 642.2h3.6v3.6h-3.6zM3396.7 645.7h3.6v3.6h-3.6zM3396.7 649.2h3.6v3.6h-3.6zM3396.7 652.7h3.6v3.6h-3.6zM3396.7 656.2h3.6v3.6h-3.6zM3396.7 659.7h3.6v3.6h-3.6zM3396.7 663.2h3.6v3.6h-3.6zM3396.7 666.7h3.6v3.6h-3.6zM3396.7 670.2h3.6v3.6h-3.6zM3396.7 673.7h3.6v3.6h-3.6zM3396.7 677.2h3.6v3.6h-3.6zM3396.7 680.7h3.6v3.6h-3.6zM3396.7 684.2h3.6v3.6h-3.6zM3396.7 687.7h3.6v3.6h-3.6zM3396.7 691.2h3.6v3.6h-3.6zM3396.7 694.7h3.6v3.6h-3.6zM3396.7 698.2h3.6v3.6h-3.6zM3396.7 701.7h3.6v3.6h-3.6zM3396.7 708.7h3.6v3.6h-3.6zM3396.7 719.2h3.6v3.6h-3.6zM3396.7 733.2h3.6v3.6h-3.6zM3396.7 743.7h3.6v3.6h-3.6zM3396.7 761.2h3.6v3.6h-3.6zM3396.7 771.7h3.6v3.6h-3.6zM3396.7 782.2h3.6v3.6h-3.6zM3396.7 817.2h3.6v3.6h-3.6zM3396.7 890.7h3.6v3.6h-3.6zM3400.2 491.7h3.6v3.6h-3.6zM3400.2 498.7h3.6v3.6h-3.6zM3400.2 502.2h3.6v3.6h-3.6zM3400.2 509.2h3.6v3.6h-3.6zM3400.2 537.2h3.6v3.6h-3.6zM3400.2 540.7h3.6v3.6h-3.6zM3400.2 558.2h3.6v3.6h-3.6zM3400.2 561.7h3.6v3.6h-3.6zM3400.2 568.7h3.6v3.6h-3.6zM3400.2 572.2h3.6v3.6h-3.6zM3400.2 579.2h3.6v3.6h-3.6zM3400.2 582.7h3.6v3.6h-3.6zM3400.2 586.2h3.6v3.6h-3.6zM3400.2 589.7h3.6v3.6h-3.6zM3400.2 593.2h3.6v3.6h-3.6zM3400.2 596.7h3.6v3.6h-3.6zM3400.2 600.2h3.6v3.6h-3.6zM3400.2 603.7h3.6v3.6h-3.6zM3400.2 607.2h3.6v3.6h-3.6zM3400.2 610.7h3.6v3.6h-3.6zM3400.2 614.2h3.6v3.6h-3.6zM3400.2 617.7h3.6v3.6h-3.6zM3400.2 621.2h3.6v3.6h-3.6zM3400.2 624.7h3.6v3.6h-3.6zM3400.2 628.2h3.6v3.6h-3.6zM3400.2 631.7h3.6v3.6h-3.6zM3400.2 635.2h3.6v3.6h-3.6zM3400.2 638.7h3.6v3.6h-3.6zM3400.2 642.2h3.6v3.6h-3.6zM3400.2 645.7h3.6v3.6h-3.6zM3400.2 649.2h3.6v3.6h-3.6zM3400.2 652.7h3.6v3.6h-3.6zM3400.2 656.2h3.6v3.6h-3.6zM3400.2 659.7h3.6v3.6h-3.6zM3400.2 663.2h3.6v3.6h-3.6zM3400.2 666.7h3.6v3.6h-3.6zM3400.2 670.2h3.6v3.6h-3.6zM3400.2 673.7h3.6v3.6h-3.6zM3400.2 677.2h3.6v3.6h-3.6zM3400.2 680.7h3.6v3.6h-3.6zM3400.2 684.2h3.6v3.6h-3.6zM3400.2 687.7h3.6v3.6h-3.6zM3400.2 691.2h3.6v3.6h-3.6zM3400.2 694.7h3.6v3.6h-3.6zM3400.2 701.7h3.6v3.6h-3.6zM3400.2 708.7h3.6v3.6h-3.6zM3400.2 715.7h3.6v3.6h-3.6zM3400.2 722.7h3.6v3.6h-3.6zM3400.2 726.2h3.6v3.6h-3.6zM3400.2 733.2h3.6v3.6h-3.6zM3400.2 736.7h3.6v3.6h-3.6zM3400.2 750.7h3.6v3.6h-3.6zM3400.2 764.7h3.6v3.6h-3.6zM3400.2 771.7h3.6v3.6h-3.6zM3400.2 775.2h3.6v3.6h-3.6zM3400.2 778.7h3.6v3.6h-3.6zM3400.2 782.2h3.6v3.6h-3.6zM3400.2 789.2h3.6v3.6h-3.6zM3400.2 806.7h3.6v3.6h-3.6zM3400.2 894.2h3.6v3.6h-3.6zM3403.7 435.7h3.6v3.6h-3.6zM3403.7 516.2h3.6v3.6h-3.6zM3403.7 554.7h3.6v3.6h-3.6zM3403.7 558.2h3.6v3.6h-3.6zM3403.7 565.2h3.6v3.6h-3.6zM3403.7 568.7h3.6v3.6h-3.6zM3403.7 572.2h3.6v3.6h-3.6zM3403.7 582.7h3.6v3.6h-3.6zM3403.7 586.2h3.6v3.6h-3.6zM3403.7 589.7h3.6v3.6h-3.6zM3403.7 593.2h3.6v3.6h-3.6zM3403.7 596.7h3.6v3.6h-3.6zM3403.7 600.2h3.6v3.6h-3.6zM3403.7 603.7h3.6v3.6h-3.6zM3403.7 607.2h3.6v3.6h-3.6zM3403.7 610.7h3.6v3.6h-3.6zM3403.7 614.2h3.6v3.6h-3.6zM3403.7 617.7h3.6v3.6h-3.6zM3403.7 621.2h3.6v3.6h-3.6zM3403.7 624.7h3.6v3.6h-3.6zM3403.7 628.2h3.6v3.6h-3.6zM3403.7 631.7h3.6v3.6h-3.6zM3403.7 635.2h3.6v3.6h-3.6zM3403.7 638.7h3.6v3.6h-3.6zM3403.7 642.2h3.6v3.6h-3.6zM3403.7 645.7h3.6v3.6h-3.6zM3403.7 649.2h3.6v3.6h-3.6zM3403.7 652.7h3.6v3.6h-3.6zM3403.7 656.2h3.6v3.6h-3.6zM3403.7 659.7h3.6v3.6h-3.6zM3403.7 663.2h3.6v3.6h-3.6zM3403.7 666.7h3.6v3.6h-3.6zM3403.7 670.2h3.6v3.6h-3.6zM3403.7 673.7h3.6v3.6h-3.6zM3403.7 677.2h3.6v3.6h-3.6zM3403.7 680.7h3.6v3.6h-3.6zM3403.7 684.2h3.6v3.6h-3.6zM3403.7 687.7h3.6v3.6h-3.6zM3403.7 691.2h3.6v3.6h-3.6zM3403.7 694.7h3.6v3.6h-3.6zM3403.7 698.2h3.6v3.6h-3.6zM3403.7 701.7h3.6v3.6h-3.6zM3403.7 705.2h3.6v3.6h-3.6zM3403.7 712.2h3.6v3.6h-3.6zM3403.7 715.7h3.6v3.6h-3.6zM3403.7 719.2h3.6v3.6h-3.6zM3403.7 729.7h3.6v3.6h-3.6zM3403.7 733.2h3.6v3.6h-3.6zM3403.7 747.2h3.6v3.6h-3.6zM3403.7 750.7h3.6v3.6h-3.6zM3403.7 771.7h3.6v3.6h-3.6zM3403.7 806.7h3.6v3.6h-3.6zM3403.7 817.2h3.6v3.6h-3.6zM3403.7 908.2h3.6v3.6h-3.6zM3407.2 442.7h3.6v3.6h-3.6zM3407.2 467.2h3.6v3.6h-3.6zM3407.2 516.2h3.6v3.6h-3.6zM3407.2 530.2h3.6v3.6h-3.6zM3407.2 544.2h3.6v3.6h-3.6zM3407.2 547.7h3.6v3.6h-3.6zM3407.2 551.2h3.6v3.6h-3.6zM3407.2 561.7h3.6v3.6h-3.6zM3407.2 572.2h3.6v3.6h-3.6zM3407.2 575.7h3.6v3.6h-3.6zM3407.2 582.7h3.6v3.6h-3.6zM3407.2 586.2h3.6v3.6h-3.6zM3407.2 589.7h3.6v3.6h-3.6zM3407.2 593.2h3.6v3.6h-3.6zM3407.2 596.7h3.6v3.6h-3.6zM3407.2 600.2h3.6v3.6h-3.6zM3407.2 603.7h3.6v3.6h-3.6zM3407.2 607.2h3.6v3.6h-3.6zM3407.2 610.7h3.6v3.6h-3.6zM3407.2 614.2h3.6v3.6h-3.6zM3407.2 617.7h3.6v3.6h-3.6zM3407.2 621.2h3.6v3.6h-3.6zM3407.2 624.7h3.6v3.6h-3.6zM3407.2 628.2h3.6v3.6h-3.6zM3407.2 631.7h3.6v3.6h-3.6zM3407.2 635.2h3.6v3.6h-3.6zM3407.2 638.7h3.6v3.6h-3.6zM3407.2 642.2h3.6v3.6h-3.6zM3407.2 645.7h3.6v3.6h-3.6zM3407.2 649.2h3.6v3.6h-3.6zM3407.2 652.7h3.6v3.6h-3.6zM3407.2 656.2h3.6v3.6h-3.6zM3407.2 659.7h3.6v3.6h-3.6zM3407.2 663.2h3.6v3.6h-3.6zM3407.2 670.2h3.6v3.6h-3.6zM3407.2 673.7h3.6v3.6h-3.6zM3407.2 677.2h3.6v3.6h-3.6zM3407.2 680.7h3.6v3.6h-3.6zM3407.2 684.2h3.6v3.6h-3.6zM3407.2 687.7h3.6v3.6h-3.6zM3407.2 691.2h3.6v3.6h-3.6zM3407.2 694.7h3.6v3.6h-3.6zM3407.2 698.2h3.6v3.6h-3.6zM3407.2 701.7h3.6v3.6h-3.6zM3407.2 708.7h3.6v3.6h-3.6zM3407.2 712.2h3.6v3.6h-3.6zM3407.2 715.7h3.6v3.6h-3.6zM3407.2 719.2h3.6v3.6h-3.6zM3407.2 729.7h3.6v3.6h-3.6zM3407.2 740.2h3.6v3.6h-3.6zM3407.2 750.7h3.6v3.6h-3.6zM3407.2 761.2h3.6v3.6h-3.6zM3407.2 782.2h3.6v3.6h-3.6zM3407.2 796.2h3.6v3.6h-3.6zM3407.2 806.7h3.6v3.6h-3.6zM3407.2 813.7h3.6v3.6h-3.6zM3410.7 537.2h3.6v3.6h-3.6zM3410.7 554.7h3.6v3.6h-3.6zM3410.7 572.2h3.6v3.6h-3.6zM3410.7 575.7h3.6v3.6h-3.6zM3410.7 582.7h3.6v3.6h-3.6zM3410.7 586.2h3.6v3.6h-3.6zM3410.7 589.7h3.6v3.6h-3.6zM3410.7 593.2h3.6v3.6h-3.6zM3410.7 596.7h3.6v3.6h-3.6zM3410.7 600.2h3.6v3.6h-3.6zM3410.7 603.7h3.6v3.6h-3.6zM3410.7 607.2h3.6v3.6h-3.6zM3410.7 610.7h3.6v3.6h-3.6zM3410.7 614.2h3.6v3.6h-3.6zM3410.7 617.7h3.6v3.6h-3.6zM3410.7 621.2h3.6v3.6h-3.6zM3410.7 624.7h3.6v3.6h-3.6zM3410.7 628.2h3.6v3.6h-3.6zM3410.7 631.7h3.6v3.6h-3.6zM3410.7 635.2h3.6v3.6h-3.6zM3410.7 638.7h3.6v3.6h-3.6zM3410.7 642.2h3.6v3.6h-3.6zM3410.7 645.7h3.6v3.6h-3.6zM3410.7 649.2h3.6v3.6h-3.6zM3410.7 652.7h3.6v3.6h-3.6zM3410.7 656.2h3.6v3.6h-3.6zM3410.7 659.7h3.6v3.6h-3.6zM3410.7 663.2h3.6v3.6h-3.6zM3410.7 666.7h3.6v3.6h-3.6zM3410.7 670.2h3.6v3.6h-3.6zM3410.7 673.7h3.6v3.6h-3.6zM3410.7 677.2h3.6v3.6h-3.6zM3410.7 680.7h3.6v3.6h-3.6zM3410.7 687.7h3.6v3.6h-3.6zM3410.7 691.2h3.6v3.6h-3.6zM3410.7 712.2h3.6v3.6h-3.6zM3410.7 722.7h3.6v3.6h-3.6zM3410.7 733.2h3.6v3.6h-3.6zM3410.7 747.2h3.6v3.6h-3.6zM3410.7 757.7h3.6v3.6h-3.6zM3410.7 761.2h3.6v3.6h-3.6zM3410.7 771.7h3.6v3.6h-3.6zM3410.7 796.2h3.6v3.6h-3.6zM3410.7 803.2h3.6v3.6h-3.6zM3410.7 813.7h3.6v3.6h-3.6zM3410.7 866.2h3.6v3.6h-3.6zM3414.2 449.7h3.6v3.6h-3.6zM3414.2 540.7h3.6v3.6h-3.6zM3414.2 551.2h3.6v3.6h-3.6zM3414.2 558.2h3.6v3.6h-3.6zM3414.2 561.7h3.6v3.6h-3.6zM3414.2 565.2h3.6v3.6h-3.6zM3414.2 568.7h3.6v3.6h-3.6zM3414.2 572.2h3.6v3.6h-3.6zM3414.2 579.2h3.6v3.6h-3.6zM3414.2 582.7h3.6v3.6h-3.6zM3414.2 586.2h3.6v3.6h-3.6zM3414.2 589.7h3.6v3.6h-3.6zM3414.2 593.2h3.6v3.6h-3.6zM3414.2 596.7h3.6v3.6h-3.6zM3414.2 600.2h3.6v3.6h-3.6zM3414.2 603.7h3.6v3.6h-3.6zM3414.2 607.2h3.6v3.6h-3.6zM3414.2 610.7h3.6v3.6h-3.6zM3414.2 614.2h3.6v3.6h-3.6zM3414.2 617.7h3.6v3.6h-3.6zM3414.2 621.2h3.6v3.6h-3.6zM3414.2 624.7h3.6v3.6h-3.6zM3414.2 628.2h3.6v3.6h-3.6zM3414.2 631.7h3.6v3.6h-3.6zM3414.2 635.2h3.6v3.6h-3.6zM3414.2 638.7h3.6v3.6h-3.6zM3414.2 642.2h3.6v3.6h-3.6zM3414.2 645.7h3.6v3.6h-3.6zM3414.2 649.2h3.6v3.6h-3.6zM3414.2 652.7h3.6v3.6h-3.6zM3414.2 656.2h3.6v3.6h-3.6zM3414.2 659.7h3.6v3.6h-3.6zM3414.2 663.2h3.6v3.6h-3.6zM3414.2 666.7h3.6v3.6h-3.6zM3414.2 670.2h3.6v3.6h-3.6zM3414.2 673.7h3.6v3.6h-3.6zM3414.2 677.2h3.6v3.6h-3.6zM3414.2 684.2h3.6v3.6h-3.6zM3414.2 691.2h3.6v3.6h-3.6zM3414.2 694.7h3.6v3.6h-3.6zM3414.2 698.2h3.6v3.6h-3.6zM3414.2 705.2h3.6v3.6h-3.6zM3414.2 712.2h3.6v3.6h-3.6zM3414.2 719.2h3.6v3.6h-3.6zM3414.2 726.2h3.6v3.6h-3.6zM3414.2 743.7h3.6v3.6h-3.6zM3414.2 754.2h3.6v3.6h-3.6zM3414.2 768.2h3.6v3.6h-3.6zM3414.2 771.7h3.6v3.6h-3.6zM3414.2 803.2h3.6v3.6h-3.6zM3417.7 519.7h3.6v3.6h-3.6zM3417.7 526.7h3.6v3.6h-3.6zM3417.7 540.7h3.6v3.6h-3.6zM3417.7 551.2h3.6v3.6h-3.6zM3417.7 558.2h3.6v3.6h-3.6zM3417.7 561.7h3.6v3.6h-3.6zM3417.7 565.2h3.6v3.6h-3.6zM3417.7 568.7h3.6v3.6h-3.6zM3417.7 575.7h3.6v3.6h-3.6zM3417.7 582.7h3.6v3.6h-3.6zM3417.7 586.2h3.6v3.6h-3.6zM3417.7 589.7h3.6v3.6h-3.6zM3417.7 593.2h3.6v3.6h-3.6zM3417.7 596.7h3.6v3.6h-3.6zM3417.7 600.2h3.6v3.6h-3.6zM3417.7 603.7h3.6v3.6h-3.6zM3417.7 607.2h3.6v3.6h-3.6zM3417.7 610.7h3.6v3.6h-3.6zM3417.7 614.2h3.6v3.6h-3.6zM3417.7 617.7h3.6v3.6h-3.6zM3417.7 621.2h3.6v3.6h-3.6zM3417.7 624.7h3.6v3.6h-3.6zM3417.7 628.2h3.6v3.6h-3.6zM3417.7 631.7h3.6v3.6h-3.6zM3417.7 635.2h3.6v3.6h-3.6zM3417.7 638.7h3.6v3.6h-3.6zM3417.7 642.2h3.6v3.6h-3.6zM3417.7 645.7h3.6v3.6h-3.6zM3417.7 649.2h3.6v3.6h-3.6zM3417.7 652.7h3.6v3.6h-3.6zM3417.7 656.2h3.6v3.6h-3.6zM3417.7 659.7h3.6v3.6h-3.6zM3417.7 663.2h3.6v3.6h-3.6zM3417.7 666.7h3.6v3.6h-3.6zM3417.7 670.2h3.6v3.6h-3.6zM3417.7 673.7h3.6v3.6h-3.6zM3417.7 677.2h3.6v3.6h-3.6zM3417.7 684.2h3.6v3.6h-3.6zM3417.7 687.7h3.6v3.6h-3.6zM3417.7 691.2h3.6v3.6h-3.6zM3417.7 701.7h3.6v3.6h-3.6zM3417.7 708.7h3.6v3.6h-3.6zM3417.7 712.2h3.6v3.6h-3.6zM3417.7 722.7h3.6v3.6h-3.6zM3417.7 736.7h3.6v3.6h-3.6zM3417.7 747.2h3.6v3.6h-3.6zM3417.7 757.7h3.6v3.6h-3.6zM3417.7 768.2h3.6v3.6h-3.6zM3417.7 775.2h3.6v3.6h-3.6zM3417.7 869.7h3.6v3.6h-3.6zM3421.2 421.7h3.6v3.6h-3.6zM3421.2 453.2h3.6v3.6h-3.6zM3421.2 540.7h3.6v3.6h-3.6zM3421.2 551.2h3.6v3.6h-3.6zM3421.2 558.2h3.6v3.6h-3.6zM3421.2 565.2h3.6v3.6h-3.6zM3421.2 575.7h3.6v3.6h-3.6zM3421.2 579.2h3.6v3.6h-3.6zM3421.2 582.7h3.6v3.6h-3.6zM3421.2 586.2h3.6v3.6h-3.6zM3421.2 589.7h3.6v3.6h-3.6zM3421.2 593.2h3.6v3.6h-3.6zM3421.2 596.7h3.6v3.6h-3.6zM3421.2 600.2h3.6v3.6h-3.6zM3421.2 603.7h3.6v3.6h-3.6zM3421.2 607.2h3.6v3.6h-3.6zM3421.2 610.7h3.6v3.6h-3.6zM3421.2 614.2h3.6v3.6h-3.6zM3421.2 617.7h3.6v3.6h-3.6zM3421.2 621.2h3.6v3.6h-3.6zM3421.2 624.7h3.6v3.6h-3.6zM3421.2 628.2h3.6v3.6h-3.6zM3421.2 631.7h3.6v3.6h-3.6zM3421.2 635.2h3.6v3.6h-3.6zM3421.2 638.7h3.6v3.6h-3.6zM3421.2 642.2h3.6v3.6h-3.6zM3421.2 645.7h3.6v3.6h-3.6zM3421.2 649.2h3.6v3.6h-3.6zM3421.2 652.7h3.6v3.6h-3.6zM3421.2 656.2h3.6v3.6h-3.6zM3421.2 659.7h3.6v3.6h-3.6zM3421.2 663.2h3.6v3.6h-3.6zM3421.2 666.7h3.6v3.6h-3.6zM3421.2 670.2h3.6v3.6h-3.6zM3421.2 677.2h3.6v3.6h-3.6zM3421.2 680.7h3.6v3.6h-3.6zM3421.2 684.2h3.6v3.6h-3.6zM3421.2 687.7h3.6v3.6h-3.6zM3421.2 691.2h3.6v3.6h-3.6zM3421.2 694.7h3.6v3.6h-3.6zM3421.2 698.2h3.6v3.6h-3.6zM3421.2 701.7h3.6v3.6h-3.6zM3421.2 705.2h3.6v3.6h-3.6zM3421.2 708.7h3.6v3.6h-3.6zM3421.2 712.2h3.6v3.6h-3.6zM3421.2 715.7h3.6v3.6h-3.6zM3421.2 722.7h3.6v3.6h-3.6zM3421.2 726.2h3.6v3.6h-3.6zM3421.2 740.2h3.6v3.6h-3.6zM3421.2 757.7h3.6v3.6h-3.6zM3421.2 761.2h3.6v3.6h-3.6zM3421.2 799.7h3.6v3.6h-3.6zM3421.2 803.2h3.6v3.6h-3.6zM3424.7 467.2h3.6v3.6h-3.6zM3424.7 533.7h3.6v3.6h-3.6zM3424.7 540.7h3.6v3.6h-3.6zM3424.7 561.7h3.6v3.6h-3.6zM3424.7 572.2h3.6v3.6h-3.6zM3424.7 575.7h3.6v3.6h-3.6zM3424.7 579.2h3.6v3.6h-3.6zM3424.7 582.7h3.6v3.6h-3.6zM3424.7 586.2h3.6v3.6h-3.6zM3424.7 589.7h3.6v3.6h-3.6zM3424.7 593.2h3.6v3.6h-3.6zM3424.7 596.7h3.6v3.6h-3.6zM3424.7 600.2h3.6v3.6h-3.6zM3424.7 603.7h3.6v3.6h-3.6zM3424.7 607.2h3.6v3.6h-3.6zM3424.7 610.7h3.6v3.6h-3.6zM3424.7 614.2h3.6v3.6h-3.6zM3424.7 617.7h3.6v3.6h-3.6zM3424.7 621.2h3.6v3.6h-3.6zM3424.7 624.7h3.6v3.6h-3.6zM3424.7 628.2h3.6v3.6h-3.6zM3424.7 631.7h3.6v3.6h-3.6zM3424.7 635.2h3.6v3.6h-3.6zM3424.7 638.7h3.6v3.6h-3.6zM3424.7 642.2h3.6v3.6h-3.6zM3424.7 645.7h3.6v3.6h-3.6zM3424.7 649.2h3.6v3.6h-3.6zM3424.7 652.7h3.6v3.6h-3.6zM3424.7 656.2h3.6v3.6h-3.6zM3424.7 659.7h3.6v3.6h-3.6zM3424.7 663.2h3.6v3.6h-3.6zM3424.7 666.7h3.6v3.6h-3.6zM3424.7 670.2h3.6v3.6h-3.6zM3424.7 673.7h3.6v3.6h-3.6zM3424.7 677.2h3.6v3.6h-3.6zM3424.7 680.7h3.6v3.6h-3.6zM3424.7 684.2h3.6v3.6h-3.6zM3424.7 687.7h3.6v3.6h-3.6zM3424.7 691.2h3.6v3.6h-3.6zM3424.7 694.7h3.6v3.6h-3.6zM3424.7 698.2h3.6v3.6h-3.6zM3424.7 701.7h3.6v3.6h-3.6zM3424.7 715.7h3.6v3.6h-3.6zM3424.7 719.2h3.6v3.6h-3.6zM3424.7 722.7h3.6v3.6h-3.6zM3424.7 729.7h3.6v3.6h-3.6zM3424.7 733.2h3.6v3.6h-3.6zM3424.7 743.7h3.6v3.6h-3.6zM3424.7 747.2h3.6v3.6h-3.6zM3424.7 750.7h3.6v3.6h-3.6zM3424.7 757.7h3.6v3.6h-3.6zM3424.7 771.7h3.6v3.6h-3.6zM3424.7 834.7h3.6v3.6h-3.6zM3428.2 418.2h3.6v3.6h-3.6zM3428.2 432.2h3.6v3.6h-3.6zM3428.2 547.7h3.6v3.6h-3.6zM3428.2 554.7h3.6v3.6h-3.6zM3428.2 561.7h3.6v3.6h-3.6zM3428.2 565.2h3.6v3.6h-3.6zM3428.2 568.7h3.6v3.6h-3.6zM3428.2 572.2h3.6v3.6h-3.6zM3428.2 575.7h3.6v3.6h-3.6zM3428.2 579.2h3.6v3.6h-3.6zM3428.2 582.7h3.6v3.6h-3.6zM3428.2 586.2h3.6v3.6h-3.6zM3428.2 589.7h3.6v3.6h-3.6zM3428.2 593.2h3.6v3.6h-3.6zM3428.2 596.7h3.6v3.6h-3.6zM3428.2 600.2h3.6v3.6h-3.6zM3428.2 603.7h3.6v3.6h-3.6zM3428.2 607.2h3.6v3.6h-3.6zM3428.2 610.7h3.6v3.6h-3.6zM3428.2 614.2h3.6v3.6h-3.6zM3428.2 617.7h3.6v3.6h-3.6zM3428.2 621.2h3.6v3.6h-3.6zM3428.2 624.7h3.6v3.6h-3.6zM3428.2 628.2h3.6v3.6h-3.6zM3428.2 631.7h3.6v3.6h-3.6zM3428.2 635.2h3.6v3.6h-3.6zM3428.2 638.7h3.6v3.6h-3.6zM3428.2 642.2h3.6v3.6h-3.6zM3428.2 645.7h3.6v3.6h-3.6zM3428.2 649.2h3.6v3.6h-3.6zM3428.2 652.7h3.6v3.6h-3.6zM3428.2 656.2h3.6v3.6h-3.6zM3428.2 659.7h3.6v3.6h-3.6zM3428.2 663.2h3.6v3.6h-3.6zM3428.2 666.7h3.6v3.6h-3.6zM3428.2 670.2h3.6v3.6h-3.6zM3428.2 673.7h3.6v3.6h-3.6zM3428.2 677.2h3.6v3.6h-3.6zM3428.2 684.2h3.6v3.6h-3.6zM3428.2 698.2h3.6v3.6h-3.6zM3428.2 701.7h3.6v3.6h-3.6zM3428.2 715.7h3.6v3.6h-3.6zM3428.2 719.2h3.6v3.6h-3.6zM3428.2 722.7h3.6v3.6h-3.6zM3428.2 743.7h3.6v3.6h-3.6zM3428.2 810.2h3.6v3.6h-3.6zM3428.2 883.7h3.6v3.6h-3.6zM3431.7 418.2h3.6v3.6h-3.6zM3431.7 453.2h3.6v3.6h-3.6zM3431.7 547.7h3.6v3.6h-3.6zM3431.7 554.7h3.6v3.6h-3.6zM3431.7 568.7h3.6v3.6h-3.6zM3431.7 572.2h3.6v3.6h-3.6zM3431.7 575.7h3.6v3.6h-3.6zM3431.7 579.2h3.6v3.6h-3.6zM3431.7 582.7h3.6v3.6h-3.6zM3431.7 586.2h3.6v3.6h-3.6zM3431.7 589.7h3.6v3.6h-3.6zM3431.7 593.2h3.6v3.6h-3.6zM3431.7 596.7h3.6v3.6h-3.6zM3431.7 600.2h3.6v3.6h-3.6zM3431.7 603.7h3.6v3.6h-3.6zM3431.7 607.2h3.6v3.6h-3.6zM3431.7 610.7h3.6v3.6h-3.6zM3431.7 614.2h3.6v3.6h-3.6zM3431.7 617.7h3.6v3.6h-3.6zM3431.7 621.2h3.6v3.6h-3.6zM3431.7 624.7h3.6v3.6h-3.6zM3431.7 628.2h3.6v3.6h-3.6zM3431.7 631.7h3.6v3.6h-3.6zM3431.7 635.2h3.6v3.6h-3.6zM3431.7 638.7h3.6v3.6h-3.6zM3431.7 642.2h3.6v3.6h-3.6zM3431.7 645.7h3.6v3.6h-3.6zM3431.7 649.2h3.6v3.6h-3.6zM3431.7 652.7h3.6v3.6h-3.6zM3431.7 656.2h3.6v3.6h-3.6zM3431.7 663.2h3.6v3.6h-3.6zM3431.7 666.7h3.6v3.6h-3.6zM3431.7 670.2h3.6v3.6h-3.6zM3431.7 677.2h3.6v3.6h-3.6zM3431.7 680.7h3.6v3.6h-3.6zM3431.7 684.2h3.6v3.6h-3.6zM3431.7 687.7h3.6v3.6h-3.6zM3431.7 691.2h3.6v3.6h-3.6zM3431.7 694.7h3.6v3.6h-3.6zM3431.7 701.7h3.6v3.6h-3.6zM3431.7 705.2h3.6v3.6h-3.6zM3431.7 726.2h3.6v3.6h-3.6zM3431.7 743.7h3.6v3.6h-3.6zM3431.7 747.2h3.6v3.6h-3.6zM3431.7 824.2h3.6v3.6h-3.6zM3431.7 841.7h3.6v3.6h-3.6zM3435.2 530.2h3.6v3.6h-3.6zM3435.2 561.7h3.6v3.6h-3.6zM3435.2 565.2h3.6v3.6h-3.6zM3435.2 568.7h3.6v3.6h-3.6zM3435.2 572.2h3.6v3.6h-3.6zM3435.2 575.7h3.6v3.6h-3.6zM3435.2 579.2h3.6v3.6h-3.6zM3435.2 586.2h3.6v3.6h-3.6zM3435.2 589.7h3.6v3.6h-3.6zM3435.2 593.2h3.6v3.6h-3.6zM3435.2 596.7h3.6v3.6h-3.6zM3435.2 600.2h3.6v3.6h-3.6zM3435.2 603.7h3.6v3.6h-3.6zM3435.2 607.2h3.6v3.6h-3.6zM3435.2 610.7h3.6v3.6h-3.6zM3435.2 614.2h3.6v3.6h-3.6zM3435.2 617.7h3.6v3.6h-3.6zM3435.2 621.2h3.6v3.6h-3.6zM3435.2 624.7h3.6v3.6h-3.6zM3435.2 628.2h3.6v3.6h-3.6zM3435.2 631.7h3.6v3.6h-3.6zM3435.2 635.2h3.6v3.6h-3.6zM3435.2 638.7h3.6v3.6h-3.6zM3435.2 642.2h3.6v3.6h-3.6zM3435.2 645.7h3.6v3.6h-3.6zM3435.2 649.2h3.6v3.6h-3.6zM3435.2 652.7h3.6v3.6h-3.6zM3435.2 656.2h3.6v3.6h-3.6zM3435.2 659.7h3.6v3.6h-3.6zM3435.2 663.2h3.6v3.6h-3.6zM3435.2 666.7h3.6v3.6h-3.6zM3435.2 670.2h3.6v3.6h-3.6zM3435.2 673.7h3.6v3.6h-3.6zM3435.2 677.2h3.6v3.6h-3.6zM3435.2 680.7h3.6v3.6h-3.6zM3435.2 684.2h3.6v3.6h-3.6zM3435.2 687.7h3.6v3.6h-3.6zM3435.2 691.2h3.6v3.6h-3.6zM3435.2 694.7h3.6v3.6h-3.6zM3435.2 701.7h3.6v3.6h-3.6zM3435.2 708.7h3.6v3.6h-3.6zM3435.2 715.7h3.6v3.6h-3.6zM3435.2 719.2h3.6v3.6h-3.6zM3435.2 726.2h3.6v3.6h-3.6zM3435.2 733.2h3.6v3.6h-3.6zM3435.2 736.7h3.6v3.6h-3.6zM3435.2 747.2h3.6v3.6h-3.6zM3435.2 799.7h3.6v3.6h-3.6zM3438.7 449.7h3.6v3.6h-3.6zM3438.7 526.7h3.6v3.6h-3.6zM3438.7 544.2h3.6v3.6h-3.6zM3438.7 551.2h3.6v3.6h-3.6zM3438.7 554.7h3.6v3.6h-3.6zM3438.7 561.7h3.6v3.6h-3.6zM3438.7 565.2h3.6v3.6h-3.6zM3438.7 572.2h3.6v3.6h-3.6zM3438.7 575.7h3.6v3.6h-3.6zM3438.7 579.2h3.6v3.6h-3.6zM3438.7 582.7h3.6v3.6h-3.6zM3438.7 586.2h3.6v3.6h-3.6zM3438.7 589.7h3.6v3.6h-3.6zM3438.7 593.2h3.6v3.6h-3.6zM3438.7 596.7h3.6v3.6h-3.6zM3438.7 600.2h3.6v3.6h-3.6zM3438.7 603.7h3.6v3.6h-3.6zM3438.7 607.2h3.6v3.6h-3.6zM3438.7 610.7h3.6v3.6h-3.6zM3438.7 614.2h3.6v3.6h-3.6zM3438.7 617.7h3.6v3.6h-3.6zM3438.7 621.2h3.6v3.6h-3.6zM3438.7 624.7h3.6v3.6h-3.6zM3438.7 628.2h3.6v3.6h-3.6zM3438.7 631.7h3.6v3.6h-3.6zM3438.7 635.2h3.6v3.6h-3.6zM3438.7 638.7h3.6v3.6h-3.6zM3438.7 642.2h3.6v3.6h-3.6zM3438.7 645.7h3.6v3.6h-3.6zM3438.7 649.2h3.6v3.6h-3.6zM3438.7 652.7h3.6v3.6h-3.6zM3438.7 656.2h3.6v3.6h-3.6zM3438.7 659.7h3.6v3.6h-3.6zM3438.7 663.2h3.6v3.6h-3.6zM3438.7 666.7h3.6v3.6h-3.6zM3438.7 670.2h3.6v3.6h-3.6zM3438.7 673.7h3.6v3.6h-3.6zM3438.7 680.7h3.6v3.6h-3.6zM3438.7 684.2h3.6v3.6h-3.6zM3438.7 687.7h3.6v3.6h-3.6zM3438.7 691.2h3.6v3.6h-3.6zM3438.7 694.7h3.6v3.6h-3.6zM3438.7 698.2h3.6v3.6h-3.6zM3438.7 708.7h3.6v3.6h-3.6zM3438.7 712.2h3.6v3.6h-3.6zM3438.7 726.2h3.6v3.6h-3.6zM3438.7 736.7h3.6v3.6h-3.6zM3438.7 743.7h3.6v3.6h-3.6zM3438.7 789.2h3.6v3.6h-3.6zM3438.7 827.7h3.6v3.6h-3.6zM3438.7 838.2h3.6v3.6h-3.6zM3438.7 855.7h3.6v3.6h-3.6zM3442.2 425.2h3.6v3.6h-3.6zM3442.2 439.2h3.6v3.6h-3.6zM3442.2 446.2h3.6v3.6h-3.6zM3442.2 558.2h3.6v3.6h-3.6zM3442.2 561.7h3.6v3.6h-3.6zM3442.2 565.2h3.6v3.6h-3.6zM3442.2 568.7h3.6v3.6h-3.6zM3442.2 572.2h3.6v3.6h-3.6zM3442.2 575.7h3.6v3.6h-3.6zM3442.2 579.2h3.6v3.6h-3.6zM3442.2 582.7h3.6v3.6h-3.6zM3442.2 586.2h3.6v3.6h-3.6zM3442.2 589.7h3.6v3.6h-3.6zM3442.2 593.2h3.6v3.6h-3.6zM3442.2 596.7h3.6v3.6h-3.6zM3442.2 600.2h3.6v3.6h-3.6zM3442.2 603.7h3.6v3.6h-3.6zM3442.2 607.2h3.6v3.6h-3.6zM3442.2 610.7h3.6v3.6h-3.6zM3442.2 614.2h3.6v3.6h-3.6zM3442.2 617.7h3.6v3.6h-3.6zM3442.2 621.2h3.6v3.6h-3.6zM3442.2 624.7h3.6v3.6h-3.6zM3442.2 628.2h3.6v3.6h-3.6zM3442.2 631.7h3.6v3.6h-3.6zM3442.2 635.2h3.6v3.6h-3.6zM3442.2 638.7h3.6v3.6h-3.6zM3442.2 642.2h3.6v3.6h-3.6zM3442.2 645.7h3.6v3.6h-3.6zM3442.2 649.2h3.6v3.6h-3.6zM3442.2 652.7h3.6v3.6h-3.6zM3442.2 656.2h3.6v3.6h-3.6zM3442.2 659.7h3.6v3.6h-3.6zM3442.2 663.2h3.6v3.6h-3.6zM3442.2 666.7h3.6v3.6h-3.6zM3442.2 673.7h3.6v3.6h-3.6zM3442.2 677.2h3.6v3.6h-3.6zM3442.2 680.7h3.6v3.6h-3.6zM3442.2 684.2h3.6v3.6h-3.6zM3442.2 687.7h3.6v3.6h-3.6zM3442.2 691.2h3.6v3.6h-3.6zM3442.2 694.7h3.6v3.6h-3.6zM3442.2 698.2h3.6v3.6h-3.6zM3442.2 722.7h3.6v3.6h-3.6zM3442.2 740.2h3.6v3.6h-3.6zM3442.2 747.2h3.6v3.6h-3.6zM3445.7 474.2h3.6v3.6h-3.6zM3445.7 488.2h3.6v3.6h-3.6zM3445.7 505.7h3.6v3.6h-3.6zM3445.7 516.2h3.6v3.6h-3.6zM3445.7 540.7h3.6v3.6h-3.6zM3445.7 544.2h3.6v3.6h-3.6zM3445.7 547.7h3.6v3.6h-3.6zM3445.7 568.7h3.6v3.6h-3.6zM3445.7 575.7h3.6v3.6h-3.6zM3445.7 579.2h3.6v3.6h-3.6zM3445.7 582.7h3.6v3.6h-3.6zM3445.7 586.2h3.6v3.6h-3.6zM3445.7 589.7h3.6v3.6h-3.6zM3445.7 593.2h3.6v3.6h-3.6zM3445.7 596.7h3.6v3.6h-3.6zM3445.7 600.2h3.6v3.6h-3.6zM3445.7 603.7h3.6v3.6h-3.6zM3445.7 607.2h3.6v3.6h-3.6zM3445.7 610.7h3.6v3.6h-3.6zM3445.7 614.2h3.6v3.6h-3.6zM3445.7 617.7h3.6v3.6h-3.6zM3445.7 621.2h3.6v3.6h-3.6zM3445.7 624.7h3.6v3.6h-3.6zM3445.7 628.2h3.6v3.6h-3.6zM3445.7 631.7h3.6v3.6h-3.6zM3445.7 635.2h3.6v3.6h-3.6zM3445.7 638.7h3.6v3.6h-3.6zM3445.7 642.2h3.6v3.6h-3.6zM3445.7 645.7h3.6v3.6h-3.6zM3445.7 649.2h3.6v3.6h-3.6zM3445.7 652.7h3.6v3.6h-3.6zM3445.7 656.2h3.6v3.6h-3.6zM3445.7 659.7h3.6v3.6h-3.6zM3445.7 663.2h3.6v3.6h-3.6zM3445.7 666.7h3.6v3.6h-3.6zM3445.7 673.7h3.6v3.6h-3.6zM3445.7 677.2h3.6v3.6h-3.6zM3445.7 680.7h3.6v3.6h-3.6zM3445.7 694.7h3.6v3.6h-3.6zM3445.7 698.2h3.6v3.6h-3.6zM3445.7 705.2h3.6v3.6h-3.6zM3445.7 708.7h3.6v3.6h-3.6zM3445.7 722.7h3.6v3.6h-3.6zM3445.7 729.7h3.6v3.6h-3.6zM3445.7 733.2h3.6v3.6h-3.6zM3445.7 736.7h3.6v3.6h-3.6zM3445.7 757.7h3.6v3.6h-3.6zM3445.7 764.7h3.6v3.6h-3.6zM3445.7 799.7h3.6v3.6h-3.6zM3445.7 806.7h3.6v3.6h-3.6zM3445.7 859.2h3.6v3.6h-3.6zM3449.2 449.7h3.6v3.6h-3.6zM3449.2 526.7h3.6v3.6h-3.6zM3449.2 558.2h3.6v3.6h-3.6zM3449.2 565.2h3.6v3.6h-3.6zM3449.2 568.7h3.6v3.6h-3.6zM3449.2 572.2h3.6v3.6h-3.6zM3449.2 575.7h3.6v3.6h-3.6zM3449.2 579.2h3.6v3.6h-3.6zM3449.2 582.7h3.6v3.6h-3.6zM3449.2 586.2h3.6v3.6h-3.6zM3449.2 589.7h3.6v3.6h-3.6zM3449.2 593.2h3.6v3.6h-3.6zM3449.2 596.7h3.6v3.6h-3.6zM3449.2 600.2h3.6v3.6h-3.6zM3449.2 603.7h3.6v3.6h-3.6zM3449.2 607.2h3.6v3.6h-3.6zM3449.2 610.7h3.6v3.6h-3.6zM3449.2 614.2h3.6v3.6h-3.6zM3449.2 617.7h3.6v3.6h-3.6zM3449.2 621.2h3.6v3.6h-3.6zM3449.2 624.7h3.6v3.6h-3.6zM3449.2 628.2h3.6v3.6h-3.6zM3449.2 631.7h3.6v3.6h-3.6zM3449.2 635.2h3.6v3.6h-3.6zM3449.2 638.7h3.6v3.6h-3.6zM3449.2 642.2h3.6v3.6h-3.6zM3449.2 645.7h3.6v3.6h-3.6zM3449.2 649.2h3.6v3.6h-3.6zM3449.2 652.7h3.6v3.6h-3.6zM3449.2 656.2h3.6v3.6h-3.6zM3449.2 659.7h3.6v3.6h-3.6zM3449.2 663.2h3.6v3.6h-3.6zM3449.2 666.7h3.6v3.6h-3.6zM3449.2 670.2h3.6v3.6h-3.6zM3449.2 673.7h3.6v3.6h-3.6zM3449.2 677.2h3.6v3.6h-3.6zM3449.2 680.7h3.6v3.6h-3.6zM3449.2 684.2h3.6v3.6h-3.6zM3449.2 687.7h3.6v3.6h-3.6zM3449.2 694.7h3.6v3.6h-3.6zM3449.2 701.7h3.6v3.6h-3.6zM3449.2 740.2h3.6v3.6h-3.6zM3449.2 743.7h3.6v3.6h-3.6zM3449.2 750.7h3.6v3.6h-3.6zM3449.2 761.2h3.6v3.6h-3.6zM3449.2 789.2h3.6v3.6h-3.6zM3449.2 803.2h3.6v3.6h-3.6zM3452.7 435.7h3.6v3.6h-3.6zM3452.7 449.7h3.6v3.6h-3.6zM3452.7 498.7h3.6v3.6h-3.6zM3452.7 523.2h3.6v3.6h-3.6zM3452.7 537.2h3.6v3.6h-3.6zM3452.7 561.7h3.6v3.6h-3.6zM3452.7 565.2h3.6v3.6h-3.6zM3452.7 568.7h3.6v3.6h-3.6zM3452.7 575.7h3.6v3.6h-3.6zM3452.7 579.2h3.6v3.6h-3.6zM3452.7 582.7h3.6v3.6h-3.6zM3452.7 586.2h3.6v3.6h-3.6zM3452.7 589.7h3.6v3.6h-3.6zM3452.7 593.2h3.6v3.6h-3.6zM3452.7 596.7h3.6v3.6h-3.6zM3452.7 600.2h3.6v3.6h-3.6zM3452.7 603.7h3.6v3.6h-3.6zM3452.7 607.2h3.6v3.6h-3.6zM3452.7 610.7h3.6v3.6h-3.6zM3452.7 614.2h3.6v3.6h-3.6zM3452.7 617.7h3.6v3.6h-3.6zM3452.7 621.2h3.6v3.6h-3.6zM3452.7 624.7h3.6v3.6h-3.6zM3452.7 628.2h3.6v3.6h-3.6zM3452.7 631.7h3.6v3.6h-3.6zM3452.7 635.2h3.6v3.6h-3.6zM3452.7 638.7h3.6v3.6h-3.6zM3452.7 642.2h3.6v3.6h-3.6zM3452.7 645.7h3.6v3.6h-3.6zM3452.7 649.2h3.6v3.6h-3.6zM3452.7 652.7h3.6v3.6h-3.6zM3452.7 656.2h3.6v3.6h-3.6zM3452.7 663.2h3.6v3.6h-3.6zM3452.7 666.7h3.6v3.6h-3.6zM3452.7 670.2h3.6v3.6h-3.6zM3452.7 684.2h3.6v3.6h-3.6zM3452.7 687.7h3.6v3.6h-3.6zM3452.7 715.7h3.6v3.6h-3.6zM3452.7 736.7h3.6v3.6h-3.6zM3452.7 740.2h3.6v3.6h-3.6zM3452.7 761.2h3.6v3.6h-3.6zM3456.2 421.7h3.6v3.6h-3.6zM3456.2 498.7h3.6v3.6h-3.6zM3456.2 547.7h3.6v3.6h-3.6zM3456.2 558.2h3.6v3.6h-3.6zM3456.2 561.7h3.6v3.6h-3.6zM3456.2 565.2h3.6v3.6h-3.6zM3456.2 568.7h3.6v3.6h-3.6zM3456.2 572.2h3.6v3.6h-3.6zM3456.2 575.7h3.6v3.6h-3.6zM3456.2 579.2h3.6v3.6h-3.6zM3456.2 582.7h3.6v3.6h-3.6zM3456.2 586.2h3.6v3.6h-3.6zM3456.2 589.7h3.6v3.6h-3.6zM3456.2 593.2h3.6v3.6h-3.6zM3456.2 596.7h3.6v3.6h-3.6zM3456.2 600.2h3.6v3.6h-3.6zM3456.2 603.7h3.6v3.6h-3.6zM3456.2 607.2h3.6v3.6h-3.6zM3456.2 610.7h3.6v3.6h-3.6zM3456.2 614.2h3.6v3.6h-3.6zM3456.2 617.7h3.6v3.6h-3.6zM3456.2 621.2h3.6v3.6h-3.6zM3456.2 624.7h3.6v3.6h-3.6zM3456.2 628.2h3.6v3.6h-3.6zM3456.2 631.7h3.6v3.6h-3.6zM3456.2 635.2h3.6v3.6h-3.6zM3456.2 638.7h3.6v3.6h-3.6zM3456.2 642.2h3.6v3.6h-3.6zM3456.2 645.7h3.6v3.6h-3.6zM3456.2 649.2h3.6v3.6h-3.6zM3456.2 652.7h3.6v3.6h-3.6zM3456.2 656.2h3.6v3.6h-3.6zM3456.2 659.7h3.6v3.6h-3.6zM3456.2 666.7h3.6v3.6h-3.6zM3456.2 670.2h3.6v3.6h-3.6zM3456.2 673.7h3.6v3.6h-3.6zM3456.2 677.2h3.6v3.6h-3.6zM3456.2 680.7h3.6v3.6h-3.6zM3456.2 712.2h3.6v3.6h-3.6zM3456.2 719.2h3.6v3.6h-3.6zM3456.2 722.7h3.6v3.6h-3.6zM3456.2 768.2h3.6v3.6h-3.6zM3459.7 453.2h3.6v3.6h-3.6zM3459.7 460.2h3.6v3.6h-3.6zM3459.7 491.7h3.6v3.6h-3.6zM3459.7 526.7h3.6v3.6h-3.6zM3459.7 537.2h3.6v3.6h-3.6zM3459.7 540.7h3.6v3.6h-3.6zM3459.7 547.7h3.6v3.6h-3.6zM3459.7 558.2h3.6v3.6h-3.6zM3459.7 565.2h3.6v3.6h-3.6zM3459.7 572.2h3.6v3.6h-3.6zM3459.7 575.7h3.6v3.6h-3.6zM3459.7 579.2h3.6v3.6h-3.6zM3459.7 582.7h3.6v3.6h-3.6zM3459.7 586.2h3.6v3.6h-3.6zM3459.7 589.7h3.6v3.6h-3.6zM3459.7 593.2h3.6v3.6h-3.6zM3459.7 596.7h3.6v3.6h-3.6zM3459.7 600.2h3.6v3.6h-3.6zM3459.7 603.7h3.6v3.6h-3.6zM3459.7 607.2h3.6v3.6h-3.6zM3459.7 610.7h3.6v3.6h-3.6zM3459.7 614.2h3.6v3.6h-3.6zM3459.7 617.7h3.6v3.6h-3.6zM3459.7 621.2h3.6v3.6h-3.6zM3459.7 624.7h3.6v3.6h-3.6zM3459.7 628.2h3.6v3.6h-3.6zM3459.7 631.7h3.6v3.6h-3.6zM3459.7 635.2h3.6v3.6h-3.6zM3459.7 638.7h3.6v3.6h-3.6zM3459.7 642.2h3.6v3.6h-3.6zM3459.7 645.7h3.6v3.6h-3.6zM3459.7 652.7h3.6v3.6h-3.6zM3459.7 656.2h3.6v3.6h-3.6zM3459.7 659.7h3.6v3.6h-3.6zM3459.7 663.2h3.6v3.6h-3.6zM3459.7 666.7h3.6v3.6h-3.6zM3459.7 670.2h3.6v3.6h-3.6zM3459.7 691.2h3.6v3.6h-3.6zM3459.7 712.2h3.6v3.6h-3.6zM3459.7 761.2h3.6v3.6h-3.6zM3463.2 537.2h3.6v3.6h-3.6zM3463.2 544.2h3.6v3.6h-3.6zM3463.2 558.2h3.6v3.6h-3.6zM3463.2 561.7h3.6v3.6h-3.6zM3463.2 572.2h3.6v3.6h-3.6zM3463.2 575.7h3.6v3.6h-3.6zM3463.2 579.2h3.6v3.6h-3.6zM3463.2 582.7h3.6v3.6h-3.6zM3463.2 586.2h3.6v3.6h-3.6zM3463.2 589.7h3.6v3.6h-3.6zM3463.2 593.2h3.6v3.6h-3.6zM3463.2 596.7h3.6v3.6h-3.6zM3463.2 600.2h3.6v3.6h-3.6zM3463.2 603.7h3.6v3.6h-3.6zM3463.2 607.2h3.6v3.6h-3.6zM3463.2 610.7h3.6v3.6h-3.6zM3463.2 614.2h3.6v3.6h-3.6zM3463.2 617.7h3.6v3.6h-3.6zM3463.2 621.2h3.6v3.6h-3.6zM3463.2 624.7h3.6v3.6h-3.6zM3463.2 628.2h3.6v3.6h-3.6zM3463.2 631.7h3.6v3.6h-3.6zM3463.2 635.2h3.6v3.6h-3.6zM3463.2 642.2h3.6v3.6h-3.6zM3463.2 645.7h3.6v3.6h-3.6zM3463.2 649.2h3.6v3.6h-3.6zM3463.2 652.7h3.6v3.6h-3.6zM3463.2 656.2h3.6v3.6h-3.6zM3463.2 659.7h3.6v3.6h-3.6zM3463.2 663.2h3.6v3.6h-3.6zM3463.2 666.7h3.6v3.6h-3.6zM3463.2 670.2h3.6v3.6h-3.6zM3463.2 684.2h3.6v3.6h-3.6zM3463.2 687.7h3.6v3.6h-3.6zM3463.2 708.7h3.6v3.6h-3.6zM3463.2 712.2h3.6v3.6h-3.6zM3463.2 715.7h3.6v3.6h-3.6zM3463.2 719.2h3.6v3.6h-3.6zM3463.2 729.7h3.6v3.6h-3.6zM3463.2 761.2h3.6v3.6h-3.6zM3466.7 495.2h3.6v3.6h-3.6zM3466.7 554.7h3.6v3.6h-3.6zM3466.7 565.2h3.6v3.6h-3.6zM3466.7 572.2h3.6v3.6h-3.6zM3466.7 575.7h3.6v3.6h-3.6zM3466.7 579.2h3.6v3.6h-3.6zM3466.7 586.2h3.6v3.6h-3.6zM3466.7 589.7h3.6v3.6h-3.6zM3466.7 593.2h3.6v3.6h-3.6zM3466.7 596.7h3.6v3.6h-3.6zM3466.7 600.2h3.6v3.6h-3.6zM3466.7 603.7h3.6v3.6h-3.6zM3466.7 607.2h3.6v3.6h-3.6zM3466.7 610.7h3.6v3.6h-3.6zM3466.7 614.2h3.6v3.6h-3.6zM3466.7 617.7h3.6v3.6h-3.6zM3466.7 621.2h3.6v3.6h-3.6zM3466.7 628.2h3.6v3.6h-3.6zM3466.7 631.7h3.6v3.6h-3.6zM3466.7 635.2h3.6v3.6h-3.6zM3466.7 638.7h3.6v3.6h-3.6zM3466.7 642.2h3.6v3.6h-3.6zM3466.7 645.7h3.6v3.6h-3.6zM3466.7 649.2h3.6v3.6h-3.6zM3466.7 652.7h3.6v3.6h-3.6zM3466.7 663.2h3.6v3.6h-3.6zM3466.7 666.7h3.6v3.6h-3.6zM3466.7 673.7h3.6v3.6h-3.6zM3466.7 698.2h3.6v3.6h-3.6zM3466.7 750.7h3.6v3.6h-3.6zM3466.7 771.7h3.6v3.6h-3.6zM3470.2 449.7h3.6v3.6h-3.6zM3470.2 526.7h3.6v3.6h-3.6zM3470.2 554.7h3.6v3.6h-3.6zM3470.2 558.2h3.6v3.6h-3.6zM3470.2 561.7h3.6v3.6h-3.6zM3470.2 565.2h3.6v3.6h-3.6zM3470.2 568.7h3.6v3.6h-3.6zM3470.2 572.2h3.6v3.6h-3.6zM3470.2 575.7h3.6v3.6h-3.6zM3470.2 579.2h3.6v3.6h-3.6zM3470.2 582.7h3.6v3.6h-3.6zM3470.2 589.7h3.6v3.6h-3.6zM3470.2 593.2h3.6v3.6h-3.6zM3470.2 596.7h3.6v3.6h-3.6zM3470.2 600.2h3.6v3.6h-3.6zM3470.2 607.2h3.6v3.6h-3.6zM3470.2 610.7h3.6v3.6h-3.6zM3470.2 614.2h3.6v3.6h-3.6zM3470.2 617.7h3.6v3.6h-3.6zM3470.2 621.2h3.6v3.6h-3.6zM3470.2 628.2h3.6v3.6h-3.6zM3470.2 631.7h3.6v3.6h-3.6zM3470.2 635.2h3.6v3.6h-3.6zM3470.2 638.7h3.6v3.6h-3.6zM3470.2 642.2h3.6v3.6h-3.6zM3470.2 666.7h3.6v3.6h-3.6zM3470.2 677.2h3.6v3.6h-3.6zM3470.2 698.2h3.6v3.6h-3.6zM3470.2 701.7h3.6v3.6h-3.6zM3470.2 708.7h3.6v3.6h-3.6zM3470.2 722.7h3.6v3.6h-3.6zM3470.2 782.2h3.6v3.6h-3.6zM3473.7 544.2h3.6v3.6h-3.6zM3473.7 565.2h3.6v3.6h-3.6zM3473.7 568.7h3.6v3.6h-3.6zM3473.7 572.2h3.6v3.6h-3.6zM3473.7 575.7h3.6v3.6h-3.6zM3473.7 579.2h3.6v3.6h-3.6zM3473.7 582.7h3.6v3.6h-3.6zM3473.7 586.2h3.6v3.6h-3.6zM3473.7 589.7h3.6v3.6h-3.6zM3473.7 593.2h3.6v3.6h-3.6zM3473.7 596.7h3.6v3.6h-3.6zM3473.7 600.2h3.6v3.6h-3.6zM3473.7 603.7h3.6v3.6h-3.6zM3473.7 607.2h3.6v3.6h-3.6zM3473.7 610.7h3.6v3.6h-3.6zM3473.7 614.2h3.6v3.6h-3.6zM3473.7 617.7h3.6v3.6h-3.6zM3473.7 621.2h3.6v3.6h-3.6zM3473.7 624.7h3.6v3.6h-3.6zM3473.7 628.2h3.6v3.6h-3.6zM3473.7 631.7h3.6v3.6h-3.6zM3473.7 635.2h3.6v3.6h-3.6zM3473.7 638.7h3.6v3.6h-3.6zM3473.7 642.2h3.6v3.6h-3.6zM3473.7 645.7h3.6v3.6h-3.6zM3473.7 649.2h3.6v3.6h-3.6zM3473.7 652.7h3.6v3.6h-3.6zM3473.7 673.7h3.6v3.6h-3.6zM3473.7 691.2h3.6v3.6h-3.6zM3473.7 820.7h3.6v3.6h-3.6zM3473.7 824.2h3.6v3.6h-3.6zM3477.2 442.7h3.6v3.6h-3.6zM3477.2 484.7h3.6v3.6h-3.6zM3477.2 523.2h3.6v3.6h-3.6zM3477.2 551.2h3.6v3.6h-3.6zM3477.2 554.7h3.6v3.6h-3.6zM3477.2 565.2h3.6v3.6h-3.6zM3477.2 568.7h3.6v3.6h-3.6zM3477.2 572.2h3.6v3.6h-3.6zM3477.2 575.7h3.6v3.6h-3.6zM3477.2 579.2h3.6v3.6h-3.6zM3477.2 582.7h3.6v3.6h-3.6zM3477.2 586.2h3.6v3.6h-3.6zM3477.2 589.7h3.6v3.6h-3.6zM3477.2 593.2h3.6v3.6h-3.6zM3477.2 596.7h3.6v3.6h-3.6zM3477.2 600.2h3.6v3.6h-3.6zM3477.2 603.7h3.6v3.6h-3.6zM3477.2 614.2h3.6v3.6h-3.6zM3477.2 617.7h3.6v3.6h-3.6zM3477.2 621.2h3.6v3.6h-3.6zM3477.2 624.7h3.6v3.6h-3.6zM3477.2 631.7h3.6v3.6h-3.6zM3477.2 635.2h3.6v3.6h-3.6zM3477.2 638.7h3.6v3.6h-3.6zM3477.2 642.2h3.6v3.6h-3.6zM3477.2 645.7h3.6v3.6h-3.6zM3477.2 649.2h3.6v3.6h-3.6zM3477.2 659.7h3.6v3.6h-3.6zM3477.2 673.7h3.6v3.6h-3.6zM3477.2 778.7h3.6v3.6h-3.6zM3477.2 799.7h3.6v3.6h-3.6zM3480.7 425.2h3.6v3.6h-3.6zM3480.7 540.7h3.6v3.6h-3.6zM3480.7 544.2h3.6v3.6h-3.6zM3480.7 558.2h3.6v3.6h-3.6zM3480.7 565.2h3.6v3.6h-3.6zM3480.7 568.7h3.6v3.6h-3.6zM3480.7 575.7h3.6v3.6h-3.6zM3480.7 579.2h3.6v3.6h-3.6zM3480.7 582.7h3.6v3.6h-3.6zM3480.7 586.2h3.6v3.6h-3.6zM3480.7 589.7h3.6v3.6h-3.6zM3480.7 593.2h3.6v3.6h-3.6zM3480.7 596.7h3.6v3.6h-3.6zM3480.7 600.2h3.6v3.6h-3.6zM3480.7 603.7h3.6v3.6h-3.6zM3480.7 610.7h3.6v3.6h-3.6zM3480.7 614.2h3.6v3.6h-3.6zM3480.7 617.7h3.6v3.6h-3.6zM3480.7 621.2h3.6v3.6h-3.6zM3480.7 628.2h3.6v3.6h-3.6zM3480.7 635.2h3.6v3.6h-3.6zM3480.7 638.7h3.6v3.6h-3.6zM3480.7 645.7h3.6v3.6h-3.6zM3480.7 649.2h3.6v3.6h-3.6zM3480.7 652.7h3.6v3.6h-3.6zM3480.7 663.2h3.6v3.6h-3.6zM3480.7 666.7h3.6v3.6h-3.6zM3480.7 733.2h3.6v3.6h-3.6zM3480.7 750.7h3.6v3.6h-3.6zM3480.7 887.2h3.6v3.6h-3.6zM3484.2 530.2h3.6v3.6h-3.6zM3484.2 537.2h3.6v3.6h-3.6zM3484.2 547.7h3.6v3.6h-3.6zM3484.2 558.2h3.6v3.6h-3.6zM3484.2 565.2h3.6v3.6h-3.6zM3484.2 568.7h3.6v3.6h-3.6zM3484.2 572.2h3.6v3.6h-3.6zM3484.2 575.7h3.6v3.6h-3.6zM3484.2 579.2h3.6v3.6h-3.6zM3484.2 582.7h3.6v3.6h-3.6zM3484.2 586.2h3.6v3.6h-3.6zM3484.2 589.7h3.6v3.6h-3.6zM3484.2 596.7h3.6v3.6h-3.6zM3484.2 600.2h3.6v3.6h-3.6zM3484.2 603.7h3.6v3.6h-3.6zM3484.2 607.2h3.6v3.6h-3.6zM3484.2 610.7h3.6v3.6h-3.6zM3484.2 614.2h3.6v3.6h-3.6zM3484.2 617.7h3.6v3.6h-3.6zM3484.2 621.2h3.6v3.6h-3.6zM3484.2 624.7h3.6v3.6h-3.6zM3484.2 631.7h3.6v3.6h-3.6zM3484.2 635.2h3.6v3.6h-3.6zM3484.2 638.7h3.6v3.6h-3.6zM3484.2 642.2h3.6v3.6h-3.6zM3484.2 652.7h3.6v3.6h-3.6zM3484.2 659.7h3.6v3.6h-3.6zM3484.2 670.2h3.6v3.6h-3.6zM3484.2 677.2h3.6v3.6h-3.6zM3484.2 733.2h3.6v3.6h-3.6zM3484.2 792.7h3.6v3.6h-3.6zM3484.2 848.7h3.6v3.6h-3.6zM3487.7 530.2h3.6v3.6h-3.6zM3487.7 544.2h3.6v3.6h-3.6zM3487.7 547.7h3.6v3.6h-3.6zM3487.7 558.2h3.6v3.6h-3.6zM3487.7 565.2h3.6v3.6h-3.6zM3487.7 572.2h3.6v3.6h-3.6zM3487.7 575.7h3.6v3.6h-3.6zM3487.7 579.2h3.6v3.6h-3.6zM3487.7 582.7h3.6v3.6h-3.6zM3487.7 586.2h3.6v3.6h-3.6zM3487.7 589.7h3.6v3.6h-3.6zM3487.7 593.2h3.6v3.6h-3.6zM3487.7 596.7h3.6v3.6h-3.6zM3487.7 600.2h3.6v3.6h-3.6zM3487.7 603.7h3.6v3.6h-3.6zM3487.7 607.2h3.6v3.6h-3.6zM3487.7 610.7h3.6v3.6h-3.6zM3487.7 614.2h3.6v3.6h-3.6zM3487.7 617.7h3.6v3.6h-3.6zM3487.7 621.2h3.6v3.6h-3.6zM3487.7 638.7h3.6v3.6h-3.6zM3487.7 645.7h3.6v3.6h-3.6zM3487.7 659.7h3.6v3.6h-3.6zM3487.7 673.7h3.6v3.6h-3.6zM3487.7 691.2h3.6v3.6h-3.6zM3487.7 722.7h3.6v3.6h-3.6zM3491.2 449.7h3.6v3.6h-3.6zM3491.2 516.2h3.6v3.6h-3.6zM3491.2 526.7h3.6v3.6h-3.6zM3491.2 554.7h3.6v3.6h-3.6zM3491.2 572.2h3.6v3.6h-3.6zM3491.2 575.7h3.6v3.6h-3.6zM3491.2 579.2h3.6v3.6h-3.6zM3491.2 586.2h3.6v3.6h-3.6zM3491.2 593.2h3.6v3.6h-3.6zM3491.2 596.7h3.6v3.6h-3.6zM3491.2 600.2h3.6v3.6h-3.6zM3491.2 603.7h3.6v3.6h-3.6zM3491.2 610.7h3.6v3.6h-3.6zM3491.2 614.2h3.6v3.6h-3.6zM3491.2 624.7h3.6v3.6h-3.6zM3491.2 638.7h3.6v3.6h-3.6zM3491.2 642.2h3.6v3.6h-3.6zM3491.2 677.2h3.6v3.6h-3.6zM3494.7 558.2h3.6v3.6h-3.6zM3494.7 568.7h3.6v3.6h-3.6zM3494.7 572.2h3.6v3.6h-3.6zM3494.7 575.7h3.6v3.6h-3.6zM3494.7 579.2h3.6v3.6h-3.6zM3494.7 582.7h3.6v3.6h-3.6zM3494.7 586.2h3.6v3.6h-3.6zM3494.7 593.2h3.6v3.6h-3.6zM3494.7 596.7h3.6v3.6h-3.6zM3494.7 603.7h3.6v3.6h-3.6zM3494.7 621.2h3.6v3.6h-3.6zM3494.7 624.7h3.6v3.6h-3.6zM3494.7 628.2h3.6v3.6h-3.6zM3494.7 638.7h3.6v3.6h-3.6zM3494.7 649.2h3.6v3.6h-3.6zM3494.7 687.7h3.6v3.6h-3.6zM3494.7 694.7h3.6v3.6h-3.6zM3494.7 715.7h3.6v3.6h-3.6zM3498.2 439.2h3.6v3.6h-3.6zM3498.2 495.2h3.6v3.6h-3.6zM3498.2 523.2h3.6v3.6h-3.6zM3498.2 561.7h3.6v3.6h-3.6zM3498.2 582.7h3.6v3.6h-3.6zM3498.2 586.2h3.6v3.6h-3.6zM3498.2 589.7h3.6v3.6h-3.6zM3498.2 593.2h3.6v3.6h-3.6zM3498.2 596.7h3.6v3.6h-3.6zM3498.2 600.2h3.6v3.6h-3.6zM3498.2 610.7h3.6v3.6h-3.6zM3498.2 617.7h3.6v3.6h-3.6zM3498.2 628.2h3.6v3.6h-3.6zM3498.2 631.7h3.6v3.6h-3.6zM3498.2 649.2h3.6v3.6h-3.6zM3498.2 652.7h3.6v3.6h-3.6zM3498.2 747.2h3.6v3.6h-3.6zM3501.7 484.7h3.6v3.6h-3.6zM3501.7 533.7h3.6v3.6h-3.6zM3501.7 547.7h3.6v3.6h-3.6zM3501.7 565.2h3.6v3.6h-3.6zM3501.7 575.7h3.6v3.6h-3.6zM3501.7 582.7h3.6v3.6h-3.6zM3501.7 589.7h3.6v3.6h-3.6zM3501.7 593.2h3.6v3.6h-3.6zM3501.7 600.2h3.6v3.6h-3.6zM3501.7 603.7h3.6v3.6h-3.6zM3501.7 617.7h3.6v3.6h-3.6zM3501.7 621.2h3.6v3.6h-3.6zM3501.7 628.2h3.6v3.6h-3.6zM3501.7 631.7h3.6v3.6h-3.6zM3501.7 712.2h3.6v3.6h-3.6zM3501.7 719.2h3.6v3.6h-3.6zM3501.7 768.2h3.6v3.6h-3.6zM3505.2 498.7h3.6v3.6h-3.6zM3505.2 554.7h3.6v3.6h-3.6zM3505.2 572.2h3.6v3.6h-3.6zM3505.2 589.7h3.6v3.6h-3.6zM3505.2 593.2h3.6v3.6h-3.6zM3505.2 596.7h3.6v3.6h-3.6zM3505.2 600.2h3.6v3.6h-3.6zM3505.2 603.7h3.6v3.6h-3.6zM3505.2 607.2h3.6v3.6h-3.6zM3505.2 610.7h3.6v3.6h-3.6zM3505.2 614.2h3.6v3.6h-3.6zM3505.2 617.7h3.6v3.6h-3.6zM3508.7 491.7h3.6v3.6h-3.6zM3508.7 547.7h3.6v3.6h-3.6zM3508.7 554.7h3.6v3.6h-3.6zM3508.7 558.2h3.6v3.6h-3.6zM3508.7 565.2h3.6v3.6h-3.6zM3508.7 575.7h3.6v3.6h-3.6zM3508.7 582.7h3.6v3.6h-3.6zM3508.7 596.7h3.6v3.6h-3.6zM3508.7 607.2h3.6v3.6h-3.6zM3508.7 624.7h3.6v3.6h-3.6zM3508.7 628.2h3.6v3.6h-3.6zM3508.7 642.2h3.6v3.6h-3.6zM3508.7 754.2h3.6v3.6h-3.6zM3512.2 432.2h3.6v3.6h-3.6zM3512.2 523.2h3.6v3.6h-3.6zM3512.2 554.7h3.6v3.6h-3.6zM3512.2 568.7h3.6v3.6h-3.6zM3512.2 575.7h3.6v3.6h-3.6zM3512.2 579.2h3.6v3.6h-3.6zM3512.2 638.7h3.6v3.6h-3.6zM3512.2 677.2h3.6v3.6h-3.6zM3512.2 729.7h3.6v3.6h-3.6zM3515.7 544.2h3.6v3.6h-3.6zM3515.7 589.7h3.6v3.6h-3.6zM3515.7 600.2h3.6v3.6h-3.6zM3515.7 603.7h3.6v3.6h-3.6zM3515.7 621.2h3.6v3.6h-3.6zM3515.7 659.7h3.6v3.6h-3.6zM3515.7 691.2h3.6v3.6h-3.6zM3519.2 547.7h3.6v3.6h-3.6zM3519.2 561.7h3.6v3.6h-3.6zM3519.2 572.2h3.6v3.6h-3.6zM3519.2 575.7h3.6v3.6h-3.6zM3519.2 593.2h3.6v3.6h-3.6zM3519.2 603.7h3.6v3.6h-3.6zM3519.2 621.2h3.6v3.6h-3.6zM3519.2 631.7h3.6v3.6h-3.6zM3519.2 642.2h3.6v3.6h-3.6zM3519.2 743.7h3.6v3.6h-3.6zM3522.7 568.7h3.6v3.6h-3.6zM3522.7 579.2h3.6v3.6h-3.6zM3522.7 582.7h3.6v3.6h-3.6zM3522.7 593.2h3.6v3.6h-3.6zM3522.7 603.7h3.6v3.6h-3.6zM3522.7 614.2h3.6v3.6h-3.6zM3522.7 624.7h3.6v3.6h-3.6zM3526.2 537.2h3.6v3.6h-3.6zM3526.2 540.7h3.6v3.6h-3.6zM3526.2 582.7h3.6v3.6h-3.6zM3526.2 747.2h3.6v3.6h-3.6zM3526.2 764.7h3.6v3.6h-3.6zM3526.2 792.7h3.6v3.6h-3.6zM3529.7 533.7h3.6v3.6h-3.6zM3533.2 659.7h3.6v3.6h-3.6zM3536.7 530.2h3.6v3.6h-3.6zM3536.7 554.7h3.6v3.6h-3.6zM3536.7 579.2h3.6v3.6h-3.6zM3540.2 547.7h3.6v3.6h-3.6zM3540.2 621.2h3.6v3.6h-3.6zM3540.2 635.2h3.6v3.6h-3.6zM3543.7 561.7h3.6v3.6h-3.6zM3543.7 575.7h3.6v3.6h-3.6zM3547.2 568.7h3.6v3.6h-3.6zM3568.2 607.2h3.6v3.6h-3.6z" fill="#a9549b"/>
<path d="M2987.2 624.7h3.6v3.6h-3.6zM3001.2 729.7h3.6v3.6h-3.6zM3004.7 670.2h3.6v3.6h-3.6zM3032.7 628.2h3.6v3.6h-3.6zM3046.7 586.2h3.6v3.6h-3.6zM3057.2 761.2h3.6v3.6h-3.6zM3060.7 712.2h3.6v3.6h-3.6zM3064.2 684.2h3.6v3.6h-3.6zM3071.2 698.2h3.6v3.6h-3.6zM3074.7 659.7h3.6v3.6h-3.6zM3081.7 666.7h3.6v3.6h-3.6zM3095.7 586.2h3.6v3.6h-3.6zM3095.7 610.7h3.6v3.6h-3.6zM3099.2 715.7h3.6v3.6h-3.6zM3099.2 719.2h3.6v3.6h-3.6zM3099.2 733.2h3.6v3.6h-3.6zM3106.2 820.7h3.6v3.6h-3.6zM3109.7 593.2h3.6v3.6h-3.6zM3109.7 712.2h3.6v3.6h-3.6zM3113.2 677.2h3.6v3.6h-3.6zM3113.2 698.2h3.6v3.6h-3.6zM3116.7 677.2h3.6v3.6h-3.6zM3116.7 705.2h3.6v3.6h-3.6zM3120.2 617.7h3.6v3.6h-3.6zM3123.7 824.2h3.6v3.6h-3.6zM3127.2 621.2h3.6v3.6h-3.6zM3134.2 680.7h3.6v3.6h-3.6zM3137.7 624.7h3.6v3.6h-3.6zM3137.7 663.2h3.6v3.6h-3.6zM3141.2 628.2h3.6v3.6h-3.6zM3144.7 603.7h3.6v3.6h-3.6zM3144.7 610.7h3.6v3.6h-3.6zM3144.7 656.2h3.6v3.6h-3.6zM3144.7 691.2h3.6v3.6h-3.6zM3144.7 729.7h3.6v3.6h-3.6zM3148.2 631.7h3.6v3.6h-3.6zM3148.2 677.2h3.6v3.6h-3.6zM3151.7 614.2h3.6v3.6h-3.6zM3151.7 698.2h3.6v3.6h-3.6zM3151.7 715.7h3.6v3.6h-3.6zM3155.2 593.2h3.6v3.6h-3.6zM3155.2 680.7h3.6v3.6h-3.6zM3155.2 687.7h3.6v3.6h-3.6zM3155.2 698.2h3.6v3.6h-3.6zM3155.2 722.7h3.6v3.6h-3.6zM3158.7 558.2h3.6v3.6h-3.6zM3158.7 628.2h3.6v3.6h-3.6zM3158.7 687.7h3.6v3.6h-3.6zM3162.2 614.2h3.6v3.6h-3.6zM3162.2 617.7h3.6v3.6h-3.6zM3162.2 708.7h3.6v3.6h-3.6zM3165.7 572.2h3.6v3.6h-3.6zM3165.7 638.7h3.6v3.6h-3.6zM3165.7 659.7h3.6v3.6h-3.6zM3165.7 687.7h3.6v3.6h-3.6zM3169.2 638.7h3.6v3.6h-3.6zM3169.2 726.2h3.6v3.6h-3.6zM3172.7 645.7h3.6v3.6h-3.6zM3176.2 659.7h3.6v3.6h-3.6zM3176.2 663.2h3.6v3.6h-3.6zM3176.2 694.7h3.6v3.6h-3.6zM3179.7 572.2h3.6v3.6h-3.6zM3179.7 603.7h3.6v3.6h-3.6zM3179.7 621.2h3.6v3.6h-3.6zM3179.7 628.2h3.6v3.6h-3.6zM3183.2 603.7h3.6v3.6h-3.6zM3183.2 607.2h3.6v3.6h-3.6zM3183.2 621.2h3.6v3.6h-3.6zM3183.2 635.2h3.6v3.6h-3.6zM3183.2 642.2h3.6v3.6h-3.6zM3183.2 680.7h3.6v3.6h-3.6zM3183.2 694.7h3.6v3.6h-3.6zM3183.2 722.7h3.6v3.6h-3.6zM3186.7 659.7h3.6v3.6h-3.6zM3186.7 677.2h3.6v3.6h-3.6zM3186.7 698.2h3.6v3.6h-3.6zM3190.2 610.7h3.6v3.6h-3.6zM3190.2 624.7h3.6v3.6h-3.6zM3190.2 691.2h3.6v3.6h-3.6zM3190.2 733.2h3.6v3.6h-3.6zM3193.7 642.2h3.6v3.6h-3.6zM3193.7 656.2h3.6v3.6h-3.6zM3193.7 698.2h3.6v3.6h-3.6zM3193.7 708.7h3.6v3.6h-3.6zM3197.2 582.7h3.6v3.6h-3.6zM3197.2 596.7h3.6v3.6h-3.6zM3197.2 628.2h3.6v3.6h-3.6zM3197.2 680.7h3.6v3.6h-3.6zM3197.2 775.2h3.6v3.6h-3.6zM3200.7 621.2h3.6v3.6h-3.6zM3200.7 642.2h3.6v3.6h-3.6zM3200.7 666.7h3.6v3.6h-3.6zM3200.7 677.2h3.6v3.6h-3.6zM3204.2 582.7h3.6v3.6h-3.6zM3204.2 631.7h3.6v3.6h-3.6zM3204.2 642.2h3.6v3.6h-3.6zM3204.2 645.7h3.6v3.6h-3.6zM3204.2 656.2h3.6v3.6h-3.6zM3204.2 659.7h3.6v3.6h-3.6zM3204.2 670.2h3.6v3.6h-3.6zM3204.2 698.2h3.6v3.6h-3.6zM3207.7 603.7h3.6v3.6h-3.6zM3207.7 617.7h3.6v3.6h-3.6zM3207.7 635.2h3.6v3.6h-3.6zM3207.7 694.7h3.6v3.6h-3.6zM3207.7 698.2h3.6v3.6h-3.6zM3207.7 712.2h3.6v3.6h-3.6zM3207.7 722.7h3.6v3.6h-3.6zM3211.2 589.7h3.6v3.6h-3.6zM3211.2 687.7h3.6v3.6h-3.6zM3211.2 691.2h3.6v3.6h-3.6zM3211.2 712.2h3.6v3.6h-3.6zM3214.7 582.7h3.6v3.6h-3.6zM3214.7 586.2h3.6v3.6h-3.6zM3214.7 652.7h3.6v3.6h-3.6zM3214.7 673.7h3.6v3.6h-3.6zM3214.7 680.7h3.6v3.6h-3.6zM3214.7 705.2h3.6v3.6h-3.6zM3218.2 614.2h3.6v3.6h-3.6zM3218.2 621.2h3.6v3.6h-3.6zM3218.2 624.7h3.6v3.6h-3.6zM3218.2 642.2h3.6v3.6h-3.6zM3218.2 666.7h3.6v3.6h-3.6zM3218.2 677.2h3.6v3.6h-3.6zM3218.2 687.7h3.6v3.6h-3.6zM3218.2 694.7h3.6v3.6h-3.6zM3218.2 726.2h3.6v3.6h-3.6zM3221.7 572.2h3.6v3.6h-3.6zM3221.7 610.7h3.6v3.6h-3.6zM3221.7 652.7h3.6v3.6h-3.6zM3221.7 656.2h3.6v3.6h-3.6zM3221.7 659.7h3.6v3.6h-3.6zM3221.7 666.7h3.6v3.6h-3.6zM3221.7 726.2h3.6v3.6h-3.6zM3225.2 614.2h3.6v3.6h-3.6zM3225.2 638.7h3.6v3.6h-3.6zM3225.2 642.2h3.6v3.6h-3.6zM3225.2 670.2h3.6v3.6h-3.6zM3225.2 673.7h3.6v3.6h-3.6zM3225.2 694.7h3.6v3.6h-3.6zM3225.2 705.2h3.6v3.6h-3.6zM3225.2 768.2h3.6v3.6h-3.6zM3228.7 582.7h3.6v3.6h-3.6zM3228.7 596.7h3.6v3.6h-3.6zM3228.7 614.2h3.6v3.6h-3.6zM3228.7 645.7h3.6v3.6h-3.6zM3228.7 656.2h3.6v3.6h-3.6zM3228.7 659.7h3.6v3.6h-3.6zM3228.7 663.2h3.6v3.6h-3.6zM3228.7 691.2h3.6v3.6h-3.6zM3228.7 694.7h3.6v3.6h-3.6zM3228.7 715.7h3.6v3.6h-3.6zM3232.2 572.2h3.6v3.6h-3.6zM3232.2 621.2h3.6v3.6h-3.6zM3232.2 631.7h3.6v3.6h-3.6zM3232.2 656.2h3.6v3.6h-3.6zM3232.2 673.7h3.6v3.6h-3.6zM3232.2 684.2h3.6v3.6h-3.6zM3232.2 726.2h3.6v3.6h-3.6zM3235.7 582.7h3.6v3.6h-3.6zM3235.7 614.2h3.6v3.6h-3.6zM3235.7 649.2h3.6v3.6h-3.6zM3235.7 652.7h3.6v3.6h-3.6zM3235.7 659.7h3.6v3.6h-3.6zM3235.7 670.2h3.6v3.6h-3.6zM3235.7 712.2h3.6v3.6h-3.6zM3235.7 719.2h3.6v3.6h-3.6zM3239.2 561.7h3.6v3.6h-3.6zM3239.2 586.2h3.6v3.6h-3.6zM3239.2 617.7h3.6v3.6h-3.6zM3239.2 631.7h3.6v3.6h-3.6zM3239.2 638.7h3.6v3.6h-3.6zM3239.2 673.7h3.6v3.6h-3.6zM3239.2 677.2h3.6v3.6h-3.6zM3239.2 684.2h3.6v3.6h-3.6zM3239.2 698.2h3.6v3.6h-3.6zM3242.7 558.2h3.6v3.6h-3.6zM3242.7 572.2h3.6v3.6h-3.6zM3242.7 607.2h3.6v3.6h-3.6zM3242.7 631.7h3.6v3.6h-3.6zM3242.7 635.2h3.6v3.6h-3.6zM3242.7 649.2h3.6v3.6h-3.6zM3242.7 652.7h3.6v3.6h-3.6zM3242.7 659.7h3.6v3.6h-3.6zM3242.7 666.7h3.6v3.6h-3.6zM3242.7 687.7h3.6v3.6h-3.6zM3242.7 705.2h3.6v3.6h-3.6zM3242.7 719.2h3.6v3.6h-3.6zM3246.2 561.7h3.6v3.6h-3.6zM3246.2 600.2h3.6v3.6h-3.6zM3246.2 603.7h3.6v3.6h-3.6zM3246.2 610.7h3.6v3.6h-3.6zM3246.2 652.7h3.6v3.6h-3.6zM3246.2 659.7h3.6v3.6h-3.6zM3246.2 677.2h3.6v3.6h-3.6zM3246.2 729.7h3.6v3.6h-3.6zM3249.7 582.7h3.6v3.6h-3.6zM3249.7 628.2h3.6v3.6h-3.6zM3249.7 645.7h3.6v3.6h-3.6zM3249.7 663.2h3.6v3.6h-3.6zM3249.7 680.7h3.6v3.6h-3.6zM3249.7 684.2h3.6v3.6h-3.6zM3249.7 701.7h3.6v3.6h-3.6zM3249.7 736.7h3.6v3.6h-3.6zM3249.7 747.2h3.6v3.6h-3.6zM3249.7 806.7h3.6v3.6h-3.6zM3253.2 593.2h3.6v3.6h-3.6zM3253.2 600.2h3.6v3.6h-3.6zM3253.2 624.7h3.6v3.6h-3.6zM3253.2 631.7h3.6v3.6h-3.6zM3253.2 638.7h3.6v3.6h-3.6zM3253.2 652.7h3.6v3.6h-3.6zM3253.2 659.7h3.6v3.6h-3.6zM3253.2 663.2h3.6v3.6h-3.6zM3253.2 673.7h3.6v3.6h-3.6zM3253.2 677.2h3.6v3.6h-3.6zM3253.2 684.2h3.6v3.6h-3.6zM3253.2 694.7h3.6v3.6h-3.6zM3253.2 708.7h3.6v3.6h-3.6zM3253.2 722.7h3.6v3.6h-3.6zM3253.2 726.2h3.6v3.6h-3.6zM3253.2 820.7h3.6v3.6h-3.6zM3256.7 586.2h3.6v3.6h-3.6zM3256.7 596.7h3.6v3.6h-3.6zM3256.7 659.7h3.6v3.6h-3.6zM3256.7 666.7h3.6v3.6h-3.6zM3256.7 677.2h3.6v3.6h-3.6zM3498.2 372.7h3.6v3.6h-3.6zM3519.2 369.2h3.6v3.6h-3.6zM3540.2 330.7h3.6v3.6h-3.6zM3561.2 316.7h3.6v3.6h-3.6z" fill="#e61e1e"/>
<path d="M3001.2 498.7h3.6v3.6h-3.6zM3123.7 502.2h3.6v3.6h-3.6zM3155.2 512.7h3.6v3.6h-3.6zM3165.7 481.2h3.6v3.6h-3.6zM3169.2 547.7h3.6v3.6h-3.6zM3190.2 523.2h3.6v3.6h-3.6zM3200.7 526.7h3.6v3.6h-3.6zM3204.2 540.7h3.6v3.6h-3.6zM3221.7 512.7h3.6v3.6h-3.6zM3242.7 477.7h3.6v3.6h-3.6zM3291.7 495.2h3.6v3.6h-3.6zM3393.2 414.7h3.6v3.6h-3.6z" fill="#0a3291"/>
<clipPath id="clipa"><rect x="215.5" y="0" width="1400" height="912.0"/></clipPath>
<path d="M215.0 438.5 L253.6 337.7 L470.0 237.7 L800.6 387.4 L615.0 534.0 L485.0 576.0 L457.0 575.5 L400.0 568.5 L310.0 550.0 L215.0 499.0" stroke="#1c2a84" stroke-width="2.8" fill="none" stroke-linejoin="round" clip-path="url(#clipa)"/>
<path d="M200.0 680.0 L355.5 569.6 L379.0 570.4 L470.4 581.6 L505.5 596.7 L588.4 629.3 L616.5 735.5 L479.4 930.0" stroke="#e61e1e" stroke-width="2.8" fill="none" stroke-linejoin="round" clip-path="url(#clipa)"/>
<path d="M749.6 930.0 L665.5 864.4 L622.5 770.6 L608.4 641.7 L646.3 519.6 L782.1 410.6 L1032.7 444.1 L1113.1 667.5 L974.0 808.1 L760.0 930.0" stroke="#a9549b" stroke-width="2.8" fill="none" stroke-linejoin="round" clip-path="url(#clipa)"/>
<clipPath id="clipb"><rect x="1497.5" y="0" width="1400" height="920.0"/></clipPath>
<path d="M1497.7 439.5 L1538.7 338.7 L1769.1 238.7 L2121.1 388.4 L1923.5 535.0 L1785.1 577.0 L1755.3 576.5 L1694.6 569.5 L1598.8 551.0 L1497.7 500.0" stroke="#1c2a84" stroke-width="2.8" fill="none" stroke-linejoin="round" clip-path="url(#clipb)"/>
<path d="M1481.7 681.0 L1647.2 570.6 L1672.3 571.4 L1769.6 582.6 L1806.9 597.7 L1895.2 630.3 L1925.1 736.5 L1779.2 931.0" stroke="#e61e1e" stroke-width="2.8" fill="none" stroke-linejoin="round" clip-path="url(#clipb)"/>
<path d="M2066.8 931.0 L1977.3 865.4 L1931.5 771.6 L1916.5 642.7 L1956.9 520.6 L2101.4 411.6 L2368.2 445.1 L2453.8 668.5 L2305.7 809.1 L2077.9 931.0" stroke="#a9549b" stroke-width="2.8" fill="none" stroke-linejoin="round" clip-path="url(#clipb)"/>
<clipPath id="clipc"><rect x="2815.5" y="0" width="1400" height="920.0"/></clipPath>
<path d="M2833.0 438.5 L2874.1 337.7 L3104.8 237.7 L3457.3 387.4 L3259.4 534.0 L3120.8 576.0 L3091.0 575.5 L3030.2 568.5 L2934.2 550.0 L2833.0 499.0" stroke="#1c2a84" stroke-width="2.8" fill="none" stroke-linejoin="round" clip-path="url(#clipc)"/>
<path d="M2831.5 446V497" stroke="#1c2a84" stroke-width="2.8"/>
<path d="M2817.0 680.0 L2982.8 569.6 L3007.8 570.4 L3105.2 581.6 L3142.7 596.7 L3231.0 629.3 L3261.0 735.5 L3114.8 930.0" stroke="#e61e1e" stroke-width="2.8" fill="none" stroke-linejoin="round" clip-path="url(#clipc)"/>
<path d="M3402.9 930.0 L3313.2 864.4 L3267.4 770.6 L3252.4 641.7 L3292.8 519.6 L3437.5 410.6 L3704.7 444.1 L3790.4 667.5 L3642.1 808.1 L3414.0 930.0" stroke="#a9549b" stroke-width="2.8" fill="none" stroke-linejoin="round" clip-path="url(#clipc)"/>
<rect x="245" y="500" width="88" height="58" fill="#fff" fill-opacity="0.72"/>
<text transform="translate(233.11,209.70) scale(1.0242,1)" font-size="56.8" fill="#231815" stroke-width="0.7">P3(0.00%)</text>
<text transform="translate(484.51,405.40) scale(1.0255,1)" font-size="56.8" fill="#231815" stroke-width="0.7">P2(0.00%)</text>
<text transform="translate(201.52,550.70) scale(1.0224,1)" font-size="56.8" fill="#231815" stroke-width="0.7">P4(28.68%)</text>
<rect x="1500" y="508" width="138" height="46" fill="#fff" fill-opacity="0.72"/>
<text transform="translate(1506.81,213.60) scale(1.0243,1)" font-size="56.8" fill="#231815" stroke-width="0.7">P3(43.95%)</text>
<text transform="translate(1786.01,396.70) scale(1.0267,1)" font-size="56.8" fill="#231815" stroke-width="0.7">P2(0.00%)</text>
<text transform="translate(1481.73,553.00) scale(1.0147,1)" font-size="56.8" fill="#231815" stroke-width="0.7">P4(4.20%)</text>
<rect x="2855" y="503" width="105" height="54" fill="#fff" fill-opacity="0.72"/>
<text transform="translate(2838.41,224.50) scale(1.0238,1)" font-size="56.8" fill="#231815" stroke-width="0.7">P3(0.16%)</text>
<text transform="translate(3104.22,396.70) scale(1.0213,1)" font-size="56.8" fill="#231815" stroke-width="0.7">P2(93.29%)</text>
<text transform="translate(2835.51,553.00) scale(1.0271,1)" font-size="56.8" fill="#231815" stroke-width="0.7">P4(1.38%)</text>
<text transform="translate(243.76,992.80) scale(1.0530,1)" font-size="56.5" fill="#231815" stroke-width="0.7">10</text>
<text transform="translate(302.51,973.80) scale(1.0000,1)" font-size="34.0" fill="#231815" stroke-width="0.7">1</text>
<text transform="translate(376.76,992.80) scale(1.0530,1)" font-size="56.5" fill="#231815" stroke-width="0.7">10</text>
<text transform="translate(437.00,973.80) scale(1.0000,1)" font-size="34.0" fill="#231815" stroke-width="0.7">2</text>
<text transform="translate(521.56,992.80) scale(1.0530,1)" font-size="56.5" fill="#231815" stroke-width="0.7">10</text>
<text transform="translate(581.67,973.80) scale(1.0000,1)" font-size="34.0" fill="#231815" stroke-width="0.7">3</text>
<text transform="translate(671.26,992.80) scale(1.0530,1)" font-size="56.5" fill="#231815" stroke-width="0.7">10</text>
<text transform="translate(732.32,973.80) scale(1.0000,1)" font-size="34.0" fill="#231815" stroke-width="0.7">4</text>
<text transform="translate(813.16,992.80) scale(1.0530,1)" font-size="56.5" fill="#231815" stroke-width="0.7">10</text>
<text transform="translate(872.93,973.80) scale(1.0000,1)" font-size="34.0" fill="#231815" stroke-width="0.7">5</text>
<text transform="translate(956.06,992.80) scale(1.0530,1)" font-size="56.5" fill="#231815" stroke-width="0.7">10</text>
<text transform="translate(1016.34,973.80) scale(1.0000,1)" font-size="34.0" fill="#231815" stroke-width="0.7">6</text>
<text transform="translate(1097.76,992.80) scale(1.0530,1)" font-size="56.5" fill="#231815" stroke-width="0.7">10</text>
<text transform="translate(1157.26,973.80) scale(1.0000,1)" font-size="34.0" fill="#231815" stroke-width="0.7">7</text>
<text transform="translate(1507.16,992.80) scale(1.0530,1)" font-size="56.5" fill="#231815" stroke-width="0.7">10</text>
<text transform="translate(1565.91,973.80) scale(1.0000,1)" font-size="34.0" fill="#231815" stroke-width="0.7">1</text>
<text transform="translate(1654.16,992.80) scale(1.0530,1)" font-size="56.5" fill="#231815" stroke-width="0.7">10</text>
<text transform="translate(1714.40,973.80) scale(1.0000,1)" font-size="34.0" fill="#231815" stroke-width="0.7">2</text>
<text transform="translate(1816.16,992.80) scale(1.0530,1)" font-size="56.5" fill="#231815" stroke-width="0.7">10</text>
<text transform="translate(1876.27,973.80) scale(1.0000,1)" font-size="34.0" fill="#231815" stroke-width="0.7">3</text>
<text transform="translate(1965.76,992.80) scale(1.0530,1)" font-size="56.5" fill="#231815" stroke-width="0.7">10</text>
<text transform="translate(2026.82,973.80) scale(1.0000,1)" font-size="34.0" fill="#231815" stroke-width="0.7">4</text>
<text transform="translate(2117.56,992.80) scale(1.0530,1)" font-size="56.5" fill="#231815" stroke-width="0.7">10</text>
<text transform="translate(2177.33,973.80) scale(1.0000,1)" font-size="34.0" fill="#231815" stroke-width="0.7">5</text>
<text transform="translate(2274.96,992.80) scale(1.0530,1)" font-size="56.5" fill="#231815" stroke-width="0.7">10</text>
<text transform="translate(2335.24,973.80) scale(1.0000,1)" font-size="34.0" fill="#231815" stroke-width="0.7">6</text>
<text transform="translate(2426.56,992.80) scale(1.0530,1)" font-size="56.5" fill="#231815" stroke-width="0.7">10</text>
<text transform="translate(2486.06,973.80) scale(1.0000,1)" font-size="34.0" fill="#231815" stroke-width="0.7">7</text>
<text transform="translate(2815.36,992.80) scale(1.0530,1)" font-size="56.5" fill="#231815" stroke-width="0.7">10</text>
<text transform="translate(2874.11,973.80) scale(1.0000,1)" font-size="34.0" fill="#231815" stroke-width="0.7">1</text>
<text transform="translate(2962.46,992.80) scale(1.0530,1)" font-size="56.5" fill="#231815" stroke-width="0.7">10</text>
<text transform="translate(3022.70,973.80) scale(1.0000,1)" font-size="34.0" fill="#231815" stroke-width="0.7">2</text>
<text transform="translate(3124.56,992.80) scale(1.0530,1)" font-size="56.5" fill="#231815" stroke-width="0.7">10</text>
<text transform="translate(3184.67,973.80) scale(1.0000,1)" font-size="34.0" fill="#231815" stroke-width="0.7">3</text>
<text transform="translate(3273.26,992.80) scale(1.0530,1)" font-size="56.5" fill="#231815" stroke-width="0.7">10</text>
<text transform="translate(3334.32,973.80) scale(1.0000,1)" font-size="34.0" fill="#231815" stroke-width="0.7">4</text>
<text transform="translate(3426.56,992.80) scale(1.0530,1)" font-size="56.5" fill="#231815" stroke-width="0.7">10</text>
<text transform="translate(3486.33,973.80) scale(1.0000,1)" font-size="34.0" fill="#231815" stroke-width="0.7">5</text>
<text transform="translate(3583.06,992.80) scale(1.0530,1)" font-size="56.5" fill="#231815" stroke-width="0.7">10</text>
<text transform="translate(3643.34,973.80) scale(1.0000,1)" font-size="34.0" fill="#231815" stroke-width="0.7">6</text>
<text transform="translate(3735.36,992.80) scale(1.0530,1)" font-size="56.5" fill="#231815" stroke-width="0.7">10</text>
<text transform="translate(3794.86,973.80) scale(1.0000,1)" font-size="34.0" fill="#231815" stroke-width="0.7">7</text>
<text transform="translate(91.76,88.00) scale(1.0530,1)" font-size="56.5" fill="#231815" stroke-width="0.7">10</text>
<text transform="translate(151.26,69.00) scale(1.0000,1)" font-size="34.0" fill="#231815" stroke-width="0.7">7</text>
<text transform="translate(91.76,205.50) scale(1.0530,1)" font-size="56.5" fill="#231815" stroke-width="0.7">10</text>
<text transform="translate(152.04,186.50) scale(1.0000,1)" font-size="34.0" fill="#231815" stroke-width="0.7">6</text>
<text transform="translate(91.76,335.70) scale(1.0530,1)" font-size="56.5" fill="#231815" stroke-width="0.7">10</text>
<text transform="translate(151.53,316.70) scale(1.0000,1)" font-size="34.0" fill="#231815" stroke-width="0.7">5</text>
<text transform="translate(91.76,467.50) scale(1.0530,1)" font-size="56.5" fill="#231815" stroke-width="0.7">10</text>
<text transform="translate(152.82,448.50) scale(1.0000,1)" font-size="34.0" fill="#231815" stroke-width="0.7">4</text>
<text transform="translate(91.76,594.00) scale(1.0530,1)" font-size="56.5" fill="#231815" stroke-width="0.7">10</text>
<text transform="translate(151.87,575.00) scale(1.0000,1)" font-size="34.0" fill="#231815" stroke-width="0.7">3</text>
<text transform="translate(91.76,723.70) scale(1.0530,1)" font-size="56.5" fill="#231815" stroke-width="0.7">10</text>
<text transform="translate(152.00,704.70) scale(1.0000,1)" font-size="34.0" fill="#231815" stroke-width="0.7">2</text>
<text transform="translate(91.76,844.50) scale(1.0530,1)" font-size="56.5" fill="#231815" stroke-width="0.7">10</text>
<text transform="translate(150.51,825.50) scale(1.0000,1)" font-size="34.0" fill="#231815" stroke-width="0.7">1</text>
<text transform="translate(1376.76,88.70) scale(1.0530,1)" font-size="56.5" fill="#231815" stroke-width="0.7">10</text>
<text transform="translate(1436.26,69.70) scale(1.0000,1)" font-size="34.0" fill="#231815" stroke-width="0.7">7</text>
<text transform="translate(1376.76,209.30) scale(1.0530,1)" font-size="56.5" fill="#231815" stroke-width="0.7">10</text>
<text transform="translate(1437.04,190.30) scale(1.0000,1)" font-size="34.0" fill="#231815" stroke-width="0.7">6</text>
<text transform="translate(1376.76,339.10) scale(1.0530,1)" font-size="56.5" fill="#231815" stroke-width="0.7">10</text>
<text transform="translate(1436.53,320.10) scale(1.0000,1)" font-size="34.0" fill="#231815" stroke-width="0.7">5</text>
<text transform="translate(1376.76,473.70) scale(1.0530,1)" font-size="56.5" fill="#231815" stroke-width="0.7">10</text>
<text transform="translate(1437.82,454.70) scale(1.0000,1)" font-size="34.0" fill="#231815" stroke-width="0.7">4</text>
<text transform="translate(1376.76,601.20) scale(1.0530,1)" font-size="56.5" fill="#231815" stroke-width="0.7">10</text>
<text transform="translate(1436.87,582.20) scale(1.0000,1)" font-size="34.0" fill="#231815" stroke-width="0.7">3</text>
<text transform="translate(1376.76,727.30) scale(1.0530,1)" font-size="56.5" fill="#231815" stroke-width="0.7">10</text>
<text transform="translate(1437.00,708.30) scale(1.0000,1)" font-size="34.0" fill="#231815" stroke-width="0.7">2</text>
<text transform="translate(1376.76,846.20) scale(1.0530,1)" font-size="56.5" fill="#231815" stroke-width="0.7">10</text>
<text transform="translate(1435.51,827.20) scale(1.0000,1)" font-size="34.0" fill="#231815" stroke-width="0.7">1</text>
<text transform="translate(2714.96,79.70) scale(1.0530,1)" font-size="56.5" fill="#231815" stroke-width="0.7">10</text>
<text transform="translate(2774.46,60.70) scale(1.0000,1)" font-size="34.0" fill="#231815" stroke-width="0.7">7</text>
<text transform="translate(2714.96,209.60) scale(1.0530,1)" font-size="56.5" fill="#231815" stroke-width="0.7">10</text>
<text transform="translate(2775.24,190.60) scale(1.0000,1)" font-size="34.0" fill="#231815" stroke-width="0.7">6</text>
<text transform="translate(2714.96,333.60) scale(1.0530,1)" font-size="56.5" fill="#231815" stroke-width="0.7">10</text>
<text transform="translate(2774.73,314.60) scale(1.0000,1)" font-size="34.0" fill="#231815" stroke-width="0.7">5</text>
<text transform="translate(2714.96,463.00) scale(1.0530,1)" font-size="56.5" fill="#231815" stroke-width="0.7">10</text>
<text transform="translate(2776.02,444.00) scale(1.0000,1)" font-size="34.0" fill="#231815" stroke-width="0.7">4</text>
<text transform="translate(2714.96,595.80) scale(1.0530,1)" font-size="56.5" fill="#231815" stroke-width="0.7">10</text>
<text transform="translate(2775.07,576.80) scale(1.0000,1)" font-size="34.0" fill="#231815" stroke-width="0.7">3</text>
<text transform="translate(2714.96,725.70) scale(1.0530,1)" font-size="56.5" fill="#231815" stroke-width="0.7">10</text>
<text transform="translate(2775.20,706.70) scale(1.0000,1)" font-size="34.0" fill="#231815" stroke-width="0.7">2</text>
<text transform="translate(2714.96,849.00) scale(1.0530,1)" font-size="56.5" fill="#231815" stroke-width="0.7">10</text>
<text transform="translate(2773.71,830.00) scale(1.0000,1)" font-size="34.0" fill="#231815" stroke-width="0.7">1</text>
<text transform="translate(59.90,557.88) rotate(-90) scale(0.9813,1)" font-size="58.9" fill="#231815" stroke-width="1.2">ECD-A</text>
<text transform="translate(1329.10,557.88) rotate(-90) scale(0.9813,1)" font-size="58.9" fill="#231815" stroke-width="1.2">ECD-A</text>
<text transform="translate(2678.90,557.88) rotate(-90) scale(0.9813,1)" font-size="58.9" fill="#231815" stroke-width="1.2">ECD-A</text>
<text transform="translate(583.22,1066.90) scale(0.9853,1)" font-size="58.9" fill="#231815" stroke-width="1.2">FITC-A</text>
<text transform="translate(1915.82,1066.90) scale(0.9832,1)" font-size="58.9" fill="#231815" stroke-width="1.2">FITC-A</text>
<text transform="translate(3254.22,1066.90) scale(0.9858,1)" font-size="58.9" fill="#231815" stroke-width="1.2">FITC-A</text>
</svg>
</body></html>
